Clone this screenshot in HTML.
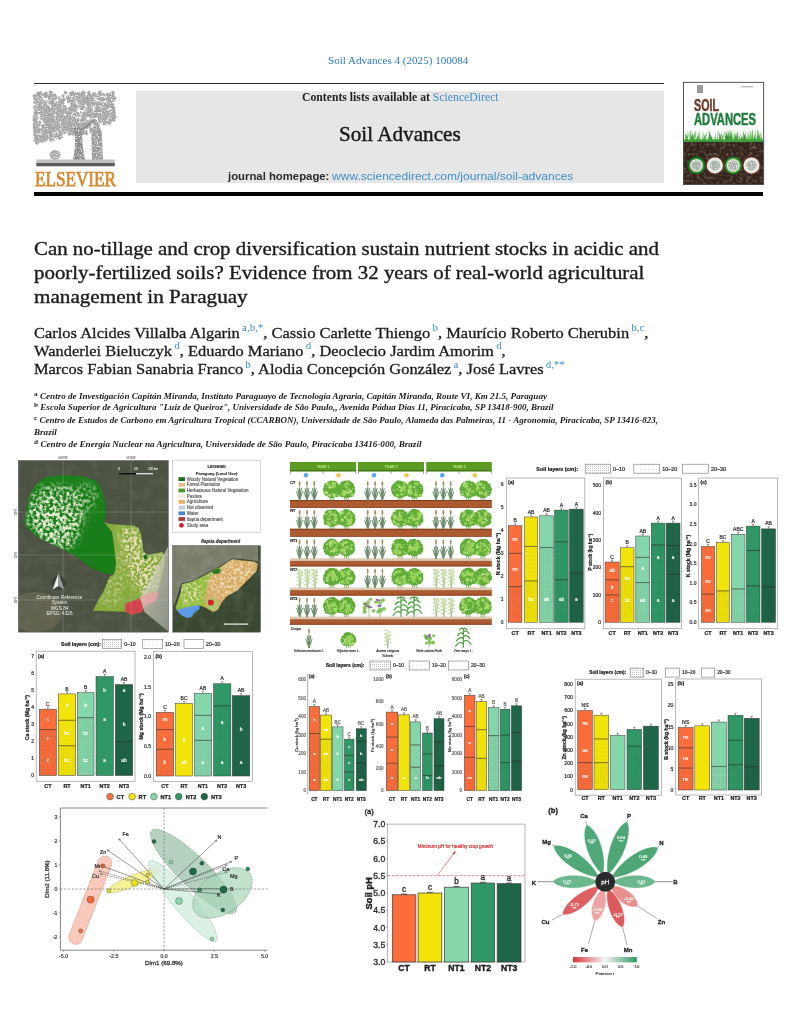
<!DOCTYPE html>
<html><head><meta charset="utf-8"><title>Soil Advances</title><style>
*{margin:0;padding:0;box-sizing:border-box}
html,body{width:791px;height:1024px;background:#fff;overflow:hidden}
body{position:relative;font-family:"Liberation Serif",serif}
.abs{position:absolute;white-space:nowrap;line-height:1}
.sv{font-family:"Liberation Serif",serif}
.ss{font-family:"Liberation Sans",sans-serif}
.ttl{font-size:18.2px;color:#1c1c1c;-webkit-text-stroke:0.35px #1c1c1c}
.au{font-size:14.8px;color:#1c1c1c;-webkit-text-stroke:0.3px #1c1c1c}
.au sup{-webkit-text-stroke:0;font-size:9.8px;color:#3d8fc9;vertical-align:0;position:relative;top:-6.5px;margin-left:2px}
.af{font-size:7.6px;font-style:italic;color:#1a1a1a;font-weight:bold}
.af sup{font-size:6px;font-style:normal;position:relative;top:-3px;vertical-align:0;margin-right:2px}
</style></head>
<body>
<div class="abs sv" id="sa" style="left:327.6px;top:54.5px;font-size:11px;color:#2b7bb5;transform:scaleX(1.0077);transform-origin:0 0;">Soil Advances 4 (2025) 100084</div>
<div class="abs" style="left:34px;top:82.5px;width:630px;height:1.3px;background:#2a2a2a;"></div>
<div class="abs" style="left:136px;top:91px;width:528px;height:92px;background:#e6e6e6;"></div>
<div class="abs sv" id="contents" style="left:301.8px;top:92px;font-size:11.6px;color:#222;transform:scaleX(1.0107);transform-origin:0 0;"><b>Contents lists available at</b> <span style="color:#3d8fc9">ScienceDirect</span></div>
<div class="abs sv" id="jt" style="left:338.7px;top:124px;font-size:21px;color:#1a1a1a;-webkit-text-stroke:0.45px #1a1a1a;transform:scaleX(1.0079);transform-origin:0 0;">Soil Advances</div>
<div class="abs ss" id="jh1" style="left:227.6px;top:171.3px;font-size:11.2px;color:#2a2a2a;font-weight:bold;transform:scaleX(1.0132);transform-origin:0 0;">journal homepage:</div>
<div class="abs ss" id="jh2" style="left:332px;top:171.3px;font-size:11.2px;color:#3d8fc9;transform:scaleX(1.0754);transform-origin:0 0;">www.sciencedirect.com/journal/soil-advances</div>
<div class="abs" style="left:34px;top:192px;width:729px;height:4px;background:#000;"></div>
<div class="abs sv" id="els" style="left:35px;top:168.5px;font-size:20px;color:#d68a30;-webkit-text-stroke:0.75px #d68a30;transform:scaleX(0.8577);transform-origin:0 0;">ELSEVIER</div>
<div class="abs sv ttl" id="t0" style="left:34px;top:239.5px;transform:scaleX(1.1479);transform-origin:0 0;">Can no-tillage and crop diversification sustain nutrient stocks in acidic and</div>
<div class="abs sv ttl" id="t1" style="left:34px;top:263.9px;transform:scaleX(1.1489);transform-origin:0 0;">poorly-fertilized soils? Evidence from 32 years of real-world agricultural</div>
<div class="abs sv ttl" id="t2" style="left:34px;top:288.3px;transform:scaleX(1.1624);transform-origin:0 0;">management in Paraguay</div>
<div class="abs sv au" id="a0" style="left:34px;top:325.5px;transform:scaleX(1.1126);transform-origin:0 0;">Carlos Alcides Villalba Algarin<sup>a,b,*</sup>, Cassio Carlette Thiengo<sup>b</sup>, Maurício Roberto Cherubin<sup>b,c</sup>,</div>
<div class="abs sv au" id="a1" style="left:34px;top:343.8px;transform:scaleX(1.1118);transform-origin:0 0;">Wanderlei Bieluczyk<sup>d</sup>, Eduardo Mariano<sup>d</sup>, Deoclecio Jardim Amorim<sup>d</sup>,</div>
<div class="abs sv au" id="a2" style="left:34px;top:362.1px;transform:scaleX(1.1089);transform-origin:0 0;">Marcos Fabian Sanabria Franco<sup>b</sup>, Alodia Concepción González<sup>a</sup>, José Lavres<sup>d,**</sup></div>
<div class="abs sv af" id="f0" style="left:34px;top:392.7px;transform:scaleX(1.1984);transform-origin:0 0;"><sup>a</sup>Centro de Investigación Capitán Miranda, Instituto Paraguayo de Tecnología Agraria, Capitán Miranda, Route VI, Km 21.5, Paraguay</div>
<div class="abs sv af" id="f1" style="left:34px;top:404.2px;transform:scaleX(1.1882);transform-origin:0 0;"><sup>b</sup>Escola Superior de Agricultura "Luiz de Queiroz", Universidade de São Paulo,, Avenida Pádua Dias 11, Piracicaba, SP 13418-900, Brazil</div>
<div class="abs sv af" id="f2" style="left:34px;top:417.1px;transform:scaleX(1.1859);transform-origin:0 0;"><sup>c</sup>Centro de Estudos de Carbono em Agricultura Tropical (CCARBON), Universidade de São Paulo, Alameda das Palmeiras, 11 - Agronomia, Piracicaba, SP 13416-823,</div>
<div class="abs sv af" id="f3" style="left:34px;top:428.8px;transform:scaleX(1.2000);transform-origin:0 0;">Brazil</div>
<div class="abs sv af" id="f4" style="left:34px;top:440.5px;transform:scaleX(1.2029);transform-origin:0 0;"><sup>d</sup>Centro de Energia Nuclear na Agricultura, Universidade de São Paulo, Piracicaba 13416-000, Brazil</div>
<svg class="abs" style="left:0;top:0" width="791" height="200" viewBox="0 0 791 200"><defs>
<filter id="engr" x="0" y="0" width="1" height="1">
 <feTurbulence type="fractalNoise" baseFrequency="0.9" numOctaves="2" seed="12" result="n"/>
 <feColorMatrix in="n" type="matrix" values="0 0 0 0 0.35  0 0 0 0 0.35  0 0 0 0 0.35  0 0 0 4 -1.7" result="c"/>
 <feComposite in="c" in2="SourceGraphic" operator="in"/>
</filter>
<filter id="engrW" x="0" y="0" width="1" height="1">
 <feTurbulence type="fractalNoise" baseFrequency="0.8" numOctaves="2" seed="21" result="n"/>
 <feColorMatrix in="n" type="matrix" values="0 0 0 0 1  0 0 0 0 1  0 0 0 0 1  0 0 0 4 -2.1" result="c"/>
 <feComposite in="c" in2="SourceGraphic" operator="in"/>
</filter>
<filter id="soiltex" x="0" y="0" width="1" height="1">
 <feTurbulence type="fractalNoise" baseFrequency="0.3" numOctaves="2" seed="3" result="n"/>
 <feColorMatrix in="n" type="matrix" values="0 0 0 0 0.33  0 0 0 0 0.22  0 0 0 0 0.18  0 0 0 1.6 -0.75" result="c"/>
 <feComposite in="c" in2="SourceGraphic" operator="in"/>
</filter>
</defs><g fill="#a9a9a9"><circle cx="46.69" cy="129.63" r="1.76"/><circle cx="72.77" cy="103.1" r="1.95"/><circle cx="100.05" cy="119.7" r="1.61"/><circle cx="63.8" cy="123.78" r="1.08"/><circle cx="98.88" cy="104.01" r="1.28"/><circle cx="84.12" cy="92.91" r="1.39"/><circle cx="74.3" cy="97.49" r="2.14"/><circle cx="63.58" cy="99.67" r="1.98"/><circle cx="70.61" cy="121.91" r="1.41"/><circle cx="73.23" cy="101.47" r="1.04"/><circle cx="104.87" cy="104.15" r="1.94"/><circle cx="96.31" cy="123.52" r="1.88"/><circle cx="43.17" cy="117.67" r="1.99"/><circle cx="106.67" cy="113.94" r="1.44"/><circle cx="70.46" cy="112.6" r="2.19"/><circle cx="65.09" cy="92.5" r="1.11"/><circle cx="74.17" cy="118.53" r="1.66"/><circle cx="95.1" cy="103.43" r="1.73"/><circle cx="79.19" cy="125.87" r="1.22"/><circle cx="47.12" cy="110.5" r="2.11"/><circle cx="61.77" cy="124.45" r="1.37"/><circle cx="41.57" cy="94.68" r="1.98"/><circle cx="97.49" cy="111.99" r="1.82"/><circle cx="112.54" cy="113.79" r="2.19"/><circle cx="106.3" cy="118.49" r="1.45"/><circle cx="53.52" cy="140.06" r="1.19"/><circle cx="38.75" cy="136.1" r="1.93"/><circle cx="37.33" cy="105.45" r="1.35"/><circle cx="67.82" cy="100.56" r="1.08"/><circle cx="72.75" cy="105.12" r="2.15"/><circle cx="76.63" cy="131.8" r="1.03"/><circle cx="50.6" cy="137.94" r="1.95"/><circle cx="68.36" cy="123.54" r="2.02"/><circle cx="58.56" cy="120.92" r="1.33"/><circle cx="34.95" cy="124.25" r="1.77"/><circle cx="103.69" cy="123.72" r="1.31"/><circle cx="108.17" cy="98.48" r="1.11"/><circle cx="40.8" cy="92.42" r="1.54"/><circle cx="44.69" cy="139.57" r="1.79"/><circle cx="43.5" cy="121.16" r="1.39"/><circle cx="73.99" cy="103.3" r="1.2"/><circle cx="48.27" cy="112.16" r="1.85"/><circle cx="78.65" cy="93.59" r="1.85"/><circle cx="71.5" cy="94.56" r="1.92"/><circle cx="47.55" cy="130.84" r="1.3"/><circle cx="90.83" cy="108.56" r="1.05"/><circle cx="65.28" cy="108.33" r="2.08"/><circle cx="57.49" cy="119.17" r="1.66"/><circle cx="111.7" cy="96.52" r="1.72"/><circle cx="75.18" cy="132.14" r="2.16"/><circle cx="58.74" cy="130.17" r="1.63"/><circle cx="79.54" cy="94.57" r="1.98"/><circle cx="114.08" cy="110.89" r="1.38"/><circle cx="39.32" cy="95.11" r="1.98"/><circle cx="96.07" cy="116.09" r="1.75"/><circle cx="34.64" cy="127.1" r="1.53"/><circle cx="75.95" cy="112.81" r="1.48"/><circle cx="51.72" cy="93.73" r="1.52"/><circle cx="53.51" cy="130.43" r="1.98"/><circle cx="93.07" cy="116.54" r="1.28"/><circle cx="64.99" cy="118.26" r="1.76"/><circle cx="112.94" cy="95.78" r="1.58"/><circle cx="73.83" cy="131.16" r="2.07"/><circle cx="97.7" cy="126.1" r="1.91"/><circle cx="91.02" cy="129.25" r="1.29"/><circle cx="109.08" cy="112.61" r="1.74"/><circle cx="58.95" cy="108.46" r="1.47"/><circle cx="45.07" cy="121.98" r="1.1"/><circle cx="94.62" cy="116.89" r="1.13"/><circle cx="50.08" cy="109.78" r="1.77"/><circle cx="89.58" cy="105.61" r="2.14"/><circle cx="59.74" cy="105.24" r="2.01"/><circle cx="45.73" cy="129.15" r="1.24"/><circle cx="82.63" cy="106.54" r="1.45"/><circle cx="111.08" cy="117.15" r="1.52"/><circle cx="84.22" cy="106.72" r="1.21"/><circle cx="64.92" cy="106.25" r="1.23"/><circle cx="112.75" cy="92.93" r="1.97"/><circle cx="34.58" cy="119.07" r="1.05"/><circle cx="83.45" cy="130.22" r="1.29"/><circle cx="40.85" cy="108.3" r="1.54"/><circle cx="107.24" cy="111.72" r="1.16"/><circle cx="76.94" cy="93.75" r="1.23"/><circle cx="66.45" cy="121.91" r="1.27"/><circle cx="34.46" cy="123.6" r="1.1"/><circle cx="96.02" cy="101.54" r="1.07"/><circle cx="84.48" cy="117.38" r="1.96"/><circle cx="61.05" cy="106.1" r="1.42"/><circle cx="57.73" cy="126.12" r="2.07"/><circle cx="38.89" cy="94.79" r="1.61"/><circle cx="89.27" cy="101.63" r="1.32"/><circle cx="37.88" cy="93.08" r="1.59"/><circle cx="89.5" cy="127.58" r="1.19"/><circle cx="77.7" cy="113.87" r="1.83"/><circle cx="93.41" cy="120.38" r="1.09"/><circle cx="101.66" cy="102.97" r="1.05"/><circle cx="62.24" cy="120.82" r="1.75"/><circle cx="47.45" cy="130.74" r="1.59"/><circle cx="46.45" cy="138.65" r="1.97"/><circle cx="51.04" cy="134.55" r="2.08"/><circle cx="113.52" cy="112.85" r="2.13"/><circle cx="83.93" cy="125" r="1.91"/><circle cx="86.69" cy="100.04" r="2.12"/><circle cx="63.08" cy="95.64" r="1.49"/><circle cx="47.8" cy="121.23" r="1.98"/><circle cx="63.06" cy="98.34" r="1.03"/><circle cx="68.1" cy="123.5" r="1.03"/><circle cx="88.23" cy="102.81" r="1.13"/><circle cx="110" cy="120.29" r="2.07"/><circle cx="75.66" cy="97.88" r="1.29"/><circle cx="68.21" cy="126.89" r="1.93"/><circle cx="95.36" cy="127.44" r="1.3"/><circle cx="68.7" cy="112.17" r="1.59"/><circle cx="55.04" cy="121.12" r="1.55"/><circle cx="35.95" cy="137.08" r="1.7"/><circle cx="99.63" cy="132.25" r="1.88"/><circle cx="88.14" cy="123.56" r="1.69"/><circle cx="51.86" cy="132.11" r="1.97"/><circle cx="73.08" cy="94.08" r="1.44"/><circle cx="101.59" cy="118.99" r="1.55"/><circle cx="65.32" cy="126.19" r="1.72"/><circle cx="95.36" cy="112" r="1.3"/><circle cx="110.04" cy="102.13" r="2.02"/><circle cx="106.92" cy="95.32" r="1.37"/><circle cx="85.59" cy="99.18" r="2"/><circle cx="54.98" cy="129.21" r="1.35"/><circle cx="51.11" cy="102.59" r="1.6"/><circle cx="92.18" cy="103.2" r="1.82"/><circle cx="60.81" cy="127.36" r="1.44"/><circle cx="49.04" cy="98.9" r="1.07"/><circle cx="90.8" cy="114.17" r="1.15"/><circle cx="34.76" cy="131.59" r="1.71"/><circle cx="69.83" cy="119.04" r="2.15"/><circle cx="64.03" cy="126.63" r="1.76"/><circle cx="63.36" cy="110.4" r="1.91"/><circle cx="85.77" cy="116.59" r="1.62"/><circle cx="51.55" cy="135.21" r="1.02"/><circle cx="86.38" cy="116.48" r="1.27"/><circle cx="81.7" cy="123.65" r="1.1"/><circle cx="73.68" cy="100.24" r="1.96"/><circle cx="60.14" cy="109.39" r="1.26"/><circle cx="36.99" cy="101.45" r="1.18"/><circle cx="51.34" cy="97.26" r="1.64"/><circle cx="42.6" cy="113.69" r="1.91"/><circle cx="49.86" cy="130.18" r="1.65"/><circle cx="40.05" cy="104.58" r="1.72"/><circle cx="40.99" cy="102.41" r="1.69"/><circle cx="100.9" cy="120.14" r="1.8"/><circle cx="35.85" cy="118.91" r="2.07"/><circle cx="97.02" cy="123.46" r="1.22"/><circle cx="109.88" cy="95.47" r="2.16"/><circle cx="97.43" cy="131.3" r="1.64"/><circle cx="46.61" cy="110.09" r="1.8"/><circle cx="87.45" cy="112.8" r="1.96"/><circle cx="37.43" cy="107.09" r="1.11"/><circle cx="59.96" cy="135.4" r="1.9"/><circle cx="45.4" cy="108.27" r="1.13"/><circle cx="87.94" cy="115.78" r="1.28"/><circle cx="68.29" cy="129.69" r="1.75"/><circle cx="72.31" cy="122.16" r="1.44"/><circle cx="49.46" cy="118.69" r="1.37"/><circle cx="60.4" cy="101.45" r="2.1"/><circle cx="68.32" cy="102.21" r="1.04"/><circle cx="50.78" cy="139.63" r="1.4"/><circle cx="88.37" cy="103.91" r="1.78"/><circle cx="70.37" cy="132.24" r="1.63"/><circle cx="64.16" cy="106.69" r="1.71"/><circle cx="72.85" cy="109.4" r="2.07"/><circle cx="103.24" cy="99.16" r="1.82"/><circle cx="97.08" cy="128.84" r="2.16"/><circle cx="105.96" cy="104.78" r="2.2"/><circle cx="60.19" cy="112.27" r="2.17"/><circle cx="46.88" cy="113.14" r="1.75"/><circle cx="55.65" cy="105.95" r="1.95"/><circle cx="83.84" cy="132.66" r="1.95"/><circle cx="74.44" cy="130.29" r="1.62"/><circle cx="68.74" cy="128.19" r="1.35"/><circle cx="43.75" cy="112.63" r="1.16"/><circle cx="70.71" cy="133.75" r="1.06"/><circle cx="85.85" cy="97.23" r="1.61"/><circle cx="57.55" cy="115.97" r="1.85"/><circle cx="67.31" cy="112.94" r="1.87"/><circle cx="42.62" cy="110.54" r="1.84"/><circle cx="54.34" cy="126.01" r="1.38"/><circle cx="44.21" cy="110.32" r="2.12"/><circle cx="62.25" cy="126.4" r="1.98"/><circle cx="56.13" cy="134.87" r="1"/><circle cx="61.26" cy="100.35" r="1.42"/><circle cx="50.69" cy="92.42" r="1.96"/><circle cx="47.4" cy="123.1" r="1.67"/><circle cx="84.6" cy="100.46" r="1.91"/><circle cx="58.59" cy="105.15" r="1.26"/><circle cx="93.53" cy="104.67" r="1.39"/><circle cx="58.25" cy="115.27" r="2.05"/><circle cx="71.26" cy="129.8" r="1.94"/><circle cx="48.51" cy="125.49" r="2.18"/><circle cx="40.03" cy="131.02" r="1.58"/><circle cx="108.46" cy="100.35" r="1.66"/><circle cx="43.01" cy="136.05" r="1.87"/><circle cx="35.59" cy="108.34" r="1.17"/><circle cx="85.74" cy="126.28" r="1.08"/><circle cx="69.58" cy="123.15" r="1.44"/><circle cx="83.31" cy="113.31" r="1.53"/><circle cx="95.23" cy="101.44" r="1.36"/><circle cx="96.38" cy="103.6" r="1.08"/><circle cx="108.66" cy="99.93" r="1.49"/><circle cx="59.02" cy="105.65" r="1.42"/><circle cx="77.6" cy="97.5" r="1.64"/><circle cx="37.24" cy="95.42" r="1.24"/><circle cx="52.94" cy="110.13" r="1.35"/><circle cx="89.93" cy="108.66" r="1.74"/><circle cx="94.87" cy="120.92" r="1.9"/><circle cx="54.92" cy="128.61" r="2.17"/><circle cx="40.86" cy="131.52" r="1.32"/><circle cx="95.27" cy="114.71" r="1.64"/><circle cx="53.63" cy="105.39" r="2.04"/><circle cx="86.4" cy="126.21" r="1.14"/><circle cx="49.87" cy="121.12" r="1.84"/><circle cx="75.37" cy="122.04" r="2.16"/><circle cx="97.86" cy="104.27" r="1.52"/><circle cx="67.83" cy="129.29" r="1.81"/><circle cx="54.66" cy="129.77" r="1.52"/><circle cx="34.27" cy="107.34" r="1.45"/><circle cx="49.34" cy="128.56" r="2.19"/><circle cx="104.15" cy="118.53" r="1.7"/><circle cx="107.18" cy="94.34" r="1.43"/><circle cx="64.05" cy="110.1" r="1.51"/><circle cx="37.74" cy="129.03" r="2.15"/><circle cx="52.44" cy="101.4" r="1.4"/><circle cx="99.11" cy="103.68" r="1.93"/><circle cx="47.33" cy="124.32" r="1.87"/><circle cx="88.93" cy="95.73" r="2.15"/><circle cx="103.38" cy="117.94" r="2.03"/><circle cx="82.88" cy="100.44" r="1.48"/><circle cx="101.12" cy="116.97" r="1.05"/><circle cx="46.76" cy="101.43" r="1.7"/><circle cx="86.44" cy="116.08" r="1.48"/><circle cx="112.91" cy="110.2" r="1.81"/><circle cx="49.98" cy="119.79" r="1.22"/><circle cx="42.41" cy="109.86" r="1.14"/><circle cx="64.64" cy="127.56" r="1.66"/><circle cx="99.04" cy="117.73" r="1.1"/><circle cx="93.37" cy="113.51" r="1.9"/><circle cx="113.96" cy="120.36" r="1.3"/><circle cx="62.7" cy="118.92" r="1.38"/><circle cx="41.42" cy="113.31" r="1.79"/><circle cx="67.15" cy="127.08" r="1.06"/><circle cx="98.9" cy="130.65" r="1.32"/><circle cx="72.2" cy="106.22" r="1.95"/><circle cx="64.55" cy="110.18" r="2.13"/><circle cx="108.07" cy="101.62" r="1.43"/><circle cx="98.42" cy="133.36" r="1.34"/><circle cx="40.49" cy="106.35" r="1.8"/><circle cx="113.7" cy="109.45" r="1.27"/><circle cx="54.54" cy="134.82" r="1.17"/><circle cx="49.69" cy="126.21" r="1.64"/><circle cx="113.2" cy="119.75" r="1.59"/><circle cx="45.05" cy="136.01" r="1.48"/><circle cx="73.94" cy="114.3" r="1.27"/><circle cx="55.93" cy="102.54" r="1.2"/><circle cx="93.6" cy="93.88" r="1.72"/><circle cx="82.62" cy="132.19" r="1.68"/><circle cx="109.96" cy="106.75" r="1.11"/><circle cx="81.35" cy="106.08" r="2.19"/><circle cx="102.19" cy="104.69" r="1.58"/><circle cx="64.78" cy="110.33" r="1.45"/><circle cx="72.65" cy="127.62" r="1.03"/><circle cx="77.76" cy="98.16" r="2.16"/><circle cx="78.8" cy="123.99" r="1.38"/><circle cx="91.58" cy="130.76" r="2.09"/><circle cx="81.2" cy="106.11" r="1.75"/><circle cx="37.18" cy="132.67" r="1.37"/><circle cx="92.71" cy="98.39" r="1.72"/><circle cx="47.03" cy="93.05" r="1.32"/><circle cx="103.42" cy="112.76" r="1.63"/><circle cx="54.51" cy="129.87" r="1.94"/><circle cx="98.89" cy="110.42" r="1.57"/><circle cx="98.07" cy="105.05" r="1.58"/><circle cx="53.23" cy="128.26" r="1.26"/><circle cx="46.02" cy="117.71" r="1.78"/><circle cx="46.64" cy="120.7" r="1.58"/><circle cx="44.94" cy="105.59" r="1.05"/><circle cx="86.42" cy="127.83" r="1.27"/><circle cx="103.83" cy="108.57" r="2.04"/><circle cx="43.81" cy="110.48" r="1.5"/><circle cx="112.27" cy="107.73" r="1.46"/><circle cx="50.2" cy="136.89" r="1.22"/><circle cx="103.36" cy="110.09" r="1.66"/><circle cx="105.76" cy="105.93" r="1.63"/><circle cx="85.78" cy="123.35" r="1.49"/><circle cx="86.61" cy="108.62" r="1.19"/><circle cx="46.01" cy="128.68" r="1.54"/><circle cx="76.08" cy="115.4" r="1.77"/><circle cx="45.27" cy="139.88" r="1.62"/><circle cx="36.52" cy="117.96" r="2.13"/><circle cx="114.24" cy="114.87" r="1.32"/><circle cx="110.72" cy="106.93" r="1.02"/><circle cx="53.51" cy="117.36" r="1.81"/><circle cx="38.55" cy="109.72" r="1.87"/><circle cx="61.58" cy="100.84" r="1.85"/><circle cx="69.23" cy="129.92" r="1.58"/><circle cx="100.43" cy="119.68" r="2.17"/><circle cx="73.7" cy="125.14" r="1.45"/><circle cx="39.34" cy="140.54" r="1.97"/><circle cx="39.7" cy="112.19" r="1.69"/><circle cx="100.93" cy="120.16" r="1.95"/><circle cx="64.02" cy="128.91" r="1.96"/><circle cx="82.82" cy="92.17" r="1.79"/><circle cx="42.52" cy="133.75" r="1.2"/><circle cx="92.69" cy="95.05" r="1.25"/><circle cx="38.94" cy="125.4" r="1.48"/><circle cx="84.62" cy="95.33" r="1.02"/><circle cx="39.53" cy="140.9" r="1.59"/><circle cx="83.84" cy="98.47" r="1.82"/><circle cx="107.79" cy="102.08" r="1.94"/><circle cx="79.96" cy="127.12" r="1.41"/><circle cx="97.81" cy="108.39" r="1.75"/><circle cx="98.34" cy="96.37" r="1.21"/><circle cx="62.65" cy="113.19" r="1.86"/><circle cx="54.55" cy="122.3" r="1.54"/><circle cx="58.33" cy="126.97" r="1.52"/><circle cx="114.31" cy="98.24" r="2.08"/><circle cx="85.88" cy="116.7" r="1.09"/><circle cx="62.04" cy="130.9" r="1.64"/><circle cx="40.49" cy="139.12" r="1.37"/><circle cx="72.86" cy="133.64" r="2.05"/><circle cx="103.87" cy="111.58" r="2.02"/><circle cx="45.68" cy="121.89" r="1.52"/><circle cx="61.86" cy="115.87" r="1.12"/><circle cx="62.11" cy="102.17" r="1.88"/><circle cx="82.82" cy="115.99" r="1.14"/><circle cx="70.07" cy="122.57" r="1.17"/><circle cx="114.06" cy="111.21" r="1.52"/><circle cx="56.67" cy="111.89" r="1.33"/><circle cx="103.89" cy="95.01" r="1.44"/><circle cx="82.6" cy="117.85" r="1.39"/><circle cx="73.18" cy="94.5" r="1.37"/><circle cx="69.12" cy="133.93" r="1.52"/><circle cx="67.47" cy="127.63" r="1.33"/><circle cx="78.67" cy="101.91" r="1.74"/><circle cx="77.74" cy="127.63" r="2.05"/><circle cx="69.92" cy="111.53" r="1.55"/><circle cx="99.82" cy="107.87" r="1.14"/><circle cx="49.91" cy="128.64" r="1.84"/><circle cx="36.46" cy="117.06" r="1.12"/><circle cx="100.64" cy="120.65" r="1.73"/><circle cx="109.95" cy="97.99" r="1.26"/><circle cx="98.31" cy="125.01" r="1.53"/><circle cx="62.56" cy="125.69" r="2.13"/><circle cx="114.21" cy="98.37" r="1.03"/><circle cx="101.82" cy="104.84" r="1.63"/><circle cx="69.74" cy="98.54" r="1.25"/><circle cx="63.86" cy="131.73" r="1.68"/><circle cx="104.22" cy="118.41" r="1.04"/><circle cx="70.07" cy="111.11" r="1.43"/><circle cx="51.97" cy="119.04" r="2.15"/><circle cx="82.03" cy="133.99" r="1.22"/><circle cx="63.67" cy="123.49" r="1.46"/><circle cx="43.71" cy="127.9" r="2.18"/><circle cx="57.03" cy="106.1" r="1.4"/><circle cx="45.01" cy="104.72" r="2.08"/><circle cx="55.98" cy="128.36" r="1.87"/><circle cx="90.66" cy="117.16" r="1.12"/><circle cx="76.74" cy="97.15" r="1.39"/><circle cx="35.92" cy="119.84" r="1.56"/><circle cx="56.61" cy="103.39" r="1.08"/><circle cx="35.31" cy="98.1" r="2.18"/><circle cx="35.75" cy="131.12" r="1.55"/><circle cx="81.77" cy="108.07" r="2.18"/><circle cx="100.04" cy="113.66" r="1.52"/><circle cx="109.19" cy="99.75" r="2.05"/><circle cx="84.39" cy="122.75" r="1.64"/><circle cx="82.04" cy="96.08" r="1.3"/><circle cx="62.35" cy="103.4" r="1.1"/><circle cx="92.16" cy="114.59" r="1.89"/><circle cx="53.27" cy="119.69" r="1.51"/><circle cx="98.66" cy="98.33" r="1.66"/><circle cx="70.66" cy="125.97" r="1.28"/><circle cx="113.24" cy="116.09" r="1.1"/><circle cx="97.73" cy="97.47" r="1.72"/><circle cx="45.31" cy="96.58" r="1.63"/><circle cx="57.74" cy="127.91" r="1.63"/><circle cx="83.4" cy="116.69" r="1.26"/><circle cx="88.32" cy="109.97" r="1.72"/><circle cx="61.48" cy="136.56" r="1.66"/><circle cx="95.63" cy="102.37" r="1.4"/><circle cx="40.09" cy="109.77" r="1.19"/><circle cx="57.88" cy="135.46" r="1.14"/><circle cx="97.02" cy="104.34" r="1.35"/><circle cx="70.97" cy="125.65" r="2.11"/><circle cx="34.69" cy="95.82" r="1.99"/><circle cx="34.87" cy="141.05" r="1.22"/><circle cx="114.03" cy="117.37" r="1.73"/><circle cx="67.42" cy="116.77" r="1.95"/><circle cx="54.27" cy="108.06" r="2.05"/><circle cx="61.54" cy="110.2" r="1.13"/><circle cx="102.1" cy="93.72" r="1.22"/><circle cx="35" cy="116.61" r="2.19"/><circle cx="38.85" cy="105.12" r="1.32"/><circle cx="91.21" cy="110.96" r="1.21"/><circle cx="46.7" cy="94.54" r="1.49"/><circle cx="110.57" cy="94.33" r="1.17"/><circle cx="86.58" cy="133.64" r="1.54"/><circle cx="36.74" cy="121.85" r="1.12"/><circle cx="39.13" cy="94.18" r="2.12"/><circle cx="41.53" cy="117.61" r="1.99"/><circle cx="49.66" cy="112.84" r="1.95"/><circle cx="79.86" cy="101.88" r="1.64"/><circle cx="112.89" cy="92.32" r="1.07"/><circle cx="112.87" cy="107.36" r="1.66"/><circle cx="105.82" cy="114.82" r="1.92"/><circle cx="45.83" cy="115.92" r="1.87"/><circle cx="71.85" cy="101.38" r="2.03"/><circle cx="59.11" cy="137.34" r="1.15"/><circle cx="85.09" cy="114.19" r="2.18"/><circle cx="51.47" cy="96" r="1.74"/><circle cx="44.12" cy="94.39" r="1.67"/><circle cx="111.38" cy="106.17" r="1.99"/><circle cx="39.75" cy="98.51" r="2.15"/><circle cx="113.11" cy="100.6" r="1.22"/><circle cx="92.12" cy="96.43" r="1.12"/><circle cx="46.28" cy="123.38" r="1.45"/><circle cx="102.93" cy="99.56" r="2.08"/><circle cx="98.35" cy="111.98" r="1.73"/><circle cx="89.17" cy="97.83" r="2.12"/><circle cx="69.55" cy="119.83" r="2.02"/><circle cx="34.74" cy="105.96" r="1.04"/><circle cx="94.13" cy="103.24" r="1.86"/><circle cx="47.96" cy="114.18" r="1.95"/><circle cx="69.88" cy="100.85" r="1.81"/><circle cx="98.94" cy="116.05" r="1.46"/><circle cx="43.97" cy="113.73" r="2.01"/><circle cx="62.69" cy="117.66" r="1.93"/><circle cx="68.04" cy="116.28" r="1.16"/><circle cx="48.82" cy="108.66" r="1.08"/><circle cx="70.67" cy="117.93" r="2.19"/><circle cx="49.63" cy="115.52" r="1.84"/><circle cx="39.15" cy="122.98" r="1.75"/><circle cx="35.24" cy="102.38" r="1.94"/><circle cx="46.43" cy="126.71" r="1.51"/><circle cx="101.12" cy="122.05" r="1.12"/><circle cx="54.91" cy="124.06" r="1.24"/><circle cx="93.78" cy="129.52" r="2.07"/><circle cx="82.27" cy="97.18" r="1.96"/><circle cx="76.12" cy="109.16" r="1.53"/><circle cx="79.6" cy="130.12" r="1.76"/><circle cx="104.53" cy="121.01" r="1.25"/><circle cx="46.12" cy="116.81" r="2.02"/><circle cx="80.89" cy="97.84" r="2.04"/><circle cx="93.68" cy="102.04" r="1.83"/><circle cx="104.68" cy="123.23" r="2.14"/><circle cx="72.32" cy="94.38" r="1.2"/><circle cx="37.09" cy="142.83" r="1.97"/><circle cx="70.64" cy="122.57" r="1.03"/><circle cx="46.3" cy="113.41" r="1.06"/><circle cx="59.48" cy="120.06" r="1.19"/><circle cx="47.75" cy="95.79" r="1.55"/><circle cx="102.48" cy="116.05" r="1.85"/><circle cx="99.06" cy="119.03" r="1.06"/><circle cx="47" cy="106.58" r="1.4"/><circle cx="82.71" cy="118.88" r="1.35"/><circle cx="46.91" cy="132.35" r="2.19"/><circle cx="91.24" cy="98.88" r="1.83"/><circle cx="99.36" cy="121.12" r="1.76"/><circle cx="104.55" cy="117.81" r="1.85"/><circle cx="47.04" cy="137.83" r="1.69"/><circle cx="48.86" cy="125.98" r="1.99"/><circle cx="69.98" cy="108.48" r="1.85"/><circle cx="58.71" cy="118.21" r="1.45"/><circle cx="44.8" cy="121.58" r="1.35"/><circle cx="49.84" cy="101.37" r="1.08"/><circle cx="91.59" cy="107.02" r="1.26"/><circle cx="110.35" cy="120.52" r="1.26"/><circle cx="96.48" cy="103.2" r="1.08"/><circle cx="64.04" cy="132.37" r="1.76"/><circle cx="67.06" cy="98.04" r="1.21"/><circle cx="82.85" cy="118.68" r="1.65"/><circle cx="94.64" cy="123.1" r="2.04"/><circle cx="109.34" cy="120.07" r="1.43"/><circle cx="74.84" cy="104.98" r="1.21"/><circle cx="92.78" cy="115.72" r="1.03"/><circle cx="65.6" cy="109" r="1.07"/><circle cx="34.87" cy="125.37" r="1.97"/><circle cx="51.73" cy="126.73" r="1.32"/><circle cx="52.15" cy="109.41" r="1.16"/><circle cx="90.42" cy="132.56" r="1.13"/><circle cx="89.46" cy="102.21" r="1.61"/><circle cx="81.48" cy="120.41" r="1.78"/><circle cx="40.17" cy="111.76" r="1.86"/><circle cx="82.13" cy="108.71" r="1.01"/><circle cx="36.66" cy="140.96" r="1.33"/><circle cx="38.9" cy="107.33" r="1.25"/><circle cx="78.11" cy="93.75" r="1.65"/><circle cx="86.68" cy="121.02" r="1.72"/><circle cx="53.05" cy="112.91" r="1.9"/><circle cx="56.68" cy="137.26" r="1.23"/><circle cx="88.07" cy="106.45" r="1.44"/><circle cx="56.4" cy="133.08" r="1.44"/><circle cx="101.95" cy="120.7" r="1.34"/><circle cx="90.06" cy="115.4" r="1.06"/><circle cx="70.35" cy="101.44" r="1.09"/><circle cx="88.53" cy="115.29" r="1.7"/><circle cx="65.13" cy="122.55" r="1.31"/><circle cx="69.88" cy="122.14" r="1.45"/><circle cx="109.83" cy="97" r="2.09"/><circle cx="51.13" cy="97.22" r="1.5"/><circle cx="86.69" cy="97.45" r="1.77"/><circle cx="101.69" cy="99.87" r="1.4"/><circle cx="53.5" cy="111.73" r="2.06"/><circle cx="79.63" cy="125.06" r="2.17"/><circle cx="70.32" cy="97.6" r="1.12"/><circle cx="45.07" cy="117.66" r="1.11"/><circle cx="90.48" cy="101.84" r="1.05"/><circle cx="92.77" cy="116.92" r="1.91"/><circle cx="80.91" cy="112.37" r="1.08"/><circle cx="54.7" cy="95.6" r="1.76"/><circle cx="43.49" cy="101.32" r="1.56"/><circle cx="42.25" cy="118.11" r="1.98"/><circle cx="54.64" cy="136.79" r="1.31"/><circle cx="100.74" cy="95.27" r="1.14"/><circle cx="36.83" cy="123.47" r="1.03"/><circle cx="90.61" cy="114.4" r="2.09"/><circle cx="95.43" cy="111.97" r="1.93"/><circle cx="82.78" cy="124.21" r="1.51"/><circle cx="45.78" cy="120.27" r="1.62"/><circle cx="79.35" cy="96.52" r="1.68"/><circle cx="48.59" cy="118.76" r="1.58"/><circle cx="38.95" cy="140.1" r="2.12"/><circle cx="45.56" cy="95.55" r="1.56"/><circle cx="35.64" cy="97.99" r="1.61"/><circle cx="50.36" cy="124.62" r="1.25"/><circle cx="88.29" cy="125.95" r="1.09"/><circle cx="90.12" cy="108.87" r="1.5"/><circle cx="71.16" cy="93.74" r="1.76"/><circle cx="43.8" cy="138.92" r="1.12"/><circle cx="84.68" cy="122" r="1.04"/><circle cx="42.46" cy="118.77" r="1.47"/><circle cx="45.87" cy="96.67" r="1.28"/><circle cx="100.55" cy="98.67" r="1.91"/><circle cx="42.47" cy="136.74" r="1.93"/><circle cx="106.19" cy="112.86" r="2.17"/><circle cx="67.38" cy="126.33" r="1.99"/><circle cx="45.57" cy="93.55" r="1.83"/><circle cx="51.84" cy="103.28" r="1.59"/><circle cx="47.28" cy="106.15" r="1.24"/><circle cx="40.58" cy="136.67" r="2.01"/><circle cx="93.75" cy="115.62" r="2.11"/><circle cx="78.07" cy="122.05" r="1.03"/><circle cx="62.5" cy="103.14" r="1.79"/><circle cx="59.51" cy="137.61" r="1.1"/><circle cx="99.86" cy="93.41" r="2.16"/><circle cx="73.03" cy="127.83" r="1.48"/><circle cx="95.31" cy="121.12" r="1.55"/><circle cx="56.11" cy="105.43" r="2.19"/><circle cx="60.99" cy="111.6" r="1.66"/><circle cx="57.04" cy="116.54" r="1.33"/><circle cx="110.47" cy="105.97" r="1.93"/><circle cx="90.49" cy="126.04" r="1.59"/><circle cx="109.4" cy="122.56" r="2.13"/><circle cx="41.76" cy="111.06" r="1.16"/><circle cx="92.79" cy="116.7" r="1.38"/><circle cx="60.98" cy="118.12" r="1.37"/><circle cx="73.94" cy="125.87" r="1.02"/><circle cx="51.24" cy="120.38" r="1.79"/><circle cx="82.19" cy="132.04" r="1.52"/><circle cx="74.9" cy="122.95" r="1.97"/><circle cx="56.31" cy="106.82" r="1.6"/><circle cx="74.99" cy="93.9" r="1.6"/><circle cx="77.81" cy="130.22" r="1.45"/><circle cx="38.95" cy="137.07" r="1.65"/><circle cx="83.69" cy="125.33" r="2.17"/><circle cx="58.07" cy="122.94" r="1.88"/><circle cx="36.41" cy="135.61" r="1.05"/><circle cx="59.35" cy="110.75" r="1.96"/><circle cx="106.78" cy="122.05" r="1.67"/><circle cx="88.2" cy="92.48" r="1.45"/><circle cx="70.51" cy="93.72" r="1.37"/><circle cx="56.23" cy="98.2" r="1.23"/><circle cx="63.77" cy="128.04" r="2.02"/><circle cx="59.48" cy="135.05" r="1.86"/><circle cx="41.54" cy="102.19" r="2.05"/><circle cx="44.68" cy="126.09" r="1.7"/><circle cx="100.81" cy="98.64" r="1.87"/><circle cx="112.52" cy="95.62" r="1.56"/><circle cx="113.33" cy="107.95" r="1.41"/><circle cx="57.48" cy="111.98" r="1.52"/><circle cx="74.96" cy="105.4" r="1.6"/><circle cx="110.17" cy="110.54" r="1.3"/><circle cx="114.63" cy="108.03" r="1"/><circle cx="94.24" cy="127.99" r="1.47"/><circle cx="80.36" cy="125.32" r="1.5"/><circle cx="48.22" cy="107.47" r="1.87"/><circle cx="74.04" cy="120.21" r="1.79"/><circle cx="110.74" cy="97.65" r="1.11"/><circle cx="96.85" cy="103.15" r="1.68"/><circle cx="75.1" cy="128.52" r="1.77"/><circle cx="66.14" cy="124.86" r="2.12"/><circle cx="102.74" cy="116.56" r="1.88"/><circle cx="77.93" cy="119.68" r="1.73"/><circle cx="95.83" cy="111.86" r="1.76"/><circle cx="54.12" cy="95.42" r="1.09"/><circle cx="47.83" cy="113.73" r="1.16"/><circle cx="97.83" cy="129.42" r="1.46"/><circle cx="47.88" cy="114.27" r="2.05"/><circle cx="75.17" cy="110.06" r="2.08"/><circle cx="88.67" cy="94.16" r="1.08"/><circle cx="69.34" cy="120.71" r="1.16"/><circle cx="83.19" cy="113.9" r="1.43"/><circle cx="50.56" cy="124.12" r="2"/><circle cx="77.22" cy="124.94" r="1.67"/><circle cx="91.9" cy="130.03" r="1.01"/><circle cx="113.17" cy="118.56" r="1.06"/><circle cx="93.05" cy="133.58" r="1.44"/><circle cx="82.8" cy="93.22" r="1.89"/><circle cx="40.39" cy="109.12" r="1.27"/><circle cx="52.14" cy="96.11" r="1.78"/><circle cx="62.35" cy="118.96" r="1.63"/><circle cx="82.91" cy="131.81" r="1.52"/><circle cx="34.62" cy="108.71" r="1.01"/><circle cx="80.52" cy="129.71" r="1.68"/><circle cx="113.71" cy="100.36" r="1.69"/><circle cx="60.62" cy="116.66" r="1.26"/><circle cx="97.88" cy="109.65" r="1.32"/><circle cx="88.32" cy="102.27" r="1.16"/><circle cx="95.37" cy="95.72" r="1.95"/><circle cx="69.31" cy="120.78" r="1.03"/><circle cx="34.13" cy="120" r="1.77"/><circle cx="38.67" cy="139.99" r="2.12"/><circle cx="40.33" cy="137.4" r="1.74"/><circle cx="69.06" cy="115.47" r="1.66"/><circle cx="72.24" cy="116.71" r="1.21"/><circle cx="85.63" cy="124.52" r="1.54"/><circle cx="75.96" cy="128.06" r="1.97"/><circle cx="54.31" cy="126.22" r="1.34"/><circle cx="96.43" cy="108.09" r="2.15"/><circle cx="90.48" cy="120.57" r="1.68"/><circle cx="81.44" cy="105.97" r="1.03"/><circle cx="70.55" cy="107.47" r="1.56"/><circle cx="50.48" cy="102.57" r="2.18"/><circle cx="64.38" cy="132.92" r="1.17"/><circle cx="40.26" cy="129.7" r="1.52"/><circle cx="99.43" cy="92.2" r="1.59"/><circle cx="82.59" cy="103.41" r="1.86"/><circle cx="49.28" cy="97.07" r="1.19"/><circle cx="36.85" cy="113.61" r="1.94"/><circle cx="47.43" cy="106.88" r="1.4"/><circle cx="51.34" cy="139.7" r="2"/><circle cx="42.94" cy="127.93" r="2.09"/><circle cx="34.02" cy="113.51" r="1.03"/><circle cx="59.27" cy="97.89" r="1.55"/><circle cx="49.97" cy="132.12" r="1.46"/><circle cx="39.91" cy="121.98" r="1.55"/><circle cx="94.42" cy="132.69" r="1.3"/><circle cx="64.89" cy="131.35" r="2.16"/><circle cx="78.83" cy="125.18" r="1.4"/><circle cx="69.1" cy="108.75" r="1.6"/><circle cx="56.73" cy="109.03" r="1.03"/><circle cx="40.25" cy="139.53" r="1.42"/><circle cx="112.95" cy="104.75" r="1.44"/><circle cx="107.17" cy="115.91" r="1.81"/><circle cx="97.39" cy="112.69" r="1.24"/><circle cx="82.14" cy="97.22" r="1.69"/><circle cx="73.19" cy="96.66" r="1.02"/><circle cx="61.68" cy="111.85" r="2.05"/><circle cx="59.71" cy="138.77" r="1.46"/><circle cx="63.22" cy="123.36" r="1.05"/><circle cx="88.93" cy="94.45" r="1.71"/><circle cx="94.98" cy="94.39" r="1.78"/><circle cx="75.24" cy="110.53" r="1.94"/><circle cx="59.18" cy="101.76" r="1.5"/><circle cx="50.14" cy="113.25" r="1.94"/><circle cx="71.4" cy="109.95" r="1.18"/><circle cx="62.18" cy="120.71" r="1.94"/><circle cx="74.35" cy="133.49" r="1.56"/><circle cx="54.12" cy="130.07" r="2"/><circle cx="51.38" cy="139.15" r="1.07"/><circle cx="48.78" cy="112.11" r="2.09"/><circle cx="72.95" cy="110.34" r="1.29"/><circle cx="71.8" cy="122.35" r="1.72"/><circle cx="107.12" cy="97.92" r="1.86"/><circle cx="106.56" cy="108.84" r="1.54"/><circle cx="102.83" cy="99.93" r="1.54"/><circle cx="113.17" cy="113.29" r="1.52"/><circle cx="68.23" cy="117.91" r="1.92"/><circle cx="42.06" cy="116.79" r="1.51"/><circle cx="57.41" cy="108.84" r="2.19"/><circle cx="34.03" cy="130.09" r="1.02"/><circle cx="57.23" cy="127.19" r="1.81"/><circle cx="85.81" cy="103.53" r="1.48"/><circle cx="103.91" cy="106.53" r="1.64"/><circle cx="61.01" cy="132.22" r="2.07"/><circle cx="39.24" cy="131.64" r="1.56"/><circle cx="64.98" cy="126.98" r="1.97"/><circle cx="75.37" cy="129.74" r="2.1"/><circle cx="81.92" cy="94.94" r="1.48"/><circle cx="89.63" cy="92.18" r="1.13"/><circle cx="34.5" cy="134.71" r="1.73"/><circle cx="64.62" cy="127.16" r="1.11"/><circle cx="44.61" cy="129.45" r="1.82"/><circle cx="84.26" cy="115.45" r="1.24"/><circle cx="57.08" cy="114.33" r="1.61"/><circle cx="49.44" cy="96.83" r="2.12"/><circle cx="47.51" cy="107.46" r="1.32"/><circle cx="85.87" cy="126.37" r="1.72"/><circle cx="35.47" cy="128.22" r="2.14"/><circle cx="43.56" cy="130.96" r="2.19"/><circle cx="53.26" cy="107.2" r="2.17"/><circle cx="53.09" cy="99.57" r="1.81"/><circle cx="59.83" cy="125.83" r="1.3"/><circle cx="52.03" cy="123.96" r="1.52"/><circle cx="88.44" cy="122.11" r="1.29"/><circle cx="50.05" cy="95.44" r="1.09"/><circle cx="92.04" cy="109.53" r="1"/><circle cx="35.54" cy="138.92" r="1.75"/><circle cx="50.73" cy="135.2" r="2.07"/><circle cx="37.54" cy="101.28" r="1.81"/><circle cx="97.33" cy="105.89" r="1.58"/><circle cx="60.78" cy="112.45" r="2"/><circle cx="80.87" cy="126.44" r="2.09"/><circle cx="35.86" cy="111.7" r="2.16"/><circle cx="72.46" cy="92.74" r="1.8"/><circle cx="79.02" cy="131.7" r="1.67"/><circle cx="56.44" cy="112.02" r="1.16"/><circle cx="67.69" cy="119.47" r="1.16"/><circle cx="37.25" cy="126.42" r="1.77"/><circle cx="97.17" cy="117.1" r="1.1"/><circle cx="76.23" cy="107.57" r="2.09"/><circle cx="51" cy="136.31" r="1.77"/><circle cx="57.55" cy="124.41" r="1.08"/><circle cx="55.56" cy="130.57" r="1.05"/><circle cx="101.61" cy="108.69" r="1.43"/><circle cx="54.66" cy="94.59" r="1.1"/><circle cx="37.63" cy="103.22" r="1.4"/><circle cx="64.34" cy="117.98" r="2"/><circle cx="63.36" cy="117.24" r="1.96"/><circle cx="70.24" cy="131.5" r="2.16"/><circle cx="107.42" cy="106.58" r="2.01"/><circle cx="109.85" cy="104.11" r="1.18"/><circle cx="93.51" cy="128.14" r="1.25"/><circle cx="114.46" cy="117.05" r="2.18"/><circle cx="74.5" cy="131.34" r="1.16"/><circle cx="100.18" cy="115.76" r="1.26"/><circle cx="68.36" cy="127.94" r="2.07"/><circle cx="96.15" cy="111.94" r="1.21"/><circle cx="108.34" cy="115.39" r="2.15"/><circle cx="81.64" cy="102.21" r="1.58"/><circle cx="88.12" cy="97.18" r="1.45"/><circle cx="99.22" cy="103.08" r="1.02"/><circle cx="51.45" cy="115.35" r="1.34"/><circle cx="76.45" cy="106.12" r="1.52"/><circle cx="95.97" cy="115.68" r="1.66"/><circle cx="99.44" cy="102.59" r="1.43"/><circle cx="44.37" cy="116.5" r="1.37"/><circle cx="88.82" cy="111.33" r="1.78"/><circle cx="80.83" cy="124.02" r="1.52"/><circle cx="67.75" cy="98" r="1.78"/><circle cx="59.73" cy="106.91" r="2.08"/><circle cx="67.66" cy="97.04" r="1.75"/><circle cx="66.19" cy="112.57" r="1.73"/><circle cx="57.83" cy="136.54" r="2.01"/><circle cx="45.87" cy="120.75" r="2.04"/><circle cx="71.71" cy="104.38" r="1.71"/><circle cx="79.09" cy="101.76" r="1.67"/><circle cx="74.53" cy="102.79" r="1.12"/><circle cx="105.6" cy="106.81" r="2.05"/><circle cx="48.12" cy="129.81" r="1.05"/><circle cx="107.21" cy="98.88" r="1.74"/><circle cx="95.09" cy="123.96" r="2.06"/><circle cx="87.05" cy="97.23" r="1.05"/><circle cx="50.5" cy="97.64" r="1.46"/><circle cx="43.22" cy="107.49" r="2.02"/><circle cx="91.21" cy="106.83" r="1.14"/><circle cx="40.57" cy="108.44" r="1.08"/><circle cx="60.12" cy="137.52" r="1.07"/><circle cx="45.87" cy="93.86" r="1.64"/><circle cx="65.41" cy="120.24" r="1.34"/><circle cx="60.47" cy="126.89" r="1.46"/><circle cx="49.46" cy="109.86" r="1.05"/><circle cx="79.41" cy="106.04" r="1.57"/><circle cx="77.14" cy="99.11" r="1.65"/><circle cx="55.55" cy="97.11" r="1.27"/><circle cx="61.26" cy="131.19" r="1.06"/><circle cx="73.13" cy="123.42" r="2.02"/><circle cx="44.74" cy="134.7" r="1.41"/><circle cx="43.49" cy="128.65" r="1.86"/><circle cx="77.1" cy="129.8" r="1.15"/><circle cx="57.11" cy="113.16" r="1.22"/><circle cx="42.76" cy="111.59" r="1.77"/><circle cx="74.96" cy="120.07" r="1.62"/><circle cx="95.26" cy="132.28" r="1.4"/><circle cx="41.73" cy="98.69" r="1.43"/><circle cx="67.82" cy="130.13" r="1.12"/><circle cx="50.75" cy="132.59" r="2.02"/><circle cx="54.93" cy="122.08" r="1.66"/><circle cx="54.18" cy="118.79" r="1.07"/><circle cx="110.84" cy="104.68" r="2.09"/><circle cx="107.01" cy="113.97" r="1.2"/><circle cx="37.66" cy="105.79" r="1.32"/><circle cx="62.63" cy="109.68" r="1.23"/><circle cx="52.44" cy="103.27" r="2.06"/><circle cx="79.59" cy="115.96" r="1.35"/><circle cx="85.11" cy="110.56" r="1.03"/><circle cx="46.56" cy="136.26" r="1.83"/><circle cx="90.63" cy="115.2" r="1.74"/><circle cx="34.83" cy="126.44" r="2"/><circle cx="84.29" cy="120.29" r="1.83"/><circle cx="97.96" cy="114.01" r="1.13"/><circle cx="85.78" cy="127.17" r="2.13"/><circle cx="35.16" cy="123.29" r="2.09"/><circle cx="36.68" cy="129.03" r="1.77"/><circle cx="101.53" cy="121.3" r="1.82"/><circle cx="98.42" cy="103.1" r="1.01"/><circle cx="91.97" cy="100.16" r="1.14"/><circle cx="42.09" cy="141.01" r="2.06"/><circle cx="72.43" cy="131.89" r="1.35"/><circle cx="42.69" cy="125.35" r="1.33"/><circle cx="37.28" cy="131.53" r="1"/><circle cx="87.68" cy="101.39" r="1.34"/><circle cx="62.94" cy="132.59" r="1.77"/><circle cx="39.63" cy="108.72" r="1.65"/><circle cx="112.53" cy="115.45" r="1.97"/><circle cx="53.54" cy="99.09" r="1.95"/><circle cx="51.48" cy="118.6" r="1.5"/><circle cx="51.39" cy="95.04" r="1.93"/><circle cx="51.8" cy="122.39" r="1.32"/><circle cx="100.81" cy="110.87" r="1.24"/><circle cx="88.57" cy="101.39" r="1.08"/><circle cx="40.83" cy="114.19" r="1.1"/><circle cx="38.1" cy="124.41" r="1.95"/><circle cx="65.59" cy="92.8" r="1.8"/><circle cx="73.44" cy="97.94" r="1.29"/><circle cx="80.34" cy="131.34" r="1.93"/><circle cx="51.69" cy="138.39" r="2.11"/><circle cx="40.64" cy="108.61" r="1.32"/><circle cx="105.25" cy="117.84" r="2.19"/><circle cx="86.51" cy="131.5" r="1.53"/></g>
<g fill="#000" filter="url(#engrW)"><circle cx="46.69" cy="129.63" r="1.76"/><circle cx="72.77" cy="103.1" r="1.95"/><circle cx="100.05" cy="119.7" r="1.61"/><circle cx="63.8" cy="123.78" r="1.08"/><circle cx="98.88" cy="104.01" r="1.28"/><circle cx="84.12" cy="92.91" r="1.39"/><circle cx="74.3" cy="97.49" r="2.14"/><circle cx="63.58" cy="99.67" r="1.98"/><circle cx="70.61" cy="121.91" r="1.41"/><circle cx="73.23" cy="101.47" r="1.04"/><circle cx="104.87" cy="104.15" r="1.94"/><circle cx="96.31" cy="123.52" r="1.88"/><circle cx="43.17" cy="117.67" r="1.99"/><circle cx="106.67" cy="113.94" r="1.44"/><circle cx="70.46" cy="112.6" r="2.19"/><circle cx="65.09" cy="92.5" r="1.11"/><circle cx="74.17" cy="118.53" r="1.66"/><circle cx="95.1" cy="103.43" r="1.73"/><circle cx="79.19" cy="125.87" r="1.22"/><circle cx="47.12" cy="110.5" r="2.11"/><circle cx="61.77" cy="124.45" r="1.37"/><circle cx="41.57" cy="94.68" r="1.98"/><circle cx="97.49" cy="111.99" r="1.82"/><circle cx="112.54" cy="113.79" r="2.19"/><circle cx="106.3" cy="118.49" r="1.45"/><circle cx="53.52" cy="140.06" r="1.19"/><circle cx="38.75" cy="136.1" r="1.93"/><circle cx="37.33" cy="105.45" r="1.35"/><circle cx="67.82" cy="100.56" r="1.08"/><circle cx="72.75" cy="105.12" r="2.15"/><circle cx="76.63" cy="131.8" r="1.03"/><circle cx="50.6" cy="137.94" r="1.95"/><circle cx="68.36" cy="123.54" r="2.02"/><circle cx="58.56" cy="120.92" r="1.33"/><circle cx="34.95" cy="124.25" r="1.77"/><circle cx="103.69" cy="123.72" r="1.31"/><circle cx="108.17" cy="98.48" r="1.11"/><circle cx="40.8" cy="92.42" r="1.54"/><circle cx="44.69" cy="139.57" r="1.79"/><circle cx="43.5" cy="121.16" r="1.39"/><circle cx="73.99" cy="103.3" r="1.2"/><circle cx="48.27" cy="112.16" r="1.85"/><circle cx="78.65" cy="93.59" r="1.85"/><circle cx="71.5" cy="94.56" r="1.92"/><circle cx="47.55" cy="130.84" r="1.3"/><circle cx="90.83" cy="108.56" r="1.05"/><circle cx="65.28" cy="108.33" r="2.08"/><circle cx="57.49" cy="119.17" r="1.66"/><circle cx="111.7" cy="96.52" r="1.72"/><circle cx="75.18" cy="132.14" r="2.16"/><circle cx="58.74" cy="130.17" r="1.63"/><circle cx="79.54" cy="94.57" r="1.98"/><circle cx="114.08" cy="110.89" r="1.38"/><circle cx="39.32" cy="95.11" r="1.98"/><circle cx="96.07" cy="116.09" r="1.75"/><circle cx="34.64" cy="127.1" r="1.53"/><circle cx="75.95" cy="112.81" r="1.48"/><circle cx="51.72" cy="93.73" r="1.52"/><circle cx="53.51" cy="130.43" r="1.98"/><circle cx="93.07" cy="116.54" r="1.28"/><circle cx="64.99" cy="118.26" r="1.76"/><circle cx="112.94" cy="95.78" r="1.58"/><circle cx="73.83" cy="131.16" r="2.07"/><circle cx="97.7" cy="126.1" r="1.91"/><circle cx="91.02" cy="129.25" r="1.29"/><circle cx="109.08" cy="112.61" r="1.74"/><circle cx="58.95" cy="108.46" r="1.47"/><circle cx="45.07" cy="121.98" r="1.1"/><circle cx="94.62" cy="116.89" r="1.13"/><circle cx="50.08" cy="109.78" r="1.77"/><circle cx="89.58" cy="105.61" r="2.14"/><circle cx="59.74" cy="105.24" r="2.01"/><circle cx="45.73" cy="129.15" r="1.24"/><circle cx="82.63" cy="106.54" r="1.45"/><circle cx="111.08" cy="117.15" r="1.52"/><circle cx="84.22" cy="106.72" r="1.21"/><circle cx="64.92" cy="106.25" r="1.23"/><circle cx="112.75" cy="92.93" r="1.97"/><circle cx="34.58" cy="119.07" r="1.05"/><circle cx="83.45" cy="130.22" r="1.29"/><circle cx="40.85" cy="108.3" r="1.54"/><circle cx="107.24" cy="111.72" r="1.16"/><circle cx="76.94" cy="93.75" r="1.23"/><circle cx="66.45" cy="121.91" r="1.27"/><circle cx="34.46" cy="123.6" r="1.1"/><circle cx="96.02" cy="101.54" r="1.07"/><circle cx="84.48" cy="117.38" r="1.96"/><circle cx="61.05" cy="106.1" r="1.42"/><circle cx="57.73" cy="126.12" r="2.07"/><circle cx="38.89" cy="94.79" r="1.61"/><circle cx="89.27" cy="101.63" r="1.32"/><circle cx="37.88" cy="93.08" r="1.59"/><circle cx="89.5" cy="127.58" r="1.19"/><circle cx="77.7" cy="113.87" r="1.83"/><circle cx="93.41" cy="120.38" r="1.09"/><circle cx="101.66" cy="102.97" r="1.05"/><circle cx="62.24" cy="120.82" r="1.75"/><circle cx="47.45" cy="130.74" r="1.59"/><circle cx="46.45" cy="138.65" r="1.97"/><circle cx="51.04" cy="134.55" r="2.08"/><circle cx="113.52" cy="112.85" r="2.13"/><circle cx="83.93" cy="125" r="1.91"/><circle cx="86.69" cy="100.04" r="2.12"/><circle cx="63.08" cy="95.64" r="1.49"/><circle cx="47.8" cy="121.23" r="1.98"/><circle cx="63.06" cy="98.34" r="1.03"/><circle cx="68.1" cy="123.5" r="1.03"/><circle cx="88.23" cy="102.81" r="1.13"/><circle cx="110" cy="120.29" r="2.07"/><circle cx="75.66" cy="97.88" r="1.29"/><circle cx="68.21" cy="126.89" r="1.93"/><circle cx="95.36" cy="127.44" r="1.3"/><circle cx="68.7" cy="112.17" r="1.59"/><circle cx="55.04" cy="121.12" r="1.55"/><circle cx="35.95" cy="137.08" r="1.7"/><circle cx="99.63" cy="132.25" r="1.88"/><circle cx="88.14" cy="123.56" r="1.69"/><circle cx="51.86" cy="132.11" r="1.97"/><circle cx="73.08" cy="94.08" r="1.44"/><circle cx="101.59" cy="118.99" r="1.55"/><circle cx="65.32" cy="126.19" r="1.72"/><circle cx="95.36" cy="112" r="1.3"/><circle cx="110.04" cy="102.13" r="2.02"/><circle cx="106.92" cy="95.32" r="1.37"/><circle cx="85.59" cy="99.18" r="2"/><circle cx="54.98" cy="129.21" r="1.35"/><circle cx="51.11" cy="102.59" r="1.6"/><circle cx="92.18" cy="103.2" r="1.82"/><circle cx="60.81" cy="127.36" r="1.44"/><circle cx="49.04" cy="98.9" r="1.07"/><circle cx="90.8" cy="114.17" r="1.15"/><circle cx="34.76" cy="131.59" r="1.71"/><circle cx="69.83" cy="119.04" r="2.15"/><circle cx="64.03" cy="126.63" r="1.76"/><circle cx="63.36" cy="110.4" r="1.91"/><circle cx="85.77" cy="116.59" r="1.62"/><circle cx="51.55" cy="135.21" r="1.02"/><circle cx="86.38" cy="116.48" r="1.27"/><circle cx="81.7" cy="123.65" r="1.1"/><circle cx="73.68" cy="100.24" r="1.96"/><circle cx="60.14" cy="109.39" r="1.26"/><circle cx="36.99" cy="101.45" r="1.18"/><circle cx="51.34" cy="97.26" r="1.64"/><circle cx="42.6" cy="113.69" r="1.91"/><circle cx="49.86" cy="130.18" r="1.65"/><circle cx="40.05" cy="104.58" r="1.72"/><circle cx="40.99" cy="102.41" r="1.69"/><circle cx="100.9" cy="120.14" r="1.8"/><circle cx="35.85" cy="118.91" r="2.07"/><circle cx="97.02" cy="123.46" r="1.22"/><circle cx="109.88" cy="95.47" r="2.16"/><circle cx="97.43" cy="131.3" r="1.64"/><circle cx="46.61" cy="110.09" r="1.8"/><circle cx="87.45" cy="112.8" r="1.96"/><circle cx="37.43" cy="107.09" r="1.11"/><circle cx="59.96" cy="135.4" r="1.9"/><circle cx="45.4" cy="108.27" r="1.13"/><circle cx="87.94" cy="115.78" r="1.28"/><circle cx="68.29" cy="129.69" r="1.75"/><circle cx="72.31" cy="122.16" r="1.44"/><circle cx="49.46" cy="118.69" r="1.37"/><circle cx="60.4" cy="101.45" r="2.1"/><circle cx="68.32" cy="102.21" r="1.04"/><circle cx="50.78" cy="139.63" r="1.4"/><circle cx="88.37" cy="103.91" r="1.78"/><circle cx="70.37" cy="132.24" r="1.63"/><circle cx="64.16" cy="106.69" r="1.71"/><circle cx="72.85" cy="109.4" r="2.07"/><circle cx="103.24" cy="99.16" r="1.82"/><circle cx="97.08" cy="128.84" r="2.16"/><circle cx="105.96" cy="104.78" r="2.2"/><circle cx="60.19" cy="112.27" r="2.17"/><circle cx="46.88" cy="113.14" r="1.75"/><circle cx="55.65" cy="105.95" r="1.95"/><circle cx="83.84" cy="132.66" r="1.95"/><circle cx="74.44" cy="130.29" r="1.62"/><circle cx="68.74" cy="128.19" r="1.35"/><circle cx="43.75" cy="112.63" r="1.16"/><circle cx="70.71" cy="133.75" r="1.06"/><circle cx="85.85" cy="97.23" r="1.61"/><circle cx="57.55" cy="115.97" r="1.85"/><circle cx="67.31" cy="112.94" r="1.87"/><circle cx="42.62" cy="110.54" r="1.84"/><circle cx="54.34" cy="126.01" r="1.38"/><circle cx="44.21" cy="110.32" r="2.12"/><circle cx="62.25" cy="126.4" r="1.98"/><circle cx="56.13" cy="134.87" r="1"/><circle cx="61.26" cy="100.35" r="1.42"/><circle cx="50.69" cy="92.42" r="1.96"/><circle cx="47.4" cy="123.1" r="1.67"/><circle cx="84.6" cy="100.46" r="1.91"/><circle cx="58.59" cy="105.15" r="1.26"/><circle cx="93.53" cy="104.67" r="1.39"/><circle cx="58.25" cy="115.27" r="2.05"/><circle cx="71.26" cy="129.8" r="1.94"/><circle cx="48.51" cy="125.49" r="2.18"/><circle cx="40.03" cy="131.02" r="1.58"/><circle cx="108.46" cy="100.35" r="1.66"/><circle cx="43.01" cy="136.05" r="1.87"/><circle cx="35.59" cy="108.34" r="1.17"/><circle cx="85.74" cy="126.28" r="1.08"/><circle cx="69.58" cy="123.15" r="1.44"/><circle cx="83.31" cy="113.31" r="1.53"/><circle cx="95.23" cy="101.44" r="1.36"/><circle cx="96.38" cy="103.6" r="1.08"/><circle cx="108.66" cy="99.93" r="1.49"/><circle cx="59.02" cy="105.65" r="1.42"/><circle cx="77.6" cy="97.5" r="1.64"/><circle cx="37.24" cy="95.42" r="1.24"/><circle cx="52.94" cy="110.13" r="1.35"/><circle cx="89.93" cy="108.66" r="1.74"/><circle cx="94.87" cy="120.92" r="1.9"/><circle cx="54.92" cy="128.61" r="2.17"/><circle cx="40.86" cy="131.52" r="1.32"/><circle cx="95.27" cy="114.71" r="1.64"/><circle cx="53.63" cy="105.39" r="2.04"/><circle cx="86.4" cy="126.21" r="1.14"/><circle cx="49.87" cy="121.12" r="1.84"/><circle cx="75.37" cy="122.04" r="2.16"/><circle cx="97.86" cy="104.27" r="1.52"/><circle cx="67.83" cy="129.29" r="1.81"/><circle cx="54.66" cy="129.77" r="1.52"/><circle cx="34.27" cy="107.34" r="1.45"/><circle cx="49.34" cy="128.56" r="2.19"/><circle cx="104.15" cy="118.53" r="1.7"/><circle cx="107.18" cy="94.34" r="1.43"/><circle cx="64.05" cy="110.1" r="1.51"/><circle cx="37.74" cy="129.03" r="2.15"/><circle cx="52.44" cy="101.4" r="1.4"/><circle cx="99.11" cy="103.68" r="1.93"/><circle cx="47.33" cy="124.32" r="1.87"/><circle cx="88.93" cy="95.73" r="2.15"/><circle cx="103.38" cy="117.94" r="2.03"/><circle cx="82.88" cy="100.44" r="1.48"/><circle cx="101.12" cy="116.97" r="1.05"/><circle cx="46.76" cy="101.43" r="1.7"/><circle cx="86.44" cy="116.08" r="1.48"/><circle cx="112.91" cy="110.2" r="1.81"/><circle cx="49.98" cy="119.79" r="1.22"/><circle cx="42.41" cy="109.86" r="1.14"/><circle cx="64.64" cy="127.56" r="1.66"/><circle cx="99.04" cy="117.73" r="1.1"/><circle cx="93.37" cy="113.51" r="1.9"/><circle cx="113.96" cy="120.36" r="1.3"/><circle cx="62.7" cy="118.92" r="1.38"/><circle cx="41.42" cy="113.31" r="1.79"/><circle cx="67.15" cy="127.08" r="1.06"/><circle cx="98.9" cy="130.65" r="1.32"/><circle cx="72.2" cy="106.22" r="1.95"/><circle cx="64.55" cy="110.18" r="2.13"/><circle cx="108.07" cy="101.62" r="1.43"/><circle cx="98.42" cy="133.36" r="1.34"/><circle cx="40.49" cy="106.35" r="1.8"/><circle cx="113.7" cy="109.45" r="1.27"/><circle cx="54.54" cy="134.82" r="1.17"/><circle cx="49.69" cy="126.21" r="1.64"/><circle cx="113.2" cy="119.75" r="1.59"/><circle cx="45.05" cy="136.01" r="1.48"/><circle cx="73.94" cy="114.3" r="1.27"/><circle cx="55.93" cy="102.54" r="1.2"/><circle cx="93.6" cy="93.88" r="1.72"/><circle cx="82.62" cy="132.19" r="1.68"/><circle cx="109.96" cy="106.75" r="1.11"/><circle cx="81.35" cy="106.08" r="2.19"/><circle cx="102.19" cy="104.69" r="1.58"/><circle cx="64.78" cy="110.33" r="1.45"/><circle cx="72.65" cy="127.62" r="1.03"/><circle cx="77.76" cy="98.16" r="2.16"/><circle cx="78.8" cy="123.99" r="1.38"/><circle cx="91.58" cy="130.76" r="2.09"/><circle cx="81.2" cy="106.11" r="1.75"/><circle cx="37.18" cy="132.67" r="1.37"/><circle cx="92.71" cy="98.39" r="1.72"/><circle cx="47.03" cy="93.05" r="1.32"/><circle cx="103.42" cy="112.76" r="1.63"/><circle cx="54.51" cy="129.87" r="1.94"/><circle cx="98.89" cy="110.42" r="1.57"/><circle cx="98.07" cy="105.05" r="1.58"/><circle cx="53.23" cy="128.26" r="1.26"/><circle cx="46.02" cy="117.71" r="1.78"/><circle cx="46.64" cy="120.7" r="1.58"/><circle cx="44.94" cy="105.59" r="1.05"/><circle cx="86.42" cy="127.83" r="1.27"/><circle cx="103.83" cy="108.57" r="2.04"/><circle cx="43.81" cy="110.48" r="1.5"/><circle cx="112.27" cy="107.73" r="1.46"/><circle cx="50.2" cy="136.89" r="1.22"/><circle cx="103.36" cy="110.09" r="1.66"/><circle cx="105.76" cy="105.93" r="1.63"/><circle cx="85.78" cy="123.35" r="1.49"/><circle cx="86.61" cy="108.62" r="1.19"/><circle cx="46.01" cy="128.68" r="1.54"/><circle cx="76.08" cy="115.4" r="1.77"/><circle cx="45.27" cy="139.88" r="1.62"/><circle cx="36.52" cy="117.96" r="2.13"/><circle cx="114.24" cy="114.87" r="1.32"/><circle cx="110.72" cy="106.93" r="1.02"/><circle cx="53.51" cy="117.36" r="1.81"/><circle cx="38.55" cy="109.72" r="1.87"/><circle cx="61.58" cy="100.84" r="1.85"/><circle cx="69.23" cy="129.92" r="1.58"/><circle cx="100.43" cy="119.68" r="2.17"/><circle cx="73.7" cy="125.14" r="1.45"/><circle cx="39.34" cy="140.54" r="1.97"/><circle cx="39.7" cy="112.19" r="1.69"/><circle cx="100.93" cy="120.16" r="1.95"/><circle cx="64.02" cy="128.91" r="1.96"/><circle cx="82.82" cy="92.17" r="1.79"/><circle cx="42.52" cy="133.75" r="1.2"/><circle cx="92.69" cy="95.05" r="1.25"/><circle cx="38.94" cy="125.4" r="1.48"/><circle cx="84.62" cy="95.33" r="1.02"/><circle cx="39.53" cy="140.9" r="1.59"/><circle cx="83.84" cy="98.47" r="1.82"/><circle cx="107.79" cy="102.08" r="1.94"/><circle cx="79.96" cy="127.12" r="1.41"/><circle cx="97.81" cy="108.39" r="1.75"/><circle cx="98.34" cy="96.37" r="1.21"/><circle cx="62.65" cy="113.19" r="1.86"/><circle cx="54.55" cy="122.3" r="1.54"/><circle cx="58.33" cy="126.97" r="1.52"/><circle cx="114.31" cy="98.24" r="2.08"/><circle cx="85.88" cy="116.7" r="1.09"/><circle cx="62.04" cy="130.9" r="1.64"/><circle cx="40.49" cy="139.12" r="1.37"/><circle cx="72.86" cy="133.64" r="2.05"/><circle cx="103.87" cy="111.58" r="2.02"/><circle cx="45.68" cy="121.89" r="1.52"/><circle cx="61.86" cy="115.87" r="1.12"/><circle cx="62.11" cy="102.17" r="1.88"/><circle cx="82.82" cy="115.99" r="1.14"/><circle cx="70.07" cy="122.57" r="1.17"/><circle cx="114.06" cy="111.21" r="1.52"/><circle cx="56.67" cy="111.89" r="1.33"/><circle cx="103.89" cy="95.01" r="1.44"/><circle cx="82.6" cy="117.85" r="1.39"/><circle cx="73.18" cy="94.5" r="1.37"/><circle cx="69.12" cy="133.93" r="1.52"/><circle cx="67.47" cy="127.63" r="1.33"/><circle cx="78.67" cy="101.91" r="1.74"/><circle cx="77.74" cy="127.63" r="2.05"/><circle cx="69.92" cy="111.53" r="1.55"/><circle cx="99.82" cy="107.87" r="1.14"/><circle cx="49.91" cy="128.64" r="1.84"/><circle cx="36.46" cy="117.06" r="1.12"/><circle cx="100.64" cy="120.65" r="1.73"/><circle cx="109.95" cy="97.99" r="1.26"/><circle cx="98.31" cy="125.01" r="1.53"/><circle cx="62.56" cy="125.69" r="2.13"/><circle cx="114.21" cy="98.37" r="1.03"/><circle cx="101.82" cy="104.84" r="1.63"/><circle cx="69.74" cy="98.54" r="1.25"/><circle cx="63.86" cy="131.73" r="1.68"/><circle cx="104.22" cy="118.41" r="1.04"/><circle cx="70.07" cy="111.11" r="1.43"/><circle cx="51.97" cy="119.04" r="2.15"/><circle cx="82.03" cy="133.99" r="1.22"/><circle cx="63.67" cy="123.49" r="1.46"/><circle cx="43.71" cy="127.9" r="2.18"/><circle cx="57.03" cy="106.1" r="1.4"/><circle cx="45.01" cy="104.72" r="2.08"/><circle cx="55.98" cy="128.36" r="1.87"/><circle cx="90.66" cy="117.16" r="1.12"/><circle cx="76.74" cy="97.15" r="1.39"/><circle cx="35.92" cy="119.84" r="1.56"/><circle cx="56.61" cy="103.39" r="1.08"/><circle cx="35.31" cy="98.1" r="2.18"/><circle cx="35.75" cy="131.12" r="1.55"/><circle cx="81.77" cy="108.07" r="2.18"/><circle cx="100.04" cy="113.66" r="1.52"/><circle cx="109.19" cy="99.75" r="2.05"/><circle cx="84.39" cy="122.75" r="1.64"/><circle cx="82.04" cy="96.08" r="1.3"/><circle cx="62.35" cy="103.4" r="1.1"/><circle cx="92.16" cy="114.59" r="1.89"/><circle cx="53.27" cy="119.69" r="1.51"/><circle cx="98.66" cy="98.33" r="1.66"/><circle cx="70.66" cy="125.97" r="1.28"/><circle cx="113.24" cy="116.09" r="1.1"/><circle cx="97.73" cy="97.47" r="1.72"/><circle cx="45.31" cy="96.58" r="1.63"/><circle cx="57.74" cy="127.91" r="1.63"/><circle cx="83.4" cy="116.69" r="1.26"/><circle cx="88.32" cy="109.97" r="1.72"/><circle cx="61.48" cy="136.56" r="1.66"/><circle cx="95.63" cy="102.37" r="1.4"/><circle cx="40.09" cy="109.77" r="1.19"/><circle cx="57.88" cy="135.46" r="1.14"/><circle cx="97.02" cy="104.34" r="1.35"/><circle cx="70.97" cy="125.65" r="2.11"/><circle cx="34.69" cy="95.82" r="1.99"/><circle cx="34.87" cy="141.05" r="1.22"/><circle cx="114.03" cy="117.37" r="1.73"/><circle cx="67.42" cy="116.77" r="1.95"/><circle cx="54.27" cy="108.06" r="2.05"/><circle cx="61.54" cy="110.2" r="1.13"/><circle cx="102.1" cy="93.72" r="1.22"/><circle cx="35" cy="116.61" r="2.19"/><circle cx="38.85" cy="105.12" r="1.32"/><circle cx="91.21" cy="110.96" r="1.21"/><circle cx="46.7" cy="94.54" r="1.49"/><circle cx="110.57" cy="94.33" r="1.17"/><circle cx="86.58" cy="133.64" r="1.54"/><circle cx="36.74" cy="121.85" r="1.12"/><circle cx="39.13" cy="94.18" r="2.12"/><circle cx="41.53" cy="117.61" r="1.99"/><circle cx="49.66" cy="112.84" r="1.95"/><circle cx="79.86" cy="101.88" r="1.64"/><circle cx="112.89" cy="92.32" r="1.07"/><circle cx="112.87" cy="107.36" r="1.66"/><circle cx="105.82" cy="114.82" r="1.92"/><circle cx="45.83" cy="115.92" r="1.87"/><circle cx="71.85" cy="101.38" r="2.03"/><circle cx="59.11" cy="137.34" r="1.15"/><circle cx="85.09" cy="114.19" r="2.18"/><circle cx="51.47" cy="96" r="1.74"/><circle cx="44.12" cy="94.39" r="1.67"/><circle cx="111.38" cy="106.17" r="1.99"/><circle cx="39.75" cy="98.51" r="2.15"/><circle cx="113.11" cy="100.6" r="1.22"/><circle cx="92.12" cy="96.43" r="1.12"/><circle cx="46.28" cy="123.38" r="1.45"/><circle cx="102.93" cy="99.56" r="2.08"/><circle cx="98.35" cy="111.98" r="1.73"/><circle cx="89.17" cy="97.83" r="2.12"/><circle cx="69.55" cy="119.83" r="2.02"/><circle cx="34.74" cy="105.96" r="1.04"/><circle cx="94.13" cy="103.24" r="1.86"/><circle cx="47.96" cy="114.18" r="1.95"/><circle cx="69.88" cy="100.85" r="1.81"/><circle cx="98.94" cy="116.05" r="1.46"/><circle cx="43.97" cy="113.73" r="2.01"/><circle cx="62.69" cy="117.66" r="1.93"/><circle cx="68.04" cy="116.28" r="1.16"/><circle cx="48.82" cy="108.66" r="1.08"/><circle cx="70.67" cy="117.93" r="2.19"/><circle cx="49.63" cy="115.52" r="1.84"/><circle cx="39.15" cy="122.98" r="1.75"/><circle cx="35.24" cy="102.38" r="1.94"/><circle cx="46.43" cy="126.71" r="1.51"/><circle cx="101.12" cy="122.05" r="1.12"/><circle cx="54.91" cy="124.06" r="1.24"/><circle cx="93.78" cy="129.52" r="2.07"/><circle cx="82.27" cy="97.18" r="1.96"/><circle cx="76.12" cy="109.16" r="1.53"/><circle cx="79.6" cy="130.12" r="1.76"/><circle cx="104.53" cy="121.01" r="1.25"/><circle cx="46.12" cy="116.81" r="2.02"/><circle cx="80.89" cy="97.84" r="2.04"/><circle cx="93.68" cy="102.04" r="1.83"/><circle cx="104.68" cy="123.23" r="2.14"/><circle cx="72.32" cy="94.38" r="1.2"/><circle cx="37.09" cy="142.83" r="1.97"/><circle cx="70.64" cy="122.57" r="1.03"/><circle cx="46.3" cy="113.41" r="1.06"/><circle cx="59.48" cy="120.06" r="1.19"/><circle cx="47.75" cy="95.79" r="1.55"/><circle cx="102.48" cy="116.05" r="1.85"/><circle cx="99.06" cy="119.03" r="1.06"/><circle cx="47" cy="106.58" r="1.4"/><circle cx="82.71" cy="118.88" r="1.35"/><circle cx="46.91" cy="132.35" r="2.19"/><circle cx="91.24" cy="98.88" r="1.83"/><circle cx="99.36" cy="121.12" r="1.76"/><circle cx="104.55" cy="117.81" r="1.85"/><circle cx="47.04" cy="137.83" r="1.69"/><circle cx="48.86" cy="125.98" r="1.99"/><circle cx="69.98" cy="108.48" r="1.85"/><circle cx="58.71" cy="118.21" r="1.45"/><circle cx="44.8" cy="121.58" r="1.35"/><circle cx="49.84" cy="101.37" r="1.08"/><circle cx="91.59" cy="107.02" r="1.26"/><circle cx="110.35" cy="120.52" r="1.26"/><circle cx="96.48" cy="103.2" r="1.08"/><circle cx="64.04" cy="132.37" r="1.76"/><circle cx="67.06" cy="98.04" r="1.21"/><circle cx="82.85" cy="118.68" r="1.65"/><circle cx="94.64" cy="123.1" r="2.04"/><circle cx="109.34" cy="120.07" r="1.43"/><circle cx="74.84" cy="104.98" r="1.21"/><circle cx="92.78" cy="115.72" r="1.03"/><circle cx="65.6" cy="109" r="1.07"/><circle cx="34.87" cy="125.37" r="1.97"/><circle cx="51.73" cy="126.73" r="1.32"/><circle cx="52.15" cy="109.41" r="1.16"/><circle cx="90.42" cy="132.56" r="1.13"/><circle cx="89.46" cy="102.21" r="1.61"/><circle cx="81.48" cy="120.41" r="1.78"/><circle cx="40.17" cy="111.76" r="1.86"/><circle cx="82.13" cy="108.71" r="1.01"/><circle cx="36.66" cy="140.96" r="1.33"/><circle cx="38.9" cy="107.33" r="1.25"/><circle cx="78.11" cy="93.75" r="1.65"/><circle cx="86.68" cy="121.02" r="1.72"/><circle cx="53.05" cy="112.91" r="1.9"/><circle cx="56.68" cy="137.26" r="1.23"/><circle cx="88.07" cy="106.45" r="1.44"/><circle cx="56.4" cy="133.08" r="1.44"/><circle cx="101.95" cy="120.7" r="1.34"/><circle cx="90.06" cy="115.4" r="1.06"/><circle cx="70.35" cy="101.44" r="1.09"/><circle cx="88.53" cy="115.29" r="1.7"/><circle cx="65.13" cy="122.55" r="1.31"/><circle cx="69.88" cy="122.14" r="1.45"/><circle cx="109.83" cy="97" r="2.09"/><circle cx="51.13" cy="97.22" r="1.5"/><circle cx="86.69" cy="97.45" r="1.77"/><circle cx="101.69" cy="99.87" r="1.4"/><circle cx="53.5" cy="111.73" r="2.06"/><circle cx="79.63" cy="125.06" r="2.17"/><circle cx="70.32" cy="97.6" r="1.12"/><circle cx="45.07" cy="117.66" r="1.11"/><circle cx="90.48" cy="101.84" r="1.05"/><circle cx="92.77" cy="116.92" r="1.91"/><circle cx="80.91" cy="112.37" r="1.08"/><circle cx="54.7" cy="95.6" r="1.76"/><circle cx="43.49" cy="101.32" r="1.56"/><circle cx="42.25" cy="118.11" r="1.98"/><circle cx="54.64" cy="136.79" r="1.31"/><circle cx="100.74" cy="95.27" r="1.14"/><circle cx="36.83" cy="123.47" r="1.03"/><circle cx="90.61" cy="114.4" r="2.09"/><circle cx="95.43" cy="111.97" r="1.93"/><circle cx="82.78" cy="124.21" r="1.51"/><circle cx="45.78" cy="120.27" r="1.62"/><circle cx="79.35" cy="96.52" r="1.68"/><circle cx="48.59" cy="118.76" r="1.58"/><circle cx="38.95" cy="140.1" r="2.12"/><circle cx="45.56" cy="95.55" r="1.56"/><circle cx="35.64" cy="97.99" r="1.61"/><circle cx="50.36" cy="124.62" r="1.25"/><circle cx="88.29" cy="125.95" r="1.09"/><circle cx="90.12" cy="108.87" r="1.5"/><circle cx="71.16" cy="93.74" r="1.76"/><circle cx="43.8" cy="138.92" r="1.12"/><circle cx="84.68" cy="122" r="1.04"/><circle cx="42.46" cy="118.77" r="1.47"/><circle cx="45.87" cy="96.67" r="1.28"/><circle cx="100.55" cy="98.67" r="1.91"/><circle cx="42.47" cy="136.74" r="1.93"/><circle cx="106.19" cy="112.86" r="2.17"/><circle cx="67.38" cy="126.33" r="1.99"/><circle cx="45.57" cy="93.55" r="1.83"/><circle cx="51.84" cy="103.28" r="1.59"/><circle cx="47.28" cy="106.15" r="1.24"/><circle cx="40.58" cy="136.67" r="2.01"/><circle cx="93.75" cy="115.62" r="2.11"/><circle cx="78.07" cy="122.05" r="1.03"/><circle cx="62.5" cy="103.14" r="1.79"/><circle cx="59.51" cy="137.61" r="1.1"/><circle cx="99.86" cy="93.41" r="2.16"/><circle cx="73.03" cy="127.83" r="1.48"/><circle cx="95.31" cy="121.12" r="1.55"/><circle cx="56.11" cy="105.43" r="2.19"/><circle cx="60.99" cy="111.6" r="1.66"/><circle cx="57.04" cy="116.54" r="1.33"/><circle cx="110.47" cy="105.97" r="1.93"/><circle cx="90.49" cy="126.04" r="1.59"/><circle cx="109.4" cy="122.56" r="2.13"/><circle cx="41.76" cy="111.06" r="1.16"/><circle cx="92.79" cy="116.7" r="1.38"/><circle cx="60.98" cy="118.12" r="1.37"/><circle cx="73.94" cy="125.87" r="1.02"/><circle cx="51.24" cy="120.38" r="1.79"/><circle cx="82.19" cy="132.04" r="1.52"/><circle cx="74.9" cy="122.95" r="1.97"/><circle cx="56.31" cy="106.82" r="1.6"/><circle cx="74.99" cy="93.9" r="1.6"/><circle cx="77.81" cy="130.22" r="1.45"/><circle cx="38.95" cy="137.07" r="1.65"/><circle cx="83.69" cy="125.33" r="2.17"/><circle cx="58.07" cy="122.94" r="1.88"/><circle cx="36.41" cy="135.61" r="1.05"/><circle cx="59.35" cy="110.75" r="1.96"/><circle cx="106.78" cy="122.05" r="1.67"/><circle cx="88.2" cy="92.48" r="1.45"/><circle cx="70.51" cy="93.72" r="1.37"/><circle cx="56.23" cy="98.2" r="1.23"/><circle cx="63.77" cy="128.04" r="2.02"/><circle cx="59.48" cy="135.05" r="1.86"/><circle cx="41.54" cy="102.19" r="2.05"/><circle cx="44.68" cy="126.09" r="1.7"/><circle cx="100.81" cy="98.64" r="1.87"/><circle cx="112.52" cy="95.62" r="1.56"/><circle cx="113.33" cy="107.95" r="1.41"/><circle cx="57.48" cy="111.98" r="1.52"/><circle cx="74.96" cy="105.4" r="1.6"/><circle cx="110.17" cy="110.54" r="1.3"/><circle cx="114.63" cy="108.03" r="1"/><circle cx="94.24" cy="127.99" r="1.47"/><circle cx="80.36" cy="125.32" r="1.5"/><circle cx="48.22" cy="107.47" r="1.87"/><circle cx="74.04" cy="120.21" r="1.79"/><circle cx="110.74" cy="97.65" r="1.11"/><circle cx="96.85" cy="103.15" r="1.68"/><circle cx="75.1" cy="128.52" r="1.77"/><circle cx="66.14" cy="124.86" r="2.12"/><circle cx="102.74" cy="116.56" r="1.88"/><circle cx="77.93" cy="119.68" r="1.73"/><circle cx="95.83" cy="111.86" r="1.76"/><circle cx="54.12" cy="95.42" r="1.09"/><circle cx="47.83" cy="113.73" r="1.16"/><circle cx="97.83" cy="129.42" r="1.46"/><circle cx="47.88" cy="114.27" r="2.05"/><circle cx="75.17" cy="110.06" r="2.08"/><circle cx="88.67" cy="94.16" r="1.08"/><circle cx="69.34" cy="120.71" r="1.16"/><circle cx="83.19" cy="113.9" r="1.43"/><circle cx="50.56" cy="124.12" r="2"/><circle cx="77.22" cy="124.94" r="1.67"/><circle cx="91.9" cy="130.03" r="1.01"/><circle cx="113.17" cy="118.56" r="1.06"/><circle cx="93.05" cy="133.58" r="1.44"/><circle cx="82.8" cy="93.22" r="1.89"/><circle cx="40.39" cy="109.12" r="1.27"/><circle cx="52.14" cy="96.11" r="1.78"/><circle cx="62.35" cy="118.96" r="1.63"/><circle cx="82.91" cy="131.81" r="1.52"/><circle cx="34.62" cy="108.71" r="1.01"/><circle cx="80.52" cy="129.71" r="1.68"/><circle cx="113.71" cy="100.36" r="1.69"/><circle cx="60.62" cy="116.66" r="1.26"/><circle cx="97.88" cy="109.65" r="1.32"/><circle cx="88.32" cy="102.27" r="1.16"/><circle cx="95.37" cy="95.72" r="1.95"/><circle cx="69.31" cy="120.78" r="1.03"/><circle cx="34.13" cy="120" r="1.77"/><circle cx="38.67" cy="139.99" r="2.12"/><circle cx="40.33" cy="137.4" r="1.74"/><circle cx="69.06" cy="115.47" r="1.66"/><circle cx="72.24" cy="116.71" r="1.21"/><circle cx="85.63" cy="124.52" r="1.54"/><circle cx="75.96" cy="128.06" r="1.97"/><circle cx="54.31" cy="126.22" r="1.34"/><circle cx="96.43" cy="108.09" r="2.15"/><circle cx="90.48" cy="120.57" r="1.68"/><circle cx="81.44" cy="105.97" r="1.03"/><circle cx="70.55" cy="107.47" r="1.56"/><circle cx="50.48" cy="102.57" r="2.18"/><circle cx="64.38" cy="132.92" r="1.17"/><circle cx="40.26" cy="129.7" r="1.52"/><circle cx="99.43" cy="92.2" r="1.59"/><circle cx="82.59" cy="103.41" r="1.86"/><circle cx="49.28" cy="97.07" r="1.19"/><circle cx="36.85" cy="113.61" r="1.94"/><circle cx="47.43" cy="106.88" r="1.4"/><circle cx="51.34" cy="139.7" r="2"/><circle cx="42.94" cy="127.93" r="2.09"/><circle cx="34.02" cy="113.51" r="1.03"/><circle cx="59.27" cy="97.89" r="1.55"/><circle cx="49.97" cy="132.12" r="1.46"/><circle cx="39.91" cy="121.98" r="1.55"/><circle cx="94.42" cy="132.69" r="1.3"/><circle cx="64.89" cy="131.35" r="2.16"/><circle cx="78.83" cy="125.18" r="1.4"/><circle cx="69.1" cy="108.75" r="1.6"/><circle cx="56.73" cy="109.03" r="1.03"/><circle cx="40.25" cy="139.53" r="1.42"/><circle cx="112.95" cy="104.75" r="1.44"/><circle cx="107.17" cy="115.91" r="1.81"/><circle cx="97.39" cy="112.69" r="1.24"/><circle cx="82.14" cy="97.22" r="1.69"/><circle cx="73.19" cy="96.66" r="1.02"/><circle cx="61.68" cy="111.85" r="2.05"/><circle cx="59.71" cy="138.77" r="1.46"/><circle cx="63.22" cy="123.36" r="1.05"/><circle cx="88.93" cy="94.45" r="1.71"/><circle cx="94.98" cy="94.39" r="1.78"/><circle cx="75.24" cy="110.53" r="1.94"/><circle cx="59.18" cy="101.76" r="1.5"/><circle cx="50.14" cy="113.25" r="1.94"/><circle cx="71.4" cy="109.95" r="1.18"/><circle cx="62.18" cy="120.71" r="1.94"/><circle cx="74.35" cy="133.49" r="1.56"/><circle cx="54.12" cy="130.07" r="2"/><circle cx="51.38" cy="139.15" r="1.07"/><circle cx="48.78" cy="112.11" r="2.09"/><circle cx="72.95" cy="110.34" r="1.29"/><circle cx="71.8" cy="122.35" r="1.72"/><circle cx="107.12" cy="97.92" r="1.86"/><circle cx="106.56" cy="108.84" r="1.54"/><circle cx="102.83" cy="99.93" r="1.54"/><circle cx="113.17" cy="113.29" r="1.52"/><circle cx="68.23" cy="117.91" r="1.92"/><circle cx="42.06" cy="116.79" r="1.51"/><circle cx="57.41" cy="108.84" r="2.19"/><circle cx="34.03" cy="130.09" r="1.02"/><circle cx="57.23" cy="127.19" r="1.81"/><circle cx="85.81" cy="103.53" r="1.48"/><circle cx="103.91" cy="106.53" r="1.64"/><circle cx="61.01" cy="132.22" r="2.07"/><circle cx="39.24" cy="131.64" r="1.56"/><circle cx="64.98" cy="126.98" r="1.97"/><circle cx="75.37" cy="129.74" r="2.1"/><circle cx="81.92" cy="94.94" r="1.48"/><circle cx="89.63" cy="92.18" r="1.13"/><circle cx="34.5" cy="134.71" r="1.73"/><circle cx="64.62" cy="127.16" r="1.11"/><circle cx="44.61" cy="129.45" r="1.82"/><circle cx="84.26" cy="115.45" r="1.24"/><circle cx="57.08" cy="114.33" r="1.61"/><circle cx="49.44" cy="96.83" r="2.12"/><circle cx="47.51" cy="107.46" r="1.32"/><circle cx="85.87" cy="126.37" r="1.72"/><circle cx="35.47" cy="128.22" r="2.14"/><circle cx="43.56" cy="130.96" r="2.19"/><circle cx="53.26" cy="107.2" r="2.17"/><circle cx="53.09" cy="99.57" r="1.81"/><circle cx="59.83" cy="125.83" r="1.3"/><circle cx="52.03" cy="123.96" r="1.52"/><circle cx="88.44" cy="122.11" r="1.29"/><circle cx="50.05" cy="95.44" r="1.09"/><circle cx="92.04" cy="109.53" r="1"/><circle cx="35.54" cy="138.92" r="1.75"/><circle cx="50.73" cy="135.2" r="2.07"/><circle cx="37.54" cy="101.28" r="1.81"/><circle cx="97.33" cy="105.89" r="1.58"/><circle cx="60.78" cy="112.45" r="2"/><circle cx="80.87" cy="126.44" r="2.09"/><circle cx="35.86" cy="111.7" r="2.16"/><circle cx="72.46" cy="92.74" r="1.8"/><circle cx="79.02" cy="131.7" r="1.67"/><circle cx="56.44" cy="112.02" r="1.16"/><circle cx="67.69" cy="119.47" r="1.16"/><circle cx="37.25" cy="126.42" r="1.77"/><circle cx="97.17" cy="117.1" r="1.1"/><circle cx="76.23" cy="107.57" r="2.09"/><circle cx="51" cy="136.31" r="1.77"/><circle cx="57.55" cy="124.41" r="1.08"/><circle cx="55.56" cy="130.57" r="1.05"/><circle cx="101.61" cy="108.69" r="1.43"/><circle cx="54.66" cy="94.59" r="1.1"/><circle cx="37.63" cy="103.22" r="1.4"/><circle cx="64.34" cy="117.98" r="2"/><circle cx="63.36" cy="117.24" r="1.96"/><circle cx="70.24" cy="131.5" r="2.16"/><circle cx="107.42" cy="106.58" r="2.01"/><circle cx="109.85" cy="104.11" r="1.18"/><circle cx="93.51" cy="128.14" r="1.25"/><circle cx="114.46" cy="117.05" r="2.18"/><circle cx="74.5" cy="131.34" r="1.16"/><circle cx="100.18" cy="115.76" r="1.26"/><circle cx="68.36" cy="127.94" r="2.07"/><circle cx="96.15" cy="111.94" r="1.21"/><circle cx="108.34" cy="115.39" r="2.15"/><circle cx="81.64" cy="102.21" r="1.58"/><circle cx="88.12" cy="97.18" r="1.45"/><circle cx="99.22" cy="103.08" r="1.02"/><circle cx="51.45" cy="115.35" r="1.34"/><circle cx="76.45" cy="106.12" r="1.52"/><circle cx="95.97" cy="115.68" r="1.66"/><circle cx="99.44" cy="102.59" r="1.43"/><circle cx="44.37" cy="116.5" r="1.37"/><circle cx="88.82" cy="111.33" r="1.78"/><circle cx="80.83" cy="124.02" r="1.52"/><circle cx="67.75" cy="98" r="1.78"/><circle cx="59.73" cy="106.91" r="2.08"/><circle cx="67.66" cy="97.04" r="1.75"/><circle cx="66.19" cy="112.57" r="1.73"/><circle cx="57.83" cy="136.54" r="2.01"/><circle cx="45.87" cy="120.75" r="2.04"/><circle cx="71.71" cy="104.38" r="1.71"/><circle cx="79.09" cy="101.76" r="1.67"/><circle cx="74.53" cy="102.79" r="1.12"/><circle cx="105.6" cy="106.81" r="2.05"/><circle cx="48.12" cy="129.81" r="1.05"/><circle cx="107.21" cy="98.88" r="1.74"/><circle cx="95.09" cy="123.96" r="2.06"/><circle cx="87.05" cy="97.23" r="1.05"/><circle cx="50.5" cy="97.64" r="1.46"/><circle cx="43.22" cy="107.49" r="2.02"/><circle cx="91.21" cy="106.83" r="1.14"/><circle cx="40.57" cy="108.44" r="1.08"/><circle cx="60.12" cy="137.52" r="1.07"/><circle cx="45.87" cy="93.86" r="1.64"/><circle cx="65.41" cy="120.24" r="1.34"/><circle cx="60.47" cy="126.89" r="1.46"/><circle cx="49.46" cy="109.86" r="1.05"/><circle cx="79.41" cy="106.04" r="1.57"/><circle cx="77.14" cy="99.11" r="1.65"/><circle cx="55.55" cy="97.11" r="1.27"/><circle cx="61.26" cy="131.19" r="1.06"/><circle cx="73.13" cy="123.42" r="2.02"/><circle cx="44.74" cy="134.7" r="1.41"/><circle cx="43.49" cy="128.65" r="1.86"/><circle cx="77.1" cy="129.8" r="1.15"/><circle cx="57.11" cy="113.16" r="1.22"/><circle cx="42.76" cy="111.59" r="1.77"/><circle cx="74.96" cy="120.07" r="1.62"/><circle cx="95.26" cy="132.28" r="1.4"/><circle cx="41.73" cy="98.69" r="1.43"/><circle cx="67.82" cy="130.13" r="1.12"/><circle cx="50.75" cy="132.59" r="2.02"/><circle cx="54.93" cy="122.08" r="1.66"/><circle cx="54.18" cy="118.79" r="1.07"/><circle cx="110.84" cy="104.68" r="2.09"/><circle cx="107.01" cy="113.97" r="1.2"/><circle cx="37.66" cy="105.79" r="1.32"/><circle cx="62.63" cy="109.68" r="1.23"/><circle cx="52.44" cy="103.27" r="2.06"/><circle cx="79.59" cy="115.96" r="1.35"/><circle cx="85.11" cy="110.56" r="1.03"/><circle cx="46.56" cy="136.26" r="1.83"/><circle cx="90.63" cy="115.2" r="1.74"/><circle cx="34.83" cy="126.44" r="2"/><circle cx="84.29" cy="120.29" r="1.83"/><circle cx="97.96" cy="114.01" r="1.13"/><circle cx="85.78" cy="127.17" r="2.13"/><circle cx="35.16" cy="123.29" r="2.09"/><circle cx="36.68" cy="129.03" r="1.77"/><circle cx="101.53" cy="121.3" r="1.82"/><circle cx="98.42" cy="103.1" r="1.01"/><circle cx="91.97" cy="100.16" r="1.14"/><circle cx="42.09" cy="141.01" r="2.06"/><circle cx="72.43" cy="131.89" r="1.35"/><circle cx="42.69" cy="125.35" r="1.33"/><circle cx="37.28" cy="131.53" r="1"/><circle cx="87.68" cy="101.39" r="1.34"/><circle cx="62.94" cy="132.59" r="1.77"/><circle cx="39.63" cy="108.72" r="1.65"/><circle cx="112.53" cy="115.45" r="1.97"/><circle cx="53.54" cy="99.09" r="1.95"/><circle cx="51.48" cy="118.6" r="1.5"/><circle cx="51.39" cy="95.04" r="1.93"/><circle cx="51.8" cy="122.39" r="1.32"/><circle cx="100.81" cy="110.87" r="1.24"/><circle cx="88.57" cy="101.39" r="1.08"/><circle cx="40.83" cy="114.19" r="1.1"/><circle cx="38.1" cy="124.41" r="1.95"/><circle cx="65.59" cy="92.8" r="1.8"/><circle cx="73.44" cy="97.94" r="1.29"/><circle cx="80.34" cy="131.34" r="1.93"/><circle cx="51.69" cy="138.39" r="2.11"/><circle cx="40.64" cy="108.61" r="1.32"/><circle cx="105.25" cy="117.84" r="2.19"/><circle cx="86.51" cy="131.5" r="1.53"/></g>
<g fill="#000" filter="url(#engr)" opacity="0.7"><circle cx="46.69" cy="129.63" r="1.76"/><circle cx="72.77" cy="103.1" r="1.95"/><circle cx="100.05" cy="119.7" r="1.61"/><circle cx="63.8" cy="123.78" r="1.08"/><circle cx="98.88" cy="104.01" r="1.28"/><circle cx="84.12" cy="92.91" r="1.39"/><circle cx="74.3" cy="97.49" r="2.14"/><circle cx="63.58" cy="99.67" r="1.98"/><circle cx="70.61" cy="121.91" r="1.41"/><circle cx="73.23" cy="101.47" r="1.04"/><circle cx="104.87" cy="104.15" r="1.94"/><circle cx="96.31" cy="123.52" r="1.88"/><circle cx="43.17" cy="117.67" r="1.99"/><circle cx="106.67" cy="113.94" r="1.44"/><circle cx="70.46" cy="112.6" r="2.19"/><circle cx="65.09" cy="92.5" r="1.11"/><circle cx="74.17" cy="118.53" r="1.66"/><circle cx="95.1" cy="103.43" r="1.73"/><circle cx="79.19" cy="125.87" r="1.22"/><circle cx="47.12" cy="110.5" r="2.11"/><circle cx="61.77" cy="124.45" r="1.37"/><circle cx="41.57" cy="94.68" r="1.98"/><circle cx="97.49" cy="111.99" r="1.82"/><circle cx="112.54" cy="113.79" r="2.19"/><circle cx="106.3" cy="118.49" r="1.45"/><circle cx="53.52" cy="140.06" r="1.19"/><circle cx="38.75" cy="136.1" r="1.93"/><circle cx="37.33" cy="105.45" r="1.35"/><circle cx="67.82" cy="100.56" r="1.08"/><circle cx="72.75" cy="105.12" r="2.15"/><circle cx="76.63" cy="131.8" r="1.03"/><circle cx="50.6" cy="137.94" r="1.95"/><circle cx="68.36" cy="123.54" r="2.02"/><circle cx="58.56" cy="120.92" r="1.33"/><circle cx="34.95" cy="124.25" r="1.77"/><circle cx="103.69" cy="123.72" r="1.31"/><circle cx="108.17" cy="98.48" r="1.11"/><circle cx="40.8" cy="92.42" r="1.54"/><circle cx="44.69" cy="139.57" r="1.79"/><circle cx="43.5" cy="121.16" r="1.39"/><circle cx="73.99" cy="103.3" r="1.2"/><circle cx="48.27" cy="112.16" r="1.85"/><circle cx="78.65" cy="93.59" r="1.85"/><circle cx="71.5" cy="94.56" r="1.92"/><circle cx="47.55" cy="130.84" r="1.3"/><circle cx="90.83" cy="108.56" r="1.05"/><circle cx="65.28" cy="108.33" r="2.08"/><circle cx="57.49" cy="119.17" r="1.66"/><circle cx="111.7" cy="96.52" r="1.72"/><circle cx="75.18" cy="132.14" r="2.16"/><circle cx="58.74" cy="130.17" r="1.63"/><circle cx="79.54" cy="94.57" r="1.98"/><circle cx="114.08" cy="110.89" r="1.38"/><circle cx="39.32" cy="95.11" r="1.98"/><circle cx="96.07" cy="116.09" r="1.75"/><circle cx="34.64" cy="127.1" r="1.53"/><circle cx="75.95" cy="112.81" r="1.48"/><circle cx="51.72" cy="93.73" r="1.52"/><circle cx="53.51" cy="130.43" r="1.98"/><circle cx="93.07" cy="116.54" r="1.28"/><circle cx="64.99" cy="118.26" r="1.76"/><circle cx="112.94" cy="95.78" r="1.58"/><circle cx="73.83" cy="131.16" r="2.07"/><circle cx="97.7" cy="126.1" r="1.91"/><circle cx="91.02" cy="129.25" r="1.29"/><circle cx="109.08" cy="112.61" r="1.74"/><circle cx="58.95" cy="108.46" r="1.47"/><circle cx="45.07" cy="121.98" r="1.1"/><circle cx="94.62" cy="116.89" r="1.13"/><circle cx="50.08" cy="109.78" r="1.77"/><circle cx="89.58" cy="105.61" r="2.14"/><circle cx="59.74" cy="105.24" r="2.01"/><circle cx="45.73" cy="129.15" r="1.24"/><circle cx="82.63" cy="106.54" r="1.45"/><circle cx="111.08" cy="117.15" r="1.52"/><circle cx="84.22" cy="106.72" r="1.21"/><circle cx="64.92" cy="106.25" r="1.23"/><circle cx="112.75" cy="92.93" r="1.97"/><circle cx="34.58" cy="119.07" r="1.05"/><circle cx="83.45" cy="130.22" r="1.29"/><circle cx="40.85" cy="108.3" r="1.54"/><circle cx="107.24" cy="111.72" r="1.16"/><circle cx="76.94" cy="93.75" r="1.23"/><circle cx="66.45" cy="121.91" r="1.27"/><circle cx="34.46" cy="123.6" r="1.1"/><circle cx="96.02" cy="101.54" r="1.07"/><circle cx="84.48" cy="117.38" r="1.96"/><circle cx="61.05" cy="106.1" r="1.42"/><circle cx="57.73" cy="126.12" r="2.07"/><circle cx="38.89" cy="94.79" r="1.61"/><circle cx="89.27" cy="101.63" r="1.32"/><circle cx="37.88" cy="93.08" r="1.59"/><circle cx="89.5" cy="127.58" r="1.19"/><circle cx="77.7" cy="113.87" r="1.83"/><circle cx="93.41" cy="120.38" r="1.09"/><circle cx="101.66" cy="102.97" r="1.05"/><circle cx="62.24" cy="120.82" r="1.75"/><circle cx="47.45" cy="130.74" r="1.59"/><circle cx="46.45" cy="138.65" r="1.97"/><circle cx="51.04" cy="134.55" r="2.08"/><circle cx="113.52" cy="112.85" r="2.13"/><circle cx="83.93" cy="125" r="1.91"/><circle cx="86.69" cy="100.04" r="2.12"/><circle cx="63.08" cy="95.64" r="1.49"/><circle cx="47.8" cy="121.23" r="1.98"/><circle cx="63.06" cy="98.34" r="1.03"/><circle cx="68.1" cy="123.5" r="1.03"/><circle cx="88.23" cy="102.81" r="1.13"/><circle cx="110" cy="120.29" r="2.07"/><circle cx="75.66" cy="97.88" r="1.29"/><circle cx="68.21" cy="126.89" r="1.93"/><circle cx="95.36" cy="127.44" r="1.3"/><circle cx="68.7" cy="112.17" r="1.59"/><circle cx="55.04" cy="121.12" r="1.55"/><circle cx="35.95" cy="137.08" r="1.7"/><circle cx="99.63" cy="132.25" r="1.88"/><circle cx="88.14" cy="123.56" r="1.69"/><circle cx="51.86" cy="132.11" r="1.97"/><circle cx="73.08" cy="94.08" r="1.44"/><circle cx="101.59" cy="118.99" r="1.55"/><circle cx="65.32" cy="126.19" r="1.72"/><circle cx="95.36" cy="112" r="1.3"/><circle cx="110.04" cy="102.13" r="2.02"/><circle cx="106.92" cy="95.32" r="1.37"/><circle cx="85.59" cy="99.18" r="2"/><circle cx="54.98" cy="129.21" r="1.35"/><circle cx="51.11" cy="102.59" r="1.6"/><circle cx="92.18" cy="103.2" r="1.82"/><circle cx="60.81" cy="127.36" r="1.44"/><circle cx="49.04" cy="98.9" r="1.07"/><circle cx="90.8" cy="114.17" r="1.15"/><circle cx="34.76" cy="131.59" r="1.71"/><circle cx="69.83" cy="119.04" r="2.15"/><circle cx="64.03" cy="126.63" r="1.76"/><circle cx="63.36" cy="110.4" r="1.91"/><circle cx="85.77" cy="116.59" r="1.62"/><circle cx="51.55" cy="135.21" r="1.02"/><circle cx="86.38" cy="116.48" r="1.27"/><circle cx="81.7" cy="123.65" r="1.1"/><circle cx="73.68" cy="100.24" r="1.96"/><circle cx="60.14" cy="109.39" r="1.26"/><circle cx="36.99" cy="101.45" r="1.18"/><circle cx="51.34" cy="97.26" r="1.64"/><circle cx="42.6" cy="113.69" r="1.91"/><circle cx="49.86" cy="130.18" r="1.65"/><circle cx="40.05" cy="104.58" r="1.72"/><circle cx="40.99" cy="102.41" r="1.69"/><circle cx="100.9" cy="120.14" r="1.8"/><circle cx="35.85" cy="118.91" r="2.07"/><circle cx="97.02" cy="123.46" r="1.22"/><circle cx="109.88" cy="95.47" r="2.16"/><circle cx="97.43" cy="131.3" r="1.64"/><circle cx="46.61" cy="110.09" r="1.8"/><circle cx="87.45" cy="112.8" r="1.96"/><circle cx="37.43" cy="107.09" r="1.11"/><circle cx="59.96" cy="135.4" r="1.9"/><circle cx="45.4" cy="108.27" r="1.13"/><circle cx="87.94" cy="115.78" r="1.28"/><circle cx="68.29" cy="129.69" r="1.75"/><circle cx="72.31" cy="122.16" r="1.44"/><circle cx="49.46" cy="118.69" r="1.37"/><circle cx="60.4" cy="101.45" r="2.1"/><circle cx="68.32" cy="102.21" r="1.04"/><circle cx="50.78" cy="139.63" r="1.4"/><circle cx="88.37" cy="103.91" r="1.78"/><circle cx="70.37" cy="132.24" r="1.63"/><circle cx="64.16" cy="106.69" r="1.71"/><circle cx="72.85" cy="109.4" r="2.07"/><circle cx="103.24" cy="99.16" r="1.82"/><circle cx="97.08" cy="128.84" r="2.16"/><circle cx="105.96" cy="104.78" r="2.2"/><circle cx="60.19" cy="112.27" r="2.17"/><circle cx="46.88" cy="113.14" r="1.75"/><circle cx="55.65" cy="105.95" r="1.95"/><circle cx="83.84" cy="132.66" r="1.95"/><circle cx="74.44" cy="130.29" r="1.62"/><circle cx="68.74" cy="128.19" r="1.35"/><circle cx="43.75" cy="112.63" r="1.16"/><circle cx="70.71" cy="133.75" r="1.06"/><circle cx="85.85" cy="97.23" r="1.61"/><circle cx="57.55" cy="115.97" r="1.85"/><circle cx="67.31" cy="112.94" r="1.87"/><circle cx="42.62" cy="110.54" r="1.84"/><circle cx="54.34" cy="126.01" r="1.38"/><circle cx="44.21" cy="110.32" r="2.12"/><circle cx="62.25" cy="126.4" r="1.98"/><circle cx="56.13" cy="134.87" r="1"/><circle cx="61.26" cy="100.35" r="1.42"/><circle cx="50.69" cy="92.42" r="1.96"/><circle cx="47.4" cy="123.1" r="1.67"/><circle cx="84.6" cy="100.46" r="1.91"/><circle cx="58.59" cy="105.15" r="1.26"/><circle cx="93.53" cy="104.67" r="1.39"/><circle cx="58.25" cy="115.27" r="2.05"/><circle cx="71.26" cy="129.8" r="1.94"/><circle cx="48.51" cy="125.49" r="2.18"/><circle cx="40.03" cy="131.02" r="1.58"/><circle cx="108.46" cy="100.35" r="1.66"/><circle cx="43.01" cy="136.05" r="1.87"/><circle cx="35.59" cy="108.34" r="1.17"/><circle cx="85.74" cy="126.28" r="1.08"/><circle cx="69.58" cy="123.15" r="1.44"/><circle cx="83.31" cy="113.31" r="1.53"/><circle cx="95.23" cy="101.44" r="1.36"/><circle cx="96.38" cy="103.6" r="1.08"/><circle cx="108.66" cy="99.93" r="1.49"/><circle cx="59.02" cy="105.65" r="1.42"/><circle cx="77.6" cy="97.5" r="1.64"/><circle cx="37.24" cy="95.42" r="1.24"/><circle cx="52.94" cy="110.13" r="1.35"/><circle cx="89.93" cy="108.66" r="1.74"/><circle cx="94.87" cy="120.92" r="1.9"/><circle cx="54.92" cy="128.61" r="2.17"/><circle cx="40.86" cy="131.52" r="1.32"/><circle cx="95.27" cy="114.71" r="1.64"/><circle cx="53.63" cy="105.39" r="2.04"/><circle cx="86.4" cy="126.21" r="1.14"/><circle cx="49.87" cy="121.12" r="1.84"/><circle cx="75.37" cy="122.04" r="2.16"/><circle cx="97.86" cy="104.27" r="1.52"/><circle cx="67.83" cy="129.29" r="1.81"/><circle cx="54.66" cy="129.77" r="1.52"/><circle cx="34.27" cy="107.34" r="1.45"/><circle cx="49.34" cy="128.56" r="2.19"/><circle cx="104.15" cy="118.53" r="1.7"/><circle cx="107.18" cy="94.34" r="1.43"/><circle cx="64.05" cy="110.1" r="1.51"/><circle cx="37.74" cy="129.03" r="2.15"/><circle cx="52.44" cy="101.4" r="1.4"/><circle cx="99.11" cy="103.68" r="1.93"/><circle cx="47.33" cy="124.32" r="1.87"/><circle cx="88.93" cy="95.73" r="2.15"/><circle cx="103.38" cy="117.94" r="2.03"/><circle cx="82.88" cy="100.44" r="1.48"/><circle cx="101.12" cy="116.97" r="1.05"/><circle cx="46.76" cy="101.43" r="1.7"/><circle cx="86.44" cy="116.08" r="1.48"/><circle cx="112.91" cy="110.2" r="1.81"/><circle cx="49.98" cy="119.79" r="1.22"/><circle cx="42.41" cy="109.86" r="1.14"/><circle cx="64.64" cy="127.56" r="1.66"/><circle cx="99.04" cy="117.73" r="1.1"/><circle cx="93.37" cy="113.51" r="1.9"/><circle cx="113.96" cy="120.36" r="1.3"/><circle cx="62.7" cy="118.92" r="1.38"/><circle cx="41.42" cy="113.31" r="1.79"/><circle cx="67.15" cy="127.08" r="1.06"/><circle cx="98.9" cy="130.65" r="1.32"/><circle cx="72.2" cy="106.22" r="1.95"/><circle cx="64.55" cy="110.18" r="2.13"/><circle cx="108.07" cy="101.62" r="1.43"/><circle cx="98.42" cy="133.36" r="1.34"/><circle cx="40.49" cy="106.35" r="1.8"/><circle cx="113.7" cy="109.45" r="1.27"/><circle cx="54.54" cy="134.82" r="1.17"/><circle cx="49.69" cy="126.21" r="1.64"/><circle cx="113.2" cy="119.75" r="1.59"/><circle cx="45.05" cy="136.01" r="1.48"/><circle cx="73.94" cy="114.3" r="1.27"/><circle cx="55.93" cy="102.54" r="1.2"/><circle cx="93.6" cy="93.88" r="1.72"/><circle cx="82.62" cy="132.19" r="1.68"/><circle cx="109.96" cy="106.75" r="1.11"/><circle cx="81.35" cy="106.08" r="2.19"/><circle cx="102.19" cy="104.69" r="1.58"/><circle cx="64.78" cy="110.33" r="1.45"/><circle cx="72.65" cy="127.62" r="1.03"/><circle cx="77.76" cy="98.16" r="2.16"/><circle cx="78.8" cy="123.99" r="1.38"/><circle cx="91.58" cy="130.76" r="2.09"/><circle cx="81.2" cy="106.11" r="1.75"/><circle cx="37.18" cy="132.67" r="1.37"/><circle cx="92.71" cy="98.39" r="1.72"/><circle cx="47.03" cy="93.05" r="1.32"/><circle cx="103.42" cy="112.76" r="1.63"/><circle cx="54.51" cy="129.87" r="1.94"/><circle cx="98.89" cy="110.42" r="1.57"/><circle cx="98.07" cy="105.05" r="1.58"/><circle cx="53.23" cy="128.26" r="1.26"/><circle cx="46.02" cy="117.71" r="1.78"/><circle cx="46.64" cy="120.7" r="1.58"/><circle cx="44.94" cy="105.59" r="1.05"/><circle cx="86.42" cy="127.83" r="1.27"/><circle cx="103.83" cy="108.57" r="2.04"/><circle cx="43.81" cy="110.48" r="1.5"/><circle cx="112.27" cy="107.73" r="1.46"/><circle cx="50.2" cy="136.89" r="1.22"/><circle cx="103.36" cy="110.09" r="1.66"/><circle cx="105.76" cy="105.93" r="1.63"/><circle cx="85.78" cy="123.35" r="1.49"/><circle cx="86.61" cy="108.62" r="1.19"/><circle cx="46.01" cy="128.68" r="1.54"/><circle cx="76.08" cy="115.4" r="1.77"/><circle cx="45.27" cy="139.88" r="1.62"/><circle cx="36.52" cy="117.96" r="2.13"/><circle cx="114.24" cy="114.87" r="1.32"/><circle cx="110.72" cy="106.93" r="1.02"/><circle cx="53.51" cy="117.36" r="1.81"/><circle cx="38.55" cy="109.72" r="1.87"/><circle cx="61.58" cy="100.84" r="1.85"/><circle cx="69.23" cy="129.92" r="1.58"/><circle cx="100.43" cy="119.68" r="2.17"/><circle cx="73.7" cy="125.14" r="1.45"/><circle cx="39.34" cy="140.54" r="1.97"/><circle cx="39.7" cy="112.19" r="1.69"/><circle cx="100.93" cy="120.16" r="1.95"/><circle cx="64.02" cy="128.91" r="1.96"/><circle cx="82.82" cy="92.17" r="1.79"/><circle cx="42.52" cy="133.75" r="1.2"/><circle cx="92.69" cy="95.05" r="1.25"/><circle cx="38.94" cy="125.4" r="1.48"/><circle cx="84.62" cy="95.33" r="1.02"/><circle cx="39.53" cy="140.9" r="1.59"/><circle cx="83.84" cy="98.47" r="1.82"/><circle cx="107.79" cy="102.08" r="1.94"/><circle cx="79.96" cy="127.12" r="1.41"/><circle cx="97.81" cy="108.39" r="1.75"/><circle cx="98.34" cy="96.37" r="1.21"/><circle cx="62.65" cy="113.19" r="1.86"/><circle cx="54.55" cy="122.3" r="1.54"/><circle cx="58.33" cy="126.97" r="1.52"/><circle cx="114.31" cy="98.24" r="2.08"/><circle cx="85.88" cy="116.7" r="1.09"/><circle cx="62.04" cy="130.9" r="1.64"/><circle cx="40.49" cy="139.12" r="1.37"/><circle cx="72.86" cy="133.64" r="2.05"/><circle cx="103.87" cy="111.58" r="2.02"/><circle cx="45.68" cy="121.89" r="1.52"/><circle cx="61.86" cy="115.87" r="1.12"/><circle cx="62.11" cy="102.17" r="1.88"/><circle cx="82.82" cy="115.99" r="1.14"/><circle cx="70.07" cy="122.57" r="1.17"/><circle cx="114.06" cy="111.21" r="1.52"/><circle cx="56.67" cy="111.89" r="1.33"/><circle cx="103.89" cy="95.01" r="1.44"/><circle cx="82.6" cy="117.85" r="1.39"/><circle cx="73.18" cy="94.5" r="1.37"/><circle cx="69.12" cy="133.93" r="1.52"/><circle cx="67.47" cy="127.63" r="1.33"/><circle cx="78.67" cy="101.91" r="1.74"/><circle cx="77.74" cy="127.63" r="2.05"/><circle cx="69.92" cy="111.53" r="1.55"/><circle cx="99.82" cy="107.87" r="1.14"/><circle cx="49.91" cy="128.64" r="1.84"/><circle cx="36.46" cy="117.06" r="1.12"/><circle cx="100.64" cy="120.65" r="1.73"/><circle cx="109.95" cy="97.99" r="1.26"/><circle cx="98.31" cy="125.01" r="1.53"/><circle cx="62.56" cy="125.69" r="2.13"/><circle cx="114.21" cy="98.37" r="1.03"/><circle cx="101.82" cy="104.84" r="1.63"/><circle cx="69.74" cy="98.54" r="1.25"/><circle cx="63.86" cy="131.73" r="1.68"/><circle cx="104.22" cy="118.41" r="1.04"/><circle cx="70.07" cy="111.11" r="1.43"/><circle cx="51.97" cy="119.04" r="2.15"/><circle cx="82.03" cy="133.99" r="1.22"/><circle cx="63.67" cy="123.49" r="1.46"/><circle cx="43.71" cy="127.9" r="2.18"/><circle cx="57.03" cy="106.1" r="1.4"/><circle cx="45.01" cy="104.72" r="2.08"/><circle cx="55.98" cy="128.36" r="1.87"/><circle cx="90.66" cy="117.16" r="1.12"/><circle cx="76.74" cy="97.15" r="1.39"/><circle cx="35.92" cy="119.84" r="1.56"/><circle cx="56.61" cy="103.39" r="1.08"/><circle cx="35.31" cy="98.1" r="2.18"/><circle cx="35.75" cy="131.12" r="1.55"/><circle cx="81.77" cy="108.07" r="2.18"/><circle cx="100.04" cy="113.66" r="1.52"/><circle cx="109.19" cy="99.75" r="2.05"/><circle cx="84.39" cy="122.75" r="1.64"/><circle cx="82.04" cy="96.08" r="1.3"/><circle cx="62.35" cy="103.4" r="1.1"/><circle cx="92.16" cy="114.59" r="1.89"/><circle cx="53.27" cy="119.69" r="1.51"/><circle cx="98.66" cy="98.33" r="1.66"/><circle cx="70.66" cy="125.97" r="1.28"/><circle cx="113.24" cy="116.09" r="1.1"/><circle cx="97.73" cy="97.47" r="1.72"/><circle cx="45.31" cy="96.58" r="1.63"/><circle cx="57.74" cy="127.91" r="1.63"/><circle cx="83.4" cy="116.69" r="1.26"/><circle cx="88.32" cy="109.97" r="1.72"/><circle cx="61.48" cy="136.56" r="1.66"/><circle cx="95.63" cy="102.37" r="1.4"/><circle cx="40.09" cy="109.77" r="1.19"/><circle cx="57.88" cy="135.46" r="1.14"/><circle cx="97.02" cy="104.34" r="1.35"/><circle cx="70.97" cy="125.65" r="2.11"/><circle cx="34.69" cy="95.82" r="1.99"/><circle cx="34.87" cy="141.05" r="1.22"/><circle cx="114.03" cy="117.37" r="1.73"/><circle cx="67.42" cy="116.77" r="1.95"/><circle cx="54.27" cy="108.06" r="2.05"/><circle cx="61.54" cy="110.2" r="1.13"/><circle cx="102.1" cy="93.72" r="1.22"/><circle cx="35" cy="116.61" r="2.19"/><circle cx="38.85" cy="105.12" r="1.32"/><circle cx="91.21" cy="110.96" r="1.21"/><circle cx="46.7" cy="94.54" r="1.49"/><circle cx="110.57" cy="94.33" r="1.17"/><circle cx="86.58" cy="133.64" r="1.54"/><circle cx="36.74" cy="121.85" r="1.12"/><circle cx="39.13" cy="94.18" r="2.12"/><circle cx="41.53" cy="117.61" r="1.99"/><circle cx="49.66" cy="112.84" r="1.95"/><circle cx="79.86" cy="101.88" r="1.64"/><circle cx="112.89" cy="92.32" r="1.07"/><circle cx="112.87" cy="107.36" r="1.66"/><circle cx="105.82" cy="114.82" r="1.92"/><circle cx="45.83" cy="115.92" r="1.87"/><circle cx="71.85" cy="101.38" r="2.03"/><circle cx="59.11" cy="137.34" r="1.15"/><circle cx="85.09" cy="114.19" r="2.18"/><circle cx="51.47" cy="96" r="1.74"/><circle cx="44.12" cy="94.39" r="1.67"/><circle cx="111.38" cy="106.17" r="1.99"/><circle cx="39.75" cy="98.51" r="2.15"/><circle cx="113.11" cy="100.6" r="1.22"/><circle cx="92.12" cy="96.43" r="1.12"/><circle cx="46.28" cy="123.38" r="1.45"/><circle cx="102.93" cy="99.56" r="2.08"/><circle cx="98.35" cy="111.98" r="1.73"/><circle cx="89.17" cy="97.83" r="2.12"/><circle cx="69.55" cy="119.83" r="2.02"/><circle cx="34.74" cy="105.96" r="1.04"/><circle cx="94.13" cy="103.24" r="1.86"/><circle cx="47.96" cy="114.18" r="1.95"/><circle cx="69.88" cy="100.85" r="1.81"/><circle cx="98.94" cy="116.05" r="1.46"/><circle cx="43.97" cy="113.73" r="2.01"/><circle cx="62.69" cy="117.66" r="1.93"/><circle cx="68.04" cy="116.28" r="1.16"/><circle cx="48.82" cy="108.66" r="1.08"/><circle cx="70.67" cy="117.93" r="2.19"/><circle cx="49.63" cy="115.52" r="1.84"/><circle cx="39.15" cy="122.98" r="1.75"/><circle cx="35.24" cy="102.38" r="1.94"/><circle cx="46.43" cy="126.71" r="1.51"/><circle cx="101.12" cy="122.05" r="1.12"/><circle cx="54.91" cy="124.06" r="1.24"/><circle cx="93.78" cy="129.52" r="2.07"/><circle cx="82.27" cy="97.18" r="1.96"/><circle cx="76.12" cy="109.16" r="1.53"/><circle cx="79.6" cy="130.12" r="1.76"/><circle cx="104.53" cy="121.01" r="1.25"/><circle cx="46.12" cy="116.81" r="2.02"/><circle cx="80.89" cy="97.84" r="2.04"/><circle cx="93.68" cy="102.04" r="1.83"/><circle cx="104.68" cy="123.23" r="2.14"/><circle cx="72.32" cy="94.38" r="1.2"/><circle cx="37.09" cy="142.83" r="1.97"/><circle cx="70.64" cy="122.57" r="1.03"/><circle cx="46.3" cy="113.41" r="1.06"/><circle cx="59.48" cy="120.06" r="1.19"/><circle cx="47.75" cy="95.79" r="1.55"/><circle cx="102.48" cy="116.05" r="1.85"/><circle cx="99.06" cy="119.03" r="1.06"/><circle cx="47" cy="106.58" r="1.4"/><circle cx="82.71" cy="118.88" r="1.35"/><circle cx="46.91" cy="132.35" r="2.19"/><circle cx="91.24" cy="98.88" r="1.83"/><circle cx="99.36" cy="121.12" r="1.76"/><circle cx="104.55" cy="117.81" r="1.85"/><circle cx="47.04" cy="137.83" r="1.69"/><circle cx="48.86" cy="125.98" r="1.99"/><circle cx="69.98" cy="108.48" r="1.85"/><circle cx="58.71" cy="118.21" r="1.45"/><circle cx="44.8" cy="121.58" r="1.35"/><circle cx="49.84" cy="101.37" r="1.08"/><circle cx="91.59" cy="107.02" r="1.26"/><circle cx="110.35" cy="120.52" r="1.26"/><circle cx="96.48" cy="103.2" r="1.08"/><circle cx="64.04" cy="132.37" r="1.76"/><circle cx="67.06" cy="98.04" r="1.21"/><circle cx="82.85" cy="118.68" r="1.65"/><circle cx="94.64" cy="123.1" r="2.04"/><circle cx="109.34" cy="120.07" r="1.43"/><circle cx="74.84" cy="104.98" r="1.21"/><circle cx="92.78" cy="115.72" r="1.03"/><circle cx="65.6" cy="109" r="1.07"/><circle cx="34.87" cy="125.37" r="1.97"/><circle cx="51.73" cy="126.73" r="1.32"/><circle cx="52.15" cy="109.41" r="1.16"/><circle cx="90.42" cy="132.56" r="1.13"/><circle cx="89.46" cy="102.21" r="1.61"/><circle cx="81.48" cy="120.41" r="1.78"/><circle cx="40.17" cy="111.76" r="1.86"/><circle cx="82.13" cy="108.71" r="1.01"/><circle cx="36.66" cy="140.96" r="1.33"/><circle cx="38.9" cy="107.33" r="1.25"/><circle cx="78.11" cy="93.75" r="1.65"/><circle cx="86.68" cy="121.02" r="1.72"/><circle cx="53.05" cy="112.91" r="1.9"/><circle cx="56.68" cy="137.26" r="1.23"/><circle cx="88.07" cy="106.45" r="1.44"/><circle cx="56.4" cy="133.08" r="1.44"/><circle cx="101.95" cy="120.7" r="1.34"/><circle cx="90.06" cy="115.4" r="1.06"/><circle cx="70.35" cy="101.44" r="1.09"/><circle cx="88.53" cy="115.29" r="1.7"/><circle cx="65.13" cy="122.55" r="1.31"/><circle cx="69.88" cy="122.14" r="1.45"/><circle cx="109.83" cy="97" r="2.09"/><circle cx="51.13" cy="97.22" r="1.5"/><circle cx="86.69" cy="97.45" r="1.77"/><circle cx="101.69" cy="99.87" r="1.4"/><circle cx="53.5" cy="111.73" r="2.06"/><circle cx="79.63" cy="125.06" r="2.17"/><circle cx="70.32" cy="97.6" r="1.12"/><circle cx="45.07" cy="117.66" r="1.11"/><circle cx="90.48" cy="101.84" r="1.05"/><circle cx="92.77" cy="116.92" r="1.91"/><circle cx="80.91" cy="112.37" r="1.08"/><circle cx="54.7" cy="95.6" r="1.76"/><circle cx="43.49" cy="101.32" r="1.56"/><circle cx="42.25" cy="118.11" r="1.98"/><circle cx="54.64" cy="136.79" r="1.31"/><circle cx="100.74" cy="95.27" r="1.14"/><circle cx="36.83" cy="123.47" r="1.03"/><circle cx="90.61" cy="114.4" r="2.09"/><circle cx="95.43" cy="111.97" r="1.93"/><circle cx="82.78" cy="124.21" r="1.51"/><circle cx="45.78" cy="120.27" r="1.62"/><circle cx="79.35" cy="96.52" r="1.68"/><circle cx="48.59" cy="118.76" r="1.58"/><circle cx="38.95" cy="140.1" r="2.12"/><circle cx="45.56" cy="95.55" r="1.56"/><circle cx="35.64" cy="97.99" r="1.61"/><circle cx="50.36" cy="124.62" r="1.25"/><circle cx="88.29" cy="125.95" r="1.09"/><circle cx="90.12" cy="108.87" r="1.5"/><circle cx="71.16" cy="93.74" r="1.76"/><circle cx="43.8" cy="138.92" r="1.12"/><circle cx="84.68" cy="122" r="1.04"/><circle cx="42.46" cy="118.77" r="1.47"/><circle cx="45.87" cy="96.67" r="1.28"/><circle cx="100.55" cy="98.67" r="1.91"/><circle cx="42.47" cy="136.74" r="1.93"/><circle cx="106.19" cy="112.86" r="2.17"/><circle cx="67.38" cy="126.33" r="1.99"/><circle cx="45.57" cy="93.55" r="1.83"/><circle cx="51.84" cy="103.28" r="1.59"/><circle cx="47.28" cy="106.15" r="1.24"/><circle cx="40.58" cy="136.67" r="2.01"/><circle cx="93.75" cy="115.62" r="2.11"/><circle cx="78.07" cy="122.05" r="1.03"/><circle cx="62.5" cy="103.14" r="1.79"/><circle cx="59.51" cy="137.61" r="1.1"/><circle cx="99.86" cy="93.41" r="2.16"/><circle cx="73.03" cy="127.83" r="1.48"/><circle cx="95.31" cy="121.12" r="1.55"/><circle cx="56.11" cy="105.43" r="2.19"/><circle cx="60.99" cy="111.6" r="1.66"/><circle cx="57.04" cy="116.54" r="1.33"/><circle cx="110.47" cy="105.97" r="1.93"/><circle cx="90.49" cy="126.04" r="1.59"/><circle cx="109.4" cy="122.56" r="2.13"/><circle cx="41.76" cy="111.06" r="1.16"/><circle cx="92.79" cy="116.7" r="1.38"/><circle cx="60.98" cy="118.12" r="1.37"/><circle cx="73.94" cy="125.87" r="1.02"/><circle cx="51.24" cy="120.38" r="1.79"/><circle cx="82.19" cy="132.04" r="1.52"/><circle cx="74.9" cy="122.95" r="1.97"/><circle cx="56.31" cy="106.82" r="1.6"/><circle cx="74.99" cy="93.9" r="1.6"/><circle cx="77.81" cy="130.22" r="1.45"/><circle cx="38.95" cy="137.07" r="1.65"/><circle cx="83.69" cy="125.33" r="2.17"/><circle cx="58.07" cy="122.94" r="1.88"/><circle cx="36.41" cy="135.61" r="1.05"/><circle cx="59.35" cy="110.75" r="1.96"/><circle cx="106.78" cy="122.05" r="1.67"/><circle cx="88.2" cy="92.48" r="1.45"/><circle cx="70.51" cy="93.72" r="1.37"/><circle cx="56.23" cy="98.2" r="1.23"/><circle cx="63.77" cy="128.04" r="2.02"/><circle cx="59.48" cy="135.05" r="1.86"/><circle cx="41.54" cy="102.19" r="2.05"/><circle cx="44.68" cy="126.09" r="1.7"/><circle cx="100.81" cy="98.64" r="1.87"/><circle cx="112.52" cy="95.62" r="1.56"/><circle cx="113.33" cy="107.95" r="1.41"/><circle cx="57.48" cy="111.98" r="1.52"/><circle cx="74.96" cy="105.4" r="1.6"/><circle cx="110.17" cy="110.54" r="1.3"/><circle cx="114.63" cy="108.03" r="1"/><circle cx="94.24" cy="127.99" r="1.47"/><circle cx="80.36" cy="125.32" r="1.5"/><circle cx="48.22" cy="107.47" r="1.87"/><circle cx="74.04" cy="120.21" r="1.79"/><circle cx="110.74" cy="97.65" r="1.11"/><circle cx="96.85" cy="103.15" r="1.68"/><circle cx="75.1" cy="128.52" r="1.77"/><circle cx="66.14" cy="124.86" r="2.12"/><circle cx="102.74" cy="116.56" r="1.88"/><circle cx="77.93" cy="119.68" r="1.73"/><circle cx="95.83" cy="111.86" r="1.76"/><circle cx="54.12" cy="95.42" r="1.09"/><circle cx="47.83" cy="113.73" r="1.16"/><circle cx="97.83" cy="129.42" r="1.46"/><circle cx="47.88" cy="114.27" r="2.05"/><circle cx="75.17" cy="110.06" r="2.08"/><circle cx="88.67" cy="94.16" r="1.08"/><circle cx="69.34" cy="120.71" r="1.16"/><circle cx="83.19" cy="113.9" r="1.43"/><circle cx="50.56" cy="124.12" r="2"/><circle cx="77.22" cy="124.94" r="1.67"/><circle cx="91.9" cy="130.03" r="1.01"/><circle cx="113.17" cy="118.56" r="1.06"/><circle cx="93.05" cy="133.58" r="1.44"/><circle cx="82.8" cy="93.22" r="1.89"/><circle cx="40.39" cy="109.12" r="1.27"/><circle cx="52.14" cy="96.11" r="1.78"/><circle cx="62.35" cy="118.96" r="1.63"/><circle cx="82.91" cy="131.81" r="1.52"/><circle cx="34.62" cy="108.71" r="1.01"/><circle cx="80.52" cy="129.71" r="1.68"/><circle cx="113.71" cy="100.36" r="1.69"/><circle cx="60.62" cy="116.66" r="1.26"/><circle cx="97.88" cy="109.65" r="1.32"/><circle cx="88.32" cy="102.27" r="1.16"/><circle cx="95.37" cy="95.72" r="1.95"/><circle cx="69.31" cy="120.78" r="1.03"/><circle cx="34.13" cy="120" r="1.77"/><circle cx="38.67" cy="139.99" r="2.12"/><circle cx="40.33" cy="137.4" r="1.74"/><circle cx="69.06" cy="115.47" r="1.66"/><circle cx="72.24" cy="116.71" r="1.21"/><circle cx="85.63" cy="124.52" r="1.54"/><circle cx="75.96" cy="128.06" r="1.97"/><circle cx="54.31" cy="126.22" r="1.34"/><circle cx="96.43" cy="108.09" r="2.15"/><circle cx="90.48" cy="120.57" r="1.68"/><circle cx="81.44" cy="105.97" r="1.03"/><circle cx="70.55" cy="107.47" r="1.56"/><circle cx="50.48" cy="102.57" r="2.18"/><circle cx="64.38" cy="132.92" r="1.17"/><circle cx="40.26" cy="129.7" r="1.52"/><circle cx="99.43" cy="92.2" r="1.59"/><circle cx="82.59" cy="103.41" r="1.86"/><circle cx="49.28" cy="97.07" r="1.19"/><circle cx="36.85" cy="113.61" r="1.94"/><circle cx="47.43" cy="106.88" r="1.4"/><circle cx="51.34" cy="139.7" r="2"/><circle cx="42.94" cy="127.93" r="2.09"/><circle cx="34.02" cy="113.51" r="1.03"/><circle cx="59.27" cy="97.89" r="1.55"/><circle cx="49.97" cy="132.12" r="1.46"/><circle cx="39.91" cy="121.98" r="1.55"/><circle cx="94.42" cy="132.69" r="1.3"/><circle cx="64.89" cy="131.35" r="2.16"/><circle cx="78.83" cy="125.18" r="1.4"/><circle cx="69.1" cy="108.75" r="1.6"/><circle cx="56.73" cy="109.03" r="1.03"/><circle cx="40.25" cy="139.53" r="1.42"/><circle cx="112.95" cy="104.75" r="1.44"/><circle cx="107.17" cy="115.91" r="1.81"/><circle cx="97.39" cy="112.69" r="1.24"/><circle cx="82.14" cy="97.22" r="1.69"/><circle cx="73.19" cy="96.66" r="1.02"/><circle cx="61.68" cy="111.85" r="2.05"/><circle cx="59.71" cy="138.77" r="1.46"/><circle cx="63.22" cy="123.36" r="1.05"/><circle cx="88.93" cy="94.45" r="1.71"/><circle cx="94.98" cy="94.39" r="1.78"/><circle cx="75.24" cy="110.53" r="1.94"/><circle cx="59.18" cy="101.76" r="1.5"/><circle cx="50.14" cy="113.25" r="1.94"/><circle cx="71.4" cy="109.95" r="1.18"/><circle cx="62.18" cy="120.71" r="1.94"/><circle cx="74.35" cy="133.49" r="1.56"/><circle cx="54.12" cy="130.07" r="2"/><circle cx="51.38" cy="139.15" r="1.07"/><circle cx="48.78" cy="112.11" r="2.09"/><circle cx="72.95" cy="110.34" r="1.29"/><circle cx="71.8" cy="122.35" r="1.72"/><circle cx="107.12" cy="97.92" r="1.86"/><circle cx="106.56" cy="108.84" r="1.54"/><circle cx="102.83" cy="99.93" r="1.54"/><circle cx="113.17" cy="113.29" r="1.52"/><circle cx="68.23" cy="117.91" r="1.92"/><circle cx="42.06" cy="116.79" r="1.51"/><circle cx="57.41" cy="108.84" r="2.19"/><circle cx="34.03" cy="130.09" r="1.02"/><circle cx="57.23" cy="127.19" r="1.81"/><circle cx="85.81" cy="103.53" r="1.48"/><circle cx="103.91" cy="106.53" r="1.64"/><circle cx="61.01" cy="132.22" r="2.07"/><circle cx="39.24" cy="131.64" r="1.56"/><circle cx="64.98" cy="126.98" r="1.97"/><circle cx="75.37" cy="129.74" r="2.1"/><circle cx="81.92" cy="94.94" r="1.48"/><circle cx="89.63" cy="92.18" r="1.13"/><circle cx="34.5" cy="134.71" r="1.73"/><circle cx="64.62" cy="127.16" r="1.11"/><circle cx="44.61" cy="129.45" r="1.82"/><circle cx="84.26" cy="115.45" r="1.24"/><circle cx="57.08" cy="114.33" r="1.61"/><circle cx="49.44" cy="96.83" r="2.12"/><circle cx="47.51" cy="107.46" r="1.32"/><circle cx="85.87" cy="126.37" r="1.72"/><circle cx="35.47" cy="128.22" r="2.14"/><circle cx="43.56" cy="130.96" r="2.19"/><circle cx="53.26" cy="107.2" r="2.17"/><circle cx="53.09" cy="99.57" r="1.81"/><circle cx="59.83" cy="125.83" r="1.3"/><circle cx="52.03" cy="123.96" r="1.52"/><circle cx="88.44" cy="122.11" r="1.29"/><circle cx="50.05" cy="95.44" r="1.09"/><circle cx="92.04" cy="109.53" r="1"/><circle cx="35.54" cy="138.92" r="1.75"/><circle cx="50.73" cy="135.2" r="2.07"/><circle cx="37.54" cy="101.28" r="1.81"/><circle cx="97.33" cy="105.89" r="1.58"/><circle cx="60.78" cy="112.45" r="2"/><circle cx="80.87" cy="126.44" r="2.09"/><circle cx="35.86" cy="111.7" r="2.16"/><circle cx="72.46" cy="92.74" r="1.8"/><circle cx="79.02" cy="131.7" r="1.67"/><circle cx="56.44" cy="112.02" r="1.16"/><circle cx="67.69" cy="119.47" r="1.16"/><circle cx="37.25" cy="126.42" r="1.77"/><circle cx="97.17" cy="117.1" r="1.1"/><circle cx="76.23" cy="107.57" r="2.09"/><circle cx="51" cy="136.31" r="1.77"/><circle cx="57.55" cy="124.41" r="1.08"/><circle cx="55.56" cy="130.57" r="1.05"/><circle cx="101.61" cy="108.69" r="1.43"/><circle cx="54.66" cy="94.59" r="1.1"/><circle cx="37.63" cy="103.22" r="1.4"/><circle cx="64.34" cy="117.98" r="2"/><circle cx="63.36" cy="117.24" r="1.96"/><circle cx="70.24" cy="131.5" r="2.16"/><circle cx="107.42" cy="106.58" r="2.01"/><circle cx="109.85" cy="104.11" r="1.18"/><circle cx="93.51" cy="128.14" r="1.25"/><circle cx="114.46" cy="117.05" r="2.18"/><circle cx="74.5" cy="131.34" r="1.16"/><circle cx="100.18" cy="115.76" r="1.26"/><circle cx="68.36" cy="127.94" r="2.07"/><circle cx="96.15" cy="111.94" r="1.21"/><circle cx="108.34" cy="115.39" r="2.15"/><circle cx="81.64" cy="102.21" r="1.58"/><circle cx="88.12" cy="97.18" r="1.45"/><circle cx="99.22" cy="103.08" r="1.02"/><circle cx="51.45" cy="115.35" r="1.34"/><circle cx="76.45" cy="106.12" r="1.52"/><circle cx="95.97" cy="115.68" r="1.66"/><circle cx="99.44" cy="102.59" r="1.43"/><circle cx="44.37" cy="116.5" r="1.37"/><circle cx="88.82" cy="111.33" r="1.78"/><circle cx="80.83" cy="124.02" r="1.52"/><circle cx="67.75" cy="98" r="1.78"/><circle cx="59.73" cy="106.91" r="2.08"/><circle cx="67.66" cy="97.04" r="1.75"/><circle cx="66.19" cy="112.57" r="1.73"/><circle cx="57.83" cy="136.54" r="2.01"/><circle cx="45.87" cy="120.75" r="2.04"/><circle cx="71.71" cy="104.38" r="1.71"/><circle cx="79.09" cy="101.76" r="1.67"/><circle cx="74.53" cy="102.79" r="1.12"/><circle cx="105.6" cy="106.81" r="2.05"/><circle cx="48.12" cy="129.81" r="1.05"/><circle cx="107.21" cy="98.88" r="1.74"/><circle cx="95.09" cy="123.96" r="2.06"/><circle cx="87.05" cy="97.23" r="1.05"/><circle cx="50.5" cy="97.64" r="1.46"/><circle cx="43.22" cy="107.49" r="2.02"/><circle cx="91.21" cy="106.83" r="1.14"/><circle cx="40.57" cy="108.44" r="1.08"/><circle cx="60.12" cy="137.52" r="1.07"/><circle cx="45.87" cy="93.86" r="1.64"/><circle cx="65.41" cy="120.24" r="1.34"/><circle cx="60.47" cy="126.89" r="1.46"/><circle cx="49.46" cy="109.86" r="1.05"/><circle cx="79.41" cy="106.04" r="1.57"/><circle cx="77.14" cy="99.11" r="1.65"/><circle cx="55.55" cy="97.11" r="1.27"/><circle cx="61.26" cy="131.19" r="1.06"/><circle cx="73.13" cy="123.42" r="2.02"/><circle cx="44.74" cy="134.7" r="1.41"/><circle cx="43.49" cy="128.65" r="1.86"/><circle cx="77.1" cy="129.8" r="1.15"/><circle cx="57.11" cy="113.16" r="1.22"/><circle cx="42.76" cy="111.59" r="1.77"/><circle cx="74.96" cy="120.07" r="1.62"/><circle cx="95.26" cy="132.28" r="1.4"/><circle cx="41.73" cy="98.69" r="1.43"/><circle cx="67.82" cy="130.13" r="1.12"/><circle cx="50.75" cy="132.59" r="2.02"/><circle cx="54.93" cy="122.08" r="1.66"/><circle cx="54.18" cy="118.79" r="1.07"/><circle cx="110.84" cy="104.68" r="2.09"/><circle cx="107.01" cy="113.97" r="1.2"/><circle cx="37.66" cy="105.79" r="1.32"/><circle cx="62.63" cy="109.68" r="1.23"/><circle cx="52.44" cy="103.27" r="2.06"/><circle cx="79.59" cy="115.96" r="1.35"/><circle cx="85.11" cy="110.56" r="1.03"/><circle cx="46.56" cy="136.26" r="1.83"/><circle cx="90.63" cy="115.2" r="1.74"/><circle cx="34.83" cy="126.44" r="2"/><circle cx="84.29" cy="120.29" r="1.83"/><circle cx="97.96" cy="114.01" r="1.13"/><circle cx="85.78" cy="127.17" r="2.13"/><circle cx="35.16" cy="123.29" r="2.09"/><circle cx="36.68" cy="129.03" r="1.77"/><circle cx="101.53" cy="121.3" r="1.82"/><circle cx="98.42" cy="103.1" r="1.01"/><circle cx="91.97" cy="100.16" r="1.14"/><circle cx="42.09" cy="141.01" r="2.06"/><circle cx="72.43" cy="131.89" r="1.35"/><circle cx="42.69" cy="125.35" r="1.33"/><circle cx="37.28" cy="131.53" r="1"/><circle cx="87.68" cy="101.39" r="1.34"/><circle cx="62.94" cy="132.59" r="1.77"/><circle cx="39.63" cy="108.72" r="1.65"/><circle cx="112.53" cy="115.45" r="1.97"/><circle cx="53.54" cy="99.09" r="1.95"/><circle cx="51.48" cy="118.6" r="1.5"/><circle cx="51.39" cy="95.04" r="1.93"/><circle cx="51.8" cy="122.39" r="1.32"/><circle cx="100.81" cy="110.87" r="1.24"/><circle cx="88.57" cy="101.39" r="1.08"/><circle cx="40.83" cy="114.19" r="1.1"/><circle cx="38.1" cy="124.41" r="1.95"/><circle cx="65.59" cy="92.8" r="1.8"/><circle cx="73.44" cy="97.94" r="1.29"/><circle cx="80.34" cy="131.34" r="1.93"/><circle cx="51.69" cy="138.39" r="2.11"/><circle cx="40.64" cy="108.61" r="1.32"/><circle cx="105.25" cy="117.84" r="2.19"/><circle cx="86.51" cy="131.5" r="1.53"/></g>
<path d="M73,160 C75,150 76,140 74,128 L82,127 C82,140 83,150 85,160Z" fill="#8c8c8c"/>
<path d="M73,160 C75,150 76,140 74,128 L82,127 C82,140 83,150 85,160Z" fill="#000" filter="url(#engrW)"/>
<path d="M80,130 C86,128 90,124 94,120" stroke="#8c8c8c" stroke-width="2" fill="none"/>
<path d="M92,160 L91.5,140 C91,132 94,126 97,126 C100,126 102,131 102,138 L103,160Z" fill="#9a9a9a"/>
<path d="M92,160 L91.5,140 C91,132 94,126 97,126 C100,126 102,131 102,138 L103,160Z" fill="#000" filter="url(#engrW)"/>
<ellipse cx="55" cy="155" rx="5.5" ry="5" fill="#a8a8a8"/>
<ellipse cx="55" cy="155" rx="5.5" ry="5" fill="#000" filter="url(#engrW)"/>
<rect x="36.3" y="159.5" width="78.5" height="3.5" fill="#c2c2c2"/>
<rect x="36.3" y="163" width="78.5" height="3.3" fill="#5c5c5c"/><rect x="683.4" y="82.3" width="80.3" height="102.2" fill="#fff" stroke="#2a2a2a" stroke-width="0.8"/>
<rect x="683.8" y="141.5" width="79.5" height="42.6" fill="#34241d"/>
<rect x="683.8" y="141.5" width="79.5" height="42.6" fill="#000" filter="url(#soiltex)"/>
<path d="M702.23,142 Q702.62,136.33 701.99,132.56 Q703.22,137.28 703.83,142Z" fill="#6cc25a"/>
<path d="M732.59,142 Q731.84,139.21 729.5,137.34 Q732.73,139.67 734.19,142Z" fill="#6cc25a"/>
<path d="M703.91,142 Q706.29,138.19 708.67,135.66 Q706.4,138.83 705.51,142Z" fill="#6cc25a"/>
<path d="M725.96,142 Q726.43,136.3 725.94,132.5 Q727.01,137.25 727.56,142Z" fill="#52b548"/>
<path d="M701.76,142 Q703.92,138.69 705.97,136.48 Q704.08,139.24 703.36,142Z" fill="#6cc25a"/>
<path d="M741.64,142 Q741.04,135.57 738.95,131.29 Q741.89,136.64 743.24,142Z" fill="#3f9f3a"/>
<path d="M707.19,142 Q709.16,139.41 710.91,137.69 Q709.37,139.84 708.79,142Z" fill="#6cc25a"/>
<path d="M730.17,142 Q730.61,134.08 730.07,128.8 Q731.2,135.4 731.77,142Z" fill="#6cc25a"/>
<path d="M714.53,142 Q715.15,134.79 714.88,129.99 Q715.69,136 716.13,142Z" fill="#52b548"/>
<path d="M752.42,142 Q752.05,139.02 750.3,137.03 Q752.84,139.51 754.02,142Z" fill="#52b548"/>
<path d="M703.8,142 Q705.49,135.57 706.83,131.28 Q705.77,136.64 705.4,142Z" fill="#2f8a2e"/>
<path d="M716.58,142 Q717.61,134.6 717.97,129.67 Q718.05,135.83 718.18,142Z" fill="#6cc25a"/>
<path d="M729.35,142 Q730.73,134.17 731.6,128.96 Q731.08,135.48 730.95,142Z" fill="#3f9f3a"/>
<path d="M750.66,142 Q752,133.65 752.83,128.09 Q752.37,135.05 752.26,142Z" fill="#52b548"/>
<path d="M738.3,142 Q739.24,137.64 739.44,134.74 Q739.7,138.37 739.9,142Z" fill="#3f9f3a"/>
<path d="M739.49,142 Q741.35,138.33 742.94,135.89 Q741.59,138.94 741.09,142Z" fill="#2f8a2e"/>
<path d="M705.91,142 Q707.84,139.22 709.54,137.37 Q708.06,139.68 707.51,142Z" fill="#6cc25a"/>
<path d="M690.53,142 Q691.04,134.8 690.61,129.99 Q691.62,136 692.13,142Z" fill="#52b548"/>
<path d="M685.18,142 Q685.7,137.04 685.3,133.73 Q686.27,137.86 686.78,142Z" fill="#3f9f3a"/>
<path d="M687.06,142 Q686.4,135.91 684.22,131.85 Q687.27,136.93 688.66,142Z" fill="#2f8a2e"/>
<path d="M726.73,142 Q726.82,134.07 725.76,128.78 Q727.5,135.39 728.33,142Z" fill="#52b548"/>
<path d="M761.78,142 Q761.23,137.74 759.2,134.9 Q762.07,138.45 763.38,142Z" fill="#3f9f3a"/>
<path d="M757.9,142 Q758.03,133.77 757.03,128.29 Q758.7,135.14 759.5,142Z" fill="#2f8a2e"/>
<path d="M695.83,142 Q697.81,139.35 699.57,137.58 Q698.01,139.79 697.43,142Z" fill="#2f8a2e"/>
<path d="M711.8,142 Q713.76,138.77 715.5,136.62 Q713.97,139.31 713.4,142Z" fill="#6cc25a"/>
<path d="M719.65,142 Q720.91,136.48 721.6,132.8 Q721.3,137.4 721.25,142Z" fill="#3f9f3a"/>
<path d="M732.16,142 Q732.98,133.96 733.01,128.59 Q733.47,135.3 733.76,142Z" fill="#6cc25a"/>
<path d="M733.26,142 Q735.46,135.31 737.56,130.84 Q735.61,136.42 734.86,142Z" fill="#6cc25a"/>
<path d="M760.16,142 Q761.12,136.47 761.35,132.79 Q761.58,137.39 761.76,142Z" fill="#3f9f3a"/>
<path d="M745.33,142 Q745.54,133.68 744.65,128.13 Q746.19,135.06 746.93,142Z" fill="#6cc25a"/>
<path d="M731.82,142 Q731.21,135.81 729.1,131.68 Q732.06,136.84 733.42,142Z" fill="#2f8a2e"/>
<path d="M720.11,142 Q720.44,135.52 719.73,131.21 Q721.05,136.6 721.71,142Z" fill="#2f8a2e"/>
<path d="M741.39,142 Q740.78,139.47 738.67,137.78 Q741.63,139.89 742.99,142Z" fill="#3f9f3a"/>
<path d="M759.03,142 Q759.69,138.09 759.48,135.49 Q760.22,138.74 760.63,142Z" fill="#2f8a2e"/>
<path d="M697.49,142 Q699.12,138.49 700.36,136.15 Q699.41,139.07 699.09,142Z" fill="#2f8a2e"/>
<path d="M707.12,142 Q708.79,137.34 710.1,134.23 Q709.08,138.11 708.72,142Z" fill="#3f9f3a"/>
<path d="M759.66,142 Q759.28,135.5 757.51,131.16 Q760.07,136.58 761.26,142Z" fill="#52b548"/>
<path d="M734.79,142 Q735.04,137.98 734.21,135.31 Q735.67,138.65 736.39,142Z" fill="#6cc25a"/>
<path d="M734.46,142 Q735.58,139.02 736.06,137.03 Q736,139.51 736.06,142Z" fill="#2f8a2e"/>
<path d="M736.45,142 Q738.24,138.25 739.72,135.76 Q738.49,138.88 738.05,142Z" fill="#52b548"/>
<path d="M689.86,142 Q689.76,135.15 688.4,130.58 Q690.48,136.29 691.46,142Z" fill="#6cc25a"/>
<path d="M704.79,142 Q704.1,134.88 701.86,130.13 Q704.97,136.06 706.39,142Z" fill="#52b548"/>
<path d="M708.28,142 Q709.32,134.58 709.67,129.64 Q709.76,135.82 709.88,142Z" fill="#2f8a2e"/>
<path d="M710.23,142 Q709.7,134.63 707.71,129.72 Q710.54,135.86 711.83,142Z" fill="#2f8a2e"/>
<path d="M729.76,142 Q730.62,137.07 730.7,133.79 Q731.1,137.89 731.36,142Z" fill="#2f8a2e"/>
<path d="M719.99,142 Q720.12,135.79 719.11,131.66 Q720.78,136.83 721.59,142Z" fill="#6cc25a"/>
<path d="M686.38,142 Q686.22,137.12 684.78,133.87 Q686.96,137.93 687.98,142Z" fill="#6cc25a"/>
<path d="M757.46,142 Q759.82,134.32 762.15,129.2 Q759.93,135.6 759.06,142Z" fill="#6cc25a"/>
<path d="M727.36,142 Q728.85,133.69 729.9,128.14 Q729.18,135.07 728.96,142Z" fill="#3f9f3a"/>
<path d="M741.97,142 Q743.3,134.58 744.08,129.63 Q743.67,135.82 743.57,142Z" fill="#2f8a2e"/>
<path d="M726.18,142 Q728.14,134.26 729.88,129.1 Q728.35,135.55 727.78,142Z" fill="#2f8a2e"/>
<path d="M693,142 Q692.31,138.13 690.08,135.55 Q693.18,138.78 694.6,142Z" fill="#52b548"/>
<path d="M753.8,142 Q754.85,134.2 755.22,129 Q755.29,135.5 755.4,142Z" fill="#3f9f3a"/>
<path d="M721.27,142 Q722.08,138.88 722.09,136.79 Q722.57,139.4 722.87,142Z" fill="#52b548"/>
<path d="M735.5,142 Q736.03,136.45 735.61,132.75 Q736.6,137.38 737.1,142Z" fill="#3f9f3a"/>
<path d="M710.33,142 Q712.29,138.09 714.02,135.48 Q712.5,138.74 711.93,142Z" fill="#6cc25a"/>
<path d="M747.14,142 Q747.05,139.23 745.71,137.39 Q747.77,139.69 748.74,142Z" fill="#3f9f3a"/>
<path d="M725.46,142 Q725.21,134.7 723.63,129.83 Q725.97,135.92 727.06,142Z" fill="#2f8a2e"/>
<path d="M755.77,142 Q757.61,134.76 759.16,129.94 Q757.85,135.97 757.37,142Z" fill="#3f9f3a"/>
<path d="M721.77,142 Q722.25,136.17 721.77,132.29 Q722.83,137.15 723.37,142Z" fill="#2f8a2e"/>
<path d="M703.04,142 Q703.9,135.89 704,131.82 Q704.39,136.91 704.64,142Z" fill="#3f9f3a"/>
<path d="M720.63,142 Q719.83,134.94 717.44,130.24 Q720.73,136.12 722.23,142Z" fill="#3f9f3a"/>
<path d="M744.3,142 Q743.66,139.32 741.5,137.54 Q744.52,139.77 745.9,142Z" fill="#6cc25a"/>
<path d="M759.92,142 Q759.39,134.47 757.41,129.46 Q760.23,135.73 761.52,142Z" fill="#6cc25a"/>
<path d="M708.33,142 Q708.66,137.71 707.94,134.85 Q709.28,138.43 709.93,142Z" fill="#6cc25a"/>
<path d="M729.53,142 Q729.34,137.43 727.86,134.39 Q730.09,138.2 731.13,142Z" fill="#2f8a2e"/>
<path d="M717.17,142 Q716.38,138.83 714,136.72 Q717.28,139.36 718.77,142Z" fill="#6cc25a"/>
<path d="M745.87,142 Q745.21,136.2 743.02,132.33 Q746.07,137.17 747.47,142Z" fill="#6cc25a"/>
<path d="M730.93,142 Q731.34,134.9 730.77,130.17 Q731.94,136.09 732.53,142Z" fill="#3f9f3a"/>
<path d="M732.38,142 Q732.77,137.01 732.15,133.68 Q733.37,137.84 733.98,142Z" fill="#6cc25a"/>
<path d="M743.11,142 Q745.35,137.71 747.51,134.85 Q745.49,138.43 744.71,142Z" fill="#6cc25a"/>
<path d="M719.68,142 Q720.6,138.13 720.77,135.55 Q721.07,138.77 721.28,142Z" fill="#3f9f3a"/>
<path d="M746.49,142 Q746.1,138.25 744.33,135.76 Q746.9,138.88 748.09,142Z" fill="#3f9f3a"/>
<path d="M756.93,142 Q759,137.35 760.91,134.26 Q759.18,138.13 758.53,142Z" fill="#2f8a2e"/>
<path d="M693.11,142 Q695.31,135.46 697.42,131.09 Q695.46,136.55 694.71,142Z" fill="#6cc25a"/>
<path d="M735.87,142 Q736.87,135.2 737.18,130.66 Q737.32,136.33 737.47,142Z" fill="#3f9f3a"/>
<path d="M747.15,142 Q747.87,135.3 747.74,130.83 Q748.39,136.42 748.75,142Z" fill="#52b548"/>
<path d="M744.23,142 Q743.72,139.33 741.76,137.56 Q744.55,139.78 745.83,142Z" fill="#3f9f3a"/>
<path d="M735.22,142 Q737.04,137.35 738.57,134.24 Q737.28,138.12 736.82,142Z" fill="#2f8a2e"/>
<path d="M749.49,142 Q751.39,138.87 753.04,136.79 Q751.62,139.39 751.09,142Z" fill="#6cc25a"/>
<path d="M749.07,142 Q750.13,133.89 750.51,128.48 Q750.56,135.24 750.67,142Z" fill="#3f9f3a"/>
<path d="M686.44,142 Q687.28,135 687.33,130.33 Q687.77,136.16 688.04,142Z" fill="#52b548"/>
<path d="M691.96,142 Q694.15,135.11 696.23,130.51 Q694.3,136.26 693.56,142Z" fill="#3f9f3a"/>
<path d="M726.67,142 Q726.45,134.38 724.92,129.31 Q727.21,135.65 728.27,142Z" fill="#3f9f3a"/>
<path d="M702.56,142 Q702.56,138.52 701.36,136.2 Q703.26,139.1 704.16,142Z" fill="#6cc25a"/>
<path d="M703.4,142 Q705.61,136 707.71,132.01 Q705.75,137 705,142Z" fill="#6cc25a"/>
<path d="M759.26,142 Q759.22,137.35 757.94,134.25 Q759.93,138.12 760.86,142Z" fill="#6cc25a"/>
<path d="M749.65,142 Q750.18,133.8 749.78,128.33 Q750.75,135.16 751.25,142Z" fill="#6cc25a"/>
<path d="M695.83,142 Q697.87,137.19 699.73,133.99 Q698.06,137.99 697.43,142Z" fill="#52b548"/>
<path d="M691.11,142 Q693.24,135.11 695.24,130.52 Q693.41,136.26 692.71,142Z" fill="#6cc25a"/>
<path d="M729.52,142 Q729.16,134.45 727.41,129.42 Q729.95,135.71 731.12,142Z" fill="#52b548"/>
<path d="M695.08,142 Q697.27,136.51 699.35,132.84 Q697.42,137.42 696.68,142Z" fill="#2f8a2e"/>
<path d="M736.17,142 Q737.27,134.47 737.73,129.45 Q737.7,135.72 737.77,142Z" fill="#2f8a2e"/>
<path d="M753.24,142 Q753.3,137.76 752.19,134.93 Q753.98,138.46 754.84,142Z" fill="#6cc25a"/>
<path d="M699.31,142 Q699.27,136.18 698.02,132.3 Q699.98,137.15 700.91,142Z" fill="#6cc25a"/>
<path d="M744.22,142 Q746.59,138.74 748.95,136.56 Q746.7,139.28 745.82,142Z" fill="#6cc25a"/>
<path d="M738.53,142 Q739.58,138.37 739.97,135.94 Q740.02,138.97 740.13,142Z" fill="#3f9f3a"/>
<path d="M721.29,142 Q723.23,135.28 724.94,130.79 Q723.44,136.4 722.89,142Z" fill="#6cc25a"/>
<path d="M744.92,142 Q744.26,134.31 742.08,129.18 Q745.13,135.59 746.52,142Z" fill="#52b548"/>
<path d="M753.36,142 Q755.05,135.71 756.38,131.52 Q755.33,136.76 754.96,142Z" fill="#3f9f3a"/>
<path d="M758.67,142 Q758.64,134.48 757.4,129.46 Q759.35,135.73 760.27,142Z" fill="#52b548"/>
<path d="M744.35,142 Q745.54,138.78 746.12,136.63 Q745.94,139.31 745.95,142Z" fill="#3f9f3a"/>
<path d="M754.05,142 Q756.02,138.07 757.77,135.45 Q756.23,138.72 755.65,142Z" fill="#2f8a2e"/>
<path d="M697.95,142 Q699.71,139.05 701.14,137.09 Q699.97,139.55 699.55,142Z" fill="#3f9f3a"/>
<path d="M690.85,142 Q690.99,134.6 689.99,129.66 Q691.65,135.83 692.45,142Z" fill="#2f8a2e"/>
<path d="M719.02,142 Q719.3,135.2 718.51,130.66 Q719.93,136.33 720.62,142Z" fill="#3f9f3a"/>
<path d="M709.81,142 Q710.57,136.98 710.5,133.64 Q711.08,137.82 711.41,142Z" fill="#52b548"/>
<path d="M734.05,142 Q734.82,135.15 734.77,130.58 Q735.32,136.29 735.65,142Z" fill="#52b548"/>
<path d="M726.22,142 Q726.3,138.88 725.22,136.81 Q726.98,139.4 727.82,142Z" fill="#6cc25a"/>
<path d="M692.41,142 Q694.52,134.28 696.48,129.13 Q694.69,135.56 694.01,142Z" fill="#3f9f3a"/>
<path d="M724.92,142 Q726.29,135.4 727.15,130.99 Q726.65,136.5 726.52,142Z" fill="#2f8a2e"/>
<path d="M742.9,142 Q744.26,137.83 745.11,135.04 Q744.62,138.52 744.5,142Z" fill="#2f8a2e"/>
<path d="M691.99,142 Q692.27,133.93 691.5,128.56 Q692.9,135.28 693.59,142Z" fill="#3f9f3a"/>
<path d="M735.82,142 Q735.21,136.55 733.09,132.91 Q736.06,137.46 737.42,142Z" fill="#2f8a2e"/>
<path d="M736.73,142 Q736.51,136.2 734.99,132.34 Q737.27,137.17 738.33,142Z" fill="#52b548"/>
<path d="M697.62,142 Q698.92,134.26 699.67,129.1 Q699.3,135.55 699.22,142Z" fill="#3f9f3a"/>
<path d="M692.07,142 Q694.22,136.24 696.24,132.4 Q694.38,137.2 693.67,142Z" fill="#6cc25a"/>
<path d="M727.05,142 Q727.72,135.72 727.51,131.53 Q728.25,136.76 728.65,142Z" fill="#2f8a2e"/>
<path d="M744.85,142 Q744.39,135.37 742.51,130.95 Q745.2,136.47 746.45,142Z" fill="#52b548"/>
<path d="M742.68,142 Q744.24,136.34 745.39,132.57 Q744.55,137.28 744.28,142Z" fill="#2f8a2e"/>
<path d="M691.42,142 Q690.79,137.97 688.65,135.29 Q691.65,138.65 693.02,142Z" fill="#52b548"/>
<path d="M686.9,142 Q686.89,136.57 685.67,132.95 Q687.59,137.48 688.5,142Z" fill="#2f8a2e"/>
<path d="M752.13,142 Q752.77,133.93 752.52,128.55 Q753.31,135.27 753.73,142Z" fill="#3f9f3a"/>
<path d="M711.23,142 Q710.79,134.52 708.93,129.53 Q711.6,135.77 712.83,142Z" fill="#2f8a2e"/>
<path d="M729.81,142 Q730.81,135.51 731.12,131.19 Q731.26,136.59 731.41,142Z" fill="#3f9f3a"/>
<path d="M698.07,142 Q698.61,138.46 698.21,136.11 Q699.17,139.05 699.67,142Z" fill="#6cc25a"/>
<path d="M747.47,142 Q748.57,135.11 749.01,130.51 Q748.99,136.26 749.07,142Z" fill="#52b548"/>
<path d="M750.9,142 Q751.84,134.81 752.06,130.02 Q752.31,136.01 752.5,142Z" fill="#52b548"/>
<path d="M728.1,142 Q728.1,138.39 726.9,135.98 Q728.8,138.99 729.7,142Z" fill="#2f8a2e"/>
<path d="M685.96,142 Q688.01,134.78 689.89,129.97 Q688.19,135.98 687.56,142Z" fill="#6cc25a"/>
<rect x="683.8" y="139.5" width="79.5" height="2.5" fill="#3f9f3a"/>
<text x="694" y="110.6" font-family="Liberation Sans, sans-serif" font-weight="bold" font-size="16.5" fill="#6e3a2c" stroke="#6e3a2c" stroke-width="0.5" textLength="25" lengthAdjust="spacingAndGlyphs">SOIL</text>
<text x="694" y="125.3" font-family="Liberation Sans, sans-serif" font-weight="bold" font-size="16.5" fill="#1f7c3c" stroke="#1f7c3c" stroke-width="0.5" textLength="62" lengthAdjust="spacingAndGlyphs">ADVANCES</text>
<rect x="697" y="85" width="6" height="8" fill="#9a9a9a"/>
<rect x="741" y="86" width="12" height="1.4" fill="#bbb"/>
<circle cx="696.5" cy="165.4" r="9.2" fill="#1e5a1e"/>
<circle cx="696.5" cy="165.4" r="8" fill="#2f8a2e"/>
<circle cx="696.5" cy="165.4" r="6.4" fill="#e4e8e4"/>
<circle cx="696.5" cy="165.4" r="5" fill="#9aa29a" opacity="0.8"/>
<circle cx="696.5" cy="165.4" r="5" fill="#000" filter="url(#engrW)"/>
<circle cx="714.9" cy="165.4" r="9.2" fill="#6b3a2c"/>
<circle cx="714.9" cy="165.4" r="8" fill="#f0ece6"/>
<circle cx="714.9" cy="165.4" r="6.4" fill="#e4e8e4"/>
<circle cx="714.9" cy="165.4" r="5" fill="#9aa29a" opacity="0.8"/>
<circle cx="714.9" cy="165.4" r="5" fill="#000" filter="url(#engrW)"/>
<circle cx="733.2" cy="165.4" r="9.2" fill="#1e5a1e"/>
<circle cx="733.2" cy="165.4" r="8" fill="#4aaa3c"/>
<circle cx="733.2" cy="165.4" r="6.4" fill="#e4e8e4"/>
<circle cx="733.2" cy="165.4" r="5" fill="#9aa29a" opacity="0.8"/>
<circle cx="733.2" cy="165.4" r="5" fill="#000" filter="url(#engrW)"/>
<circle cx="751.5" cy="165.4" r="9.2" fill="#6b3a2c"/>
<circle cx="751.5" cy="165.4" r="8" fill="#f0ece6"/>
<circle cx="751.5" cy="165.4" r="6.4" fill="#e4e8e4"/>
<circle cx="751.5" cy="165.4" r="5" fill="#9aa29a" opacity="0.8"/>
<circle cx="751.5" cy="165.4" r="5" fill="#000" filter="url(#engrW)"/></svg><svg class="abs" style="left:0;top:0" width="791" height="1024" viewBox="0 0 791 1024" font-family="Liberation Sans, sans-serif"><defs>
<pattern id="dots" width="2.2" height="2.2" patternUnits="userSpaceOnUse"><circle cx="0.6" cy="0.6" r="0.3" fill="#000"/><circle cx="1.7" cy="1.7" r="0.25" fill="#000"/></pattern><pattern id="dots2" width="4" height="4" patternUnits="userSpaceOnUse"><circle cx="1" cy="1" r="0.3" fill="#000"/><circle cx="3" cy="3.2" r="0.25" fill="#000"/></pattern>
<pattern id="dl" width="2" height="2" patternUnits="userSpaceOnUse"><circle cx="0.5" cy="0.5" r="0.45" fill="#888"/></pattern>
<pattern id="dl2" width="4" height="4" patternUnits="userSpaceOnUse"><circle cx="1" cy="1" r="0.45" fill="#999"/></pattern>
</defs>
<filter id="sat" x="0" y="0" width="1" height="1">
 <feTurbulence type="fractalNoise" baseFrequency="0.09" numOctaves="3" seed="4" result="n"/>
 <feColorMatrix in="n" type="matrix" values="0 0 0 0 0.55  0 0 0 0 0.58  0 0 0 0 0.48  0 0 0 1.2 -0.5" result="c"/>
 <feComposite in="c" in2="SourceGraphic" operator="in"/>
</filter>
<filter id="speck" x="-0.3" y="-0.3" width="1.6" height="1.6">
 <feGaussianBlur in="SourceAlpha" stdDeviation="3.5" result="m"/>
 <feTurbulence type="fractalNoise" baseFrequency="0.3" numOctaves="2" seed="8" result="n"/>
 <feColorMatrix in="n" type="matrix" values="0 0 0 0 0.80  0 0 0 0 0.85  0 0 0 0 0.66  0 0 0 3.2 -1.25" result="c"/>
 <feComposite in="c" in2="m" operator="in" result="r"/>
 <feGaussianBlur in="r" stdDeviation="0.3"/>
</filter>
<filter id="speckT" x="-0.3" y="-0.3" width="1.6" height="1.6">
 <feGaussianBlur in="SourceAlpha" stdDeviation="3" result="m"/>
 <feTurbulence type="fractalNoise" baseFrequency="0.35" numOctaves="2" seed="2" result="n"/>
 <feColorMatrix in="n" type="matrix" values="0 0 0 0 0.86  0 0 0 0 0.74  0 0 0 0 0.50  0 0 0 3.2 -1.3" result="c"/>
 <feComposite in="c" in2="m" operator="in" result="r"/>
 <feGaussianBlur in="r" stdDeviation="0.3"/>
</filter>
<filter id="speckG" x="-0.3" y="-0.3" width="1.6" height="1.6">
 <feGaussianBlur in="SourceAlpha" stdDeviation="2" result="m"/>
 <feTurbulence type="fractalNoise" baseFrequency="0.45" numOctaves="2" seed="9" result="n"/>
 <feColorMatrix in="n" type="matrix" values="0 0 0 0 0.45  0 0 0 0 0.65  0 0 0 0 0.2  0 0 0 4 -1.8" result="c"/>
 <feComposite in="c" in2="m" operator="in"/>
</filter>
<clipPath id="mapclip"><rect x="18.2" y="460.3" width="150.4" height="171.9"/></clipPath>
<clipPath id="insclip"><rect x="172.5" y="545.5" width="88.2" height="86.8"/></clipPath>
<g clip-path="url(#mapclip)">
<rect x="18.2" y="460.3" width="150.4" height="171.9" fill="#4c5343"/>
<rect x="18.2" y="460.3" width="150.4" height="171.9" fill="#000" filter="url(#sat)" opacity="0.18"/>
<ellipse cx="35" cy="612" rx="28" ry="20" fill="#8c8268" opacity="0.35"/>
<clipPath id="wclip"><polygon points="37.2,483.3 45.3,477.2 61.5,475.2 81.7,476.2 95.9,480.3 102,489.4 105,501.5 106,513.7 104,521.7 112,531.9 114,546 116.1,564.2 114,574.3 112,574.3 104,573.3 91.9,568.3 75.7,556.1 55.5,546 39.3,537.9 27.1,527.8 24.1,521.7 27.1,505.6 31.2,491.4" fill="#000" /></clipPath><clipPath id="eclip"><polygon points="104,521.7 108,523.8 120.2,524.8 134.3,525.8 138.4,527.8 141.4,535.9 143.4,552.1 148.5,555.1 156.6,553.1 162.7,552.1 164.7,556.1 163.7,568.3 160.6,580.4 157.6,592.5 150,600 144.5,605.7 142.4,611.8 132.3,614.8 125.2,611.8 92.9,610.7 98,600.6 104,590.5 108,580.4 110,576.4 114,574.3 116.1,564.2 114,546 112,531.9" fill="#000" /></clipPath>
<polygon points="37.2,483.3 45.3,477.2 61.5,475.2 81.7,476.2 95.9,480.3 102,489.4 105,501.5 106,513.7 104,521.7 112,531.9 114,546 116.1,564.2 114,574.3 112,574.3 104,573.3 91.9,568.3 75.7,556.1 55.5,546 39.3,537.9 27.1,527.8 24.1,521.7 27.1,505.6 31.2,491.4" fill="#197d19" />
<g clip-path="url(#wclip)">
<polygon points="28,500 38,488 58,484 75,488 84,498 86,512 82,528 76,542 66,550 50,546 35,536 26,522" fill="#000" filter="url(#speck)"/>
<polygon points="34,512 48,503 66,505 76,516 74,532 66,545 50,543 38,532" fill="#000" filter="url(#speck)"/>
<polygon points="78,482 92,483 98,492 96,505 88,510 80,500" fill="#000" filter="url(#speck)" opacity="0.6"/>
</g>
<polygon points="104,521.7 108,523.8 120.2,524.8 134.3,525.8 138.4,527.8 141.4,535.9 143.4,552.1 148.5,555.1 156.6,553.1 162.7,552.1 164.7,556.1 163.7,568.3 160.6,580.4 157.6,592.5 150,600 144.5,605.7 142.4,611.8 132.3,614.8 125.2,611.8 92.9,610.7 98,600.6 104,590.5 108,580.4 110,576.4 114,574.3 116.1,564.2 114,546 112,531.9" fill="#86ab3c" />
<g clip-path="url(#eclip)">
<polygon points="120,526 134.3,525.8 138.4,527.8 141.4,535.9 143.4,552.1 148.5,555.1 162.7,552.1 164.7,556.1 163.7,568.3 160.6,580.4 157.6,592.5 146,596 136,592 128,575 124,555 118,535" fill="#000" filter="url(#speckT)"/>
<polygon points="124,535 136,530 140,545 150,560 160,565 156,588 142,590 132,570 126,552" fill="#000" filter="url(#speckT)"/>
<polygon points="104,580 112,560 118,545 124,560 126,585 120,605 100,606" fill="#000" filter="url(#speckT)" opacity="0.5"/>
</g>
<ellipse cx="145.5" cy="557" rx="2" ry="2.4" fill="#1d6b1d"/>
<polygon points="125.2,603.7 136.4,599.6 140,598 144.5,605.7 142.4,611.8 132.3,614.8 125.2,611.8" fill="#d2454d" />
<linearGradient id="wg" x1="0" y1="0" x2="1" y2="1"><stop offset="0" stop-color="#efe6d0"/><stop offset="1" stop-color="#9aa39a"/></linearGradient>
<polygon points="140,598 169,545 169,632 144.5,612" fill="url(#wg)" opacity="0.75"/>
<polygon points="139.8,597 150,593 158.6,592.5 156,601 146,605.7" fill="#eaa2a6" opacity="0.85"/>
<line x1="63" y1="460" x2="63" y2="632" stroke="#d8d8d8" stroke-width="0.3" opacity="0.7"/>
<line x1="131" y1="460" x2="131" y2="632" stroke="#d8d8d8" stroke-width="0.3" opacity="0.7"/>
<line x1="18" y1="512" x2="169" y2="512" stroke="#d8d8d8" stroke-width="0.3" opacity="0.7"/>
<line x1="18" y1="555" x2="169" y2="555" stroke="#d8d8d8" stroke-width="0.3" opacity="0.7"/>
<line x1="18" y1="600" x2="169" y2="600" stroke="#d8d8d8" stroke-width="0.3" opacity="0.7"/>
<circle cx="58.5" cy="583" r="7" fill="#2e342a" opacity="0.6"/>
<polygon points="58.5,573.3 52.6,589.5 58.5,586" fill="#f0f0f0" />
<polygon points="58.5,573.3 64.4,589.5 58.5,586" fill="#9a9a9a" />
<text x="59.5" y="599.2" font-size="4.7" text-anchor="middle" fill="#eee">Coordinate Reference</text>
<text x="59.5" y="604.3" font-size="4.7" text-anchor="middle" fill="#eee">System</text>
<text x="59.5" y="609.9" font-size="4.7" text-anchor="middle" fill="#eee">WGS 84</text>
<text x="59.5" y="615.4" font-size="4.7" text-anchor="middle" fill="#eee">EPSG: 4326</text>
<rect x="119" y="473" width="17" height="1.4" fill="#111"/><rect x="136" y="473" width="17" height="1.4" fill="#ddd"/>
<text x="119" y="470" font-size="3" text-anchor="middle" fill="#ddd" stroke="#ddd" stroke-width="0.14">0</text><text x="136" y="470" font-size="3" text-anchor="middle" fill="#ddd" stroke="#ddd" stroke-width="0.14">50</text><text x="153" y="470" font-size="3" text-anchor="middle" fill="#ddd" stroke="#ddd" stroke-width="0.14">100 km</text>
</g>
<rect x="18.2" y="460.3" width="150.4" height="171.9" fill="none" stroke="#444" stroke-width="0.4"/>
<text x="63" y="458.5" font-size="2.8" text-anchor="middle" fill="#777" stroke="#777" stroke-width="0.13">60°0'W</text><text x="131" y="458.5" font-size="2.8" text-anchor="middle" fill="#777" stroke="#777" stroke-width="0.13">55°0'W</text>
<text x="16.5" y="512" font-size="2.8" text-anchor="middle" fill="#777" transform="rotate(-90 16.5 512)" stroke="#777" stroke-width="0.13">22°S</text>
<text x="16.5" y="555" font-size="2.8" text-anchor="middle" fill="#777" transform="rotate(-90 16.5 555)" stroke="#777" stroke-width="0.13">24°S</text>
<text x="16.5" y="600" font-size="2.8" text-anchor="middle" fill="#777" transform="rotate(-90 16.5 600)" stroke="#777" stroke-width="0.13">26°S</text>
<rect x="172.6" y="460.2" width="88.1" height="72" fill="#fff" stroke="#aaa" stroke-width="0.5"/>
<text x="216.6" y="467.6" font-size="4.4" text-anchor="middle" font-weight="bold" fill="#333" stroke="#333" stroke-width="0.2">LEGEND</text>
<text x="216.6" y="475.3" font-size="4.2" text-anchor="middle" font-weight="bold" fill="#444" stroke="#444" stroke-width="0.19">Paraguay (Land Use)</text>
<rect x="178.5" y="477.2" width="6.5" height="3.8" fill="#1d6b1d"/>
<text x="186.8" y="480.6" font-size="4.45" fill="#666" stroke="#666" stroke-width="0.2">Woody Natural Vegetation</text>
<rect x="178.5" y="482.9" width="6.5" height="3.8" fill="#e2c08c"/>
<text x="186.8" y="486.3" font-size="4.45" fill="#666" stroke="#666" stroke-width="0.2">Forest Plantation</text>
<rect x="178.5" y="488.6" width="6.5" height="3.8" fill="#4f9a2e"/>
<text x="186.8" y="492" font-size="4.45" fill="#666" stroke="#666" stroke-width="0.2">Herbaceous Natural Vegetation</text>
<rect x="178.5" y="494.3" width="6.5" height="3.8" fill="#f6efcf"/>
<text x="186.8" y="497.7" font-size="4.45" fill="#666" stroke="#666" stroke-width="0.2">Pasture</text>
<rect x="178.5" y="500" width="6.5" height="3.8" fill="#e8b46a"/>
<text x="186.8" y="503.4" font-size="4.45" fill="#666" stroke="#666" stroke-width="0.2">Agriculture</text>
<rect x="178.5" y="505.7" width="6.5" height="3.8" fill="#c8cdd6"/>
<text x="186.8" y="509.1" font-size="4.45" fill="#666" stroke="#666" stroke-width="0.2">Not observed</text>
<rect x="178.5" y="511.4" width="6.5" height="3.8" fill="#4a86d0"/>
<text x="186.8" y="514.8" font-size="4.45" fill="#666" stroke="#666" stroke-width="0.2">Water</text>
<rect x="178.5" y="517.1" width="6.5" height="3.8" fill="#b03a3a"/>
<text x="186.8" y="520.5" font-size="4.45" fill="#666" stroke="#666" stroke-width="0.2">Itapúa department</text>
<circle cx="181.5" cy="525.3" r="2.4" fill="#d0202a"/>
<text x="186.8" y="526.8" font-size="4.45" fill="#666" stroke="#666" stroke-width="0.2">Study area</text>
<text x="220.7" y="542.5" font-size="4.5" text-anchor="middle" font-weight="bold" font-style="italic" fill="#333" stroke="#333" stroke-width="0.2">Itapúa department</text>
<g clip-path="url(#insclip)">
<rect x="172.5" y="545.5" width="88.2" height="86.8" fill="#3a4832"/>
<rect x="172.5" y="545.5" width="88.2" height="86.8" fill="#000" filter="url(#sat)" opacity="0.3"/>
<polygon points="172.5,545.5 258,545.5 258,561 242,559 232.5,558 220,566 208,572.6 191.6,581 181,583.5 176,600 172.5,606" fill="#7f8270" opacity="0.9"/>
<polygon points="172.5,545.5 258,545.5 258,561 242,559 232.5,558 220,566 208,572.6 191.6,581 181,583.5 176,600 172.5,606" fill="#000" filter="url(#sat)" opacity="0.35"/>
<clipPath id="depclip"><polygon points="176,607.3 180.8,592.8 182,584.4 191.6,582 201.2,577.2 208.4,573.6 215.6,568.8 220.4,567.6 226.4,562.8 232.5,559.2 242.1,560.4 254.1,561.6 257.7,564 256.5,571.2 251.7,576 244.5,583.2 237.3,590.4 226.4,596.5 221.6,602.5 218,609.7 213.2,612.1 204.8,607.3 200,605.5 194,607.3 188,612.1 182,612.1 177.2,610.9" fill="#000" /></clipPath>
<polygon points="176,607.3 180.8,592.8 182,584.4 191.6,582 201.2,577.2 208.4,573.6 215.6,568.8 220.4,567.6 226.4,562.8 232.5,559.2 242.1,560.4 254.1,561.6 257.7,564 256.5,571.2 251.7,576 244.5,583.2 237.3,590.4 226.4,596.5 221.6,602.5 218,609.7 213.2,612.1 204.8,607.3 200,605.5 194,607.3 188,612.1 182,612.1 177.2,610.9" fill="#d6aa62" />
<g clip-path="url(#depclip)">
<polygon points="172,560 225,560 222,568 210,576 206,590 204,612 172,615" fill="#8fbc3c" />
<polygon points="176,585 200,580 204,600 185,608" fill="#000" filter="url(#speckT)"/>
<polygon points="205,575 230,560 255,560 255,575 238,590 222,600 210,596" fill="#000" filter="url(#speckT)"/>
<ellipse cx="216" cy="571" rx="4.5" ry="3" fill="#2c7a22"/>
<polygon points="206,600 214,598 219,603 216,611 208,609" fill="#a8c870" />
</g>
<polygon points="177.2,609.7 188,607 198.8,604.9 200,608.5 194,613 191.6,616.9 186.8,618 181,615 178.4,612" fill="#5a9ae6" />
<circle cx="210.8" cy="602.5" r="3" fill="#e0202a"/>
<rect x="224" y="623.5" width="12" height="1.2" fill="#eee"/><rect x="236" y="623.5" width="12" height="1.2" fill="#f4f4f4"/>
</g>
<rect x="172.5" y="545.5" width="88.2" height="86.8" fill="none" stroke="#444" stroke-width="0.4"/>
<rect x="289.9" y="462" width="66.3" height="9.3" fill="#5b9d22"/>
<rect x="289.9" y="470.4" width="66.3" height="0.9" fill="#2f5a12"/>
<text x="323.05" y="468.4" font-size="3.6" text-anchor="middle" fill="#b8e27a" stroke="#b8e27a" stroke-width="0.16">YEAR 1</text>
<line x1="290.4" y1="471.3" x2="290.4" y2="474" stroke="#444" stroke-width="0.5"/>
<line x1="323.05" y1="471.3" x2="323.05" y2="474" stroke="#444" stroke-width="0.5"/>
<line x1="355.7" y1="471.3" x2="355.7" y2="474" stroke="#444" stroke-width="0.5"/>
<circle cx="305.9" cy="475.3" r="2.2" fill="#52a8e8"/>
<circle cx="338.4" cy="475.3" r="2.2" fill="#f2c84a"/>
<rect x="358" y="462" width="66" height="9.3" fill="#5b9d22"/>
<rect x="358" y="470.4" width="66" height="0.9" fill="#2f5a12"/>
<text x="391" y="468.4" font-size="3.6" text-anchor="middle" fill="#b8e27a" stroke="#b8e27a" stroke-width="0.16">YEAR 2</text>
<line x1="358.5" y1="471.3" x2="358.5" y2="474" stroke="#444" stroke-width="0.5"/>
<line x1="391" y1="471.3" x2="391" y2="474" stroke="#444" stroke-width="0.5"/>
<line x1="423.5" y1="471.3" x2="423.5" y2="474" stroke="#444" stroke-width="0.5"/>
<circle cx="374" cy="475.3" r="2.2" fill="#52a8e8"/>
<circle cx="406.5" cy="475.3" r="2.2" fill="#f2c84a"/>
<rect x="426.3" y="462" width="65.5" height="9.3" fill="#5b9d22"/>
<rect x="426.3" y="470.4" width="65.5" height="0.9" fill="#2f5a12"/>
<text x="459.05" y="468.4" font-size="3.6" text-anchor="middle" fill="#b8e27a" stroke="#b8e27a" stroke-width="0.16">YEAR 3</text>
<line x1="426.8" y1="471.3" x2="426.8" y2="474" stroke="#444" stroke-width="0.5"/>
<line x1="459.05" y1="471.3" x2="459.05" y2="474" stroke="#444" stroke-width="0.5"/>
<line x1="491.3" y1="471.3" x2="491.3" y2="474" stroke="#444" stroke-width="0.5"/>
<circle cx="442.3" cy="475.3" r="2.2" fill="#52a8e8"/>
<circle cx="474.8" cy="475.3" r="2.2" fill="#f2c84a"/>
<text x="290.3" y="483.5" font-size="3.8" font-weight="bold" fill="#222" stroke="#222" stroke-width="0.17">CT</text>
<rect x="289.9" y="500" width="201.9" height="7.7" fill="#ad5a30"/>
<rect x="289.9" y="500" width="201.9" height="0.8" fill="#6e3416"/>
<rect x="289.9" y="507.2" width="201.9" height="0.7" fill="#7a3a1a"/>
<path d="M299.6,500.3 Q298.64,495.8 296.4,491.3" stroke="#5f8262" stroke-width="0.9" fill="none"/><path d="M299.6,500.3 Q299.06,494.3 297.8,488.3" stroke="#4f7154" stroke-width="0.9" fill="none"/><path d="M299.6,500.3 Q299.6,493.8 299.6,487.3" stroke="#44664a" stroke-width="0.9" fill="none"/><path d="M299.6,500.3 Q300.14,494.3 301.4,488.3" stroke="#4f7154" stroke-width="0.9" fill="none"/><path d="M299.6,500.3 Q300.56,495.8 302.8,491.3" stroke="#5f8262" stroke-width="0.9" fill="none"/><path d="M299.6,500.3 Q298.85,497.3 297.1,494.3" stroke="#7a9a7a" stroke-width="0.9" fill="none"/><path d="M299.6,500.3 Q300.35,497.3 302.1,494.3" stroke="#7a9a7a" stroke-width="0.9" fill="none"/><line x1="299.6" y1="500.3" x2="299.6" y2="485.3" stroke="#8a9a70" stroke-width="0.5"/><ellipse cx="299.6" cy="483.5" rx="0.9" ry="2.6" fill="#a08c5c"/>
<path d="M307,500.3 Q306.04,495.8 303.8,491.3" stroke="#5f8262" stroke-width="0.9" fill="none"/><path d="M307,500.3 Q306.46,494.3 305.2,488.3" stroke="#4f7154" stroke-width="0.9" fill="none"/><path d="M307,500.3 Q307,493.8 307,487.3" stroke="#44664a" stroke-width="0.9" fill="none"/><path d="M307,500.3 Q307.54,494.3 308.8,488.3" stroke="#4f7154" stroke-width="0.9" fill="none"/><path d="M307,500.3 Q307.96,495.8 310.2,491.3" stroke="#5f8262" stroke-width="0.9" fill="none"/><path d="M307,500.3 Q306.25,497.3 304.5,494.3" stroke="#7a9a7a" stroke-width="0.9" fill="none"/><path d="M307,500.3 Q307.75,497.3 309.5,494.3" stroke="#7a9a7a" stroke-width="0.9" fill="none"/><line x1="307" y1="500.3" x2="307" y2="485.3" stroke="#8a9a70" stroke-width="0.5"/><ellipse cx="307" cy="483.5" rx="0.9" ry="2.6" fill="#a08c5c"/>
<path d="M314.3,500.3 Q313.34,495.8 311.1,491.3" stroke="#5f8262" stroke-width="0.9" fill="none"/><path d="M314.3,500.3 Q313.76,494.3 312.5,488.3" stroke="#4f7154" stroke-width="0.9" fill="none"/><path d="M314.3,500.3 Q314.3,493.8 314.3,487.3" stroke="#44664a" stroke-width="0.9" fill="none"/><path d="M314.3,500.3 Q314.84,494.3 316.1,488.3" stroke="#4f7154" stroke-width="0.9" fill="none"/><path d="M314.3,500.3 Q315.26,495.8 317.5,491.3" stroke="#5f8262" stroke-width="0.9" fill="none"/><path d="M314.3,500.3 Q313.55,497.3 311.8,494.3" stroke="#7a9a7a" stroke-width="0.9" fill="none"/><path d="M314.3,500.3 Q315.05,497.3 316.8,494.3" stroke="#7a9a7a" stroke-width="0.9" fill="none"/><line x1="314.3" y1="500.3" x2="314.3" y2="485.3" stroke="#8a9a70" stroke-width="0.5"/><ellipse cx="314.3" cy="483.5" rx="0.9" ry="2.6" fill="#a08c5c"/>
<path d="M331.9,500.3 L331.9,489.8 M329.9,500.3 L330.9,492.8 M333.9,500.3 L332.9,492.8" stroke="#4f8a2a" stroke-width="0.6"/><ellipse cx="331.9" cy="489.8" rx="7.7" ry="8.36" fill="#64ad3a"/><circle cx="338.72" cy="489.98" r="2.32" fill="#62ac38"/><circle cx="338.16" cy="492.74" r="2.46" fill="#62ac38"/><circle cx="336.91" cy="494.83" r="2.45" fill="#62ac38"/><circle cx="326.34" cy="494.09" r="1.88" fill="#62ac38"/><circle cx="325.5" cy="492.38" r="1.97" fill="#62ac38"/><circle cx="325.08" cy="489.74" r="2.2" fill="#62ac38"/><circle cx="325.29" cy="487.95" r="1.95" fill="#62ac38"/><circle cx="326.48" cy="485.29" r="2.44" fill="#62ac38"/><circle cx="328.81" cy="483.2" r="1.91" fill="#62ac38"/><circle cx="331.12" cy="482.44" r="1.9" fill="#62ac38"/><circle cx="333.24" cy="482.53" r="1.89" fill="#62ac38"/><circle cx="334.71" cy="483.05" r="2.41" fill="#62ac38"/><circle cx="336.86" cy="484.72" r="1.95" fill="#62ac38"/><circle cx="338.51" cy="487.95" r="2.41" fill="#62ac38"/><circle cx="329.32" cy="495.02" r="1.63" fill="#98d258"/><circle cx="334.08" cy="485.68" r="1.95" fill="#98d258"/><circle cx="334.24" cy="495.09" r="1.91" fill="#98d258"/><circle cx="329.44" cy="487.61" r="1.33" fill="#98d258"/><circle cx="327.56" cy="483.95" r="1.44" fill="#98d258"/><circle cx="333.16" cy="483.19" r="1.74" fill="#98d258"/><circle cx="329.91" cy="486.98" r="1.85" fill="#98d258"/><circle cx="331.66" cy="487.05" r="1.58" fill="#98d258"/><circle cx="334.41" cy="483.85" r="1.98" fill="#98d258"/><circle cx="326.06" cy="492.41" r="1.88" fill="#98d258"/><circle cx="326" cy="492.88" r="1.49" fill="#98d258"/><circle cx="332.86" cy="483.26" r="1.24" fill="#98d258"/><circle cx="327.43" cy="495.81" r="0.5" fill="#e4f5c8"/><circle cx="327.65" cy="492.97" r="0.5" fill="#e4f5c8"/><circle cx="337.92" cy="495.62" r="0.5" fill="#e4f5c8"/><circle cx="329.72" cy="487.26" r="0.5" fill="#e4f5c8"/><circle cx="332.25" cy="493.25" r="0.5" fill="#e4f5c8"/><circle cx="326.41" cy="492.86" r="0.5" fill="#e4f5c8"/><circle cx="336.06" cy="494.45" r="0.5" fill="#e4f5c8"/><circle cx="325.41" cy="495.68" r="0.5" fill="#e4f5c8"/><circle cx="326.18" cy="487.06" r="0.5" fill="#e4f5c8"/><circle cx="333.45" cy="495.28" r="0.5" fill="#e4f5c8"/><circle cx="329.66" cy="495.37" r="0.5" fill="#e4f5c8"/><circle cx="332.53" cy="486.65" r="0.5" fill="#e4f5c8"/><circle cx="329.34" cy="484.73" r="0.5" fill="#e4f5c8"/><circle cx="325.99" cy="484.32" r="0.5" fill="#e4f5c8"/><circle cx="334.55" cy="496.4" r="0.5" fill="#e4f5c8"/><circle cx="327.16" cy="482.89" r="0.5" fill="#e4f5c8"/>
<path d="M346.4,500.3 L346.4,489.8 M344.4,500.3 L345.4,492.8 M348.4,500.3 L347.4,492.8" stroke="#4f8a2a" stroke-width="0.6"/><ellipse cx="346.4" cy="489.8" rx="7.7" ry="8.36" fill="#64ad3a"/><circle cx="353.19" cy="490.52" r="2.17" fill="#62ac38"/><circle cx="352.86" cy="492.2" r="1.97" fill="#62ac38"/><circle cx="351.54" cy="494.67" r="2.38" fill="#62ac38"/><circle cx="341.6" cy="495.07" r="2.15" fill="#62ac38"/><circle cx="339.84" cy="491.86" r="1.89" fill="#62ac38"/><circle cx="339.58" cy="489.46" r="2.46" fill="#62ac38"/><circle cx="340.05" cy="487.08" r="2.35" fill="#62ac38"/><circle cx="340.84" cy="485.5" r="2.1" fill="#62ac38"/><circle cx="342.58" cy="483.66" r="2.39" fill="#62ac38"/><circle cx="344.94" cy="482.56" r="2.12" fill="#62ac38"/><circle cx="348.25" cy="482.67" r="2.4" fill="#62ac38"/><circle cx="350.36" cy="483.76" r="2.12" fill="#62ac38"/><circle cx="351.62" cy="485.02" r="2.31" fill="#62ac38"/><circle cx="352.8" cy="487.24" r="2" fill="#62ac38"/><circle cx="345.22" cy="484.96" r="1.5" fill="#98d258"/><circle cx="352.38" cy="495" r="1.7" fill="#98d258"/><circle cx="346.39" cy="487.33" r="1.27" fill="#98d258"/><circle cx="343.61" cy="492.81" r="1.89" fill="#98d258"/><circle cx="344.7" cy="492.86" r="1.82" fill="#98d258"/><circle cx="348.78" cy="491.35" r="1.81" fill="#98d258"/><circle cx="344.73" cy="491.85" r="1.42" fill="#98d258"/><circle cx="346.22" cy="492.66" r="1.75" fill="#98d258"/><circle cx="343.87" cy="494.83" r="1.72" fill="#98d258"/><circle cx="347.39" cy="483.29" r="1.64" fill="#98d258"/><circle cx="343.35" cy="491.44" r="1.57" fill="#98d258"/><circle cx="350.28" cy="491.15" r="1.84" fill="#98d258"/><circle cx="344.27" cy="491.38" r="0.5" fill="#e4f5c8"/><circle cx="349.73" cy="494" r="0.5" fill="#e4f5c8"/><circle cx="344.3" cy="494.21" r="0.5" fill="#e4f5c8"/><circle cx="351.58" cy="492.01" r="0.5" fill="#e4f5c8"/><circle cx="353.07" cy="495.83" r="0.5" fill="#e4f5c8"/><circle cx="346.65" cy="489.74" r="0.5" fill="#e4f5c8"/><circle cx="341.73" cy="494.12" r="0.5" fill="#e4f5c8"/><circle cx="352.52" cy="489" r="0.5" fill="#e4f5c8"/><circle cx="349.08" cy="492.46" r="0.5" fill="#e4f5c8"/><circle cx="349.62" cy="484.65" r="0.5" fill="#e4f5c8"/><circle cx="350.33" cy="490.48" r="0.5" fill="#e4f5c8"/><circle cx="348.72" cy="488.2" r="0.5" fill="#e4f5c8"/><circle cx="348.13" cy="493.24" r="0.5" fill="#e4f5c8"/><circle cx="348.32" cy="492.47" r="0.5" fill="#e4f5c8"/><circle cx="339.79" cy="484.48" r="0.5" fill="#e4f5c8"/><circle cx="345.57" cy="491.46" r="0.5" fill="#e4f5c8"/>
<path d="M367.7,500.3 Q366.74,495.8 364.5,491.3" stroke="#5f8262" stroke-width="0.9" fill="none"/><path d="M367.7,500.3 Q367.16,494.3 365.9,488.3" stroke="#4f7154" stroke-width="0.9" fill="none"/><path d="M367.7,500.3 Q367.7,493.8 367.7,487.3" stroke="#44664a" stroke-width="0.9" fill="none"/><path d="M367.7,500.3 Q368.24,494.3 369.5,488.3" stroke="#4f7154" stroke-width="0.9" fill="none"/><path d="M367.7,500.3 Q368.66,495.8 370.9,491.3" stroke="#5f8262" stroke-width="0.9" fill="none"/><path d="M367.7,500.3 Q366.95,497.3 365.2,494.3" stroke="#7a9a7a" stroke-width="0.9" fill="none"/><path d="M367.7,500.3 Q368.45,497.3 370.2,494.3" stroke="#7a9a7a" stroke-width="0.9" fill="none"/><line x1="367.7" y1="500.3" x2="367.7" y2="485.3" stroke="#8a9a70" stroke-width="0.5"/><ellipse cx="367.7" cy="483.5" rx="0.9" ry="2.6" fill="#a08c5c"/>
<path d="M375.1,500.3 Q374.14,495.8 371.9,491.3" stroke="#5f8262" stroke-width="0.9" fill="none"/><path d="M375.1,500.3 Q374.56,494.3 373.3,488.3" stroke="#4f7154" stroke-width="0.9" fill="none"/><path d="M375.1,500.3 Q375.1,493.8 375.1,487.3" stroke="#44664a" stroke-width="0.9" fill="none"/><path d="M375.1,500.3 Q375.64,494.3 376.9,488.3" stroke="#4f7154" stroke-width="0.9" fill="none"/><path d="M375.1,500.3 Q376.06,495.8 378.3,491.3" stroke="#5f8262" stroke-width="0.9" fill="none"/><path d="M375.1,500.3 Q374.35,497.3 372.6,494.3" stroke="#7a9a7a" stroke-width="0.9" fill="none"/><path d="M375.1,500.3 Q375.85,497.3 377.6,494.3" stroke="#7a9a7a" stroke-width="0.9" fill="none"/><line x1="375.1" y1="500.3" x2="375.1" y2="485.3" stroke="#8a9a70" stroke-width="0.5"/><ellipse cx="375.1" cy="483.5" rx="0.9" ry="2.6" fill="#a08c5c"/>
<path d="M382.4,500.3 Q381.44,495.8 379.2,491.3" stroke="#5f8262" stroke-width="0.9" fill="none"/><path d="M382.4,500.3 Q381.86,494.3 380.6,488.3" stroke="#4f7154" stroke-width="0.9" fill="none"/><path d="M382.4,500.3 Q382.4,493.8 382.4,487.3" stroke="#44664a" stroke-width="0.9" fill="none"/><path d="M382.4,500.3 Q382.94,494.3 384.2,488.3" stroke="#4f7154" stroke-width="0.9" fill="none"/><path d="M382.4,500.3 Q383.36,495.8 385.6,491.3" stroke="#5f8262" stroke-width="0.9" fill="none"/><path d="M382.4,500.3 Q381.65,497.3 379.9,494.3" stroke="#7a9a7a" stroke-width="0.9" fill="none"/><path d="M382.4,500.3 Q383.15,497.3 384.9,494.3" stroke="#7a9a7a" stroke-width="0.9" fill="none"/><line x1="382.4" y1="500.3" x2="382.4" y2="485.3" stroke="#8a9a70" stroke-width="0.5"/><ellipse cx="382.4" cy="483.5" rx="0.9" ry="2.6" fill="#a08c5c"/>
<path d="M400,500.3 L400,489.8 M398,500.3 L399,492.8 M402,500.3 L401,492.8" stroke="#4f8a2a" stroke-width="0.6"/><ellipse cx="400" cy="489.8" rx="7.7" ry="8.36" fill="#64ad3a"/><circle cx="406.81" cy="489.38" r="2.28" fill="#62ac38"/><circle cx="406.35" cy="492.52" r="1.83" fill="#62ac38"/><circle cx="405.25" cy="494.53" r="1.96" fill="#62ac38"/><circle cx="395.05" cy="494.9" r="1.82" fill="#62ac38"/><circle cx="393.6" cy="492.38" r="2.07" fill="#62ac38"/><circle cx="393.18" cy="489.63" r="2.21" fill="#62ac38"/><circle cx="393.47" cy="487.63" r="2.43" fill="#62ac38"/><circle cx="394.36" cy="485.63" r="2.08" fill="#62ac38"/><circle cx="396.33" cy="483.55" r="2.09" fill="#62ac38"/><circle cx="398.3" cy="482.62" r="2.38" fill="#62ac38"/><circle cx="401.02" cy="482.47" r="1.83" fill="#62ac38"/><circle cx="403.55" cy="483.47" r="1.87" fill="#62ac38"/><circle cx="405.27" cy="485.09" r="2.04" fill="#62ac38"/><circle cx="406.45" cy="487.38" r="2.47" fill="#62ac38"/><circle cx="403.9" cy="488.33" r="1.85" fill="#98d258"/><circle cx="401.74" cy="487.71" r="1.31" fill="#98d258"/><circle cx="401.18" cy="490.11" r="1.97" fill="#98d258"/><circle cx="405.73" cy="490.67" r="1.48" fill="#98d258"/><circle cx="404.82" cy="483.16" r="1.29" fill="#98d258"/><circle cx="400.81" cy="490.75" r="1.31" fill="#98d258"/><circle cx="401.59" cy="494.16" r="1.5" fill="#98d258"/><circle cx="399.16" cy="485.95" r="1.43" fill="#98d258"/><circle cx="405.79" cy="487.84" r="1.97" fill="#98d258"/><circle cx="405.07" cy="490.51" r="1.41" fill="#98d258"/><circle cx="405.89" cy="489.28" r="1.53" fill="#98d258"/><circle cx="397.78" cy="495.31" r="1.59" fill="#98d258"/><circle cx="397.01" cy="489" r="0.5" fill="#e4f5c8"/><circle cx="394.71" cy="491.06" r="0.5" fill="#e4f5c8"/><circle cx="399.21" cy="486.38" r="0.5" fill="#e4f5c8"/><circle cx="403.94" cy="493.98" r="0.5" fill="#e4f5c8"/><circle cx="393.18" cy="489.79" r="0.5" fill="#e4f5c8"/><circle cx="396.83" cy="495.53" r="0.5" fill="#e4f5c8"/><circle cx="403.95" cy="485.7" r="0.5" fill="#e4f5c8"/><circle cx="396.75" cy="484.41" r="0.5" fill="#e4f5c8"/><circle cx="406.84" cy="486.38" r="0.5" fill="#e4f5c8"/><circle cx="401.51" cy="488.96" r="0.5" fill="#e4f5c8"/><circle cx="402.03" cy="490.8" r="0.5" fill="#e4f5c8"/><circle cx="403.41" cy="483.88" r="0.5" fill="#e4f5c8"/><circle cx="403.65" cy="486.48" r="0.5" fill="#e4f5c8"/><circle cx="400.47" cy="486.99" r="0.5" fill="#e4f5c8"/><circle cx="397.16" cy="489.75" r="0.5" fill="#e4f5c8"/><circle cx="399.5" cy="487.34" r="0.5" fill="#e4f5c8"/>
<path d="M414.5,500.3 L414.5,489.8 M412.5,500.3 L413.5,492.8 M416.5,500.3 L415.5,492.8" stroke="#4f8a2a" stroke-width="0.6"/><ellipse cx="414.5" cy="489.8" rx="7.7" ry="8.36" fill="#64ad3a"/><circle cx="421.32" cy="490.16" r="2.21" fill="#62ac38"/><circle cx="421.1" cy="491.68" r="1.98" fill="#62ac38"/><circle cx="419.77" cy="494.51" r="2.44" fill="#62ac38"/><circle cx="409.34" cy="494.64" r="2.2" fill="#62ac38"/><circle cx="407.99" cy="492.04" r="2.24" fill="#62ac38"/><circle cx="407.68" cy="489.83" r="2.44" fill="#62ac38"/><circle cx="408.03" cy="487.43" r="2.07" fill="#62ac38"/><circle cx="409.59" cy="484.65" r="1.94" fill="#62ac38"/><circle cx="410.85" cy="483.54" r="2.38" fill="#62ac38"/><circle cx="412.74" cy="482.64" r="2.39" fill="#62ac38"/><circle cx="415.95" cy="482.56" r="2.1" fill="#62ac38"/><circle cx="417.66" cy="483.23" r="2.35" fill="#62ac38"/><circle cx="420.07" cy="485.52" r="1.9" fill="#62ac38"/><circle cx="420.9" cy="487.24" r="2.18" fill="#62ac38"/><circle cx="414.47" cy="487.23" r="1.32" fill="#98d258"/><circle cx="415.55" cy="493.18" r="1.25" fill="#98d258"/><circle cx="411.19" cy="493.27" r="1.83" fill="#98d258"/><circle cx="416.5" cy="483.47" r="1.78" fill="#98d258"/><circle cx="420.36" cy="495.48" r="1.76" fill="#98d258"/><circle cx="408.97" cy="493.55" r="1.38" fill="#98d258"/><circle cx="416.29" cy="494.91" r="1.77" fill="#98d258"/><circle cx="410.02" cy="486.76" r="1.93" fill="#98d258"/><circle cx="410.21" cy="490.69" r="1.53" fill="#98d258"/><circle cx="410.35" cy="490.84" r="1.23" fill="#98d258"/><circle cx="409.7" cy="487.83" r="1.26" fill="#98d258"/><circle cx="409.08" cy="490.25" r="1.79" fill="#98d258"/><circle cx="419.8" cy="484.11" r="0.5" fill="#e4f5c8"/><circle cx="413.54" cy="486.68" r="0.5" fill="#e4f5c8"/><circle cx="415.9" cy="489.18" r="0.5" fill="#e4f5c8"/><circle cx="420.64" cy="487.53" r="0.5" fill="#e4f5c8"/><circle cx="408.28" cy="492.14" r="0.5" fill="#e4f5c8"/><circle cx="409.62" cy="491.2" r="0.5" fill="#e4f5c8"/><circle cx="414.58" cy="495.17" r="0.5" fill="#e4f5c8"/><circle cx="415.27" cy="491.05" r="0.5" fill="#e4f5c8"/><circle cx="411.19" cy="490.06" r="0.5" fill="#e4f5c8"/><circle cx="411.06" cy="492.9" r="0.5" fill="#e4f5c8"/><circle cx="414.74" cy="484.11" r="0.5" fill="#e4f5c8"/><circle cx="410.78" cy="487.49" r="0.5" fill="#e4f5c8"/><circle cx="417.81" cy="484.76" r="0.5" fill="#e4f5c8"/><circle cx="417.49" cy="491.53" r="0.5" fill="#e4f5c8"/><circle cx="408.69" cy="491.72" r="0.5" fill="#e4f5c8"/><circle cx="408.78" cy="483.98" r="0.5" fill="#e4f5c8"/>
<path d="M436,500.3 Q435.04,495.8 432.8,491.3" stroke="#5f8262" stroke-width="0.9" fill="none"/><path d="M436,500.3 Q435.46,494.3 434.2,488.3" stroke="#4f7154" stroke-width="0.9" fill="none"/><path d="M436,500.3 Q436,493.8 436,487.3" stroke="#44664a" stroke-width="0.9" fill="none"/><path d="M436,500.3 Q436.54,494.3 437.8,488.3" stroke="#4f7154" stroke-width="0.9" fill="none"/><path d="M436,500.3 Q436.96,495.8 439.2,491.3" stroke="#5f8262" stroke-width="0.9" fill="none"/><path d="M436,500.3 Q435.25,497.3 433.5,494.3" stroke="#7a9a7a" stroke-width="0.9" fill="none"/><path d="M436,500.3 Q436.75,497.3 438.5,494.3" stroke="#7a9a7a" stroke-width="0.9" fill="none"/><line x1="436" y1="500.3" x2="436" y2="485.3" stroke="#8a9a70" stroke-width="0.5"/><ellipse cx="436" cy="483.5" rx="0.9" ry="2.6" fill="#a08c5c"/>
<path d="M443.4,500.3 Q442.44,495.8 440.2,491.3" stroke="#5f8262" stroke-width="0.9" fill="none"/><path d="M443.4,500.3 Q442.86,494.3 441.6,488.3" stroke="#4f7154" stroke-width="0.9" fill="none"/><path d="M443.4,500.3 Q443.4,493.8 443.4,487.3" stroke="#44664a" stroke-width="0.9" fill="none"/><path d="M443.4,500.3 Q443.94,494.3 445.2,488.3" stroke="#4f7154" stroke-width="0.9" fill="none"/><path d="M443.4,500.3 Q444.36,495.8 446.6,491.3" stroke="#5f8262" stroke-width="0.9" fill="none"/><path d="M443.4,500.3 Q442.65,497.3 440.9,494.3" stroke="#7a9a7a" stroke-width="0.9" fill="none"/><path d="M443.4,500.3 Q444.15,497.3 445.9,494.3" stroke="#7a9a7a" stroke-width="0.9" fill="none"/><line x1="443.4" y1="500.3" x2="443.4" y2="485.3" stroke="#8a9a70" stroke-width="0.5"/><ellipse cx="443.4" cy="483.5" rx="0.9" ry="2.6" fill="#a08c5c"/>
<path d="M450.7,500.3 Q449.74,495.8 447.5,491.3" stroke="#5f8262" stroke-width="0.9" fill="none"/><path d="M450.7,500.3 Q450.16,494.3 448.9,488.3" stroke="#4f7154" stroke-width="0.9" fill="none"/><path d="M450.7,500.3 Q450.7,493.8 450.7,487.3" stroke="#44664a" stroke-width="0.9" fill="none"/><path d="M450.7,500.3 Q451.24,494.3 452.5,488.3" stroke="#4f7154" stroke-width="0.9" fill="none"/><path d="M450.7,500.3 Q451.66,495.8 453.9,491.3" stroke="#5f8262" stroke-width="0.9" fill="none"/><path d="M450.7,500.3 Q449.95,497.3 448.2,494.3" stroke="#7a9a7a" stroke-width="0.9" fill="none"/><path d="M450.7,500.3 Q451.45,497.3 453.2,494.3" stroke="#7a9a7a" stroke-width="0.9" fill="none"/><line x1="450.7" y1="500.3" x2="450.7" y2="485.3" stroke="#8a9a70" stroke-width="0.5"/><ellipse cx="450.7" cy="483.5" rx="0.9" ry="2.6" fill="#a08c5c"/>
<path d="M468.3,500.3 L468.3,489.8 M466.3,500.3 L467.3,492.8 M470.3,500.3 L469.3,492.8" stroke="#4f8a2a" stroke-width="0.6"/><ellipse cx="468.3" cy="489.8" rx="7.7" ry="8.36" fill="#64ad3a"/><circle cx="475.12" cy="489.94" r="1.97" fill="#62ac38"/><circle cx="474.52" cy="492.85" r="2.14" fill="#62ac38"/><circle cx="473.68" cy="494.36" r="2.36" fill="#62ac38"/><circle cx="462.7" cy="494.03" r="2.28" fill="#62ac38"/><circle cx="462.03" cy="492.72" r="1.88" fill="#62ac38"/><circle cx="461.51" cy="489.1" r="2.27" fill="#62ac38"/><circle cx="462.05" cy="486.82" r="1.9" fill="#62ac38"/><circle cx="463.18" cy="484.9" r="2.05" fill="#62ac38"/><circle cx="464.58" cy="483.59" r="2.03" fill="#62ac38"/><circle cx="467.27" cy="482.48" r="2.04" fill="#62ac38"/><circle cx="469.33" cy="482.48" r="1.9" fill="#62ac38"/><circle cx="472.1" cy="483.64" r="2.25" fill="#62ac38"/><circle cx="473.79" cy="485.39" r="2.1" fill="#62ac38"/><circle cx="474.86" cy="487.76" r="2.16" fill="#62ac38"/><circle cx="469.43" cy="490.23" r="1.79" fill="#98d258"/><circle cx="467.02" cy="484.35" r="1.23" fill="#98d258"/><circle cx="464.65" cy="483.64" r="1.91" fill="#98d258"/><circle cx="468.07" cy="492.54" r="1.2" fill="#98d258"/><circle cx="467.93" cy="494.14" r="1.7" fill="#98d258"/><circle cx="467.43" cy="488.9" r="1.28" fill="#98d258"/><circle cx="464.07" cy="485.11" r="1.5" fill="#98d258"/><circle cx="466.9" cy="494.02" r="1.32" fill="#98d258"/><circle cx="465.29" cy="486.58" r="1.33" fill="#98d258"/><circle cx="465.69" cy="486.05" r="1.59" fill="#98d258"/><circle cx="462.57" cy="494.57" r="1.5" fill="#98d258"/><circle cx="473.66" cy="491.64" r="1.74" fill="#98d258"/><circle cx="467.9" cy="495.67" r="0.5" fill="#e4f5c8"/><circle cx="462.95" cy="491.73" r="0.5" fill="#e4f5c8"/><circle cx="465.38" cy="491.81" r="0.5" fill="#e4f5c8"/><circle cx="471.51" cy="484.53" r="0.5" fill="#e4f5c8"/><circle cx="464.11" cy="482.56" r="0.5" fill="#e4f5c8"/><circle cx="464.53" cy="483.31" r="0.5" fill="#e4f5c8"/><circle cx="466.91" cy="496.07" r="0.5" fill="#e4f5c8"/><circle cx="466.4" cy="486.64" r="0.5" fill="#e4f5c8"/><circle cx="467.85" cy="486.23" r="0.5" fill="#e4f5c8"/><circle cx="471.55" cy="492.43" r="0.5" fill="#e4f5c8"/><circle cx="463.59" cy="485.63" r="0.5" fill="#e4f5c8"/><circle cx="470.71" cy="495.6" r="0.5" fill="#e4f5c8"/><circle cx="470.34" cy="488.34" r="0.5" fill="#e4f5c8"/><circle cx="474.96" cy="482.29" r="0.5" fill="#e4f5c8"/><circle cx="462.15" cy="493.3" r="0.5" fill="#e4f5c8"/><circle cx="467.04" cy="482.84" r="0.5" fill="#e4f5c8"/>
<path d="M482.8,500.3 L482.8,489.8 M480.8,500.3 L481.8,492.8 M484.8,500.3 L483.8,492.8" stroke="#4f8a2a" stroke-width="0.6"/><ellipse cx="482.8" cy="489.8" rx="7.7" ry="8.36" fill="#64ad3a"/><circle cx="489.62" cy="489.87" r="2.49" fill="#62ac38"/><circle cx="489.2" cy="492.36" r="2.05" fill="#62ac38"/><circle cx="488.37" cy="494.09" r="1.85" fill="#62ac38"/><circle cx="477.8" cy="494.85" r="1.84" fill="#62ac38"/><circle cx="476.44" cy="492.48" r="1.84" fill="#62ac38"/><circle cx="475.98" cy="490.16" r="2.09" fill="#62ac38"/><circle cx="476.3" cy="487.54" r="1.84" fill="#62ac38"/><circle cx="477.19" cy="485.58" r="2.48" fill="#62ac38"/><circle cx="479.02" cy="483.63" r="2.16" fill="#62ac38"/><circle cx="481.48" cy="482.53" r="2.17" fill="#62ac38"/><circle cx="483.42" cy="482.42" r="2.02" fill="#62ac38"/><circle cx="485.74" cy="483.11" r="2.18" fill="#62ac38"/><circle cx="488.38" cy="485.53" r="2.22" fill="#62ac38"/><circle cx="489.36" cy="487.77" r="1.95" fill="#62ac38"/><circle cx="476.89" cy="489.81" r="1.59" fill="#98d258"/><circle cx="483.67" cy="487.8" r="1.7" fill="#98d258"/><circle cx="485.56" cy="494.43" r="1.45" fill="#98d258"/><circle cx="482.18" cy="493.36" r="1.38" fill="#98d258"/><circle cx="478.09" cy="487" r="1.27" fill="#98d258"/><circle cx="486.14" cy="493.27" r="1.45" fill="#98d258"/><circle cx="478.27" cy="484.16" r="1.4" fill="#98d258"/><circle cx="477.71" cy="488.44" r="1.66" fill="#98d258"/><circle cx="479.68" cy="483.91" r="1.76" fill="#98d258"/><circle cx="477.26" cy="485.62" r="1.43" fill="#98d258"/><circle cx="481.25" cy="484.37" r="1.54" fill="#98d258"/><circle cx="480.52" cy="492.44" r="1.64" fill="#98d258"/><circle cx="488.35" cy="491.52" r="0.5" fill="#e4f5c8"/><circle cx="486.44" cy="490.39" r="0.5" fill="#e4f5c8"/><circle cx="481.99" cy="493.84" r="0.5" fill="#e4f5c8"/><circle cx="484.98" cy="495.81" r="0.5" fill="#e4f5c8"/><circle cx="485.99" cy="492.19" r="0.5" fill="#e4f5c8"/><circle cx="479.55" cy="493.77" r="0.5" fill="#e4f5c8"/><circle cx="481.15" cy="484.06" r="0.5" fill="#e4f5c8"/><circle cx="476.72" cy="484.61" r="0.5" fill="#e4f5c8"/><circle cx="479.48" cy="491.83" r="0.5" fill="#e4f5c8"/><circle cx="479.8" cy="483.11" r="0.5" fill="#e4f5c8"/><circle cx="486.49" cy="490.14" r="0.5" fill="#e4f5c8"/><circle cx="476.18" cy="482.92" r="0.5" fill="#e4f5c8"/><circle cx="477.62" cy="487.29" r="0.5" fill="#e4f5c8"/><circle cx="487.84" cy="495.73" r="0.5" fill="#e4f5c8"/><circle cx="484.37" cy="485.49" r="0.5" fill="#e4f5c8"/><circle cx="481.8" cy="487.36" r="0.5" fill="#e4f5c8"/>
<text x="290.3" y="512.3" font-size="3.8" font-weight="bold" fill="#222" stroke="#222" stroke-width="0.17">RT</text>
<rect x="289.9" y="528.8" width="201.9" height="7.7" fill="#ad5a30"/>
<rect x="289.9" y="528.8" width="201.9" height="0.8" fill="#6e3416"/>
<rect x="289.9" y="536" width="201.9" height="0.7" fill="#7a3a1a"/>
<path d="M299.6,529.1 Q298.64,524.6 296.4,520.1" stroke="#5f8262" stroke-width="0.9" fill="none"/><path d="M299.6,529.1 Q299.06,523.1 297.8,517.1" stroke="#4f7154" stroke-width="0.9" fill="none"/><path d="M299.6,529.1 Q299.6,522.6 299.6,516.1" stroke="#44664a" stroke-width="0.9" fill="none"/><path d="M299.6,529.1 Q300.14,523.1 301.4,517.1" stroke="#4f7154" stroke-width="0.9" fill="none"/><path d="M299.6,529.1 Q300.56,524.6 302.8,520.1" stroke="#5f8262" stroke-width="0.9" fill="none"/><path d="M299.6,529.1 Q298.85,526.1 297.1,523.1" stroke="#7a9a7a" stroke-width="0.9" fill="none"/><path d="M299.6,529.1 Q300.35,526.1 302.1,523.1" stroke="#7a9a7a" stroke-width="0.9" fill="none"/><line x1="299.6" y1="529.1" x2="299.6" y2="514.1" stroke="#8a9a70" stroke-width="0.5"/><ellipse cx="299.6" cy="512.3" rx="0.9" ry="2.6" fill="#a08c5c"/>
<path d="M307,529.1 Q306.04,524.6 303.8,520.1" stroke="#5f8262" stroke-width="0.9" fill="none"/><path d="M307,529.1 Q306.46,523.1 305.2,517.1" stroke="#4f7154" stroke-width="0.9" fill="none"/><path d="M307,529.1 Q307,522.6 307,516.1" stroke="#44664a" stroke-width="0.9" fill="none"/><path d="M307,529.1 Q307.54,523.1 308.8,517.1" stroke="#4f7154" stroke-width="0.9" fill="none"/><path d="M307,529.1 Q307.96,524.6 310.2,520.1" stroke="#5f8262" stroke-width="0.9" fill="none"/><path d="M307,529.1 Q306.25,526.1 304.5,523.1" stroke="#7a9a7a" stroke-width="0.9" fill="none"/><path d="M307,529.1 Q307.75,526.1 309.5,523.1" stroke="#7a9a7a" stroke-width="0.9" fill="none"/><line x1="307" y1="529.1" x2="307" y2="514.1" stroke="#8a9a70" stroke-width="0.5"/><ellipse cx="307" cy="512.3" rx="0.9" ry="2.6" fill="#a08c5c"/>
<path d="M314.3,529.1 Q313.34,524.6 311.1,520.1" stroke="#5f8262" stroke-width="0.9" fill="none"/><path d="M314.3,529.1 Q313.76,523.1 312.5,517.1" stroke="#4f7154" stroke-width="0.9" fill="none"/><path d="M314.3,529.1 Q314.3,522.6 314.3,516.1" stroke="#44664a" stroke-width="0.9" fill="none"/><path d="M314.3,529.1 Q314.84,523.1 316.1,517.1" stroke="#4f7154" stroke-width="0.9" fill="none"/><path d="M314.3,529.1 Q315.26,524.6 317.5,520.1" stroke="#5f8262" stroke-width="0.9" fill="none"/><path d="M314.3,529.1 Q313.55,526.1 311.8,523.1" stroke="#7a9a7a" stroke-width="0.9" fill="none"/><path d="M314.3,529.1 Q315.05,526.1 316.8,523.1" stroke="#7a9a7a" stroke-width="0.9" fill="none"/><line x1="314.3" y1="529.1" x2="314.3" y2="514.1" stroke="#8a9a70" stroke-width="0.5"/><ellipse cx="314.3" cy="512.3" rx="0.9" ry="2.6" fill="#a08c5c"/>
<path d="M331.9,529.1 L331.9,518.6 M329.9,529.1 L330.9,521.6 M333.9,529.1 L332.9,521.6" stroke="#4f8a2a" stroke-width="0.6"/><ellipse cx="331.9" cy="518.6" rx="7.7" ry="8.36" fill="#64ad3a"/><circle cx="338.72" cy="518.35" r="1.81" fill="#62ac38"/><circle cx="338.27" cy="521.25" r="2.38" fill="#62ac38"/><circle cx="336.92" cy="523.62" r="1.87" fill="#62ac38"/><circle cx="326.31" cy="522.85" r="2.36" fill="#62ac38"/><circle cx="325.68" cy="521.66" r="2.02" fill="#62ac38"/><circle cx="325.1" cy="517.99" r="2.12" fill="#62ac38"/><circle cx="325.46" cy="516.16" r="2.11" fill="#62ac38"/><circle cx="326.91" cy="513.54" r="2.46" fill="#62ac38"/><circle cx="328.53" cy="512.16" r="2.48" fill="#62ac38"/><circle cx="330.84" cy="511.28" r="1.87" fill="#62ac38"/><circle cx="333.5" cy="511.4" r="2.09" fill="#62ac38"/><circle cx="334.77" cy="511.88" r="2.48" fill="#62ac38"/><circle cx="336.7" cy="513.33" r="2.2" fill="#62ac38"/><circle cx="338.3" cy="516.04" r="2.42" fill="#62ac38"/><circle cx="330.59" cy="514.61" r="1.42" fill="#98d258"/><circle cx="328.24" cy="518.9" r="1.49" fill="#98d258"/><circle cx="334.98" cy="514.93" r="1.48" fill="#98d258"/><circle cx="328.82" cy="524.08" r="1.87" fill="#98d258"/><circle cx="336.19" cy="519.58" r="1.52" fill="#98d258"/><circle cx="327.53" cy="522.22" r="1.59" fill="#98d258"/><circle cx="326.24" cy="514.04" r="1.28" fill="#98d258"/><circle cx="334.57" cy="523.07" r="1.36" fill="#98d258"/><circle cx="335.54" cy="515.95" r="1.75" fill="#98d258"/><circle cx="336.35" cy="519.65" r="1.84" fill="#98d258"/><circle cx="330.39" cy="512.07" r="1.61" fill="#98d258"/><circle cx="332.96" cy="514.23" r="1.51" fill="#98d258"/><circle cx="329.34" cy="511.39" r="0.5" fill="#e4f5c8"/><circle cx="329.27" cy="516.46" r="0.5" fill="#e4f5c8"/><circle cx="331.57" cy="521.02" r="0.5" fill="#e4f5c8"/><circle cx="330.49" cy="525" r="0.5" fill="#e4f5c8"/><circle cx="336.32" cy="524.17" r="0.5" fill="#e4f5c8"/><circle cx="334.6" cy="520.55" r="0.5" fill="#e4f5c8"/><circle cx="332.41" cy="522.38" r="0.5" fill="#e4f5c8"/><circle cx="329.98" cy="519.46" r="0.5" fill="#e4f5c8"/><circle cx="334.41" cy="518.44" r="0.5" fill="#e4f5c8"/><circle cx="328.88" cy="512.11" r="0.5" fill="#e4f5c8"/><circle cx="326.12" cy="516.07" r="0.5" fill="#e4f5c8"/><circle cx="333.03" cy="521.82" r="0.5" fill="#e4f5c8"/><circle cx="334.9" cy="515.37" r="0.5" fill="#e4f5c8"/><circle cx="337.91" cy="514.91" r="0.5" fill="#e4f5c8"/><circle cx="334.92" cy="512.03" r="0.5" fill="#e4f5c8"/><circle cx="335.45" cy="520.55" r="0.5" fill="#e4f5c8"/>
<path d="M346.4,529.1 L346.4,518.6 M344.4,529.1 L345.4,521.6 M348.4,529.1 L347.4,521.6" stroke="#4f8a2a" stroke-width="0.6"/><ellipse cx="346.4" cy="518.6" rx="7.7" ry="8.36" fill="#64ad3a"/><circle cx="353.2" cy="519.28" r="2.43" fill="#62ac38"/><circle cx="352.72" cy="521.39" r="2.39" fill="#62ac38"/><circle cx="351.41" cy="523.63" r="2.23" fill="#62ac38"/><circle cx="340.78" cy="522.8" r="2.18" fill="#62ac38"/><circle cx="340.04" cy="521.28" r="1.8" fill="#62ac38"/><circle cx="339.58" cy="518.76" r="1.92" fill="#62ac38"/><circle cx="340.06" cy="515.85" r="2.43" fill="#62ac38"/><circle cx="341.55" cy="513.39" r="2.23" fill="#62ac38"/><circle cx="342.85" cy="512.27" r="1.88" fill="#62ac38"/><circle cx="345.47" cy="511.26" r="2.19" fill="#62ac38"/><circle cx="347.87" cy="511.36" r="2.06" fill="#62ac38"/><circle cx="350.26" cy="512.49" r="1.95" fill="#62ac38"/><circle cx="351.45" cy="513.62" r="1.99" fill="#62ac38"/><circle cx="352.87" cy="516.24" r="2.43" fill="#62ac38"/><circle cx="342.33" cy="519.77" r="1.81" fill="#98d258"/><circle cx="343.03" cy="512.72" r="1.65" fill="#98d258"/><circle cx="350.45" cy="522.8" r="1.78" fill="#98d258"/><circle cx="345.38" cy="517.2" r="1.62" fill="#98d258"/><circle cx="351.36" cy="515.68" r="1.42" fill="#98d258"/><circle cx="347.69" cy="523.89" r="1.35" fill="#98d258"/><circle cx="340.65" cy="513.38" r="1.65" fill="#98d258"/><circle cx="347.67" cy="514.22" r="1.35" fill="#98d258"/><circle cx="347.56" cy="519.93" r="1.75" fill="#98d258"/><circle cx="349.2" cy="512.71" r="1.59" fill="#98d258"/><circle cx="350.5" cy="523.77" r="1.45" fill="#98d258"/><circle cx="350.69" cy="519.92" r="1.94" fill="#98d258"/><circle cx="342.61" cy="520.93" r="0.5" fill="#e4f5c8"/><circle cx="351.17" cy="517.79" r="0.5" fill="#e4f5c8"/><circle cx="340.81" cy="513.76" r="0.5" fill="#e4f5c8"/><circle cx="341.59" cy="512.32" r="0.5" fill="#e4f5c8"/><circle cx="341.53" cy="519.77" r="0.5" fill="#e4f5c8"/><circle cx="340.87" cy="521.8" r="0.5" fill="#e4f5c8"/><circle cx="349.71" cy="522.63" r="0.5" fill="#e4f5c8"/><circle cx="350.65" cy="521.16" r="0.5" fill="#e4f5c8"/><circle cx="352.34" cy="524.64" r="0.5" fill="#e4f5c8"/><circle cx="348.15" cy="524.75" r="0.5" fill="#e4f5c8"/><circle cx="340.85" cy="512.47" r="0.5" fill="#e4f5c8"/><circle cx="340.3" cy="513.94" r="0.5" fill="#e4f5c8"/><circle cx="344.64" cy="517.54" r="0.5" fill="#e4f5c8"/><circle cx="348.93" cy="521.59" r="0.5" fill="#e4f5c8"/><circle cx="340.57" cy="516.75" r="0.5" fill="#e4f5c8"/><circle cx="347.01" cy="516.35" r="0.5" fill="#e4f5c8"/>
<path d="M367.7,529.1 Q366.74,524.6 364.5,520.1" stroke="#5f8262" stroke-width="0.9" fill="none"/><path d="M367.7,529.1 Q367.16,523.1 365.9,517.1" stroke="#4f7154" stroke-width="0.9" fill="none"/><path d="M367.7,529.1 Q367.7,522.6 367.7,516.1" stroke="#44664a" stroke-width="0.9" fill="none"/><path d="M367.7,529.1 Q368.24,523.1 369.5,517.1" stroke="#4f7154" stroke-width="0.9" fill="none"/><path d="M367.7,529.1 Q368.66,524.6 370.9,520.1" stroke="#5f8262" stroke-width="0.9" fill="none"/><path d="M367.7,529.1 Q366.95,526.1 365.2,523.1" stroke="#7a9a7a" stroke-width="0.9" fill="none"/><path d="M367.7,529.1 Q368.45,526.1 370.2,523.1" stroke="#7a9a7a" stroke-width="0.9" fill="none"/><line x1="367.7" y1="529.1" x2="367.7" y2="514.1" stroke="#8a9a70" stroke-width="0.5"/><ellipse cx="367.7" cy="512.3" rx="0.9" ry="2.6" fill="#a08c5c"/>
<path d="M375.1,529.1 Q374.14,524.6 371.9,520.1" stroke="#5f8262" stroke-width="0.9" fill="none"/><path d="M375.1,529.1 Q374.56,523.1 373.3,517.1" stroke="#4f7154" stroke-width="0.9" fill="none"/><path d="M375.1,529.1 Q375.1,522.6 375.1,516.1" stroke="#44664a" stroke-width="0.9" fill="none"/><path d="M375.1,529.1 Q375.64,523.1 376.9,517.1" stroke="#4f7154" stroke-width="0.9" fill="none"/><path d="M375.1,529.1 Q376.06,524.6 378.3,520.1" stroke="#5f8262" stroke-width="0.9" fill="none"/><path d="M375.1,529.1 Q374.35,526.1 372.6,523.1" stroke="#7a9a7a" stroke-width="0.9" fill="none"/><path d="M375.1,529.1 Q375.85,526.1 377.6,523.1" stroke="#7a9a7a" stroke-width="0.9" fill="none"/><line x1="375.1" y1="529.1" x2="375.1" y2="514.1" stroke="#8a9a70" stroke-width="0.5"/><ellipse cx="375.1" cy="512.3" rx="0.9" ry="2.6" fill="#a08c5c"/>
<path d="M382.4,529.1 Q381.44,524.6 379.2,520.1" stroke="#5f8262" stroke-width="0.9" fill="none"/><path d="M382.4,529.1 Q381.86,523.1 380.6,517.1" stroke="#4f7154" stroke-width="0.9" fill="none"/><path d="M382.4,529.1 Q382.4,522.6 382.4,516.1" stroke="#44664a" stroke-width="0.9" fill="none"/><path d="M382.4,529.1 Q382.94,523.1 384.2,517.1" stroke="#4f7154" stroke-width="0.9" fill="none"/><path d="M382.4,529.1 Q383.36,524.6 385.6,520.1" stroke="#5f8262" stroke-width="0.9" fill="none"/><path d="M382.4,529.1 Q381.65,526.1 379.9,523.1" stroke="#7a9a7a" stroke-width="0.9" fill="none"/><path d="M382.4,529.1 Q383.15,526.1 384.9,523.1" stroke="#7a9a7a" stroke-width="0.9" fill="none"/><line x1="382.4" y1="529.1" x2="382.4" y2="514.1" stroke="#8a9a70" stroke-width="0.5"/><ellipse cx="382.4" cy="512.3" rx="0.9" ry="2.6" fill="#a08c5c"/>
<path d="M400,529.1 L400,518.6 M398,529.1 L399,521.6 M402,529.1 L401,521.6" stroke="#4f8a2a" stroke-width="0.6"/><ellipse cx="400" cy="518.6" rx="7.7" ry="8.36" fill="#64ad3a"/><circle cx="406.81" cy="518.03" r="2.22" fill="#62ac38"/><circle cx="406.47" cy="520.96" r="2.28" fill="#62ac38"/><circle cx="405.23" cy="523.36" r="2.47" fill="#62ac38"/><circle cx="394.96" cy="523.59" r="1.88" fill="#62ac38"/><circle cx="393.6" cy="521.16" r="2.05" fill="#62ac38"/><circle cx="393.18" cy="518.25" r="2.44" fill="#62ac38"/><circle cx="393.53" cy="516.23" r="2" fill="#62ac38"/><circle cx="394.77" cy="513.84" r="2.29" fill="#62ac38"/><circle cx="396.93" cy="511.98" r="2.2" fill="#62ac38"/><circle cx="398.54" cy="511.36" r="2.04" fill="#62ac38"/><circle cx="401.65" cy="511.41" r="2.16" fill="#62ac38"/><circle cx="402.87" cy="511.88" r="2.09" fill="#62ac38"/><circle cx="404.99" cy="513.55" r="2.27" fill="#62ac38"/><circle cx="406.19" cy="515.48" r="1.99" fill="#62ac38"/><circle cx="395.05" cy="517.85" r="1.99" fill="#98d258"/><circle cx="400.51" cy="516.72" r="1.95" fill="#98d258"/><circle cx="395" cy="516.34" r="1.85" fill="#98d258"/><circle cx="393.94" cy="521.41" r="1.49" fill="#98d258"/><circle cx="394.08" cy="515.05" r="1.57" fill="#98d258"/><circle cx="398.56" cy="518.33" r="1.24" fill="#98d258"/><circle cx="396.55" cy="523.98" r="1.55" fill="#98d258"/><circle cx="399.66" cy="513" r="1.42" fill="#98d258"/><circle cx="405.57" cy="520.44" r="1.61" fill="#98d258"/><circle cx="394.52" cy="516.8" r="1.82" fill="#98d258"/><circle cx="399.2" cy="519.28" r="1.92" fill="#98d258"/><circle cx="401.78" cy="519.8" r="1.23" fill="#98d258"/><circle cx="393.33" cy="521.97" r="0.5" fill="#e4f5c8"/><circle cx="398.79" cy="523.46" r="0.5" fill="#e4f5c8"/><circle cx="404.56" cy="524.04" r="0.5" fill="#e4f5c8"/><circle cx="398.3" cy="525.24" r="0.5" fill="#e4f5c8"/><circle cx="403.59" cy="523.71" r="0.5" fill="#e4f5c8"/><circle cx="395.08" cy="522.13" r="0.5" fill="#e4f5c8"/><circle cx="398.91" cy="524.85" r="0.5" fill="#e4f5c8"/><circle cx="406.92" cy="514.09" r="0.5" fill="#e4f5c8"/><circle cx="398.9" cy="514.86" r="0.5" fill="#e4f5c8"/><circle cx="399.58" cy="515.08" r="0.5" fill="#e4f5c8"/><circle cx="402.33" cy="512.76" r="0.5" fill="#e4f5c8"/><circle cx="395.37" cy="517.52" r="0.5" fill="#e4f5c8"/><circle cx="394.03" cy="516.43" r="0.5" fill="#e4f5c8"/><circle cx="405.56" cy="523.62" r="0.5" fill="#e4f5c8"/><circle cx="395.75" cy="511.26" r="0.5" fill="#e4f5c8"/><circle cx="404.6" cy="524.69" r="0.5" fill="#e4f5c8"/>
<path d="M414.5,529.1 L414.5,518.6 M412.5,529.1 L413.5,521.6 M416.5,529.1 L415.5,521.6" stroke="#4f8a2a" stroke-width="0.6"/><ellipse cx="414.5" cy="518.6" rx="7.7" ry="8.36" fill="#64ad3a"/><circle cx="421.32" cy="518.75" r="1.9" fill="#62ac38"/><circle cx="421.03" cy="520.76" r="2.44" fill="#62ac38"/><circle cx="419.32" cy="523.84" r="1.82" fill="#62ac38"/><circle cx="409.38" cy="523.51" r="2.34" fill="#62ac38"/><circle cx="408.26" cy="521.61" r="2.16" fill="#62ac38"/><circle cx="407.71" cy="517.9" r="2.29" fill="#62ac38"/><circle cx="407.92" cy="516.64" r="1.88" fill="#62ac38"/><circle cx="409.4" cy="513.68" r="2.06" fill="#62ac38"/><circle cx="410.93" cy="512.28" r="2.13" fill="#62ac38"/><circle cx="413.42" cy="511.28" r="2.48" fill="#62ac38"/><circle cx="415.34" cy="511.25" r="2.2" fill="#62ac38"/><circle cx="417.63" cy="512.01" r="2.18" fill="#62ac38"/><circle cx="419.93" cy="514.1" r="1.89" fill="#62ac38"/><circle cx="420.9" cy="516.04" r="2.29" fill="#62ac38"/><circle cx="408.47" cy="521.47" r="1.54" fill="#98d258"/><circle cx="414.55" cy="519.49" r="1.83" fill="#98d258"/><circle cx="409.06" cy="518.13" r="1.23" fill="#98d258"/><circle cx="413.1" cy="516.22" r="1.22" fill="#98d258"/><circle cx="412.02" cy="517.51" r="1.72" fill="#98d258"/><circle cx="419.7" cy="516.53" r="1.62" fill="#98d258"/><circle cx="417.11" cy="523.53" r="1.96" fill="#98d258"/><circle cx="420.48" cy="515.68" r="1.33" fill="#98d258"/><circle cx="419.79" cy="512.91" r="1.56" fill="#98d258"/><circle cx="417.39" cy="518.48" r="1.51" fill="#98d258"/><circle cx="419.7" cy="515.65" r="1.64" fill="#98d258"/><circle cx="418.54" cy="513.65" r="1.48" fill="#98d258"/><circle cx="414.42" cy="519.06" r="0.5" fill="#e4f5c8"/><circle cx="410.4" cy="517.47" r="0.5" fill="#e4f5c8"/><circle cx="408.34" cy="512.25" r="0.5" fill="#e4f5c8"/><circle cx="412.29" cy="513.05" r="0.5" fill="#e4f5c8"/><circle cx="421.05" cy="514.75" r="0.5" fill="#e4f5c8"/><circle cx="411.36" cy="522.17" r="0.5" fill="#e4f5c8"/><circle cx="417.88" cy="514.74" r="0.5" fill="#e4f5c8"/><circle cx="419.11" cy="519.92" r="0.5" fill="#e4f5c8"/><circle cx="412.94" cy="519.96" r="0.5" fill="#e4f5c8"/><circle cx="410.94" cy="514.75" r="0.5" fill="#e4f5c8"/><circle cx="419.77" cy="517.25" r="0.5" fill="#e4f5c8"/><circle cx="420.06" cy="513.52" r="0.5" fill="#e4f5c8"/><circle cx="409.42" cy="511.74" r="0.5" fill="#e4f5c8"/><circle cx="417.86" cy="519" r="0.5" fill="#e4f5c8"/><circle cx="407.64" cy="511.62" r="0.5" fill="#e4f5c8"/><circle cx="419.04" cy="518.04" r="0.5" fill="#e4f5c8"/>
<path d="M436,529.1 Q435.04,524.6 432.8,520.1" stroke="#5f8262" stroke-width="0.9" fill="none"/><path d="M436,529.1 Q435.46,523.1 434.2,517.1" stroke="#4f7154" stroke-width="0.9" fill="none"/><path d="M436,529.1 Q436,522.6 436,516.1" stroke="#44664a" stroke-width="0.9" fill="none"/><path d="M436,529.1 Q436.54,523.1 437.8,517.1" stroke="#4f7154" stroke-width="0.9" fill="none"/><path d="M436,529.1 Q436.96,524.6 439.2,520.1" stroke="#5f8262" stroke-width="0.9" fill="none"/><path d="M436,529.1 Q435.25,526.1 433.5,523.1" stroke="#7a9a7a" stroke-width="0.9" fill="none"/><path d="M436,529.1 Q436.75,526.1 438.5,523.1" stroke="#7a9a7a" stroke-width="0.9" fill="none"/><line x1="436" y1="529.1" x2="436" y2="514.1" stroke="#8a9a70" stroke-width="0.5"/><ellipse cx="436" cy="512.3" rx="0.9" ry="2.6" fill="#a08c5c"/>
<path d="M443.4,529.1 Q442.44,524.6 440.2,520.1" stroke="#5f8262" stroke-width="0.9" fill="none"/><path d="M443.4,529.1 Q442.86,523.1 441.6,517.1" stroke="#4f7154" stroke-width="0.9" fill="none"/><path d="M443.4,529.1 Q443.4,522.6 443.4,516.1" stroke="#44664a" stroke-width="0.9" fill="none"/><path d="M443.4,529.1 Q443.94,523.1 445.2,517.1" stroke="#4f7154" stroke-width="0.9" fill="none"/><path d="M443.4,529.1 Q444.36,524.6 446.6,520.1" stroke="#5f8262" stroke-width="0.9" fill="none"/><path d="M443.4,529.1 Q442.65,526.1 440.9,523.1" stroke="#7a9a7a" stroke-width="0.9" fill="none"/><path d="M443.4,529.1 Q444.15,526.1 445.9,523.1" stroke="#7a9a7a" stroke-width="0.9" fill="none"/><line x1="443.4" y1="529.1" x2="443.4" y2="514.1" stroke="#8a9a70" stroke-width="0.5"/><ellipse cx="443.4" cy="512.3" rx="0.9" ry="2.6" fill="#a08c5c"/>
<path d="M450.7,529.1 Q449.74,524.6 447.5,520.1" stroke="#5f8262" stroke-width="0.9" fill="none"/><path d="M450.7,529.1 Q450.16,523.1 448.9,517.1" stroke="#4f7154" stroke-width="0.9" fill="none"/><path d="M450.7,529.1 Q450.7,522.6 450.7,516.1" stroke="#44664a" stroke-width="0.9" fill="none"/><path d="M450.7,529.1 Q451.24,523.1 452.5,517.1" stroke="#4f7154" stroke-width="0.9" fill="none"/><path d="M450.7,529.1 Q451.66,524.6 453.9,520.1" stroke="#5f8262" stroke-width="0.9" fill="none"/><path d="M450.7,529.1 Q449.95,526.1 448.2,523.1" stroke="#7a9a7a" stroke-width="0.9" fill="none"/><path d="M450.7,529.1 Q451.45,526.1 453.2,523.1" stroke="#7a9a7a" stroke-width="0.9" fill="none"/><line x1="450.7" y1="529.1" x2="450.7" y2="514.1" stroke="#8a9a70" stroke-width="0.5"/><ellipse cx="450.7" cy="512.3" rx="0.9" ry="2.6" fill="#a08c5c"/>
<path d="M468.3,529.1 L468.3,518.6 M466.3,529.1 L467.3,521.6 M470.3,529.1 L469.3,521.6" stroke="#4f8a2a" stroke-width="0.6"/><ellipse cx="468.3" cy="518.6" rx="7.7" ry="8.36" fill="#64ad3a"/><circle cx="475.11" cy="519.15" r="1.83" fill="#62ac38"/><circle cx="474.67" cy="521.26" r="1.88" fill="#62ac38"/><circle cx="473.33" cy="523.61" r="2.23" fill="#62ac38"/><circle cx="463.47" cy="523.84" r="2.28" fill="#62ac38"/><circle cx="462.1" cy="521.69" r="1.85" fill="#62ac38"/><circle cx="461.48" cy="518.66" r="2.25" fill="#62ac38"/><circle cx="462.09" cy="515.53" r="2.3" fill="#62ac38"/><circle cx="462.71" cy="514.34" r="2.25" fill="#62ac38"/><circle cx="465.3" cy="511.94" r="1.88" fill="#62ac38"/><circle cx="467.46" cy="511.25" r="1.98" fill="#62ac38"/><circle cx="469.21" cy="511.26" r="1.8" fill="#62ac38"/><circle cx="472.01" cy="512.38" r="2.16" fill="#62ac38"/><circle cx="473.86" cy="514.31" r="2.13" fill="#62ac38"/><circle cx="474.54" cy="515.59" r="1.95" fill="#62ac38"/><circle cx="465.4" cy="523.64" r="1.36" fill="#98d258"/><circle cx="463.26" cy="516.31" r="1.26" fill="#98d258"/><circle cx="467.38" cy="519.63" r="1.72" fill="#98d258"/><circle cx="464.32" cy="513.66" r="1.59" fill="#98d258"/><circle cx="470.59" cy="517.47" r="1.66" fill="#98d258"/><circle cx="473.35" cy="513.74" r="1.41" fill="#98d258"/><circle cx="468.22" cy="518.57" r="1.92" fill="#98d258"/><circle cx="468.98" cy="520.13" r="1.54" fill="#98d258"/><circle cx="471.78" cy="522.27" r="1.43" fill="#98d258"/><circle cx="463.5" cy="515.15" r="1.49" fill="#98d258"/><circle cx="473.07" cy="515.22" r="1.7" fill="#98d258"/><circle cx="470.02" cy="523.76" r="1.29" fill="#98d258"/><circle cx="472.08" cy="515.79" r="0.5" fill="#e4f5c8"/><circle cx="462.74" cy="520.01" r="0.5" fill="#e4f5c8"/><circle cx="473.12" cy="519.3" r="0.5" fill="#e4f5c8"/><circle cx="462" cy="524.85" r="0.5" fill="#e4f5c8"/><circle cx="466.68" cy="520.07" r="0.5" fill="#e4f5c8"/><circle cx="471.44" cy="514.71" r="0.5" fill="#e4f5c8"/><circle cx="467.02" cy="515.69" r="0.5" fill="#e4f5c8"/><circle cx="462.64" cy="511.92" r="0.5" fill="#e4f5c8"/><circle cx="471.34" cy="516.85" r="0.5" fill="#e4f5c8"/><circle cx="473.48" cy="511.89" r="0.5" fill="#e4f5c8"/><circle cx="465.52" cy="513.57" r="0.5" fill="#e4f5c8"/><circle cx="474.51" cy="522.27" r="0.5" fill="#e4f5c8"/><circle cx="473.85" cy="518.22" r="0.5" fill="#e4f5c8"/><circle cx="462.76" cy="516.93" r="0.5" fill="#e4f5c8"/><circle cx="464.47" cy="511.38" r="0.5" fill="#e4f5c8"/><circle cx="469.21" cy="515.13" r="0.5" fill="#e4f5c8"/>
<path d="M482.8,529.1 L482.8,518.6 M480.8,529.1 L481.8,521.6 M484.8,529.1 L483.8,521.6" stroke="#4f8a2a" stroke-width="0.6"/><ellipse cx="482.8" cy="518.6" rx="7.7" ry="8.36" fill="#64ad3a"/><circle cx="489.6" cy="518.02" r="2.16" fill="#62ac38"/><circle cx="488.99" cy="521.73" r="2.46" fill="#62ac38"/><circle cx="488.06" cy="523.32" r="1.87" fill="#62ac38"/><circle cx="477.17" cy="522.79" r="2.18" fill="#62ac38"/><circle cx="476.42" cy="521.22" r="1.99" fill="#62ac38"/><circle cx="475.98" cy="518.52" r="2.48" fill="#62ac38"/><circle cx="476.35" cy="516.17" r="1.95" fill="#62ac38"/><circle cx="477.58" cy="513.82" r="2.44" fill="#62ac38"/><circle cx="479.25" cy="512.27" r="2.24" fill="#62ac38"/><circle cx="482.18" cy="511.22" r="2.03" fill="#62ac38"/><circle cx="484.4" cy="511.4" r="2.17" fill="#62ac38"/><circle cx="485.78" cy="511.93" r="1.84" fill="#62ac38"/><circle cx="488.39" cy="514.35" r="2.13" fill="#62ac38"/><circle cx="489.19" cy="515.99" r="2.44" fill="#62ac38"/><circle cx="483.71" cy="518.13" r="1.43" fill="#98d258"/><circle cx="485.79" cy="515.11" r="1.58" fill="#98d258"/><circle cx="485.97" cy="519.42" r="1.31" fill="#98d258"/><circle cx="479.16" cy="520.53" r="1.78" fill="#98d258"/><circle cx="477.93" cy="524.27" r="1.31" fill="#98d258"/><circle cx="478.73" cy="513.06" r="1.56" fill="#98d258"/><circle cx="484.27" cy="522.54" r="1.33" fill="#98d258"/><circle cx="485.23" cy="513.25" r="1.66" fill="#98d258"/><circle cx="479.76" cy="516.35" r="1.24" fill="#98d258"/><circle cx="485.5" cy="513.46" r="1.81" fill="#98d258"/><circle cx="480.8" cy="519.26" r="1.71" fill="#98d258"/><circle cx="482.66" cy="522.74" r="1.94" fill="#98d258"/><circle cx="479.75" cy="515.76" r="0.5" fill="#e4f5c8"/><circle cx="488.08" cy="512.89" r="0.5" fill="#e4f5c8"/><circle cx="481.68" cy="516.91" r="0.5" fill="#e4f5c8"/><circle cx="489.47" cy="512.83" r="0.5" fill="#e4f5c8"/><circle cx="484.97" cy="521.79" r="0.5" fill="#e4f5c8"/><circle cx="486" cy="511.01" r="0.5" fill="#e4f5c8"/><circle cx="489.01" cy="515.45" r="0.5" fill="#e4f5c8"/><circle cx="487.74" cy="520.42" r="0.5" fill="#e4f5c8"/><circle cx="481.69" cy="522.94" r="0.5" fill="#e4f5c8"/><circle cx="485.26" cy="515.84" r="0.5" fill="#e4f5c8"/><circle cx="486.05" cy="518.2" r="0.5" fill="#e4f5c8"/><circle cx="485.76" cy="519.75" r="0.5" fill="#e4f5c8"/><circle cx="486.94" cy="513.27" r="0.5" fill="#e4f5c8"/><circle cx="482.72" cy="511.02" r="0.5" fill="#e4f5c8"/><circle cx="486.87" cy="521.99" r="0.5" fill="#e4f5c8"/><circle cx="487.52" cy="511.62" r="0.5" fill="#e4f5c8"/>
<text x="290.3" y="541.8" font-size="3.8" font-weight="bold" fill="#222" stroke="#222" stroke-width="0.17">NT1</text>
<rect x="289.9" y="558.3" width="201.9" height="3" fill="#dcc9b2"/>
<rect x="289.9" y="560.9" width="201.9" height="5.6" fill="#ab5a32"/>
<rect x="289.9" y="565.5" width="201.9" height="0.7" fill="#7a3a1a"/>
<path d="M299.6,558.6 Q298.64,554.1 296.4,549.6" stroke="#5f8262" stroke-width="0.9" fill="none"/><path d="M299.6,558.6 Q299.06,552.6 297.8,546.6" stroke="#4f7154" stroke-width="0.9" fill="none"/><path d="M299.6,558.6 Q299.6,552.1 299.6,545.6" stroke="#44664a" stroke-width="0.9" fill="none"/><path d="M299.6,558.6 Q300.14,552.6 301.4,546.6" stroke="#4f7154" stroke-width="0.9" fill="none"/><path d="M299.6,558.6 Q300.56,554.1 302.8,549.6" stroke="#5f8262" stroke-width="0.9" fill="none"/><path d="M299.6,558.6 Q298.85,555.6 297.1,552.6" stroke="#7a9a7a" stroke-width="0.9" fill="none"/><path d="M299.6,558.6 Q300.35,555.6 302.1,552.6" stroke="#7a9a7a" stroke-width="0.9" fill="none"/><line x1="299.6" y1="558.6" x2="299.6" y2="543.6" stroke="#8a9a70" stroke-width="0.5"/><ellipse cx="299.6" cy="541.8" rx="0.9" ry="2.6" fill="#a08c5c"/>
<path d="M307,558.6 Q306.04,554.1 303.8,549.6" stroke="#5f8262" stroke-width="0.9" fill="none"/><path d="M307,558.6 Q306.46,552.6 305.2,546.6" stroke="#4f7154" stroke-width="0.9" fill="none"/><path d="M307,558.6 Q307,552.1 307,545.6" stroke="#44664a" stroke-width="0.9" fill="none"/><path d="M307,558.6 Q307.54,552.6 308.8,546.6" stroke="#4f7154" stroke-width="0.9" fill="none"/><path d="M307,558.6 Q307.96,554.1 310.2,549.6" stroke="#5f8262" stroke-width="0.9" fill="none"/><path d="M307,558.6 Q306.25,555.6 304.5,552.6" stroke="#7a9a7a" stroke-width="0.9" fill="none"/><path d="M307,558.6 Q307.75,555.6 309.5,552.6" stroke="#7a9a7a" stroke-width="0.9" fill="none"/><line x1="307" y1="558.6" x2="307" y2="543.6" stroke="#8a9a70" stroke-width="0.5"/><ellipse cx="307" cy="541.8" rx="0.9" ry="2.6" fill="#a08c5c"/>
<path d="M314.3,558.6 Q313.34,554.1 311.1,549.6" stroke="#5f8262" stroke-width="0.9" fill="none"/><path d="M314.3,558.6 Q313.76,552.6 312.5,546.6" stroke="#4f7154" stroke-width="0.9" fill="none"/><path d="M314.3,558.6 Q314.3,552.1 314.3,545.6" stroke="#44664a" stroke-width="0.9" fill="none"/><path d="M314.3,558.6 Q314.84,552.6 316.1,546.6" stroke="#4f7154" stroke-width="0.9" fill="none"/><path d="M314.3,558.6 Q315.26,554.1 317.5,549.6" stroke="#5f8262" stroke-width="0.9" fill="none"/><path d="M314.3,558.6 Q313.55,555.6 311.8,552.6" stroke="#7a9a7a" stroke-width="0.9" fill="none"/><path d="M314.3,558.6 Q315.05,555.6 316.8,552.6" stroke="#7a9a7a" stroke-width="0.9" fill="none"/><line x1="314.3" y1="558.6" x2="314.3" y2="543.6" stroke="#8a9a70" stroke-width="0.5"/><ellipse cx="314.3" cy="541.8" rx="0.9" ry="2.6" fill="#a08c5c"/>
<path d="M331.9,558.6 L331.9,548.1 M329.9,558.6 L330.9,551.1 M333.9,558.6 L332.9,551.1" stroke="#4f8a2a" stroke-width="0.6"/><ellipse cx="331.9" cy="548.1" rx="7.7" ry="8.36" fill="#64ad3a"/><circle cx="338.72" cy="548.15" r="2.14" fill="#62ac38"/><circle cx="338.47" cy="550.1" r="1.94" fill="#62ac38"/><circle cx="336.69" cy="553.38" r="2.4" fill="#62ac38"/><circle cx="326.55" cy="552.7" r="1.96" fill="#62ac38"/><circle cx="325.6" cy="550.95" r="1.81" fill="#62ac38"/><circle cx="325.08" cy="547.87" r="2.21" fill="#62ac38"/><circle cx="325.61" cy="545.23" r="2.15" fill="#62ac38"/><circle cx="326.62" cy="543.41" r="2.01" fill="#62ac38"/><circle cx="328.77" cy="541.52" r="2.06" fill="#62ac38"/><circle cx="330.85" cy="540.78" r="2.33" fill="#62ac38"/><circle cx="333.01" cy="540.79" r="2.28" fill="#62ac38"/><circle cx="334.78" cy="541.38" r="1.98" fill="#62ac38"/><circle cx="337.41" cy="543.73" r="1.9" fill="#62ac38"/><circle cx="338.08" cy="544.96" r="1.81" fill="#62ac38"/><circle cx="335.16" cy="542.76" r="1.57" fill="#98d258"/><circle cx="331.15" cy="551.37" r="1.58" fill="#98d258"/><circle cx="332.17" cy="541.76" r="1.84" fill="#98d258"/><circle cx="335.18" cy="549.15" r="1.87" fill="#98d258"/><circle cx="333.3" cy="550.29" r="1.88" fill="#98d258"/><circle cx="333.34" cy="541.7" r="1.91" fill="#98d258"/><circle cx="337.9" cy="543.94" r="1.25" fill="#98d258"/><circle cx="329.94" cy="542.69" r="1.5" fill="#98d258"/><circle cx="326.87" cy="544.17" r="1.2" fill="#98d258"/><circle cx="331.03" cy="545.16" r="1.78" fill="#98d258"/><circle cx="330.54" cy="543.5" r="1.96" fill="#98d258"/><circle cx="336.73" cy="549.96" r="1.37" fill="#98d258"/><circle cx="330.54" cy="546.93" r="0.5" fill="#e4f5c8"/><circle cx="330.62" cy="540.88" r="0.5" fill="#e4f5c8"/><circle cx="331.28" cy="551.44" r="0.5" fill="#e4f5c8"/><circle cx="334.61" cy="552.76" r="0.5" fill="#e4f5c8"/><circle cx="334.46" cy="551.37" r="0.5" fill="#e4f5c8"/><circle cx="337.09" cy="553.57" r="0.5" fill="#e4f5c8"/><circle cx="336" cy="546.43" r="0.5" fill="#e4f5c8"/><circle cx="334.14" cy="549.88" r="0.5" fill="#e4f5c8"/><circle cx="337.26" cy="550.67" r="0.5" fill="#e4f5c8"/><circle cx="331.11" cy="543.22" r="0.5" fill="#e4f5c8"/><circle cx="329.48" cy="544.07" r="0.5" fill="#e4f5c8"/><circle cx="334.45" cy="551.46" r="0.5" fill="#e4f5c8"/><circle cx="327.59" cy="548.1" r="0.5" fill="#e4f5c8"/><circle cx="336.66" cy="545.71" r="0.5" fill="#e4f5c8"/><circle cx="326.23" cy="549.13" r="0.5" fill="#e4f5c8"/><circle cx="329.97" cy="542.55" r="0.5" fill="#e4f5c8"/>
<path d="M346.4,558.6 L346.4,548.1 M344.4,558.6 L345.4,551.1 M348.4,558.6 L347.4,551.1" stroke="#4f8a2a" stroke-width="0.6"/><ellipse cx="346.4" cy="548.1" rx="7.7" ry="8.36" fill="#64ad3a"/><circle cx="353.22" cy="547.79" r="1.8" fill="#62ac38"/><circle cx="352.96" cy="550.14" r="2.1" fill="#62ac38"/><circle cx="351.96" cy="552.4" r="1.8" fill="#62ac38"/><circle cx="340.82" cy="552.36" r="1.86" fill="#62ac38"/><circle cx="340.17" cy="551.11" r="1.8" fill="#62ac38"/><circle cx="339.6" cy="548.75" r="2.22" fill="#62ac38"/><circle cx="340.11" cy="545.21" r="2.13" fill="#62ac38"/><circle cx="341.45" cy="543" r="2.12" fill="#62ac38"/><circle cx="343.49" cy="541.4" r="2.23" fill="#62ac38"/><circle cx="345.26" cy="540.79" r="1.92" fill="#62ac38"/><circle cx="347.49" cy="540.78" r="2.11" fill="#62ac38"/><circle cx="350.19" cy="541.94" r="1.96" fill="#62ac38"/><circle cx="351.44" cy="543.11" r="2.37" fill="#62ac38"/><circle cx="352.59" cy="544.98" r="2.18" fill="#62ac38"/><circle cx="342.97" cy="549.66" r="1.68" fill="#98d258"/><circle cx="341.43" cy="550.47" r="1.53" fill="#98d258"/><circle cx="344.2" cy="552.03" r="1.82" fill="#98d258"/><circle cx="344.07" cy="549.82" r="1.3" fill="#98d258"/><circle cx="346.63" cy="542.47" r="1.71" fill="#98d258"/><circle cx="351.5" cy="549.31" r="1.23" fill="#98d258"/><circle cx="346.56" cy="547.25" r="1.55" fill="#98d258"/><circle cx="342.13" cy="544.89" r="1.56" fill="#98d258"/><circle cx="341.15" cy="549.78" r="1.39" fill="#98d258"/><circle cx="343.83" cy="542.57" r="1.44" fill="#98d258"/><circle cx="351.68" cy="545.05" r="1.28" fill="#98d258"/><circle cx="344.51" cy="553.12" r="1.27" fill="#98d258"/><circle cx="344.19" cy="543.48" r="0.5" fill="#e4f5c8"/><circle cx="348.95" cy="547.08" r="0.5" fill="#e4f5c8"/><circle cx="340.78" cy="552.79" r="0.5" fill="#e4f5c8"/><circle cx="343.99" cy="550.28" r="0.5" fill="#e4f5c8"/><circle cx="345.74" cy="552.92" r="0.5" fill="#e4f5c8"/><circle cx="340.21" cy="543.75" r="0.5" fill="#e4f5c8"/><circle cx="343.4" cy="544.27" r="0.5" fill="#e4f5c8"/><circle cx="350.91" cy="547.66" r="0.5" fill="#e4f5c8"/><circle cx="344.25" cy="547.72" r="0.5" fill="#e4f5c8"/><circle cx="351.24" cy="548.62" r="0.5" fill="#e4f5c8"/><circle cx="345.72" cy="549.86" r="0.5" fill="#e4f5c8"/><circle cx="348.01" cy="546.28" r="0.5" fill="#e4f5c8"/><circle cx="345.37" cy="542.38" r="0.5" fill="#e4f5c8"/><circle cx="345.55" cy="553.02" r="0.5" fill="#e4f5c8"/><circle cx="343.68" cy="545.7" r="0.5" fill="#e4f5c8"/><circle cx="347.85" cy="548.91" r="0.5" fill="#e4f5c8"/>
<path d="M367.7,558.6 Q366.74,554.1 364.5,549.6" stroke="#5f8262" stroke-width="0.9" fill="none"/><path d="M367.7,558.6 Q367.16,552.6 365.9,546.6" stroke="#4f7154" stroke-width="0.9" fill="none"/><path d="M367.7,558.6 Q367.7,552.1 367.7,545.6" stroke="#44664a" stroke-width="0.9" fill="none"/><path d="M367.7,558.6 Q368.24,552.6 369.5,546.6" stroke="#4f7154" stroke-width="0.9" fill="none"/><path d="M367.7,558.6 Q368.66,554.1 370.9,549.6" stroke="#5f8262" stroke-width="0.9" fill="none"/><path d="M367.7,558.6 Q366.95,555.6 365.2,552.6" stroke="#7a9a7a" stroke-width="0.9" fill="none"/><path d="M367.7,558.6 Q368.45,555.6 370.2,552.6" stroke="#7a9a7a" stroke-width="0.9" fill="none"/><line x1="367.7" y1="558.6" x2="367.7" y2="543.6" stroke="#8a9a70" stroke-width="0.5"/><ellipse cx="367.7" cy="541.8" rx="0.9" ry="2.6" fill="#a08c5c"/>
<path d="M375.1,558.6 Q374.14,554.1 371.9,549.6" stroke="#5f8262" stroke-width="0.9" fill="none"/><path d="M375.1,558.6 Q374.56,552.6 373.3,546.6" stroke="#4f7154" stroke-width="0.9" fill="none"/><path d="M375.1,558.6 Q375.1,552.1 375.1,545.6" stroke="#44664a" stroke-width="0.9" fill="none"/><path d="M375.1,558.6 Q375.64,552.6 376.9,546.6" stroke="#4f7154" stroke-width="0.9" fill="none"/><path d="M375.1,558.6 Q376.06,554.1 378.3,549.6" stroke="#5f8262" stroke-width="0.9" fill="none"/><path d="M375.1,558.6 Q374.35,555.6 372.6,552.6" stroke="#7a9a7a" stroke-width="0.9" fill="none"/><path d="M375.1,558.6 Q375.85,555.6 377.6,552.6" stroke="#7a9a7a" stroke-width="0.9" fill="none"/><line x1="375.1" y1="558.6" x2="375.1" y2="543.6" stroke="#8a9a70" stroke-width="0.5"/><ellipse cx="375.1" cy="541.8" rx="0.9" ry="2.6" fill="#a08c5c"/>
<path d="M382.4,558.6 Q381.44,554.1 379.2,549.6" stroke="#5f8262" stroke-width="0.9" fill="none"/><path d="M382.4,558.6 Q381.86,552.6 380.6,546.6" stroke="#4f7154" stroke-width="0.9" fill="none"/><path d="M382.4,558.6 Q382.4,552.1 382.4,545.6" stroke="#44664a" stroke-width="0.9" fill="none"/><path d="M382.4,558.6 Q382.94,552.6 384.2,546.6" stroke="#4f7154" stroke-width="0.9" fill="none"/><path d="M382.4,558.6 Q383.36,554.1 385.6,549.6" stroke="#5f8262" stroke-width="0.9" fill="none"/><path d="M382.4,558.6 Q381.65,555.6 379.9,552.6" stroke="#7a9a7a" stroke-width="0.9" fill="none"/><path d="M382.4,558.6 Q383.15,555.6 384.9,552.6" stroke="#7a9a7a" stroke-width="0.9" fill="none"/><line x1="382.4" y1="558.6" x2="382.4" y2="543.6" stroke="#8a9a70" stroke-width="0.5"/><ellipse cx="382.4" cy="541.8" rx="0.9" ry="2.6" fill="#a08c5c"/>
<path d="M400,558.6 L400,548.1 M398,558.6 L399,551.1 M402,558.6 L401,551.1" stroke="#4f8a2a" stroke-width="0.6"/><ellipse cx="400" cy="548.1" rx="7.7" ry="8.36" fill="#64ad3a"/><circle cx="406.81" cy="547.62" r="2.11" fill="#62ac38"/><circle cx="406.3" cy="550.96" r="1.83" fill="#62ac38"/><circle cx="405.56" cy="552.4" r="2.33" fill="#62ac38"/><circle cx="394.97" cy="553.1" r="2.26" fill="#62ac38"/><circle cx="393.83" cy="551.27" r="2.12" fill="#62ac38"/><circle cx="393.19" cy="548.6" r="2.03" fill="#62ac38"/><circle cx="393.68" cy="545.3" r="2.16" fill="#62ac38"/><circle cx="395.09" cy="542.95" r="2.39" fill="#62ac38"/><circle cx="396.73" cy="541.6" r="2.39" fill="#62ac38"/><circle cx="398.38" cy="540.9" r="2.13" fill="#62ac38"/><circle cx="400.94" cy="540.76" r="2.24" fill="#62ac38"/><circle cx="402.94" cy="541.41" r="2.42" fill="#62ac38"/><circle cx="405.11" cy="543.19" r="2.35" fill="#62ac38"/><circle cx="406.59" cy="546.19" r="2.46" fill="#62ac38"/><circle cx="398.65" cy="552.03" r="2" fill="#98d258"/><circle cx="395.47" cy="550.68" r="1.78" fill="#98d258"/><circle cx="399.48" cy="544.88" r="1.34" fill="#98d258"/><circle cx="398.92" cy="552.96" r="1.52" fill="#98d258"/><circle cx="397" cy="549.1" r="1.55" fill="#98d258"/><circle cx="401.39" cy="547.06" r="1.43" fill="#98d258"/><circle cx="394.31" cy="551.56" r="1.73" fill="#98d258"/><circle cx="396.86" cy="547.62" r="1.66" fill="#98d258"/><circle cx="400.04" cy="552.58" r="1.82" fill="#98d258"/><circle cx="397.63" cy="545.63" r="1.69" fill="#98d258"/><circle cx="395.86" cy="552.99" r="1.24" fill="#98d258"/><circle cx="399.99" cy="544.83" r="1.62" fill="#98d258"/><circle cx="393.64" cy="543.7" r="0.5" fill="#e4f5c8"/><circle cx="406.85" cy="551.73" r="0.5" fill="#e4f5c8"/><circle cx="396.09" cy="547" r="0.5" fill="#e4f5c8"/><circle cx="393.45" cy="542.24" r="0.5" fill="#e4f5c8"/><circle cx="395.69" cy="554.53" r="0.5" fill="#e4f5c8"/><circle cx="397.37" cy="544.03" r="0.5" fill="#e4f5c8"/><circle cx="393.91" cy="542.07" r="0.5" fill="#e4f5c8"/><circle cx="406.93" cy="551.05" r="0.5" fill="#e4f5c8"/><circle cx="405.88" cy="552.41" r="0.5" fill="#e4f5c8"/><circle cx="403.96" cy="544.13" r="0.5" fill="#e4f5c8"/><circle cx="395.37" cy="544.35" r="0.5" fill="#e4f5c8"/><circle cx="393.92" cy="543" r="0.5" fill="#e4f5c8"/><circle cx="403.08" cy="547.5" r="0.5" fill="#e4f5c8"/><circle cx="393.15" cy="544.84" r="0.5" fill="#e4f5c8"/><circle cx="404.89" cy="552.63" r="0.5" fill="#e4f5c8"/><circle cx="403.21" cy="550.92" r="0.5" fill="#e4f5c8"/>
<path d="M414.5,558.6 L414.5,548.1 M412.5,558.6 L413.5,551.1 M416.5,558.6 L415.5,551.1" stroke="#4f8a2a" stroke-width="0.6"/><ellipse cx="414.5" cy="548.1" rx="7.7" ry="8.36" fill="#64ad3a"/><circle cx="421.3" cy="548.71" r="2.19" fill="#62ac38"/><circle cx="420.97" cy="550.47" r="2.2" fill="#62ac38"/><circle cx="419.91" cy="552.61" r="1.83" fill="#62ac38"/><circle cx="409.5" cy="553.14" r="2.06" fill="#62ac38"/><circle cx="407.9" cy="549.99" r="2.14" fill="#62ac38"/><circle cx="407.69" cy="547.6" r="2.32" fill="#62ac38"/><circle cx="408.13" cy="545.44" r="2.03" fill="#62ac38"/><circle cx="409.18" cy="543.46" r="2.02" fill="#62ac38"/><circle cx="411.25" cy="541.59" r="2.4" fill="#62ac38"/><circle cx="413.71" cy="540.74" r="2.01" fill="#62ac38"/><circle cx="415.21" cy="540.73" r="1.81" fill="#62ac38"/><circle cx="418.01" cy="541.75" r="1.96" fill="#62ac38"/><circle cx="419.27" cy="542.8" r="2.01" fill="#62ac38"/><circle cx="420.78" cy="545.19" r="1.94" fill="#62ac38"/><circle cx="416.51" cy="548.67" r="1.43" fill="#98d258"/><circle cx="417.33" cy="544" r="1.94" fill="#98d258"/><circle cx="409.83" cy="548.76" r="1.76" fill="#98d258"/><circle cx="417.35" cy="547.47" r="1.9" fill="#98d258"/><circle cx="416.08" cy="549.98" r="1.26" fill="#98d258"/><circle cx="410.66" cy="547.2" r="1.64" fill="#98d258"/><circle cx="409.54" cy="550.61" r="1.48" fill="#98d258"/><circle cx="414.2" cy="547.9" r="1.87" fill="#98d258"/><circle cx="412.08" cy="548.36" r="1.68" fill="#98d258"/><circle cx="416.4" cy="545.31" r="1.42" fill="#98d258"/><circle cx="414.14" cy="548.87" r="1.72" fill="#98d258"/><circle cx="410.01" cy="546.96" r="1.65" fill="#98d258"/><circle cx="410.23" cy="541.96" r="0.5" fill="#e4f5c8"/><circle cx="420.51" cy="540.8" r="0.5" fill="#e4f5c8"/><circle cx="414.48" cy="544.7" r="0.5" fill="#e4f5c8"/><circle cx="407.94" cy="544.35" r="0.5" fill="#e4f5c8"/><circle cx="409.76" cy="546.2" r="0.5" fill="#e4f5c8"/><circle cx="420.24" cy="541.63" r="0.5" fill="#e4f5c8"/><circle cx="412.42" cy="550.4" r="0.5" fill="#e4f5c8"/><circle cx="416.25" cy="540.8" r="0.5" fill="#e4f5c8"/><circle cx="410.7" cy="544.51" r="0.5" fill="#e4f5c8"/><circle cx="420.03" cy="546.8" r="0.5" fill="#e4f5c8"/><circle cx="411.11" cy="547.34" r="0.5" fill="#e4f5c8"/><circle cx="414.29" cy="542.63" r="0.5" fill="#e4f5c8"/><circle cx="416.84" cy="550.77" r="0.5" fill="#e4f5c8"/><circle cx="414.18" cy="548.16" r="0.5" fill="#e4f5c8"/><circle cx="418.29" cy="554.13" r="0.5" fill="#e4f5c8"/><circle cx="416.08" cy="541.13" r="0.5" fill="#e4f5c8"/>
<path d="M436,558.6 Q435.04,554.1 432.8,549.6" stroke="#5f8262" stroke-width="0.9" fill="none"/><path d="M436,558.6 Q435.46,552.6 434.2,546.6" stroke="#4f7154" stroke-width="0.9" fill="none"/><path d="M436,558.6 Q436,552.1 436,545.6" stroke="#44664a" stroke-width="0.9" fill="none"/><path d="M436,558.6 Q436.54,552.6 437.8,546.6" stroke="#4f7154" stroke-width="0.9" fill="none"/><path d="M436,558.6 Q436.96,554.1 439.2,549.6" stroke="#5f8262" stroke-width="0.9" fill="none"/><path d="M436,558.6 Q435.25,555.6 433.5,552.6" stroke="#7a9a7a" stroke-width="0.9" fill="none"/><path d="M436,558.6 Q436.75,555.6 438.5,552.6" stroke="#7a9a7a" stroke-width="0.9" fill="none"/><line x1="436" y1="558.6" x2="436" y2="543.6" stroke="#8a9a70" stroke-width="0.5"/><ellipse cx="436" cy="541.8" rx="0.9" ry="2.6" fill="#a08c5c"/>
<path d="M443.4,558.6 Q442.44,554.1 440.2,549.6" stroke="#5f8262" stroke-width="0.9" fill="none"/><path d="M443.4,558.6 Q442.86,552.6 441.6,546.6" stroke="#4f7154" stroke-width="0.9" fill="none"/><path d="M443.4,558.6 Q443.4,552.1 443.4,545.6" stroke="#44664a" stroke-width="0.9" fill="none"/><path d="M443.4,558.6 Q443.94,552.6 445.2,546.6" stroke="#4f7154" stroke-width="0.9" fill="none"/><path d="M443.4,558.6 Q444.36,554.1 446.6,549.6" stroke="#5f8262" stroke-width="0.9" fill="none"/><path d="M443.4,558.6 Q442.65,555.6 440.9,552.6" stroke="#7a9a7a" stroke-width="0.9" fill="none"/><path d="M443.4,558.6 Q444.15,555.6 445.9,552.6" stroke="#7a9a7a" stroke-width="0.9" fill="none"/><line x1="443.4" y1="558.6" x2="443.4" y2="543.6" stroke="#8a9a70" stroke-width="0.5"/><ellipse cx="443.4" cy="541.8" rx="0.9" ry="2.6" fill="#a08c5c"/>
<path d="M450.7,558.6 Q449.74,554.1 447.5,549.6" stroke="#5f8262" stroke-width="0.9" fill="none"/><path d="M450.7,558.6 Q450.16,552.6 448.9,546.6" stroke="#4f7154" stroke-width="0.9" fill="none"/><path d="M450.7,558.6 Q450.7,552.1 450.7,545.6" stroke="#44664a" stroke-width="0.9" fill="none"/><path d="M450.7,558.6 Q451.24,552.6 452.5,546.6" stroke="#4f7154" stroke-width="0.9" fill="none"/><path d="M450.7,558.6 Q451.66,554.1 453.9,549.6" stroke="#5f8262" stroke-width="0.9" fill="none"/><path d="M450.7,558.6 Q449.95,555.6 448.2,552.6" stroke="#7a9a7a" stroke-width="0.9" fill="none"/><path d="M450.7,558.6 Q451.45,555.6 453.2,552.6" stroke="#7a9a7a" stroke-width="0.9" fill="none"/><line x1="450.7" y1="558.6" x2="450.7" y2="543.6" stroke="#8a9a70" stroke-width="0.5"/><ellipse cx="450.7" cy="541.8" rx="0.9" ry="2.6" fill="#a08c5c"/>
<path d="M468.3,558.6 L468.3,548.1 M466.3,558.6 L467.3,551.1 M470.3,558.6 L469.3,551.1" stroke="#4f8a2a" stroke-width="0.6"/><ellipse cx="468.3" cy="548.1" rx="7.7" ry="8.36" fill="#64ad3a"/><circle cx="475.12" cy="548.11" r="2.26" fill="#62ac38"/><circle cx="474.79" cy="550.4" r="2.28" fill="#62ac38"/><circle cx="473.64" cy="552.71" r="2.23" fill="#62ac38"/><circle cx="462.89" cy="552.62" r="2.29" fill="#62ac38"/><circle cx="462.02" cy="551.01" r="2.23" fill="#62ac38"/><circle cx="461.48" cy="547.92" r="1.84" fill="#62ac38"/><circle cx="462.01" cy="545.21" r="1.96" fill="#62ac38"/><circle cx="463.06" cy="543.35" r="2.17" fill="#62ac38"/><circle cx="465.15" cy="541.52" r="2.34" fill="#62ac38"/><circle cx="467.07" cy="540.81" r="2.46" fill="#62ac38"/><circle cx="469.41" cy="540.79" r="2.2" fill="#62ac38"/><circle cx="472.28" cy="542.08" r="2.03" fill="#62ac38"/><circle cx="473.71" cy="543.58" r="2.47" fill="#62ac38"/><circle cx="474.5" cy="545" r="2.34" fill="#62ac38"/><circle cx="470.16" cy="548.12" r="1.83" fill="#98d258"/><circle cx="472.71" cy="543.26" r="1.59" fill="#98d258"/><circle cx="469.71" cy="550.08" r="1.97" fill="#98d258"/><circle cx="472.01" cy="551.68" r="1.25" fill="#98d258"/><circle cx="467.4" cy="552.73" r="1.96" fill="#98d258"/><circle cx="471.44" cy="545.57" r="1.82" fill="#98d258"/><circle cx="468.69" cy="549.69" r="1.71" fill="#98d258"/><circle cx="472.77" cy="550.27" r="1.98" fill="#98d258"/><circle cx="468.22" cy="547.54" r="1.73" fill="#98d258"/><circle cx="469.06" cy="542.06" r="1.97" fill="#98d258"/><circle cx="466.08" cy="547.62" r="1.23" fill="#98d258"/><circle cx="464.51" cy="552.92" r="1.42" fill="#98d258"/><circle cx="465.48" cy="552.07" r="0.5" fill="#e4f5c8"/><circle cx="464.68" cy="550.01" r="0.5" fill="#e4f5c8"/><circle cx="469.26" cy="553.27" r="0.5" fill="#e4f5c8"/><circle cx="467.98" cy="545.18" r="0.5" fill="#e4f5c8"/><circle cx="464.93" cy="545.68" r="0.5" fill="#e4f5c8"/><circle cx="461.3" cy="542.2" r="0.5" fill="#e4f5c8"/><circle cx="463.38" cy="544.98" r="0.5" fill="#e4f5c8"/><circle cx="472.06" cy="553.92" r="0.5" fill="#e4f5c8"/><circle cx="466.26" cy="544.06" r="0.5" fill="#e4f5c8"/><circle cx="465.41" cy="549.46" r="0.5" fill="#e4f5c8"/><circle cx="468" cy="542.17" r="0.5" fill="#e4f5c8"/><circle cx="468.63" cy="544.33" r="0.5" fill="#e4f5c8"/><circle cx="463.32" cy="551.69" r="0.5" fill="#e4f5c8"/><circle cx="462.77" cy="546.76" r="0.5" fill="#e4f5c8"/><circle cx="472.02" cy="548.24" r="0.5" fill="#e4f5c8"/><circle cx="473.53" cy="545.02" r="0.5" fill="#e4f5c8"/>
<path d="M482.8,558.6 L482.8,548.1 M480.8,558.6 L481.8,551.1 M484.8,558.6 L483.8,551.1" stroke="#4f8a2a" stroke-width="0.6"/><ellipse cx="482.8" cy="548.1" rx="7.7" ry="8.36" fill="#64ad3a"/><circle cx="489.6" cy="548.76" r="1.83" fill="#62ac38"/><circle cx="489.01" cy="551.18" r="2.1" fill="#62ac38"/><circle cx="488.44" cy="552.28" r="1.98" fill="#62ac38"/><circle cx="478.03" cy="553.4" r="2.01" fill="#62ac38"/><circle cx="476.4" cy="550.68" r="2.44" fill="#62ac38"/><circle cx="476" cy="547.5" r="1.9" fill="#62ac38"/><circle cx="476.64" cy="544.9" r="2.19" fill="#62ac38"/><circle cx="477.4" cy="543.56" r="1.86" fill="#62ac38"/><circle cx="479.3" cy="541.74" r="2.16" fill="#62ac38"/><circle cx="481.55" cy="540.81" r="2.02" fill="#62ac38"/><circle cx="484.58" cy="540.95" r="2.13" fill="#62ac38"/><circle cx="485.98" cy="541.55" r="2.34" fill="#62ac38"/><circle cx="487.8" cy="543.05" r="2.1" fill="#62ac38"/><circle cx="489.01" cy="545.02" r="1.97" fill="#62ac38"/><circle cx="488.89" cy="549.12" r="1.62" fill="#98d258"/><circle cx="484.92" cy="549.75" r="1.62" fill="#98d258"/><circle cx="481.17" cy="543.27" r="1.22" fill="#98d258"/><circle cx="478.16" cy="546.46" r="1.21" fill="#98d258"/><circle cx="484.94" cy="545.62" r="1.39" fill="#98d258"/><circle cx="480.52" cy="547.54" r="1.37" fill="#98d258"/><circle cx="487.12" cy="547.41" r="1.25" fill="#98d258"/><circle cx="477.72" cy="552.45" r="1.66" fill="#98d258"/><circle cx="480.24" cy="550.26" r="1.24" fill="#98d258"/><circle cx="487.56" cy="553.02" r="1.73" fill="#98d258"/><circle cx="477.29" cy="546.71" r="1.87" fill="#98d258"/><circle cx="483.94" cy="544.03" r="1.39" fill="#98d258"/><circle cx="476.69" cy="547.94" r="0.5" fill="#e4f5c8"/><circle cx="478.34" cy="546.85" r="0.5" fill="#e4f5c8"/><circle cx="488.34" cy="553.34" r="0.5" fill="#e4f5c8"/><circle cx="482.69" cy="551.67" r="0.5" fill="#e4f5c8"/><circle cx="477.68" cy="554.01" r="0.5" fill="#e4f5c8"/><circle cx="487.92" cy="547.38" r="0.5" fill="#e4f5c8"/><circle cx="488.2" cy="544.74" r="0.5" fill="#e4f5c8"/><circle cx="489.53" cy="545.1" r="0.5" fill="#e4f5c8"/><circle cx="488.74" cy="552.43" r="0.5" fill="#e4f5c8"/><circle cx="488.88" cy="550.86" r="0.5" fill="#e4f5c8"/><circle cx="476.83" cy="544.48" r="0.5" fill="#e4f5c8"/><circle cx="484.98" cy="553.45" r="0.5" fill="#e4f5c8"/><circle cx="485.33" cy="541.06" r="0.5" fill="#e4f5c8"/><circle cx="480.67" cy="545.42" r="0.5" fill="#e4f5c8"/><circle cx="478.2" cy="543.71" r="0.5" fill="#e4f5c8"/><circle cx="483.03" cy="545.81" r="0.5" fill="#e4f5c8"/>
<text x="290.3" y="571" font-size="3.8" font-weight="bold" fill="#222" stroke="#222" stroke-width="0.17">NT2</text>
<rect x="289.9" y="587.5" width="201.9" height="3" fill="#dcc9b2"/>
<rect x="289.9" y="590.1" width="201.9" height="5.6" fill="#ab5a32"/>
<rect x="289.9" y="594.7" width="201.9" height="0.7" fill="#7a3a1a"/>
<path d="M299.9,587.8 Q298.9,578.3 297.9,568.8" stroke="#8aa86a" stroke-width="0.5" fill="none"/><path d="M299.9,587.8 Q299.9,578.3 299.9,568.8" stroke="#8aa86a" stroke-width="0.5" fill="none"/><path d="M299.9,587.8 Q300.9,578.3 301.9,568.8" stroke="#8aa86a" stroke-width="0.5" fill="none"/><path d="M299.9,584.8 q-2.2,-1.2 -3.5,0.2" stroke="#b5d58a" stroke-width="1" fill="none"/><path d="M299.9,583 q2.2,-1.2 3.5,0.2" stroke="#b5d58a" stroke-width="1" fill="none"/><path d="M299.9,581.2 q-2.2,-1.2 -3.5,0.2" stroke="#b5d58a" stroke-width="1" fill="none"/><path d="M299.9,579.4 q2.2,-1.2 3.5,0.2" stroke="#b5d58a" stroke-width="1" fill="none"/><path d="M299.9,577.6 q-2.2,-1.2 -3.5,0.2" stroke="#b5d58a" stroke-width="1" fill="none"/><path d="M299.9,575.8 q2.2,-1.2 3.5,0.2" stroke="#b5d58a" stroke-width="1" fill="none"/><path d="M299.9,574 q-2.2,-1.2 -3.5,0.2" stroke="#b5d58a" stroke-width="1" fill="none"/><path d="M299.9,572.2 q2.2,-1.2 3.5,0.2" stroke="#b5d58a" stroke-width="1" fill="none"/><path d="M299.9,570.4 q-2.2,-1.2 -3.5,0.2" stroke="#b5d58a" stroke-width="1" fill="none"/><circle cx="298.5" cy="575.27" r="0.8" fill="#d8ecb0"/><circle cx="302.58" cy="573.24" r="0.8" fill="#d8ecb0"/><circle cx="301.41" cy="569.54" r="0.8" fill="#d8ecb0"/><circle cx="297.09" cy="570.12" r="0.8" fill="#d8ecb0"/><circle cx="297.47" cy="577.64" r="0.8" fill="#d8ecb0"/><circle cx="301.34" cy="571.52" r="0.8" fill="#d8ecb0"/>
<path d="M307.4,587.8 Q306.4,578.3 305.4,568.8" stroke="#8aa86a" stroke-width="0.5" fill="none"/><path d="M307.4,587.8 Q307.4,578.3 307.4,568.8" stroke="#8aa86a" stroke-width="0.5" fill="none"/><path d="M307.4,587.8 Q308.4,578.3 309.4,568.8" stroke="#8aa86a" stroke-width="0.5" fill="none"/><path d="M307.4,584.8 q-2.2,-1.2 -3.5,0.2" stroke="#b5d58a" stroke-width="1" fill="none"/><path d="M307.4,583 q2.2,-1.2 3.5,0.2" stroke="#b5d58a" stroke-width="1" fill="none"/><path d="M307.4,581.2 q-2.2,-1.2 -3.5,0.2" stroke="#b5d58a" stroke-width="1" fill="none"/><path d="M307.4,579.4 q2.2,-1.2 3.5,0.2" stroke="#b5d58a" stroke-width="1" fill="none"/><path d="M307.4,577.6 q-2.2,-1.2 -3.5,0.2" stroke="#b5d58a" stroke-width="1" fill="none"/><path d="M307.4,575.8 q2.2,-1.2 3.5,0.2" stroke="#b5d58a" stroke-width="1" fill="none"/><path d="M307.4,574 q-2.2,-1.2 -3.5,0.2" stroke="#b5d58a" stroke-width="1" fill="none"/><path d="M307.4,572.2 q2.2,-1.2 3.5,0.2" stroke="#b5d58a" stroke-width="1" fill="none"/><path d="M307.4,570.4 q-2.2,-1.2 -3.5,0.2" stroke="#b5d58a" stroke-width="1" fill="none"/><circle cx="308.09" cy="574.56" r="0.8" fill="#d8ecb0"/><circle cx="308.73" cy="575.09" r="0.8" fill="#d8ecb0"/><circle cx="305.57" cy="577.39" r="0.8" fill="#d8ecb0"/><circle cx="305.08" cy="579.4" r="0.8" fill="#d8ecb0"/><circle cx="310.11" cy="569.35" r="0.8" fill="#d8ecb0"/><circle cx="306.49" cy="575.26" r="0.8" fill="#d8ecb0"/>
<path d="M314.9,587.8 Q313.9,578.3 312.9,568.8" stroke="#8aa86a" stroke-width="0.5" fill="none"/><path d="M314.9,587.8 Q314.9,578.3 314.9,568.8" stroke="#8aa86a" stroke-width="0.5" fill="none"/><path d="M314.9,587.8 Q315.9,578.3 316.9,568.8" stroke="#8aa86a" stroke-width="0.5" fill="none"/><path d="M314.9,584.8 q-2.2,-1.2 -3.5,0.2" stroke="#b5d58a" stroke-width="1" fill="none"/><path d="M314.9,583 q2.2,-1.2 3.5,0.2" stroke="#b5d58a" stroke-width="1" fill="none"/><path d="M314.9,581.2 q-2.2,-1.2 -3.5,0.2" stroke="#b5d58a" stroke-width="1" fill="none"/><path d="M314.9,579.4 q2.2,-1.2 3.5,0.2" stroke="#b5d58a" stroke-width="1" fill="none"/><path d="M314.9,577.6 q-2.2,-1.2 -3.5,0.2" stroke="#b5d58a" stroke-width="1" fill="none"/><path d="M314.9,575.8 q2.2,-1.2 3.5,0.2" stroke="#b5d58a" stroke-width="1" fill="none"/><path d="M314.9,574 q-2.2,-1.2 -3.5,0.2" stroke="#b5d58a" stroke-width="1" fill="none"/><path d="M314.9,572.2 q2.2,-1.2 3.5,0.2" stroke="#b5d58a" stroke-width="1" fill="none"/><path d="M314.9,570.4 q-2.2,-1.2 -3.5,0.2" stroke="#b5d58a" stroke-width="1" fill="none"/><circle cx="313.57" cy="571.21" r="0.8" fill="#d8ecb0"/><circle cx="314.85" cy="577.93" r="0.8" fill="#d8ecb0"/><circle cx="317.2" cy="569.58" r="0.8" fill="#d8ecb0"/><circle cx="312.18" cy="574.75" r="0.8" fill="#d8ecb0"/><circle cx="313.23" cy="572.77" r="0.8" fill="#d8ecb0"/><circle cx="314.05" cy="576.52" r="0.8" fill="#d8ecb0"/>
<path d="M331.9,587.8 L331.9,577.3 M329.9,587.8 L330.9,580.3 M333.9,587.8 L332.9,580.3" stroke="#4f8a2a" stroke-width="0.6"/><ellipse cx="331.9" cy="577.3" rx="7.7" ry="8.36" fill="#64ad3a"/><circle cx="338.72" cy="577.01" r="2.23" fill="#62ac38"/><circle cx="338.31" cy="579.84" r="2.14" fill="#62ac38"/><circle cx="336.97" cy="582.26" r="2.13" fill="#62ac38"/><circle cx="326.57" cy="581.92" r="2.21" fill="#62ac38"/><circle cx="325.36" cy="579.43" r="2.3" fill="#62ac38"/><circle cx="325.09" cy="577.75" r="2.09" fill="#62ac38"/><circle cx="325.34" cy="575.25" r="1.81" fill="#62ac38"/><circle cx="326.84" cy="572.33" r="2.03" fill="#62ac38"/><circle cx="328.2" cy="571.07" r="1.82" fill="#62ac38"/><circle cx="330.08" cy="570.16" r="2.27" fill="#62ac38"/><circle cx="332.89" cy="569.97" r="2.11" fill="#62ac38"/><circle cx="335.52" cy="571.02" r="2.44" fill="#62ac38"/><circle cx="337.3" cy="572.77" r="1.95" fill="#62ac38"/><circle cx="338.51" cy="575.46" r="1.93" fill="#62ac38"/><circle cx="332.89" cy="578.6" r="1.43" fill="#98d258"/><circle cx="336.67" cy="578.18" r="1.77" fill="#98d258"/><circle cx="327.47" cy="580.93" r="1.43" fill="#98d258"/><circle cx="333.35" cy="579.75" r="1.46" fill="#98d258"/><circle cx="329.02" cy="574.73" r="1.98" fill="#98d258"/><circle cx="333.83" cy="576.47" r="1.65" fill="#98d258"/><circle cx="333.81" cy="573.89" r="1.26" fill="#98d258"/><circle cx="327.11" cy="577.84" r="1.68" fill="#98d258"/><circle cx="337.76" cy="578.32" r="1.88" fill="#98d258"/><circle cx="337.86" cy="576.78" r="1.54" fill="#98d258"/><circle cx="331.55" cy="575.24" r="1.81" fill="#98d258"/><circle cx="332.82" cy="572.16" r="1.96" fill="#98d258"/><circle cx="332.27" cy="580.37" r="0.5" fill="#e4f5c8"/><circle cx="332.56" cy="578.09" r="0.5" fill="#e4f5c8"/><circle cx="332.97" cy="571.33" r="0.5" fill="#e4f5c8"/><circle cx="326.73" cy="580.12" r="0.5" fill="#e4f5c8"/><circle cx="329.79" cy="571.54" r="0.5" fill="#e4f5c8"/><circle cx="336.32" cy="580.36" r="0.5" fill="#e4f5c8"/><circle cx="335.59" cy="575.22" r="0.5" fill="#e4f5c8"/><circle cx="326.74" cy="580.52" r="0.5" fill="#e4f5c8"/><circle cx="327.92" cy="579.22" r="0.5" fill="#e4f5c8"/><circle cx="334.65" cy="573.59" r="0.5" fill="#e4f5c8"/><circle cx="324.93" cy="578.11" r="0.5" fill="#e4f5c8"/><circle cx="335.96" cy="578.08" r="0.5" fill="#e4f5c8"/><circle cx="338.68" cy="572.96" r="0.5" fill="#e4f5c8"/><circle cx="335.14" cy="575.9" r="0.5" fill="#e4f5c8"/><circle cx="333.02" cy="574.01" r="0.5" fill="#e4f5c8"/><circle cx="328.13" cy="577.51" r="0.5" fill="#e4f5c8"/>
<path d="M346.4,587.8 L346.4,577.3 M344.4,587.8 L345.4,580.3 M348.4,587.8 L347.4,580.3" stroke="#4f8a2a" stroke-width="0.6"/><ellipse cx="346.4" cy="577.3" rx="7.7" ry="8.36" fill="#64ad3a"/><circle cx="353.22" cy="577.46" r="2.44" fill="#62ac38"/><circle cx="352.76" cy="579.98" r="2.15" fill="#62ac38"/><circle cx="351.49" cy="582.23" r="2.24" fill="#62ac38"/><circle cx="341.6" cy="582.57" r="1.92" fill="#62ac38"/><circle cx="340.05" cy="580.03" r="2.28" fill="#62ac38"/><circle cx="339.58" cy="577.07" r="2.14" fill="#62ac38"/><circle cx="340.15" cy="574.33" r="2.03" fill="#62ac38"/><circle cx="341.04" cy="572.71" r="2.33" fill="#62ac38"/><circle cx="343.2" cy="570.75" r="2.1" fill="#62ac38"/><circle cx="345.74" cy="569.92" r="1.82" fill="#62ac38"/><circle cx="347.63" cy="570.01" r="2.4" fill="#62ac38"/><circle cx="350.25" cy="571.18" r="1.94" fill="#62ac38"/><circle cx="351.89" cy="572.89" r="2.17" fill="#62ac38"/><circle cx="352.99" cy="575.38" r="2.03" fill="#62ac38"/><circle cx="348.41" cy="578.58" r="1.99" fill="#98d258"/><circle cx="344.43" cy="575.46" r="1.3" fill="#98d258"/><circle cx="348.65" cy="571.52" r="1.88" fill="#98d258"/><circle cx="342.06" cy="573" r="1.96" fill="#98d258"/><circle cx="346.38" cy="579.97" r="1.48" fill="#98d258"/><circle cx="343.25" cy="575.2" r="1.99" fill="#98d258"/><circle cx="342.63" cy="581.83" r="1.91" fill="#98d258"/><circle cx="348.61" cy="573.93" r="1.78" fill="#98d258"/><circle cx="351.36" cy="577.97" r="1.38" fill="#98d258"/><circle cx="347.75" cy="582.46" r="1.67" fill="#98d258"/><circle cx="342.1" cy="573.15" r="1.7" fill="#98d258"/><circle cx="340.86" cy="570.67" r="1.5" fill="#98d258"/><circle cx="343" cy="576.73" r="0.5" fill="#e4f5c8"/><circle cx="340.43" cy="577.68" r="0.5" fill="#e4f5c8"/><circle cx="348.86" cy="574.22" r="0.5" fill="#e4f5c8"/><circle cx="347.54" cy="577.21" r="0.5" fill="#e4f5c8"/><circle cx="350.45" cy="577.91" r="0.5" fill="#e4f5c8"/><circle cx="348.33" cy="577.73" r="0.5" fill="#e4f5c8"/><circle cx="350.92" cy="571.07" r="0.5" fill="#e4f5c8"/><circle cx="341" cy="582.04" r="0.5" fill="#e4f5c8"/><circle cx="351.08" cy="569.81" r="0.5" fill="#e4f5c8"/><circle cx="351.92" cy="578.38" r="0.5" fill="#e4f5c8"/><circle cx="351.38" cy="579.69" r="0.5" fill="#e4f5c8"/><circle cx="344.67" cy="571.32" r="0.5" fill="#e4f5c8"/><circle cx="350.11" cy="579.82" r="0.5" fill="#e4f5c8"/><circle cx="345.98" cy="573.56" r="0.5" fill="#e4f5c8"/><circle cx="344.5" cy="583.04" r="0.5" fill="#e4f5c8"/><circle cx="345.89" cy="572.69" r="0.5" fill="#e4f5c8"/>
<path d="M367.7,587.8 Q366.74,583.3 364.5,578.8" stroke="#5f8262" stroke-width="0.9" fill="none"/><path d="M367.7,587.8 Q367.16,581.8 365.9,575.8" stroke="#4f7154" stroke-width="0.9" fill="none"/><path d="M367.7,587.8 Q367.7,581.3 367.7,574.8" stroke="#44664a" stroke-width="0.9" fill="none"/><path d="M367.7,587.8 Q368.24,581.8 369.5,575.8" stroke="#4f7154" stroke-width="0.9" fill="none"/><path d="M367.7,587.8 Q368.66,583.3 370.9,578.8" stroke="#5f8262" stroke-width="0.9" fill="none"/><path d="M367.7,587.8 Q366.95,584.8 365.2,581.8" stroke="#7a9a7a" stroke-width="0.9" fill="none"/><path d="M367.7,587.8 Q368.45,584.8 370.2,581.8" stroke="#7a9a7a" stroke-width="0.9" fill="none"/><line x1="367.7" y1="587.8" x2="367.7" y2="572.8" stroke="#8a9a70" stroke-width="0.5"/><ellipse cx="367.7" cy="571" rx="0.9" ry="2.6" fill="#a08c5c"/>
<path d="M375.1,587.8 Q374.14,583.3 371.9,578.8" stroke="#5f8262" stroke-width="0.9" fill="none"/><path d="M375.1,587.8 Q374.56,581.8 373.3,575.8" stroke="#4f7154" stroke-width="0.9" fill="none"/><path d="M375.1,587.8 Q375.1,581.3 375.1,574.8" stroke="#44664a" stroke-width="0.9" fill="none"/><path d="M375.1,587.8 Q375.64,581.8 376.9,575.8" stroke="#4f7154" stroke-width="0.9" fill="none"/><path d="M375.1,587.8 Q376.06,583.3 378.3,578.8" stroke="#5f8262" stroke-width="0.9" fill="none"/><path d="M375.1,587.8 Q374.35,584.8 372.6,581.8" stroke="#7a9a7a" stroke-width="0.9" fill="none"/><path d="M375.1,587.8 Q375.85,584.8 377.6,581.8" stroke="#7a9a7a" stroke-width="0.9" fill="none"/><line x1="375.1" y1="587.8" x2="375.1" y2="572.8" stroke="#8a9a70" stroke-width="0.5"/><ellipse cx="375.1" cy="571" rx="0.9" ry="2.6" fill="#a08c5c"/>
<path d="M382.4,587.8 Q381.44,583.3 379.2,578.8" stroke="#5f8262" stroke-width="0.9" fill="none"/><path d="M382.4,587.8 Q381.86,581.8 380.6,575.8" stroke="#4f7154" stroke-width="0.9" fill="none"/><path d="M382.4,587.8 Q382.4,581.3 382.4,574.8" stroke="#44664a" stroke-width="0.9" fill="none"/><path d="M382.4,587.8 Q382.94,581.8 384.2,575.8" stroke="#4f7154" stroke-width="0.9" fill="none"/><path d="M382.4,587.8 Q383.36,583.3 385.6,578.8" stroke="#5f8262" stroke-width="0.9" fill="none"/><path d="M382.4,587.8 Q381.65,584.8 379.9,581.8" stroke="#7a9a7a" stroke-width="0.9" fill="none"/><path d="M382.4,587.8 Q383.15,584.8 384.9,581.8" stroke="#7a9a7a" stroke-width="0.9" fill="none"/><line x1="382.4" y1="587.8" x2="382.4" y2="572.8" stroke="#8a9a70" stroke-width="0.5"/><ellipse cx="382.4" cy="571" rx="0.9" ry="2.6" fill="#a08c5c"/>
<path d="M400,587.8 L400,577.3 M398,587.8 L399,580.3 M402,587.8 L401,580.3" stroke="#4f8a2a" stroke-width="0.6"/><ellipse cx="400" cy="577.3" rx="7.7" ry="8.36" fill="#64ad3a"/><circle cx="406.79" cy="578.02" r="2.48" fill="#62ac38"/><circle cx="406.55" cy="579.38" r="1.94" fill="#62ac38"/><circle cx="405.02" cy="582.32" r="2.07" fill="#62ac38"/><circle cx="395.04" cy="582.39" r="1.95" fill="#62ac38"/><circle cx="393.57" cy="579.77" r="2.1" fill="#62ac38"/><circle cx="393.2" cy="576.72" r="1.9" fill="#62ac38"/><circle cx="393.8" cy="574.2" r="1.98" fill="#62ac38"/><circle cx="394.64" cy="572.72" r="1.87" fill="#62ac38"/><circle cx="396.37" cy="571.02" r="2.49" fill="#62ac38"/><circle cx="398.63" cy="570.04" r="2.39" fill="#62ac38"/><circle cx="401.82" cy="570.16" r="2.29" fill="#62ac38"/><circle cx="403.03" cy="570.66" r="2.1" fill="#62ac38"/><circle cx="404.92" cy="572.17" r="1.97" fill="#62ac38"/><circle cx="406.33" cy="574.54" r="1.92" fill="#62ac38"/><circle cx="402.2" cy="577.11" r="1.43" fill="#98d258"/><circle cx="396.99" cy="572.41" r="1.29" fill="#98d258"/><circle cx="399.25" cy="571.58" r="1.62" fill="#98d258"/><circle cx="397" cy="580.19" r="1.41" fill="#98d258"/><circle cx="404.36" cy="582.33" r="1.94" fill="#98d258"/><circle cx="396.66" cy="582.12" r="1.58" fill="#98d258"/><circle cx="404.71" cy="576.38" r="1.63" fill="#98d258"/><circle cx="397.04" cy="580" r="1.49" fill="#98d258"/><circle cx="404.7" cy="579.39" r="1.54" fill="#98d258"/><circle cx="394.26" cy="573.97" r="1.53" fill="#98d258"/><circle cx="398.41" cy="577.85" r="1.2" fill="#98d258"/><circle cx="399.6" cy="581.67" r="1.96" fill="#98d258"/><circle cx="402.64" cy="579.48" r="0.5" fill="#e4f5c8"/><circle cx="401.44" cy="583.94" r="0.5" fill="#e4f5c8"/><circle cx="404.06" cy="576.26" r="0.5" fill="#e4f5c8"/><circle cx="399.94" cy="583.09" r="0.5" fill="#e4f5c8"/><circle cx="400.72" cy="578.23" r="0.5" fill="#e4f5c8"/><circle cx="397.31" cy="579.17" r="0.5" fill="#e4f5c8"/><circle cx="399.84" cy="583.14" r="0.5" fill="#e4f5c8"/><circle cx="407" cy="583.89" r="0.5" fill="#e4f5c8"/><circle cx="406.31" cy="570.32" r="0.5" fill="#e4f5c8"/><circle cx="394.02" cy="574.53" r="0.5" fill="#e4f5c8"/><circle cx="404.58" cy="577.66" r="0.5" fill="#e4f5c8"/><circle cx="396.59" cy="571.13" r="0.5" fill="#e4f5c8"/><circle cx="396.5" cy="571.51" r="0.5" fill="#e4f5c8"/><circle cx="395.01" cy="580.31" r="0.5" fill="#e4f5c8"/><circle cx="395.7" cy="572.08" r="0.5" fill="#e4f5c8"/><circle cx="401.68" cy="571.56" r="0.5" fill="#e4f5c8"/>
<path d="M414.5,587.8 L414.5,577.3 M412.5,587.8 L413.5,580.3 M416.5,587.8 L415.5,580.3" stroke="#4f8a2a" stroke-width="0.6"/><ellipse cx="414.5" cy="577.3" rx="7.7" ry="8.36" fill="#64ad3a"/><circle cx="421.31" cy="577.79" r="2.26" fill="#62ac38"/><circle cx="420.72" cy="580.35" r="2.31" fill="#62ac38"/><circle cx="419.52" cy="582.32" r="1.99" fill="#62ac38"/><circle cx="409.33" cy="582.14" r="2.36" fill="#62ac38"/><circle cx="408.03" cy="579.65" r="1.86" fill="#62ac38"/><circle cx="407.69" cy="577.73" r="2.2" fill="#62ac38"/><circle cx="408.23" cy="574.37" r="1.96" fill="#62ac38"/><circle cx="409.06" cy="572.83" r="2.06" fill="#62ac38"/><circle cx="411.04" cy="570.91" r="2.09" fill="#62ac38"/><circle cx="413.89" cy="569.92" r="2.23" fill="#62ac38"/><circle cx="415.39" cy="569.95" r="2.04" fill="#62ac38"/><circle cx="417.92" cy="570.89" r="1.91" fill="#62ac38"/><circle cx="419.63" cy="572.42" r="1.85" fill="#62ac38"/><circle cx="420.98" cy="574.98" r="2.41" fill="#62ac38"/><circle cx="419.39" cy="578.03" r="1.51" fill="#98d258"/><circle cx="415.23" cy="577.51" r="1.34" fill="#98d258"/><circle cx="414.99" cy="576.79" r="1.36" fill="#98d258"/><circle cx="413.8" cy="580.98" r="1.71" fill="#98d258"/><circle cx="412.41" cy="573.6" r="1.7" fill="#98d258"/><circle cx="415.15" cy="574.33" r="1.58" fill="#98d258"/><circle cx="413.36" cy="578.4" r="1.9" fill="#98d258"/><circle cx="412.94" cy="577.29" r="1.65" fill="#98d258"/><circle cx="416.55" cy="573.66" r="1.4" fill="#98d258"/><circle cx="419.67" cy="572.45" r="1.74" fill="#98d258"/><circle cx="411.56" cy="576.72" r="1.56" fill="#98d258"/><circle cx="411.3" cy="572.83" r="1.97" fill="#98d258"/><circle cx="408.04" cy="571.73" r="0.5" fill="#e4f5c8"/><circle cx="417.84" cy="574.99" r="0.5" fill="#e4f5c8"/><circle cx="410.23" cy="580.76" r="0.5" fill="#e4f5c8"/><circle cx="421.24" cy="572.66" r="0.5" fill="#e4f5c8"/><circle cx="417.4" cy="575.35" r="0.5" fill="#e4f5c8"/><circle cx="421.47" cy="578.2" r="0.5" fill="#e4f5c8"/><circle cx="420.03" cy="579.15" r="0.5" fill="#e4f5c8"/><circle cx="409.34" cy="576" r="0.5" fill="#e4f5c8"/><circle cx="417.38" cy="571.88" r="0.5" fill="#e4f5c8"/><circle cx="408.73" cy="583.82" r="0.5" fill="#e4f5c8"/><circle cx="420.43" cy="578.97" r="0.5" fill="#e4f5c8"/><circle cx="408.39" cy="579.69" r="0.5" fill="#e4f5c8"/><circle cx="421.34" cy="580.85" r="0.5" fill="#e4f5c8"/><circle cx="417.51" cy="575.97" r="0.5" fill="#e4f5c8"/><circle cx="416.35" cy="582.9" r="0.5" fill="#e4f5c8"/><circle cx="414.49" cy="570.76" r="0.5" fill="#e4f5c8"/>
<path d="M436.3,587.8 Q435.3,578.3 434.3,568.8" stroke="#8aa86a" stroke-width="0.5" fill="none"/><path d="M436.3,587.8 Q436.3,578.3 436.3,568.8" stroke="#8aa86a" stroke-width="0.5" fill="none"/><path d="M436.3,587.8 Q437.3,578.3 438.3,568.8" stroke="#8aa86a" stroke-width="0.5" fill="none"/><path d="M436.3,584.8 q-2.2,-1.2 -3.5,0.2" stroke="#b5d58a" stroke-width="1" fill="none"/><path d="M436.3,583 q2.2,-1.2 3.5,0.2" stroke="#b5d58a" stroke-width="1" fill="none"/><path d="M436.3,581.2 q-2.2,-1.2 -3.5,0.2" stroke="#b5d58a" stroke-width="1" fill="none"/><path d="M436.3,579.4 q2.2,-1.2 3.5,0.2" stroke="#b5d58a" stroke-width="1" fill="none"/><path d="M436.3,577.6 q-2.2,-1.2 -3.5,0.2" stroke="#b5d58a" stroke-width="1" fill="none"/><path d="M436.3,575.8 q2.2,-1.2 3.5,0.2" stroke="#b5d58a" stroke-width="1" fill="none"/><path d="M436.3,574 q-2.2,-1.2 -3.5,0.2" stroke="#b5d58a" stroke-width="1" fill="none"/><path d="M436.3,572.2 q2.2,-1.2 3.5,0.2" stroke="#b5d58a" stroke-width="1" fill="none"/><path d="M436.3,570.4 q-2.2,-1.2 -3.5,0.2" stroke="#b5d58a" stroke-width="1" fill="none"/><circle cx="434.17" cy="569.32" r="0.8" fill="#d8ecb0"/><circle cx="437.56" cy="569.51" r="0.8" fill="#d8ecb0"/><circle cx="434.19" cy="578.64" r="0.8" fill="#d8ecb0"/><circle cx="437.4" cy="575.09" r="0.8" fill="#d8ecb0"/><circle cx="436.08" cy="577.24" r="0.8" fill="#d8ecb0"/><circle cx="437.88" cy="571.2" r="0.8" fill="#d8ecb0"/>
<path d="M443.8,587.8 Q442.8,578.3 441.8,568.8" stroke="#8aa86a" stroke-width="0.5" fill="none"/><path d="M443.8,587.8 Q443.8,578.3 443.8,568.8" stroke="#8aa86a" stroke-width="0.5" fill="none"/><path d="M443.8,587.8 Q444.8,578.3 445.8,568.8" stroke="#8aa86a" stroke-width="0.5" fill="none"/><path d="M443.8,584.8 q-2.2,-1.2 -3.5,0.2" stroke="#b5d58a" stroke-width="1" fill="none"/><path d="M443.8,583 q2.2,-1.2 3.5,0.2" stroke="#b5d58a" stroke-width="1" fill="none"/><path d="M443.8,581.2 q-2.2,-1.2 -3.5,0.2" stroke="#b5d58a" stroke-width="1" fill="none"/><path d="M443.8,579.4 q2.2,-1.2 3.5,0.2" stroke="#b5d58a" stroke-width="1" fill="none"/><path d="M443.8,577.6 q-2.2,-1.2 -3.5,0.2" stroke="#b5d58a" stroke-width="1" fill="none"/><path d="M443.8,575.8 q2.2,-1.2 3.5,0.2" stroke="#b5d58a" stroke-width="1" fill="none"/><path d="M443.8,574 q-2.2,-1.2 -3.5,0.2" stroke="#b5d58a" stroke-width="1" fill="none"/><path d="M443.8,572.2 q2.2,-1.2 3.5,0.2" stroke="#b5d58a" stroke-width="1" fill="none"/><path d="M443.8,570.4 q-2.2,-1.2 -3.5,0.2" stroke="#b5d58a" stroke-width="1" fill="none"/><circle cx="445.16" cy="575.07" r="0.8" fill="#d8ecb0"/><circle cx="443.75" cy="575.45" r="0.8" fill="#d8ecb0"/><circle cx="443.59" cy="576.22" r="0.8" fill="#d8ecb0"/><circle cx="443.61" cy="569.21" r="0.8" fill="#d8ecb0"/><circle cx="445.61" cy="578.31" r="0.8" fill="#d8ecb0"/><circle cx="444.82" cy="570.78" r="0.8" fill="#d8ecb0"/>
<path d="M451.3,587.8 Q450.3,578.3 449.3,568.8" stroke="#8aa86a" stroke-width="0.5" fill="none"/><path d="M451.3,587.8 Q451.3,578.3 451.3,568.8" stroke="#8aa86a" stroke-width="0.5" fill="none"/><path d="M451.3,587.8 Q452.3,578.3 453.3,568.8" stroke="#8aa86a" stroke-width="0.5" fill="none"/><path d="M451.3,584.8 q-2.2,-1.2 -3.5,0.2" stroke="#b5d58a" stroke-width="1" fill="none"/><path d="M451.3,583 q2.2,-1.2 3.5,0.2" stroke="#b5d58a" stroke-width="1" fill="none"/><path d="M451.3,581.2 q-2.2,-1.2 -3.5,0.2" stroke="#b5d58a" stroke-width="1" fill="none"/><path d="M451.3,579.4 q2.2,-1.2 3.5,0.2" stroke="#b5d58a" stroke-width="1" fill="none"/><path d="M451.3,577.6 q-2.2,-1.2 -3.5,0.2" stroke="#b5d58a" stroke-width="1" fill="none"/><path d="M451.3,575.8 q2.2,-1.2 3.5,0.2" stroke="#b5d58a" stroke-width="1" fill="none"/><path d="M451.3,574 q-2.2,-1.2 -3.5,0.2" stroke="#b5d58a" stroke-width="1" fill="none"/><path d="M451.3,572.2 q2.2,-1.2 3.5,0.2" stroke="#b5d58a" stroke-width="1" fill="none"/><path d="M451.3,570.4 q-2.2,-1.2 -3.5,0.2" stroke="#b5d58a" stroke-width="1" fill="none"/><circle cx="450.37" cy="570.02" r="0.8" fill="#d8ecb0"/><circle cx="453.94" cy="579.02" r="0.8" fill="#d8ecb0"/><circle cx="452.05" cy="575.61" r="0.8" fill="#d8ecb0"/><circle cx="451.1" cy="573.77" r="0.8" fill="#d8ecb0"/><circle cx="453.46" cy="572.86" r="0.8" fill="#d8ecb0"/><circle cx="453.63" cy="577.06" r="0.8" fill="#d8ecb0"/>
<path d="M468.3,587.8 L468.3,577.3 M466.3,587.8 L467.3,580.3 M470.3,587.8 L469.3,580.3" stroke="#4f8a2a" stroke-width="0.6"/><ellipse cx="468.3" cy="577.3" rx="7.7" ry="8.36" fill="#64ad3a"/><circle cx="475.11" cy="577.74" r="2.07" fill="#62ac38"/><circle cx="474.85" cy="579.39" r="2.36" fill="#62ac38"/><circle cx="473.46" cy="582.15" r="1.96" fill="#62ac38"/><circle cx="463.23" cy="582.26" r="2.18" fill="#62ac38"/><circle cx="461.87" cy="579.77" r="2" fill="#62ac38"/><circle cx="461.48" cy="577.25" r="2.48" fill="#62ac38"/><circle cx="461.98" cy="574.49" r="1.99" fill="#62ac38"/><circle cx="463.24" cy="572.33" r="2.23" fill="#62ac38"/><circle cx="464.73" cy="570.98" r="2.27" fill="#62ac38"/><circle cx="466.95" cy="570.04" r="2.35" fill="#62ac38"/><circle cx="469.33" cy="569.98" r="2.38" fill="#62ac38"/><circle cx="471.47" cy="570.74" r="1.92" fill="#62ac38"/><circle cx="473.38" cy="572.35" r="1.89" fill="#62ac38"/><circle cx="474.87" cy="575.29" r="2.5" fill="#62ac38"/><circle cx="467.27" cy="573.62" r="1.91" fill="#98d258"/><circle cx="472.6" cy="573.67" r="1.44" fill="#98d258"/><circle cx="468.27" cy="572.28" r="1.37" fill="#98d258"/><circle cx="467.04" cy="572.13" r="1.32" fill="#98d258"/><circle cx="469.58" cy="574.36" r="1.93" fill="#98d258"/><circle cx="473.95" cy="578.93" r="1.42" fill="#98d258"/><circle cx="471.48" cy="574.83" r="1.9" fill="#98d258"/><circle cx="467.37" cy="579.19" r="1.8" fill="#98d258"/><circle cx="470.78" cy="579.95" r="1.47" fill="#98d258"/><circle cx="464.03" cy="575.2" r="1.97" fill="#98d258"/><circle cx="462.63" cy="574.13" r="1.45" fill="#98d258"/><circle cx="467.57" cy="581.4" r="1.34" fill="#98d258"/><circle cx="462.76" cy="569.95" r="0.5" fill="#e4f5c8"/><circle cx="466.06" cy="580.05" r="0.5" fill="#e4f5c8"/><circle cx="467.64" cy="578.91" r="0.5" fill="#e4f5c8"/><circle cx="468.48" cy="574.84" r="0.5" fill="#e4f5c8"/><circle cx="467.01" cy="570.28" r="0.5" fill="#e4f5c8"/><circle cx="474.63" cy="580.14" r="0.5" fill="#e4f5c8"/><circle cx="462.67" cy="572.59" r="0.5" fill="#e4f5c8"/><circle cx="472.26" cy="576.93" r="0.5" fill="#e4f5c8"/><circle cx="471.78" cy="580.41" r="0.5" fill="#e4f5c8"/><circle cx="463.34" cy="581.42" r="0.5" fill="#e4f5c8"/><circle cx="464.12" cy="571.67" r="0.5" fill="#e4f5c8"/><circle cx="471.76" cy="581.32" r="0.5" fill="#e4f5c8"/><circle cx="465.54" cy="575.19" r="0.5" fill="#e4f5c8"/><circle cx="471.58" cy="573.89" r="0.5" fill="#e4f5c8"/><circle cx="467.53" cy="583.84" r="0.5" fill="#e4f5c8"/><circle cx="463.12" cy="583.14" r="0.5" fill="#e4f5c8"/>
<path d="M482.8,587.8 L482.8,577.3 M480.8,587.8 L481.8,580.3 M484.8,587.8 L483.8,580.3" stroke="#4f8a2a" stroke-width="0.6"/><ellipse cx="482.8" cy="577.3" rx="7.7" ry="8.36" fill="#64ad3a"/><circle cx="489.6" cy="577.87" r="2.5" fill="#62ac38"/><circle cx="489.32" cy="579.48" r="1.94" fill="#62ac38"/><circle cx="488.08" cy="581.99" r="1.92" fill="#62ac38"/><circle cx="477.57" cy="582.06" r="2.47" fill="#62ac38"/><circle cx="476.58" cy="580.35" r="1.96" fill="#62ac38"/><circle cx="475.99" cy="576.77" r="2.21" fill="#62ac38"/><circle cx="476.53" cy="574.38" r="2.5" fill="#62ac38"/><circle cx="477.82" cy="572.24" r="2.23" fill="#62ac38"/><circle cx="479.69" cy="570.7" r="2.17" fill="#62ac38"/><circle cx="481.24" cy="570.09" r="2.03" fill="#62ac38"/><circle cx="484.55" cy="570.14" r="2.17" fill="#62ac38"/><circle cx="485.65" cy="570.56" r="2.25" fill="#62ac38"/><circle cx="488.44" cy="573.12" r="2.24" fill="#62ac38"/><circle cx="489.21" cy="574.75" r="2.12" fill="#62ac38"/><circle cx="484.4" cy="578.24" r="1.59" fill="#98d258"/><circle cx="487.74" cy="581.6" r="1.83" fill="#98d258"/><circle cx="485.56" cy="579.53" r="1.36" fill="#98d258"/><circle cx="482.68" cy="573.94" r="1.36" fill="#98d258"/><circle cx="488.31" cy="573.5" r="1.85" fill="#98d258"/><circle cx="486.89" cy="575.65" r="1.22" fill="#98d258"/><circle cx="478.85" cy="578.62" r="1.77" fill="#98d258"/><circle cx="481.02" cy="578.05" r="1.33" fill="#98d258"/><circle cx="484.73" cy="580.3" r="1.83" fill="#98d258"/><circle cx="483.57" cy="577.73" r="1.2" fill="#98d258"/><circle cx="479.94" cy="575.67" r="1.26" fill="#98d258"/><circle cx="477.58" cy="582.47" r="1.75" fill="#98d258"/><circle cx="483.67" cy="579.52" r="0.5" fill="#e4f5c8"/><circle cx="487.96" cy="578.75" r="0.5" fill="#e4f5c8"/><circle cx="481.78" cy="575.29" r="0.5" fill="#e4f5c8"/><circle cx="489.39" cy="583.3" r="0.5" fill="#e4f5c8"/><circle cx="477.93" cy="581.36" r="0.5" fill="#e4f5c8"/><circle cx="484.8" cy="574.6" r="0.5" fill="#e4f5c8"/><circle cx="485.52" cy="573.61" r="0.5" fill="#e4f5c8"/><circle cx="486.24" cy="577.67" r="0.5" fill="#e4f5c8"/><circle cx="483.99" cy="570.5" r="0.5" fill="#e4f5c8"/><circle cx="488.45" cy="583.32" r="0.5" fill="#e4f5c8"/><circle cx="486.46" cy="573.88" r="0.5" fill="#e4f5c8"/><circle cx="485.92" cy="571.36" r="0.5" fill="#e4f5c8"/><circle cx="483.45" cy="574.62" r="0.5" fill="#e4f5c8"/><circle cx="482.4" cy="573.83" r="0.5" fill="#e4f5c8"/><circle cx="476.79" cy="575.9" r="0.5" fill="#e4f5c8"/><circle cx="479.12" cy="572.2" r="0.5" fill="#e4f5c8"/>
<text x="290.3" y="600.1" font-size="3.8" font-weight="bold" fill="#222" stroke="#222" stroke-width="0.17">NT3</text>
<rect x="289.9" y="616.6" width="201.9" height="3" fill="#dcc9b2"/>
<rect x="289.9" y="619.2" width="201.9" height="5.6" fill="#ab5a32"/>
<rect x="289.9" y="623.8" width="201.9" height="0.7" fill="#7a3a1a"/>
<path d="M299.6,616.9 Q298.64,612.4 296.4,607.9" stroke="#5f8262" stroke-width="0.9" fill="none"/><path d="M299.6,616.9 Q299.06,610.9 297.8,604.9" stroke="#4f7154" stroke-width="0.9" fill="none"/><path d="M299.6,616.9 Q299.6,610.4 299.6,603.9" stroke="#44664a" stroke-width="0.9" fill="none"/><path d="M299.6,616.9 Q300.14,610.9 301.4,604.9" stroke="#4f7154" stroke-width="0.9" fill="none"/><path d="M299.6,616.9 Q300.56,612.4 302.8,607.9" stroke="#5f8262" stroke-width="0.9" fill="none"/><path d="M299.6,616.9 Q298.85,613.9 297.1,610.9" stroke="#7a9a7a" stroke-width="0.9" fill="none"/><path d="M299.6,616.9 Q300.35,613.9 302.1,610.9" stroke="#7a9a7a" stroke-width="0.9" fill="none"/><line x1="299.6" y1="616.9" x2="299.6" y2="601.9" stroke="#8a9a70" stroke-width="0.5"/><ellipse cx="299.6" cy="600.1" rx="0.9" ry="2.6" fill="#a08c5c"/>
<path d="M307,616.9 Q306.04,612.4 303.8,607.9" stroke="#5f8262" stroke-width="0.9" fill="none"/><path d="M307,616.9 Q306.46,610.9 305.2,604.9" stroke="#4f7154" stroke-width="0.9" fill="none"/><path d="M307,616.9 Q307,610.4 307,603.9" stroke="#44664a" stroke-width="0.9" fill="none"/><path d="M307,616.9 Q307.54,610.9 308.8,604.9" stroke="#4f7154" stroke-width="0.9" fill="none"/><path d="M307,616.9 Q307.96,612.4 310.2,607.9" stroke="#5f8262" stroke-width="0.9" fill="none"/><path d="M307,616.9 Q306.25,613.9 304.5,610.9" stroke="#7a9a7a" stroke-width="0.9" fill="none"/><path d="M307,616.9 Q307.75,613.9 309.5,610.9" stroke="#7a9a7a" stroke-width="0.9" fill="none"/><line x1="307" y1="616.9" x2="307" y2="601.9" stroke="#8a9a70" stroke-width="0.5"/><ellipse cx="307" cy="600.1" rx="0.9" ry="2.6" fill="#a08c5c"/>
<path d="M314.3,616.9 Q313.34,612.4 311.1,607.9" stroke="#5f8262" stroke-width="0.9" fill="none"/><path d="M314.3,616.9 Q313.76,610.9 312.5,604.9" stroke="#4f7154" stroke-width="0.9" fill="none"/><path d="M314.3,616.9 Q314.3,610.4 314.3,603.9" stroke="#44664a" stroke-width="0.9" fill="none"/><path d="M314.3,616.9 Q314.84,610.9 316.1,604.9" stroke="#4f7154" stroke-width="0.9" fill="none"/><path d="M314.3,616.9 Q315.26,612.4 317.5,607.9" stroke="#5f8262" stroke-width="0.9" fill="none"/><path d="M314.3,616.9 Q313.55,613.9 311.8,610.9" stroke="#7a9a7a" stroke-width="0.9" fill="none"/><path d="M314.3,616.9 Q315.05,613.9 316.8,610.9" stroke="#7a9a7a" stroke-width="0.9" fill="none"/><line x1="314.3" y1="616.9" x2="314.3" y2="601.9" stroke="#8a9a70" stroke-width="0.5"/><ellipse cx="314.3" cy="600.1" rx="0.9" ry="2.6" fill="#a08c5c"/>
<path d="M331.9,616.9 L331.9,606.4 M329.9,616.9 L330.9,609.4 M333.9,616.9 L332.9,609.4" stroke="#4f8a2a" stroke-width="0.6"/><ellipse cx="331.9" cy="606.4" rx="7.7" ry="8.36" fill="#64ad3a"/><circle cx="338.72" cy="606.15" r="1.89" fill="#62ac38"/><circle cx="338.51" cy="608.26" r="2.48" fill="#62ac38"/><circle cx="337.5" cy="610.64" r="2.43" fill="#62ac38"/><circle cx="327.08" cy="611.65" r="2.18" fill="#62ac38"/><circle cx="325.75" cy="609.61" r="2.01" fill="#62ac38"/><circle cx="325.08" cy="606.09" r="2.39" fill="#62ac38"/><circle cx="325.35" cy="604.32" r="2.08" fill="#62ac38"/><circle cx="327.08" cy="601.15" r="2.02" fill="#62ac38"/><circle cx="328.05" cy="600.28" r="1.97" fill="#62ac38"/><circle cx="331.21" cy="599.03" r="2.04" fill="#62ac38"/><circle cx="333.31" cy="599.15" r="2.46" fill="#62ac38"/><circle cx="335.46" cy="600.07" r="1.94" fill="#62ac38"/><circle cx="337.11" cy="601.62" r="2.03" fill="#62ac38"/><circle cx="338.3" cy="603.84" r="2.23" fill="#62ac38"/><circle cx="337.73" cy="608.26" r="1.61" fill="#98d258"/><circle cx="335.71" cy="606.01" r="1.35" fill="#98d258"/><circle cx="333.99" cy="603.09" r="1.37" fill="#98d258"/><circle cx="330.54" cy="605.74" r="1.23" fill="#98d258"/><circle cx="330.19" cy="611.62" r="1.61" fill="#98d258"/><circle cx="330.28" cy="605.39" r="1.76" fill="#98d258"/><circle cx="331.93" cy="604.75" r="1.66" fill="#98d258"/><circle cx="329.15" cy="608.18" r="1.54" fill="#98d258"/><circle cx="334.42" cy="604.05" r="1.71" fill="#98d258"/><circle cx="328.18" cy="605.74" r="1.59" fill="#98d258"/><circle cx="325.96" cy="601.31" r="1.57" fill="#98d258"/><circle cx="335.15" cy="609.77" r="1.88" fill="#98d258"/><circle cx="336.19" cy="612.58" r="0.5" fill="#e4f5c8"/><circle cx="327.64" cy="600.95" r="0.5" fill="#e4f5c8"/><circle cx="326.84" cy="610.09" r="0.5" fill="#e4f5c8"/><circle cx="327.55" cy="603.31" r="0.5" fill="#e4f5c8"/><circle cx="326.84" cy="611.75" r="0.5" fill="#e4f5c8"/><circle cx="327.83" cy="602.16" r="0.5" fill="#e4f5c8"/><circle cx="333.22" cy="608.82" r="0.5" fill="#e4f5c8"/><circle cx="325.44" cy="607.06" r="0.5" fill="#e4f5c8"/><circle cx="332.32" cy="606.7" r="0.5" fill="#e4f5c8"/><circle cx="332.12" cy="610.17" r="0.5" fill="#e4f5c8"/><circle cx="336.42" cy="611.07" r="0.5" fill="#e4f5c8"/><circle cx="329.53" cy="599.39" r="0.5" fill="#e4f5c8"/><circle cx="331.49" cy="599.18" r="0.5" fill="#e4f5c8"/><circle cx="333.81" cy="605.64" r="0.5" fill="#e4f5c8"/><circle cx="335.35" cy="610.67" r="0.5" fill="#e4f5c8"/><circle cx="335.16" cy="608.68" r="0.5" fill="#e4f5c8"/>
<path d="M346.4,616.9 L346.4,606.4 M344.4,616.9 L345.4,609.4 M348.4,616.9 L347.4,609.4" stroke="#4f8a2a" stroke-width="0.6"/><ellipse cx="346.4" cy="606.4" rx="7.7" ry="8.36" fill="#64ad3a"/><circle cx="353.22" cy="606.15" r="2.31" fill="#62ac38"/><circle cx="352.75" cy="609.13" r="1.95" fill="#62ac38"/><circle cx="351.29" cy="611.57" r="2.13" fill="#62ac38"/><circle cx="340.97" cy="610.88" r="2.39" fill="#62ac38"/><circle cx="339.98" cy="608.91" r="2.21" fill="#62ac38"/><circle cx="339.58" cy="606.45" r="1.97" fill="#62ac38"/><circle cx="340.14" cy="603.45" r="2.44" fill="#62ac38"/><circle cx="340.79" cy="602.18" r="1.82" fill="#62ac38"/><circle cx="342.95" cy="600.01" r="1.86" fill="#62ac38"/><circle cx="345.13" cy="599.12" r="2.04" fill="#62ac38"/><circle cx="347.24" cy="599.05" r="2.34" fill="#62ac38"/><circle cx="349.91" cy="600.04" r="2.45" fill="#62ac38"/><circle cx="351.35" cy="601.3" r="2.07" fill="#62ac38"/><circle cx="352.87" cy="604.03" r="2.34" fill="#62ac38"/><circle cx="345.52" cy="602.05" r="1.51" fill="#98d258"/><circle cx="347.23" cy="611.7" r="1.72" fill="#98d258"/><circle cx="350.62" cy="610.05" r="1.54" fill="#98d258"/><circle cx="346.47" cy="610.04" r="1.78" fill="#98d258"/><circle cx="345.17" cy="602.08" r="1.79" fill="#98d258"/><circle cx="343.86" cy="603.02" r="1.4" fill="#98d258"/><circle cx="348.69" cy="607.73" r="1.95" fill="#98d258"/><circle cx="347.5" cy="605.72" r="1.91" fill="#98d258"/><circle cx="341.97" cy="607.02" r="1.99" fill="#98d258"/><circle cx="344.36" cy="601.63" r="1.29" fill="#98d258"/><circle cx="340.61" cy="608.79" r="1.53" fill="#98d258"/><circle cx="350.33" cy="610.07" r="1.22" fill="#98d258"/><circle cx="343.69" cy="602.56" r="0.5" fill="#e4f5c8"/><circle cx="343.09" cy="599.21" r="0.5" fill="#e4f5c8"/><circle cx="342.97" cy="603.64" r="0.5" fill="#e4f5c8"/><circle cx="345.74" cy="606.37" r="0.5" fill="#e4f5c8"/><circle cx="353.19" cy="600.34" r="0.5" fill="#e4f5c8"/><circle cx="341.28" cy="611.67" r="0.5" fill="#e4f5c8"/><circle cx="343.43" cy="606.48" r="0.5" fill="#e4f5c8"/><circle cx="343.67" cy="611.56" r="0.5" fill="#e4f5c8"/><circle cx="352.48" cy="606.93" r="0.5" fill="#e4f5c8"/><circle cx="340.72" cy="604.09" r="0.5" fill="#e4f5c8"/><circle cx="349.26" cy="606.87" r="0.5" fill="#e4f5c8"/><circle cx="343.32" cy="604.46" r="0.5" fill="#e4f5c8"/><circle cx="340.26" cy="604.55" r="0.5" fill="#e4f5c8"/><circle cx="350.94" cy="604.32" r="0.5" fill="#e4f5c8"/><circle cx="345.93" cy="601.19" r="0.5" fill="#e4f5c8"/><circle cx="349.38" cy="604.74" r="0.5" fill="#e4f5c8"/>
<path d="M369,616.9 L369,598.9" stroke="#6a9a50" stroke-width="0.6"/><circle cx="367.85" cy="602.07" r="1.61" fill="#86c25a"/><circle cx="364.78" cy="603.91" r="1.92" fill="#86c25a"/><circle cx="364.53" cy="608.07" r="2.02" fill="#86c25a"/><circle cx="369.09" cy="607.2" r="1.49" fill="#86c25a"/><circle cx="366.88" cy="604.68" r="2.04" fill="#86c25a"/><circle cx="370.62" cy="599.34" r="1.69" fill="#86c25a"/><circle cx="364.69" cy="608.13" r="1.66" fill="#86c25a"/><circle cx="364.57" cy="611.76" r="2.04" fill="#86c25a"/><circle cx="372.95" cy="611.04" r="1.46" fill="#86c25a"/><circle cx="373.81" cy="610.57" r="1.61" fill="#86c25a"/><circle cx="366.81" cy="606.02" r="1.1" fill="#8a5aa0"/><circle cx="365.25" cy="603.74" r="1.1" fill="#8a5aa0"/><circle cx="371.21" cy="607.26" r="1.1" fill="#8a5aa0"/><circle cx="368.93" cy="606.71" r="1.1" fill="#8a5aa0"/>
<path d="M380,616.9 L380,598.9" stroke="#6a9a50" stroke-width="0.6"/><circle cx="382.88" cy="600.24" r="2.01" fill="#86c25a"/><circle cx="380.34" cy="610.92" r="1.9" fill="#86c25a"/><circle cx="375.7" cy="602.05" r="1.61" fill="#86c25a"/><circle cx="383.92" cy="608.91" r="1.92" fill="#86c25a"/><circle cx="379.95" cy="609.55" r="1.74" fill="#86c25a"/><circle cx="379.31" cy="610.72" r="1.78" fill="#86c25a"/><circle cx="380.32" cy="603.1" r="1.64" fill="#86c25a"/><circle cx="381.15" cy="610.12" r="1.77" fill="#86c25a"/><circle cx="377.4" cy="601.9" r="1.53" fill="#86c25a"/><circle cx="377.91" cy="611.92" r="1.61" fill="#86c25a"/><circle cx="380.33" cy="605.85" r="1.1" fill="#8a5aa0"/><circle cx="376.97" cy="599.86" r="1.1" fill="#8a5aa0"/><circle cx="378.48" cy="605.96" r="1.1" fill="#8a5aa0"/><circle cx="379.19" cy="600.33" r="1.1" fill="#8a5aa0"/>
<path d="M401,616.9 L401,595.9" stroke="#3f8a32" stroke-width="1"/><path d="M401,612.9 q-4,-3.6 -8,2.8" stroke="#449a36" stroke-width="1.2" fill="none"/><path d="M401,610.9 q4,-3.6 8,2.8" stroke="#449a36" stroke-width="1.2" fill="none"/><path d="M401,607.9 q-3.5,-3.15 -7,2.45" stroke="#449a36" stroke-width="1.2" fill="none"/><path d="M401,605.9 q3.5,-3.15 7,2.45" stroke="#449a36" stroke-width="1.2" fill="none"/><path d="M401,602.9 q-3,-2.7 -6,2.1" stroke="#449a36" stroke-width="1.2" fill="none"/><path d="M401,600.9 q3,-2.7 6,2.1" stroke="#449a36" stroke-width="1.2" fill="none"/><path d="M401,597.9 q-2,-1.8 -4,1.4" stroke="#449a36" stroke-width="1.2" fill="none"/><path d="M401,597.9 q2,-1.8 4,1.4" stroke="#449a36" stroke-width="1.2" fill="none"/>
<path d="M414,616.9 L414,595.9" stroke="#3f8a32" stroke-width="1"/><path d="M414,612.9 q-4,-3.6 -8,2.8" stroke="#449a36" stroke-width="1.2" fill="none"/><path d="M414,610.9 q4,-3.6 8,2.8" stroke="#449a36" stroke-width="1.2" fill="none"/><path d="M414,607.9 q-3.5,-3.15 -7,2.45" stroke="#449a36" stroke-width="1.2" fill="none"/><path d="M414,605.9 q3.5,-3.15 7,2.45" stroke="#449a36" stroke-width="1.2" fill="none"/><path d="M414,602.9 q-3,-2.7 -6,2.1" stroke="#449a36" stroke-width="1.2" fill="none"/><path d="M414,600.9 q3,-2.7 6,2.1" stroke="#449a36" stroke-width="1.2" fill="none"/><path d="M414,597.9 q-2,-1.8 -4,1.4" stroke="#449a36" stroke-width="1.2" fill="none"/><path d="M414,597.9 q2,-1.8 4,1.4" stroke="#449a36" stroke-width="1.2" fill="none"/>
<path d="M436.3,616.9 Q435.3,607.4 434.3,597.9" stroke="#8aa86a" stroke-width="0.5" fill="none"/><path d="M436.3,616.9 Q436.3,607.4 436.3,597.9" stroke="#8aa86a" stroke-width="0.5" fill="none"/><path d="M436.3,616.9 Q437.3,607.4 438.3,597.9" stroke="#8aa86a" stroke-width="0.5" fill="none"/><path d="M436.3,613.9 q-2.2,-1.2 -3.5,0.2" stroke="#b5d58a" stroke-width="1" fill="none"/><path d="M436.3,612.1 q2.2,-1.2 3.5,0.2" stroke="#b5d58a" stroke-width="1" fill="none"/><path d="M436.3,610.3 q-2.2,-1.2 -3.5,0.2" stroke="#b5d58a" stroke-width="1" fill="none"/><path d="M436.3,608.5 q2.2,-1.2 3.5,0.2" stroke="#b5d58a" stroke-width="1" fill="none"/><path d="M436.3,606.7 q-2.2,-1.2 -3.5,0.2" stroke="#b5d58a" stroke-width="1" fill="none"/><path d="M436.3,604.9 q2.2,-1.2 3.5,0.2" stroke="#b5d58a" stroke-width="1" fill="none"/><path d="M436.3,603.1 q-2.2,-1.2 -3.5,0.2" stroke="#b5d58a" stroke-width="1" fill="none"/><path d="M436.3,601.3 q2.2,-1.2 3.5,0.2" stroke="#b5d58a" stroke-width="1" fill="none"/><path d="M436.3,599.5 q-2.2,-1.2 -3.5,0.2" stroke="#b5d58a" stroke-width="1" fill="none"/><circle cx="437.78" cy="598.97" r="0.8" fill="#d8ecb0"/><circle cx="436.57" cy="605.22" r="0.8" fill="#d8ecb0"/><circle cx="436.31" cy="608.26" r="0.8" fill="#d8ecb0"/><circle cx="437.39" cy="599.67" r="0.8" fill="#d8ecb0"/><circle cx="438.79" cy="599.77" r="0.8" fill="#d8ecb0"/><circle cx="437.18" cy="600.05" r="0.8" fill="#d8ecb0"/>
<path d="M443.8,616.9 Q442.8,607.4 441.8,597.9" stroke="#8aa86a" stroke-width="0.5" fill="none"/><path d="M443.8,616.9 Q443.8,607.4 443.8,597.9" stroke="#8aa86a" stroke-width="0.5" fill="none"/><path d="M443.8,616.9 Q444.8,607.4 445.8,597.9" stroke="#8aa86a" stroke-width="0.5" fill="none"/><path d="M443.8,613.9 q-2.2,-1.2 -3.5,0.2" stroke="#b5d58a" stroke-width="1" fill="none"/><path d="M443.8,612.1 q2.2,-1.2 3.5,0.2" stroke="#b5d58a" stroke-width="1" fill="none"/><path d="M443.8,610.3 q-2.2,-1.2 -3.5,0.2" stroke="#b5d58a" stroke-width="1" fill="none"/><path d="M443.8,608.5 q2.2,-1.2 3.5,0.2" stroke="#b5d58a" stroke-width="1" fill="none"/><path d="M443.8,606.7 q-2.2,-1.2 -3.5,0.2" stroke="#b5d58a" stroke-width="1" fill="none"/><path d="M443.8,604.9 q2.2,-1.2 3.5,0.2" stroke="#b5d58a" stroke-width="1" fill="none"/><path d="M443.8,603.1 q-2.2,-1.2 -3.5,0.2" stroke="#b5d58a" stroke-width="1" fill="none"/><path d="M443.8,601.3 q2.2,-1.2 3.5,0.2" stroke="#b5d58a" stroke-width="1" fill="none"/><path d="M443.8,599.5 q-2.2,-1.2 -3.5,0.2" stroke="#b5d58a" stroke-width="1" fill="none"/><circle cx="442.55" cy="602.72" r="0.8" fill="#d8ecb0"/><circle cx="441.78" cy="598.6" r="0.8" fill="#d8ecb0"/><circle cx="443.87" cy="606.96" r="0.8" fill="#d8ecb0"/><circle cx="446.71" cy="602.08" r="0.8" fill="#d8ecb0"/><circle cx="442.07" cy="599.6" r="0.8" fill="#d8ecb0"/><circle cx="444.56" cy="602.05" r="0.8" fill="#d8ecb0"/>
<path d="M451.3,616.9 Q450.3,607.4 449.3,597.9" stroke="#8aa86a" stroke-width="0.5" fill="none"/><path d="M451.3,616.9 Q451.3,607.4 451.3,597.9" stroke="#8aa86a" stroke-width="0.5" fill="none"/><path d="M451.3,616.9 Q452.3,607.4 453.3,597.9" stroke="#8aa86a" stroke-width="0.5" fill="none"/><path d="M451.3,613.9 q-2.2,-1.2 -3.5,0.2" stroke="#b5d58a" stroke-width="1" fill="none"/><path d="M451.3,612.1 q2.2,-1.2 3.5,0.2" stroke="#b5d58a" stroke-width="1" fill="none"/><path d="M451.3,610.3 q-2.2,-1.2 -3.5,0.2" stroke="#b5d58a" stroke-width="1" fill="none"/><path d="M451.3,608.5 q2.2,-1.2 3.5,0.2" stroke="#b5d58a" stroke-width="1" fill="none"/><path d="M451.3,606.7 q-2.2,-1.2 -3.5,0.2" stroke="#b5d58a" stroke-width="1" fill="none"/><path d="M451.3,604.9 q2.2,-1.2 3.5,0.2" stroke="#b5d58a" stroke-width="1" fill="none"/><path d="M451.3,603.1 q-2.2,-1.2 -3.5,0.2" stroke="#b5d58a" stroke-width="1" fill="none"/><path d="M451.3,601.3 q2.2,-1.2 3.5,0.2" stroke="#b5d58a" stroke-width="1" fill="none"/><path d="M451.3,599.5 q-2.2,-1.2 -3.5,0.2" stroke="#b5d58a" stroke-width="1" fill="none"/><circle cx="453.57" cy="605.43" r="0.8" fill="#d8ecb0"/><circle cx="449.97" cy="602.63" r="0.8" fill="#d8ecb0"/><circle cx="449.52" cy="601.21" r="0.8" fill="#d8ecb0"/><circle cx="451.16" cy="606.7" r="0.8" fill="#d8ecb0"/><circle cx="449.05" cy="607.12" r="0.8" fill="#d8ecb0"/><circle cx="451.76" cy="598.84" r="0.8" fill="#d8ecb0"/>
<path d="M468.3,616.9 L468.3,606.4 M466.3,616.9 L467.3,609.4 M470.3,616.9 L469.3,609.4" stroke="#4f8a2a" stroke-width="0.6"/><ellipse cx="468.3" cy="606.4" rx="7.7" ry="8.36" fill="#64ad3a"/><circle cx="475.11" cy="606.84" r="2.39" fill="#62ac38"/><circle cx="474.68" cy="609.03" r="2.36" fill="#62ac38"/><circle cx="473.67" cy="610.97" r="2.06" fill="#62ac38"/><circle cx="463.49" cy="611.65" r="2.2" fill="#62ac38"/><circle cx="461.76" cy="608.52" r="2.42" fill="#62ac38"/><circle cx="461.48" cy="606.52" r="2.43" fill="#62ac38"/><circle cx="461.7" cy="604.52" r="2.43" fill="#62ac38"/><circle cx="463.23" cy="601.43" r="2.37" fill="#62ac38"/><circle cx="464.83" cy="600.02" r="2.21" fill="#62ac38"/><circle cx="467.55" cy="599.03" r="1.96" fill="#62ac38"/><circle cx="469.06" cy="599.04" r="2.33" fill="#62ac38"/><circle cx="472.15" cy="600.28" r="1.96" fill="#62ac38"/><circle cx="473.57" cy="601.69" r="2.16" fill="#62ac38"/><circle cx="474.62" cy="603.6" r="2.39" fill="#62ac38"/><circle cx="465.64" cy="609.38" r="1.53" fill="#98d258"/><circle cx="463.97" cy="611.63" r="1.32" fill="#98d258"/><circle cx="463.42" cy="600.11" r="1.48" fill="#98d258"/><circle cx="462.5" cy="601.67" r="1.95" fill="#98d258"/><circle cx="465.29" cy="608.58" r="1.37" fill="#98d258"/><circle cx="462.34" cy="599.84" r="1.3" fill="#98d258"/><circle cx="473.86" cy="605.39" r="1.4" fill="#98d258"/><circle cx="462.75" cy="607.67" r="1.45" fill="#98d258"/><circle cx="464.38" cy="605.15" r="1.77" fill="#98d258"/><circle cx="466.36" cy="606.68" r="1.35" fill="#98d258"/><circle cx="469.02" cy="600.27" r="1.94" fill="#98d258"/><circle cx="473.55" cy="606.86" r="1.58" fill="#98d258"/><circle cx="466.86" cy="609.47" r="0.5" fill="#e4f5c8"/><circle cx="469.4" cy="608.91" r="0.5" fill="#e4f5c8"/><circle cx="467.5" cy="604.5" r="0.5" fill="#e4f5c8"/><circle cx="471.42" cy="601.38" r="0.5" fill="#e4f5c8"/><circle cx="466.09" cy="602.23" r="0.5" fill="#e4f5c8"/><circle cx="464.18" cy="611.1" r="0.5" fill="#e4f5c8"/><circle cx="465.67" cy="609.3" r="0.5" fill="#e4f5c8"/><circle cx="461.98" cy="611.97" r="0.5" fill="#e4f5c8"/><circle cx="467.86" cy="609.4" r="0.5" fill="#e4f5c8"/><circle cx="462.79" cy="607.4" r="0.5" fill="#e4f5c8"/><circle cx="472.67" cy="602.92" r="0.5" fill="#e4f5c8"/><circle cx="462.6" cy="604.26" r="0.5" fill="#e4f5c8"/><circle cx="472.07" cy="609.66" r="0.5" fill="#e4f5c8"/><circle cx="462.2" cy="603.42" r="0.5" fill="#e4f5c8"/><circle cx="474.12" cy="602.91" r="0.5" fill="#e4f5c8"/><circle cx="462.51" cy="611.17" r="0.5" fill="#e4f5c8"/>
<path d="M482.8,616.9 L482.8,606.4 M480.8,616.9 L481.8,609.4 M484.8,616.9 L483.8,609.4" stroke="#4f8a2a" stroke-width="0.6"/><ellipse cx="482.8" cy="606.4" rx="7.7" ry="8.36" fill="#64ad3a"/><circle cx="489.61" cy="606.87" r="2.11" fill="#62ac38"/><circle cx="489.12" cy="609.21" r="2.33" fill="#62ac38"/><circle cx="487.72" cy="611.53" r="1.93" fill="#62ac38"/><circle cx="477.67" cy="611.28" r="2.49" fill="#62ac38"/><circle cx="476.19" cy="608.24" r="2.36" fill="#62ac38"/><circle cx="475.98" cy="606.39" r="2.43" fill="#62ac38"/><circle cx="476.58" cy="603.35" r="2.15" fill="#62ac38"/><circle cx="477.26" cy="602.07" r="2.23" fill="#62ac38"/><circle cx="478.97" cy="600.27" r="2.03" fill="#62ac38"/><circle cx="481.71" cy="599.09" r="2.15" fill="#62ac38"/><circle cx="484.18" cy="599.14" r="2.37" fill="#62ac38"/><circle cx="486.73" cy="600.34" r="2.02" fill="#62ac38"/><circle cx="488.4" cy="602.17" r="2.03" fill="#62ac38"/><circle cx="489.14" cy="603.66" r="2.33" fill="#62ac38"/><circle cx="488.63" cy="606.01" r="1.84" fill="#98d258"/><circle cx="486.79" cy="603.64" r="1.69" fill="#98d258"/><circle cx="488.17" cy="600" r="1.3" fill="#98d258"/><circle cx="487.36" cy="606.74" r="1.54" fill="#98d258"/><circle cx="486.39" cy="605.23" r="1.31" fill="#98d258"/><circle cx="480.96" cy="609.14" r="1.71" fill="#98d258"/><circle cx="482.74" cy="599.89" r="2" fill="#98d258"/><circle cx="477.64" cy="603.19" r="1.83" fill="#98d258"/><circle cx="488.16" cy="608.25" r="1.51" fill="#98d258"/><circle cx="485.82" cy="608" r="1.66" fill="#98d258"/><circle cx="486.3" cy="606.58" r="1.63" fill="#98d258"/><circle cx="479.84" cy="609.35" r="1.29" fill="#98d258"/><circle cx="477.13" cy="607.77" r="0.5" fill="#e4f5c8"/><circle cx="476.45" cy="611.27" r="0.5" fill="#e4f5c8"/><circle cx="478.5" cy="605.46" r="0.5" fill="#e4f5c8"/><circle cx="479.44" cy="605.67" r="0.5" fill="#e4f5c8"/><circle cx="484.43" cy="601.6" r="0.5" fill="#e4f5c8"/><circle cx="483.41" cy="612.66" r="0.5" fill="#e4f5c8"/><circle cx="477.89" cy="601.91" r="0.5" fill="#e4f5c8"/><circle cx="478.53" cy="600.32" r="0.5" fill="#e4f5c8"/><circle cx="475.97" cy="612.46" r="0.5" fill="#e4f5c8"/><circle cx="489.28" cy="599.36" r="0.5" fill="#e4f5c8"/><circle cx="487.47" cy="607.05" r="0.5" fill="#e4f5c8"/><circle cx="478.71" cy="611.38" r="0.5" fill="#e4f5c8"/><circle cx="477.43" cy="607.92" r="0.5" fill="#e4f5c8"/><circle cx="485.21" cy="608.76" r="0.5" fill="#e4f5c8"/><circle cx="479.12" cy="600.93" r="0.5" fill="#e4f5c8"/><circle cx="484.63" cy="602.99" r="0.5" fill="#e4f5c8"/>
<text x="291" y="629.5" font-size="3.4" font-weight="bold" fill="#333" stroke="#333" stroke-width="0.15">Crops</text>
<path d="M309,647.8 Q308.04,643.3 305.8,638.8" stroke="#5f8262" stroke-width="0.9" fill="none"/><path d="M309,647.8 Q308.46,641.8 307.2,635.8" stroke="#4f7154" stroke-width="0.9" fill="none"/><path d="M309,647.8 Q309,641.3 309,634.8" stroke="#44664a" stroke-width="0.9" fill="none"/><path d="M309,647.8 Q309.54,641.8 310.8,635.8" stroke="#4f7154" stroke-width="0.9" fill="none"/><path d="M309,647.8 Q309.96,643.3 312.2,638.8" stroke="#5f8262" stroke-width="0.9" fill="none"/><path d="M309,647.8 Q308.25,644.8 306.5,641.8" stroke="#7a9a7a" stroke-width="0.9" fill="none"/><path d="M309,647.8 Q309.75,644.8 311.5,641.8" stroke="#7a9a7a" stroke-width="0.9" fill="none"/><line x1="309" y1="647.8" x2="309" y2="632.8" stroke="#8a9a70" stroke-width="0.5"/><ellipse cx="309" cy="631" rx="0.9" ry="2.6" fill="#a08c5c"/>
<text x="309" y="651.8" font-size="3.5" text-anchor="middle" font-style="italic" fill="#333" stroke="#333" stroke-width="0.16">Triticum aestivum L.</text>
<path d="M348.3,647.8 L348.3,639.8 M346.3,647.8 L347.3,642.8 M350.3,647.8 L349.3,642.8" stroke="#4f8a2a" stroke-width="0.6"/><ellipse cx="348.3" cy="639.8" rx="6.16" ry="6.16" fill="#64ad3a"/><circle cx="353.76" cy="639.92" r="2.32" fill="#62ac38"/><circle cx="353.58" cy="641.18" r="2.31" fill="#62ac38"/><circle cx="352.13" cy="643.69" r="2.08" fill="#62ac38"/><circle cx="344.41" cy="643.63" r="2.15" fill="#62ac38"/><circle cx="343.19" cy="641.72" r="2.2" fill="#62ac38"/><circle cx="342.85" cy="640.12" r="2.45" fill="#62ac38"/><circle cx="343.18" cy="637.9" r="2.07" fill="#62ac38"/><circle cx="344.3" cy="636.09" r="1.83" fill="#62ac38"/><circle cx="345.98" cy="634.86" r="2.38" fill="#62ac38"/><circle cx="347.09" cy="634.48" r="2.12" fill="#62ac38"/><circle cx="348.75" cy="634.36" r="2.35" fill="#62ac38"/><circle cx="351.46" cy="635.35" r="2.22" fill="#62ac38"/><circle cx="352.8" cy="636.71" r="2.13" fill="#62ac38"/><circle cx="353.55" cy="638.32" r="2.39" fill="#62ac38"/><circle cx="352.47" cy="639.08" r="1.61" fill="#98d258"/><circle cx="343.74" cy="643.56" r="1.27" fill="#98d258"/><circle cx="349.09" cy="640.38" r="1.34" fill="#98d258"/><circle cx="346.83" cy="637.63" r="1.21" fill="#98d258"/><circle cx="347.32" cy="638.37" r="1.77" fill="#98d258"/><circle cx="350.26" cy="643.53" r="1.9" fill="#98d258"/><circle cx="345.91" cy="640.46" r="1.75" fill="#98d258"/><circle cx="351.13" cy="636.18" r="1.47" fill="#98d258"/><circle cx="349.42" cy="637.77" r="1.93" fill="#98d258"/><circle cx="347.46" cy="641.34" r="1.25" fill="#98d258"/><circle cx="352.2" cy="643.75" r="1.97" fill="#98d258"/><circle cx="346.74" cy="642.48" r="1.99" fill="#98d258"/><circle cx="343.9" cy="634.98" r="0.5" fill="#e4f5c8"/><circle cx="350.14" cy="644.58" r="0.5" fill="#e4f5c8"/><circle cx="343.04" cy="643" r="0.5" fill="#e4f5c8"/><circle cx="350.09" cy="639.19" r="0.5" fill="#e4f5c8"/><circle cx="344.3" cy="639.52" r="0.5" fill="#e4f5c8"/><circle cx="348.28" cy="636.31" r="0.5" fill="#e4f5c8"/><circle cx="352.78" cy="641.97" r="0.5" fill="#e4f5c8"/><circle cx="344.56" cy="640.73" r="0.5" fill="#e4f5c8"/><circle cx="349.4" cy="644.05" r="0.5" fill="#e4f5c8"/><circle cx="353.69" cy="643.54" r="0.5" fill="#e4f5c8"/><circle cx="343.31" cy="638.62" r="0.5" fill="#e4f5c8"/><circle cx="344.42" cy="642.08" r="0.5" fill="#e4f5c8"/><circle cx="343.62" cy="642.9" r="0.5" fill="#e4f5c8"/><circle cx="349.6" cy="640.94" r="0.5" fill="#e4f5c8"/><circle cx="353.28" cy="643.33" r="0.5" fill="#e4f5c8"/><circle cx="350.9" cy="640.79" r="0.5" fill="#e4f5c8"/>
<text x="348.3" y="651.8" font-size="3.5" text-anchor="middle" font-style="italic" fill="#333" stroke="#333" stroke-width="0.16">Glycine max L.</text>
<path d="M387.7,647.8 Q386.7,640.3 385.7,632.8" stroke="#8aa86a" stroke-width="0.5" fill="none"/><path d="M387.7,647.8 Q387.7,640.3 387.7,632.8" stroke="#8aa86a" stroke-width="0.5" fill="none"/><path d="M387.7,647.8 Q388.7,640.3 389.7,632.8" stroke="#8aa86a" stroke-width="0.5" fill="none"/><path d="M387.7,644.8 q-2.2,-1.2 -3.5,0.2" stroke="#b5d58a" stroke-width="1" fill="none"/><path d="M387.7,643 q2.2,-1.2 3.5,0.2" stroke="#b5d58a" stroke-width="1" fill="none"/><path d="M387.7,641.2 q-2.2,-1.2 -3.5,0.2" stroke="#b5d58a" stroke-width="1" fill="none"/><path d="M387.7,639.4 q2.2,-1.2 3.5,0.2" stroke="#b5d58a" stroke-width="1" fill="none"/><path d="M387.7,637.6 q-2.2,-1.2 -3.5,0.2" stroke="#b5d58a" stroke-width="1" fill="none"/><path d="M387.7,635.8 q2.2,-1.2 3.5,0.2" stroke="#b5d58a" stroke-width="1" fill="none"/><path d="M387.7,634 q-2.2,-1.2 -3.5,0.2" stroke="#b5d58a" stroke-width="1" fill="none"/><path d="M387.7,632.2 q2.2,-1.2 3.5,0.2" stroke="#b5d58a" stroke-width="1" fill="none"/><path d="M387.7,630.4 q-2.2,-1.2 -3.5,0.2" stroke="#b5d58a" stroke-width="1" fill="none"/><circle cx="387.98" cy="636.17" r="0.8" fill="#d8ecb0"/><circle cx="384.87" cy="638.43" r="0.8" fill="#d8ecb0"/><circle cx="388.83" cy="636.9" r="0.8" fill="#d8ecb0"/><circle cx="387.41" cy="633.88" r="0.8" fill="#d8ecb0"/><circle cx="387.02" cy="634.7" r="0.8" fill="#d8ecb0"/><circle cx="389.52" cy="633.98" r="0.8" fill="#d8ecb0"/>
<text x="387.7" y="651.8" font-size="3.5" text-anchor="middle" font-style="italic" fill="#333" stroke="#333" stroke-width="0.16">Avena strigosa</text>
<path d="M429,647.8 L429,634.8" stroke="#6a9a50" stroke-width="0.6"/><circle cx="426.35" cy="638.33" r="1.73" fill="#86c25a"/><circle cx="429.87" cy="643.02" r="1.53" fill="#86c25a"/><circle cx="426.46" cy="636.74" r="1.95" fill="#86c25a"/><circle cx="427.83" cy="638.35" r="1.71" fill="#86c25a"/><circle cx="429.37" cy="641.4" r="1.64" fill="#86c25a"/><circle cx="433.58" cy="635.84" r="1.48" fill="#86c25a"/><circle cx="425.19" cy="636.02" r="1.71" fill="#86c25a"/><circle cx="430.4" cy="638.37" r="1.82" fill="#86c25a"/><circle cx="433.06" cy="642.42" r="2" fill="#86c25a"/><circle cx="426.6" cy="643.12" r="1.61" fill="#86c25a"/><circle cx="429.12" cy="635.59" r="1.1" fill="#8a5aa0"/><circle cx="429.64" cy="634.92" r="1.1" fill="#8a5aa0"/><circle cx="426.51" cy="637.28" r="1.1" fill="#8a5aa0"/><circle cx="429.59" cy="636.44" r="1.1" fill="#8a5aa0"/>
<text x="429" y="651.8" font-size="3.5" text-anchor="middle" font-style="italic" fill="#333" stroke="#333" stroke-width="0.16">Vicia sativa Roth</text>
<path d="M463.3,647.8 L463.3,628.8" stroke="#3f8a32" stroke-width="1"/><path d="M463.3,643.8 q-4,-3.6 -8,2.8" stroke="#449a36" stroke-width="1.2" fill="none"/><path d="M463.3,641.8 q4,-3.6 8,2.8" stroke="#449a36" stroke-width="1.2" fill="none"/><path d="M463.3,638.8 q-3.5,-3.15 -7,2.45" stroke="#449a36" stroke-width="1.2" fill="none"/><path d="M463.3,636.8 q3.5,-3.15 7,2.45" stroke="#449a36" stroke-width="1.2" fill="none"/><path d="M463.3,633.8 q-3,-2.7 -6,2.1" stroke="#449a36" stroke-width="1.2" fill="none"/><path d="M463.3,631.8 q3,-2.7 6,2.1" stroke="#449a36" stroke-width="1.2" fill="none"/><path d="M463.3,628.8 q-2,-1.8 -4,1.4" stroke="#449a36" stroke-width="1.2" fill="none"/><path d="M463.3,628.8 q2,-1.8 4,1.4" stroke="#449a36" stroke-width="1.2" fill="none"/>
<text x="463.3" y="651.8" font-size="3.5" text-anchor="middle" font-style="italic" fill="#333" stroke="#333" stroke-width="0.16">Zea mays L.</text>
<text x="387.7" y="656.6" font-size="3.5" text-anchor="middle" fill="#333" stroke="#333" stroke-width="0.16">Schreb</text>
<text x="578" y="470.5" font-size="5.4" text-anchor="end" font-weight="bold" fill="#222" stroke="#222" stroke-width="0.24">Soil layers (cm):</text>
<rect x="585.2" y="464.2" width="25.2" height="9" fill="#fff" stroke="#777" stroke-width="0.6"/>
<rect x="585.2" y="464.2" width="25.2" height="9" fill="url(#dl)"/>
<text x="612.9" y="470.5" font-size="5.4" fill="#333" stroke="#333" stroke-width="0.24">0–10</text>
<rect x="633.8" y="464.2" width="25.9" height="9" fill="#fff" stroke="#777" stroke-width="0.6"/>
<rect x="633.8" y="464.2" width="25.9" height="9" fill="url(#dl2)"/>
<text x="662.2" y="470.5" font-size="5.4" fill="#333" stroke="#333" stroke-width="0.24">10–20</text>
<rect x="682.6" y="464.2" width="25.8" height="9" fill="#fff" stroke="#777" stroke-width="0.6"/>
<text x="710.9" y="470.5" font-size="5.4" fill="#333" stroke="#333" stroke-width="0.24">20–30</text>
<rect x="506.3" y="478" width="78.5" height="150.7" fill="#fff" stroke="#9a9a9a" stroke-width="0.7"/>
<text x="503.5" y="624.1" font-size="5" text-anchor="end" fill="#333" stroke="#333" stroke-width="0.22">0</text>
<text x="503.5" y="601.1" font-size="5" text-anchor="end" fill="#333" stroke="#333" stroke-width="0.22">1</text>
<text x="503.5" y="578.1" font-size="5" text-anchor="end" fill="#333" stroke="#333" stroke-width="0.22">2</text>
<text x="503.5" y="555.1" font-size="5" text-anchor="end" fill="#333" stroke="#333" stroke-width="0.22">3</text>
<text x="503.5" y="532.1" font-size="5" text-anchor="end" fill="#333" stroke="#333" stroke-width="0.22">4</text>
<text x="503.5" y="509.1" font-size="5" text-anchor="end" fill="#333" stroke="#333" stroke-width="0.22">5</text>
<text x="503.5" y="486.1" font-size="5" text-anchor="end" fill="#333" stroke="#333" stroke-width="0.22">6</text>
<text x="500" y="554" font-size="5.2" text-anchor="middle" font-weight="bold" fill="#222" transform="rotate(-90 500 554)" stroke="#222" stroke-width="0.23">N stock (Mg ha⁻¹)</text>
<text x="508" y="484" font-size="5" font-weight="bold" fill="#222" stroke="#222" stroke-width="0.22">(a)</text>
<rect x="508.3" y="525.7" width="13.6" height="96.6" fill="#fb6e3c" stroke="#3a3a3a" stroke-width="0.5"/>
<rect x="508.6" y="586.65" width="13" height="35.35" fill="url(#dots)" opacity="0.5"/>
<rect x="508.6" y="553.3" width="13" height="33.35" fill="url(#dots2)" opacity="0.45"/>
<text x="515.1" y="541" font-size="4.75" text-anchor="middle" fill="#fff" fill-opacity="0.85" stroke="#fff" stroke-width="0.21">ns</text>
<text x="515.1" y="570.9" font-size="4.75" text-anchor="middle" fill="#fff" fill-opacity="0.85" stroke="#fff" stroke-width="0.21">ns</text>
<line x1="508.3" y1="553.3" x2="521.9" y2="553.3" stroke="#2a2a2a" stroke-width="0.6"/>
<line x1="508.3" y1="586.65" x2="521.9" y2="586.65" stroke="#2a2a2a" stroke-width="0.6"/>
<line x1="515.1" y1="523.7" x2="515.1" y2="525.7" stroke="#333" stroke-width="0.5"/><line x1="513.9" y1="523.7" x2="516.3" y2="523.7" stroke="#333" stroke-width="0.5"/>
<text x="515.1" y="522.3" font-size="5" text-anchor="middle" fill="#333" stroke="#333" stroke-width="0.22">B</text>
<text x="515.1" y="634.5" font-size="5.4" text-anchor="middle" font-weight="bold" fill="#222" stroke="#222" stroke-width="0.24">CT</text>
<rect x="524.5" y="516.96" width="13.2" height="105.34" fill="#f2e408" stroke="#3a3a3a" stroke-width="0.5"/>
<rect x="524.8" y="580.9" width="12.6" height="41.1" fill="url(#dots)" opacity="0.5"/>
<rect x="524.8" y="546.4" width="12.6" height="34.5" fill="url(#dots2)" opacity="0.45"/>
<text x="531.1" y="600.8" font-size="4.75" text-anchor="middle" fill="#fff" fill-opacity="0.85" stroke="#fff" stroke-width="0.21">bc</text>
<line x1="524.5" y1="546.4" x2="537.7" y2="546.4" stroke="#2a2a2a" stroke-width="0.6"/>
<line x1="524.5" y1="580.9" x2="537.7" y2="580.9" stroke="#2a2a2a" stroke-width="0.6"/>
<line x1="531.1" y1="514.96" x2="531.1" y2="516.96" stroke="#333" stroke-width="0.5"/><line x1="529.9" y1="514.96" x2="532.3" y2="514.96" stroke="#333" stroke-width="0.5"/>
<text x="531.1" y="513.56" font-size="5" text-anchor="middle" fill="#333" stroke="#333" stroke-width="0.22">AB</text>
<text x="531.1" y="634.5" font-size="5.4" text-anchor="middle" font-weight="bold" fill="#222" stroke="#222" stroke-width="0.24">RT</text>
<rect x="539.7" y="515.81" width="13.7" height="106.49" fill="#86d6ab" stroke="#3a3a3a" stroke-width="0.5"/>
<rect x="540" y="547.55" width="13.1" height="74.45" fill="url(#dots)" opacity="0.5"/>
<text x="546.55" y="600.8" font-size="4.75" text-anchor="middle" fill="#fff" fill-opacity="0.85" stroke="#fff" stroke-width="0.21">ab</text>
<line x1="539.7" y1="547.55" x2="553.4" y2="547.55" stroke="#2a2a2a" stroke-width="0.6"/>
<line x1="546.55" y1="513.81" x2="546.55" y2="515.81" stroke="#333" stroke-width="0.5"/><line x1="545.35" y1="513.81" x2="547.75" y2="513.81" stroke="#333" stroke-width="0.5"/>
<text x="546.55" y="512.41" font-size="5" text-anchor="middle" fill="#333" stroke="#333" stroke-width="0.22">AB</text>
<text x="546.55" y="634.5" font-size="5.4" text-anchor="middle" font-weight="bold" fill="#222" stroke="#222" stroke-width="0.24">NT1</text>
<rect x="554.6" y="510.06" width="13.6" height="112.24" fill="#2f9866" stroke="#3a3a3a" stroke-width="0.5"/>
<rect x="554.9" y="579.75" width="13" height="42.25" fill="url(#dots)" opacity="0.5"/>
<rect x="554.9" y="541.8" width="13" height="37.95" fill="url(#dots2)" opacity="0.45"/>
<text x="561.4" y="600.8" font-size="4.75" text-anchor="middle" fill="#fff" fill-opacity="0.85" stroke="#fff" stroke-width="0.21">ab</text>
<line x1="554.6" y1="541.8" x2="568.2" y2="541.8" stroke="#2a2a2a" stroke-width="0.6"/>
<line x1="554.6" y1="579.75" x2="568.2" y2="579.75" stroke="#2a2a2a" stroke-width="0.6"/>
<line x1="561.4" y1="508.06" x2="561.4" y2="510.06" stroke="#333" stroke-width="0.5"/><line x1="560.2" y1="508.06" x2="562.6" y2="508.06" stroke="#333" stroke-width="0.5"/>
<text x="561.4" y="506.66" font-size="5" text-anchor="middle" fill="#333" stroke="#333" stroke-width="0.22">A</text>
<text x="561.4" y="634.5" font-size="5.4" text-anchor="middle" font-weight="bold" fill="#222" stroke="#222" stroke-width="0.24">NT2</text>
<rect x="569.5" y="509.14" width="13.7" height="113.16" fill="#1f6548" stroke="#3a3a3a" stroke-width="0.5"/>
<rect x="569.8" y="572.85" width="13.1" height="49.15" fill="url(#dots)" opacity="0.5"/>
<text x="576.35" y="600.8" font-size="4.75" text-anchor="middle" fill="#fff" fill-opacity="0.85" stroke="#fff" stroke-width="0.21">a</text>
<line x1="569.5" y1="572.85" x2="583.2" y2="572.85" stroke="#2a2a2a" stroke-width="0.6"/>
<line x1="576.35" y1="507.14" x2="576.35" y2="509.14" stroke="#333" stroke-width="0.5"/><line x1="575.15" y1="507.14" x2="577.55" y2="507.14" stroke="#333" stroke-width="0.5"/>
<text x="576.35" y="505.74" font-size="5" text-anchor="middle" fill="#333" stroke="#333" stroke-width="0.22">A</text>
<text x="576.35" y="634.5" font-size="5.4" text-anchor="middle" font-weight="bold" fill="#222" stroke="#222" stroke-width="0.24">NT3</text>
<rect x="603.5" y="478" width="78.1" height="150.7" fill="#fff" stroke="#9a9a9a" stroke-width="0.7"/>
<text x="601" y="624.1" font-size="5" text-anchor="end" fill="#333" stroke="#333" stroke-width="0.22">0</text>
<text x="601" y="596.7" font-size="5" text-anchor="end" fill="#333" stroke="#333" stroke-width="0.22">100</text>
<text x="601" y="569.3" font-size="5" text-anchor="end" fill="#333" stroke="#333" stroke-width="0.22">200</text>
<text x="601" y="541.9" font-size="5" text-anchor="end" fill="#333" stroke="#333" stroke-width="0.22">300</text>
<text x="601" y="514.5" font-size="5" text-anchor="end" fill="#333" stroke="#333" stroke-width="0.22">400</text>
<text x="601" y="487.1" font-size="5" text-anchor="end" fill="#333" stroke="#333" stroke-width="0.22">500</text>
<text x="592" y="552" font-size="4.7" text-anchor="middle" font-weight="bold" fill="#222" transform="rotate(-90 592 552)" stroke="#222" stroke-width="0.21">P stock (kg ha⁻¹)</text>
<text x="605.5" y="484" font-size="5" font-weight="bold" fill="#222" stroke="#222" stroke-width="0.22">(b)</text>
<rect x="605.1" y="562.02" width="14.1" height="60.28" fill="#fb6e3c" stroke="#3a3a3a" stroke-width="0.5"/>
<rect x="605.4" y="594.9" width="13.5" height="27.1" fill="url(#dots)" opacity="0.5"/>
<rect x="605.4" y="579.83" width="13.5" height="15.07" fill="url(#dots2)" opacity="0.45"/>
<text x="612.15" y="571.74" font-size="4.75" text-anchor="middle" fill="#fff" fill-opacity="0.85" stroke="#fff" stroke-width="0.21">ab</text>
<text x="612.15" y="588.73" font-size="4.75" text-anchor="middle" fill="#fff" fill-opacity="0.85" stroke="#fff" stroke-width="0.21">b</text>
<text x="612.15" y="601.88" font-size="4.75" text-anchor="middle" fill="#fff" fill-opacity="0.85" stroke="#fff" stroke-width="0.21">c</text>
<line x1="605.1" y1="579.83" x2="619.2" y2="579.83" stroke="#2a2a2a" stroke-width="0.6"/>
<line x1="605.1" y1="594.9" x2="619.2" y2="594.9" stroke="#2a2a2a" stroke-width="0.6"/>
<line x1="612.15" y1="560.02" x2="612.15" y2="562.02" stroke="#333" stroke-width="0.5"/><line x1="610.95" y1="560.02" x2="613.35" y2="560.02" stroke="#333" stroke-width="0.5"/>
<text x="612.15" y="558.62" font-size="5" text-anchor="middle" fill="#333" stroke="#333" stroke-width="0.22">C</text>
<text x="612.15" y="634.5" font-size="5.4" text-anchor="middle" font-weight="bold" fill="#222" stroke="#222" stroke-width="0.24">CT</text>
<rect x="620.5" y="547.77" width="13.5" height="74.53" fill="#f2e408" stroke="#3a3a3a" stroke-width="0.5"/>
<rect x="620.8" y="566.68" width="12.9" height="55.32" fill="url(#dots)" opacity="0.5"/>
<text x="627.25" y="579.96" font-size="4.75" text-anchor="middle" fill="#fff" fill-opacity="0.85" stroke="#fff" stroke-width="0.21">bc</text>
<text x="627.25" y="601.88" font-size="4.75" text-anchor="middle" fill="#fff" fill-opacity="0.85" stroke="#fff" stroke-width="0.21">bc</text>
<line x1="620.5" y1="566.68" x2="634" y2="566.68" stroke="#2a2a2a" stroke-width="0.6"/>
<line x1="627.25" y1="545.77" x2="627.25" y2="547.77" stroke="#333" stroke-width="0.5"/><line x1="626.05" y1="545.77" x2="628.45" y2="545.77" stroke="#333" stroke-width="0.5"/>
<text x="627.25" y="544.37" font-size="5" text-anchor="middle" fill="#333" stroke="#333" stroke-width="0.22">B</text>
<text x="627.25" y="634.5" font-size="5.4" text-anchor="middle" font-weight="bold" fill="#222" stroke="#222" stroke-width="0.24">RT</text>
<rect x="635.8" y="535.99" width="13.9" height="86.31" fill="#86d6ab" stroke="#3a3a3a" stroke-width="0.5"/>
<rect x="636.1" y="582.57" width="13.3" height="39.43" fill="url(#dots)" opacity="0.5"/>
<rect x="636.1" y="557.36" width="13.3" height="25.21" fill="url(#dots2)" opacity="0.45"/>
<text x="642.75" y="570.37" font-size="4.75" text-anchor="middle" fill="#fff" fill-opacity="0.85" stroke="#fff" stroke-width="0.21">a</text>
<text x="642.75" y="601.88" font-size="4.75" text-anchor="middle" fill="#fff" fill-opacity="0.85" stroke="#fff" stroke-width="0.21">ab</text>
<line x1="635.8" y1="557.36" x2="649.7" y2="557.36" stroke="#2a2a2a" stroke-width="0.6"/>
<line x1="635.8" y1="582.57" x2="649.7" y2="582.57" stroke="#2a2a2a" stroke-width="0.6"/>
<line x1="642.75" y1="533.99" x2="642.75" y2="535.99" stroke="#333" stroke-width="0.5"/><line x1="641.55" y1="533.99" x2="643.95" y2="533.99" stroke="#333" stroke-width="0.5"/>
<text x="642.75" y="532.59" font-size="5" text-anchor="middle" fill="#333" stroke="#333" stroke-width="0.22">AB</text>
<text x="642.75" y="634.5" font-size="5.4" text-anchor="middle" font-weight="bold" fill="#222" stroke="#222" stroke-width="0.24">NT1</text>
<rect x="651.2" y="523.11" width="13.8" height="99.19" fill="#2f9866" stroke="#3a3a3a" stroke-width="0.5"/>
<rect x="651.5" y="545.03" width="13.2" height="76.97" fill="url(#dots)" opacity="0.5"/>
<text x="658.1" y="559.41" font-size="4.75" text-anchor="middle" fill="#fff" fill-opacity="0.85" stroke="#fff" stroke-width="0.21">a</text>
<text x="658.1" y="601.88" font-size="4.75" text-anchor="middle" fill="#fff" fill-opacity="0.85" stroke="#fff" stroke-width="0.21">a</text>
<line x1="651.2" y1="545.03" x2="665" y2="545.03" stroke="#2a2a2a" stroke-width="0.6"/>
<line x1="658.1" y1="521.11" x2="658.1" y2="523.11" stroke="#333" stroke-width="0.5"/><line x1="656.9" y1="521.11" x2="659.3" y2="521.11" stroke="#333" stroke-width="0.5"/>
<text x="658.1" y="519.71" font-size="5" text-anchor="middle" fill="#333" stroke="#333" stroke-width="0.22">A</text>
<text x="658.1" y="634.5" font-size="5.4" text-anchor="middle" font-weight="bold" fill="#222" stroke="#222" stroke-width="0.24">NT2</text>
<rect x="666.2" y="523.11" width="13.8" height="99.19" fill="#1f6548" stroke="#3a3a3a" stroke-width="0.5"/>
<rect x="666.5" y="574.35" width="13.2" height="47.65" fill="url(#dots)" opacity="0.5"/>
<rect x="666.5" y="545.58" width="13.2" height="28.77" fill="url(#dots2)" opacity="0.45"/>
<text x="673.1" y="559.41" font-size="4.75" text-anchor="middle" fill="#fff" fill-opacity="0.85" stroke="#fff" stroke-width="0.21">a</text>
<text x="673.1" y="601.88" font-size="4.75" text-anchor="middle" fill="#fff" fill-opacity="0.85" stroke="#fff" stroke-width="0.21">a</text>
<line x1="666.2" y1="545.58" x2="680" y2="545.58" stroke="#2a2a2a" stroke-width="0.6"/>
<line x1="666.2" y1="574.35" x2="680" y2="574.35" stroke="#2a2a2a" stroke-width="0.6"/>
<line x1="673.1" y1="521.11" x2="673.1" y2="523.11" stroke="#333" stroke-width="0.5"/><line x1="671.9" y1="521.11" x2="674.3" y2="521.11" stroke="#333" stroke-width="0.5"/>
<text x="673.1" y="519.71" font-size="5" text-anchor="middle" fill="#333" stroke="#333" stroke-width="0.22">A</text>
<text x="673.1" y="634.5" font-size="5.4" text-anchor="middle" font-weight="bold" fill="#222" stroke="#222" stroke-width="0.24">NT3</text>
<rect x="698.7" y="478" width="79" height="150.7" fill="#fff" stroke="#9a9a9a" stroke-width="0.7"/>
<text x="696.5" y="624.1" font-size="5" text-anchor="end" fill="#333" stroke="#333" stroke-width="0.22">0.0</text>
<text x="696.5" y="604.47" font-size="5" text-anchor="end" fill="#333" stroke="#333" stroke-width="0.22">0.5</text>
<text x="696.5" y="584.84" font-size="5" text-anchor="end" fill="#333" stroke="#333" stroke-width="0.22">1.0</text>
<text x="696.5" y="565.21" font-size="5" text-anchor="end" fill="#333" stroke="#333" stroke-width="0.22">1.5</text>
<text x="696.5" y="545.59" font-size="5" text-anchor="end" fill="#333" stroke="#333" stroke-width="0.22">2.0</text>
<text x="696.5" y="525.96" font-size="5" text-anchor="end" fill="#333" stroke="#333" stroke-width="0.22">2.5</text>
<text x="696.5" y="506.33" font-size="5" text-anchor="end" fill="#333" stroke="#333" stroke-width="0.22">3.0</text>
<text x="696.5" y="486.7" font-size="5" text-anchor="end" fill="#333" stroke="#333" stroke-width="0.22">3.5</text>
<text x="690" y="556" font-size="5.2" text-anchor="middle" font-weight="bold" fill="#222" transform="rotate(-90 690 556)" stroke="#222" stroke-width="0.23">K stock (Mg ha⁻¹)</text>
<text x="700.5" y="484" font-size="5" font-weight="bold" fill="#222" stroke="#222" stroke-width="0.22">(c)</text>
<rect x="701.4" y="546.53" width="13.2" height="75.77" fill="#fb6e3c" stroke="#3a3a3a" stroke-width="0.5"/>
<rect x="701.7" y="594.03" width="12.6" height="27.97" fill="url(#dots)" opacity="0.5"/>
<text x="708" y="559.03" font-size="4.75" text-anchor="middle" fill="#fff" fill-opacity="0.85" stroke="#fff" stroke-width="0.21">ns</text>
<text x="708" y="582.58" font-size="4.75" text-anchor="middle" fill="#fff" fill-opacity="0.85" stroke="#fff" stroke-width="0.21">ns</text>
<text x="708" y="612.02" font-size="4.75" text-anchor="middle" fill="#fff" fill-opacity="0.85" stroke="#fff" stroke-width="0.21">ns</text>
<line x1="701.4" y1="594.03" x2="714.6" y2="594.03" stroke="#2a2a2a" stroke-width="0.6"/>
<line x1="708" y1="544.53" x2="708" y2="546.53" stroke="#333" stroke-width="0.5"/><line x1="706.8" y1="544.53" x2="709.2" y2="544.53" stroke="#333" stroke-width="0.5"/>
<text x="708" y="543.13" font-size="5" text-anchor="middle" fill="#333" stroke="#333" stroke-width="0.22">C</text>
<text x="708" y="634.5" font-size="5.4" text-anchor="middle" font-weight="bold" fill="#222" stroke="#222" stroke-width="0.24">CT</text>
<rect x="716.6" y="542.61" width="12.8" height="79.69" fill="#f2e408" stroke="#3a3a3a" stroke-width="0.5"/>
<rect x="716.9" y="590.89" width="12.2" height="31.11" fill="url(#dots)" opacity="0.5"/>
<line x1="716.6" y1="590.89" x2="729.4" y2="590.89" stroke="#2a2a2a" stroke-width="0.6"/>
<line x1="723" y1="540.61" x2="723" y2="542.61" stroke="#333" stroke-width="0.5"/><line x1="721.8" y1="540.61" x2="724.2" y2="540.61" stroke="#333" stroke-width="0.5"/>
<text x="723" y="539.21" font-size="5" text-anchor="middle" fill="#333" stroke="#333" stroke-width="0.22">BC</text>
<text x="723" y="634.5" font-size="5.4" text-anchor="middle" font-weight="bold" fill="#222" stroke="#222" stroke-width="0.24">RT</text>
<rect x="731.4" y="534.36" width="13.6" height="87.94" fill="#86d6ab" stroke="#3a3a3a" stroke-width="0.5"/>
<rect x="731.7" y="588.93" width="13" height="33.07" fill="url(#dots)" opacity="0.5"/>
<line x1="731.4" y1="588.93" x2="745" y2="588.93" stroke="#2a2a2a" stroke-width="0.6"/>
<line x1="738.2" y1="532.36" x2="738.2" y2="534.36" stroke="#333" stroke-width="0.5"/><line x1="737" y1="532.36" x2="739.4" y2="532.36" stroke="#333" stroke-width="0.5"/>
<text x="738.2" y="530.96" font-size="5" text-anchor="middle" fill="#333" stroke="#333" stroke-width="0.22">ABC</text>
<text x="738.2" y="634.5" font-size="5.4" text-anchor="middle" font-weight="bold" fill="#222" stroke="#222" stroke-width="0.24">NT1</text>
<rect x="746.4" y="526.12" width="13.6" height="96.18" fill="#2f9866" stroke="#3a3a3a" stroke-width="0.5"/>
<rect x="746.7" y="585.79" width="13" height="36.21" fill="url(#dots)" opacity="0.5"/>
<rect x="746.7" y="550.46" width="13" height="35.33" fill="url(#dots2)" opacity="0.45"/>
<line x1="746.4" y1="550.46" x2="760" y2="550.46" stroke="#2a2a2a" stroke-width="0.6"/>
<line x1="746.4" y1="585.79" x2="760" y2="585.79" stroke="#2a2a2a" stroke-width="0.6"/>
<line x1="753.2" y1="524.12" x2="753.2" y2="526.12" stroke="#333" stroke-width="0.5"/><line x1="752" y1="524.12" x2="754.4" y2="524.12" stroke="#333" stroke-width="0.5"/>
<text x="753.2" y="522.72" font-size="5" text-anchor="middle" fill="#333" stroke="#333" stroke-width="0.22">A</text>
<text x="753.2" y="634.5" font-size="5.4" text-anchor="middle" font-weight="bold" fill="#222" stroke="#222" stroke-width="0.24">NT2</text>
<rect x="761.6" y="528.87" width="13.9" height="93.43" fill="#1f6548" stroke="#3a3a3a" stroke-width="0.5"/>
<rect x="761.9" y="586.97" width="13.3" height="35.03" fill="url(#dots)" opacity="0.5"/>
<line x1="761.6" y1="586.97" x2="775.5" y2="586.97" stroke="#2a2a2a" stroke-width="0.6"/>
<line x1="768.55" y1="526.87" x2="768.55" y2="528.87" stroke="#333" stroke-width="0.5"/><line x1="767.35" y1="526.87" x2="769.75" y2="526.87" stroke="#333" stroke-width="0.5"/>
<text x="768.55" y="525.47" font-size="5" text-anchor="middle" fill="#333" stroke="#333" stroke-width="0.22">AB</text>
<text x="768.55" y="634.5" font-size="5.4" text-anchor="middle" font-weight="bold" fill="#222" stroke="#222" stroke-width="0.24">NT3</text>
<text x="101" y="645.6" font-size="5.2" text-anchor="end" font-weight="bold" fill="#222" stroke="#222" stroke-width="0.23">Soil layers (cm):</text>
<rect x="102.5" y="639.3" width="19.2" height="9" fill="#fff" stroke="#777" stroke-width="0.6"/>
<rect x="102.5" y="639.3" width="19.2" height="9" fill="url(#dl)"/>
<text x="124.2" y="645.6" font-size="5.2" fill="#333" stroke="#333" stroke-width="0.23">0–10</text>
<rect x="142.7" y="639.3" width="20" height="9" fill="#fff" stroke="#777" stroke-width="0.6"/>
<rect x="142.7" y="639.3" width="20" height="9" fill="url(#dl2)"/>
<text x="165.2" y="645.6" font-size="5.2" fill="#333" stroke="#333" stroke-width="0.23">10–20</text>
<rect x="184" y="639.3" width="19.5" height="9" fill="#fff" stroke="#777" stroke-width="0.6"/>
<text x="206" y="645.6" font-size="5.2" fill="#333" stroke="#333" stroke-width="0.23">20–30</text>
<rect x="36.2" y="651.2" width="98.8" height="130.1" fill="#fff" stroke="#9a9a9a" stroke-width="0.7"/>
<text x="34" y="777.3" font-size="5" text-anchor="end" fill="#333" stroke="#333" stroke-width="0.22">0</text>
<text x="34" y="760.3" font-size="5" text-anchor="end" fill="#333" stroke="#333" stroke-width="0.22">1</text>
<text x="34" y="743.3" font-size="5" text-anchor="end" fill="#333" stroke="#333" stroke-width="0.22">2</text>
<text x="34" y="726.3" font-size="5" text-anchor="end" fill="#333" stroke="#333" stroke-width="0.22">3</text>
<text x="34" y="709.3" font-size="5" text-anchor="end" fill="#333" stroke="#333" stroke-width="0.22">4</text>
<text x="34" y="692.3" font-size="5" text-anchor="end" fill="#333" stroke="#333" stroke-width="0.22">5</text>
<text x="34" y="675.3" font-size="5" text-anchor="end" fill="#333" stroke="#333" stroke-width="0.22">6</text>
<text x="34" y="658.3" font-size="5" text-anchor="end" fill="#333" stroke="#333" stroke-width="0.22">7</text>
<text x="29" y="717.6" font-size="5.2" text-anchor="middle" font-weight="bold" fill="#222" transform="rotate(-90 29 717.6)" stroke="#222" stroke-width="0.23">Ca stock (Mg ha⁻¹)</text>
<text x="38" y="658" font-size="5" font-weight="bold" fill="#222" stroke="#222" stroke-width="0.22">(a)</text>
<rect x="39.3" y="709.2" width="17.1" height="66.3" fill="#fb6e3c" stroke="#3a3a3a" stroke-width="0.5"/>
<rect x="39.6" y="729.6" width="16.5" height="45.6" fill="url(#dots)" opacity="0.5"/>
<text x="47.85" y="720.9" font-size="4.75" text-anchor="middle" fill="#fff" fill-opacity="0.85" stroke="#fff" stroke-width="0.21">c</text>
<text x="47.85" y="739.6" font-size="4.75" text-anchor="middle" fill="#fff" fill-opacity="0.85" stroke="#fff" stroke-width="0.21">c</text>
<text x="47.85" y="761.7" font-size="4.75" text-anchor="middle" fill="#fff" fill-opacity="0.85" stroke="#fff" stroke-width="0.21">c</text>
<line x1="39.3" y1="729.6" x2="56.4" y2="729.6" stroke="#2a2a2a" stroke-width="0.6"/>
<line x1="47.85" y1="707.2" x2="47.85" y2="709.2" stroke="#333" stroke-width="0.5"/><line x1="46.65" y1="707.2" x2="49.05" y2="707.2" stroke="#333" stroke-width="0.5"/>
<text x="47.85" y="705.8" font-size="5" text-anchor="middle" fill="#333" stroke="#333" stroke-width="0.22">C</text>
<text x="47.85" y="787.5" font-size="5.4" text-anchor="middle" font-weight="bold" fill="#222" stroke="#222" stroke-width="0.24">CT</text>
<rect x="58.3" y="693.9" width="17.4" height="81.6" fill="#f2e408" stroke="#3a3a3a" stroke-width="0.5"/>
<rect x="58.6" y="745.75" width="16.8" height="29.45" fill="url(#dots)" opacity="0.5"/>
<rect x="58.6" y="720.25" width="16.8" height="25.5" fill="url(#dots2)" opacity="0.45"/>
<text x="67" y="707.3" font-size="4.75" text-anchor="middle" fill="#fff" fill-opacity="0.85" stroke="#fff" stroke-width="0.21">b</text>
<text x="67" y="734.5" font-size="4.75" text-anchor="middle" fill="#fff" fill-opacity="0.85" stroke="#fff" stroke-width="0.21">bc</text>
<text x="67" y="761.7" font-size="4.75" text-anchor="middle" fill="#fff" fill-opacity="0.85" stroke="#fff" stroke-width="0.21">bc</text>
<line x1="58.3" y1="720.25" x2="75.7" y2="720.25" stroke="#2a2a2a" stroke-width="0.6"/>
<line x1="58.3" y1="745.75" x2="75.7" y2="745.75" stroke="#2a2a2a" stroke-width="0.6"/>
<line x1="67" y1="691.9" x2="67" y2="693.9" stroke="#333" stroke-width="0.5"/><line x1="65.8" y1="691.9" x2="68.2" y2="691.9" stroke="#333" stroke-width="0.5"/>
<text x="67" y="690.5" font-size="5" text-anchor="middle" fill="#333" stroke="#333" stroke-width="0.22">B</text>
<text x="67" y="787.5" font-size="5.4" text-anchor="middle" font-weight="bold" fill="#222" stroke="#222" stroke-width="0.24">RT</text>
<rect x="77.3" y="692.71" width="16.7" height="82.79" fill="#86d6ab" stroke="#3a3a3a" stroke-width="0.5"/>
<rect x="77.6" y="717.7" width="16.1" height="57.5" fill="url(#dots)" opacity="0.5"/>
<text x="85.65" y="707.3" font-size="4.75" text-anchor="middle" fill="#fff" fill-opacity="0.85" stroke="#fff" stroke-width="0.21">b</text>
<text x="85.65" y="734.5" font-size="4.75" text-anchor="middle" fill="#fff" fill-opacity="0.85" stroke="#fff" stroke-width="0.21">bc</text>
<text x="85.65" y="761.7" font-size="4.75" text-anchor="middle" fill="#fff" fill-opacity="0.85" stroke="#fff" stroke-width="0.21">bc</text>
<line x1="77.3" y1="717.7" x2="94" y2="717.7" stroke="#2a2a2a" stroke-width="0.6"/>
<line x1="85.65" y1="690.71" x2="85.65" y2="692.71" stroke="#333" stroke-width="0.5"/><line x1="84.45" y1="690.71" x2="86.85" y2="690.71" stroke="#333" stroke-width="0.5"/>
<text x="85.65" y="689.31" font-size="5" text-anchor="middle" fill="#333" stroke="#333" stroke-width="0.22">B</text>
<text x="85.65" y="787.5" font-size="5.4" text-anchor="middle" font-weight="bold" fill="#222" stroke="#222" stroke-width="0.24">NT1</text>
<rect x="96" y="676.56" width="17.4" height="98.94" fill="#2f9866" stroke="#3a3a3a" stroke-width="0.5"/>
<text x="104.7" y="692" font-size="4.75" text-anchor="middle" fill="#fff" fill-opacity="0.85" stroke="#fff" stroke-width="0.21">b</text>
<text x="104.7" y="720.9" font-size="4.75" text-anchor="middle" fill="#fff" fill-opacity="0.85" stroke="#fff" stroke-width="0.21">a</text>
<text x="104.7" y="761.7" font-size="4.75" text-anchor="middle" fill="#fff" fill-opacity="0.85" stroke="#fff" stroke-width="0.21">a</text>
<line x1="104.7" y1="674.56" x2="104.7" y2="676.56" stroke="#333" stroke-width="0.5"/><line x1="103.5" y1="674.56" x2="105.9" y2="674.56" stroke="#333" stroke-width="0.5"/>
<text x="104.7" y="673.16" font-size="5" text-anchor="middle" fill="#333" stroke="#333" stroke-width="0.22">A</text>
<text x="104.7" y="787.5" font-size="5.4" text-anchor="middle" font-weight="bold" fill="#222" stroke="#222" stroke-width="0.24">NT2</text>
<rect x="115.3" y="684.55" width="17.4" height="90.95" fill="#1f6548" stroke="#3a3a3a" stroke-width="0.5"/>
<rect x="115.6" y="741.5" width="16.8" height="33.7" fill="url(#dots)" opacity="0.5"/>
<text x="124" y="692" font-size="4.75" text-anchor="middle" fill="#fff" fill-opacity="0.85" stroke="#fff" stroke-width="0.21">a</text>
<text x="124" y="726" font-size="4.75" text-anchor="middle" fill="#fff" fill-opacity="0.85" stroke="#fff" stroke-width="0.21">b</text>
<text x="124" y="761.7" font-size="4.75" text-anchor="middle" fill="#fff" fill-opacity="0.85" stroke="#fff" stroke-width="0.21">ab</text>
<line x1="115.3" y1="741.5" x2="132.7" y2="741.5" stroke="#2a2a2a" stroke-width="0.6"/>
<line x1="124" y1="682.55" x2="124" y2="684.55" stroke="#333" stroke-width="0.5"/><line x1="122.8" y1="682.55" x2="125.2" y2="682.55" stroke="#333" stroke-width="0.5"/>
<text x="124" y="681.15" font-size="5" text-anchor="middle" fill="#333" stroke="#333" stroke-width="0.22">AB</text>
<text x="124" y="787.5" font-size="5.4" text-anchor="middle" font-weight="bold" fill="#222" stroke="#222" stroke-width="0.24">NT3</text>
<rect x="153.5" y="651.3" width="99" height="130.2" fill="#fff" stroke="#9a9a9a" stroke-width="0.7"/>
<text x="151" y="777.8" font-size="5" text-anchor="end" fill="#333" stroke="#333" stroke-width="0.22">0.0</text>
<text x="151" y="748.05" font-size="5" text-anchor="end" fill="#333" stroke="#333" stroke-width="0.22">0.5</text>
<text x="151" y="718.3" font-size="5" text-anchor="end" fill="#333" stroke="#333" stroke-width="0.22">1.0</text>
<text x="151" y="688.55" font-size="5" text-anchor="end" fill="#333" stroke="#333" stroke-width="0.22">1.5</text>
<text x="151" y="658.8" font-size="5" text-anchor="end" fill="#333" stroke="#333" stroke-width="0.22">2.0</text>
<text x="143" y="716.4" font-size="5.2" text-anchor="middle" font-weight="bold" fill="#222" transform="rotate(-90 143 716.4)" stroke="#222" stroke-width="0.23">Mg stock (Mg ha⁻¹)</text>
<text x="155.5" y="658" font-size="5" font-weight="bold" fill="#222" stroke="#222" stroke-width="0.22">(b)</text>
<rect x="156.2" y="712.34" width="17.5" height="63.66" fill="#fb6e3c" stroke="#3a3a3a" stroke-width="0.5"/>
<rect x="156.5" y="749.23" width="16.9" height="26.47" fill="url(#dots)" opacity="0.5"/>
<rect x="156.5" y="729.59" width="16.9" height="19.63" fill="url(#dots2)" opacity="0.45"/>
<text x="164.95" y="720.98" font-size="4.75" text-anchor="middle" fill="#fff" fill-opacity="0.85" stroke="#fff" stroke-width="0.21">ns</text>
<text x="164.95" y="740.61" font-size="4.75" text-anchor="middle" fill="#fff" fill-opacity="0.85" stroke="#fff" stroke-width="0.21">b</text>
<text x="164.95" y="764.41" font-size="4.75" text-anchor="middle" fill="#fff" fill-opacity="0.85" stroke="#fff" stroke-width="0.21">b</text>
<line x1="156.2" y1="729.59" x2="173.7" y2="729.59" stroke="#2a2a2a" stroke-width="0.6"/>
<line x1="156.2" y1="749.23" x2="173.7" y2="749.23" stroke="#2a2a2a" stroke-width="0.6"/>
<line x1="164.95" y1="710.34" x2="164.95" y2="712.34" stroke="#333" stroke-width="0.5"/><line x1="163.75" y1="710.34" x2="166.15" y2="710.34" stroke="#333" stroke-width="0.5"/>
<text x="164.95" y="708.94" font-size="5" text-anchor="middle" fill="#333" stroke="#333" stroke-width="0.22">C</text>
<text x="164.95" y="787.5" font-size="5.4" text-anchor="middle" font-weight="bold" fill="#222" stroke="#222" stroke-width="0.24">CT</text>
<rect x="175.4" y="703.41" width="17.3" height="72.59" fill="#f2e408" stroke="#3a3a3a" stroke-width="0.5"/>
<text x="184.05" y="741.8" font-size="4.75" text-anchor="middle" fill="#fff" fill-opacity="0.85" stroke="#fff" stroke-width="0.21">b</text>
<text x="184.05" y="764.41" font-size="4.75" text-anchor="middle" fill="#fff" fill-opacity="0.85" stroke="#fff" stroke-width="0.21">ab</text>
<line x1="184.05" y1="701.41" x2="184.05" y2="703.41" stroke="#333" stroke-width="0.5"/><line x1="182.85" y1="701.41" x2="185.25" y2="701.41" stroke="#333" stroke-width="0.5"/>
<text x="184.05" y="700.01" font-size="5" text-anchor="middle" fill="#333" stroke="#333" stroke-width="0.22">BC</text>
<text x="184.05" y="787.5" font-size="5.4" text-anchor="middle" font-weight="bold" fill="#222" stroke="#222" stroke-width="0.24">RT</text>
<rect x="194.2" y="693.29" width="17.5" height="82.71" fill="#86d6ab" stroke="#3a3a3a" stroke-width="0.5"/>
<rect x="194.5" y="740.3" width="16.9" height="35.4" fill="url(#dots)" opacity="0.5"/>
<rect x="194.5" y="715.31" width="16.9" height="24.99" fill="url(#dots2)" opacity="0.45"/>
<text x="202.95" y="729.9" font-size="4.75" text-anchor="middle" fill="#fff" fill-opacity="0.85" stroke="#fff" stroke-width="0.21">a</text>
<text x="202.95" y="764.41" font-size="4.75" text-anchor="middle" fill="#fff" fill-opacity="0.85" stroke="#fff" stroke-width="0.21">a</text>
<line x1="194.2" y1="715.31" x2="211.7" y2="715.31" stroke="#2a2a2a" stroke-width="0.6"/>
<line x1="194.2" y1="740.3" x2="211.7" y2="740.3" stroke="#2a2a2a" stroke-width="0.6"/>
<line x1="202.95" y1="691.29" x2="202.95" y2="693.29" stroke="#333" stroke-width="0.5"/><line x1="201.75" y1="691.29" x2="204.15" y2="691.29" stroke="#333" stroke-width="0.5"/>
<text x="202.95" y="689.89" font-size="5" text-anchor="middle" fill="#333" stroke="#333" stroke-width="0.22">AB</text>
<text x="202.95" y="787.5" font-size="5.4" text-anchor="middle" font-weight="bold" fill="#222" stroke="#222" stroke-width="0.24">NT1</text>
<rect x="213.5" y="683.77" width="17.4" height="92.23" fill="#2f9866" stroke="#3a3a3a" stroke-width="0.5"/>
<rect x="213.8" y="705.79" width="16.8" height="69.91" fill="url(#dots)" opacity="0.5"/>
<text x="222.2" y="723.95" font-size="4.75" text-anchor="middle" fill="#fff" fill-opacity="0.85" stroke="#fff" stroke-width="0.21">a</text>
<text x="222.2" y="764.41" font-size="4.75" text-anchor="middle" fill="#fff" fill-opacity="0.85" stroke="#fff" stroke-width="0.21">a</text>
<line x1="213.5" y1="705.79" x2="230.9" y2="705.79" stroke="#2a2a2a" stroke-width="0.6"/>
<line x1="222.2" y1="681.77" x2="222.2" y2="683.77" stroke="#333" stroke-width="0.5"/><line x1="221" y1="681.77" x2="223.4" y2="681.77" stroke="#333" stroke-width="0.5"/>
<text x="222.2" y="680.38" font-size="5" text-anchor="middle" fill="#333" stroke="#333" stroke-width="0.22">A</text>
<text x="222.2" y="787.5" font-size="5.4" text-anchor="middle" font-weight="bold" fill="#222" stroke="#222" stroke-width="0.24">NT2</text>
<rect x="232.3" y="695.67" width="17.5" height="80.33" fill="#1f6548" stroke="#3a3a3a" stroke-width="0.5"/>
<text x="241.05" y="731.09" font-size="4.75" text-anchor="middle" fill="#fff" fill-opacity="0.85" stroke="#fff" stroke-width="0.21">b</text>
<text x="241.05" y="764.41" font-size="4.75" text-anchor="middle" fill="#fff" fill-opacity="0.85" stroke="#fff" stroke-width="0.21">a</text>
<line x1="241.05" y1="693.67" x2="241.05" y2="695.67" stroke="#333" stroke-width="0.5"/><line x1="239.85" y1="693.67" x2="242.25" y2="693.67" stroke="#333" stroke-width="0.5"/>
<text x="241.05" y="692.27" font-size="5" text-anchor="middle" fill="#333" stroke="#333" stroke-width="0.22">AB</text>
<text x="241.05" y="787.5" font-size="5.4" text-anchor="middle" font-weight="bold" fill="#222" stroke="#222" stroke-width="0.24">NT3</text>
<circle cx="110" cy="796.6" r="3.4" fill="#fb6e3c" stroke="#555" stroke-width="0.5"/>
<text x="116.6" y="798.7" font-size="5.6" font-weight="bold" fill="#222" stroke="#222" stroke-width="0.25">CT</text>
<circle cx="132.1" cy="796.6" r="3.4" fill="#f2e408" stroke="#555" stroke-width="0.5"/>
<text x="138.6" y="798.7" font-size="5.6" font-weight="bold" fill="#222" stroke="#222" stroke-width="0.25">RT</text>
<circle cx="153.9" cy="796.6" r="3.4" fill="#86d6ab" stroke="#555" stroke-width="0.5"/>
<text x="160.5" y="798.7" font-size="5.6" font-weight="bold" fill="#222" stroke="#222" stroke-width="0.25">NT1</text>
<circle cx="178.7" cy="796.6" r="3.4" fill="#2f9866" stroke="#555" stroke-width="0.5"/>
<text x="185.7" y="798.7" font-size="5.6" font-weight="bold" fill="#222" stroke="#222" stroke-width="0.25">NT2</text>
<circle cx="204.3" cy="796.6" r="3.4" fill="#1f6548" stroke="#555" stroke-width="0.5"/>
<text x="211" y="798.7" font-size="5.6" font-weight="bold" fill="#222" stroke="#222" stroke-width="0.25">NT3</text>
<text x="364.4" y="667.3" font-size="5.0" text-anchor="end" font-weight="bold" fill="#222" stroke="#222" stroke-width="0.22">Soil layers (cm):</text>
<rect x="370" y="661" width="20.5" height="9" fill="#fff" stroke="#777" stroke-width="0.6"/>
<rect x="370" y="661" width="20.5" height="9" fill="url(#dl)"/>
<text x="393" y="667.3" font-size="5.0" fill="#333" stroke="#333" stroke-width="0.22">0–10</text>
<rect x="409.2" y="661" width="20.3" height="9" fill="#fff" stroke="#777" stroke-width="0.6"/>
<rect x="409.2" y="661" width="20.3" height="9" fill="url(#dl2)"/>
<text x="432" y="667.3" font-size="5.0" fill="#333" stroke="#333" stroke-width="0.22">10–20</text>
<rect x="448.4" y="661" width="20.2" height="9" fill="#fff" stroke="#777" stroke-width="0.6"/>
<text x="471.1" y="667.3" font-size="5.0" fill="#333" stroke="#333" stroke-width="0.22">20–30</text>
<line x1="307.7" y1="673.8" x2="307.7" y2="794.8" stroke="#888" stroke-width="0.7"/>
<text x="306" y="792.4" font-size="4.6" text-anchor="end" fill="#666" stroke="#666" stroke-width="0.21">0</text>
<text x="306" y="773.83" font-size="4.6" text-anchor="end" fill="#666" stroke="#666" stroke-width="0.21">100</text>
<text x="306" y="755.26" font-size="4.6" text-anchor="end" fill="#666" stroke="#666" stroke-width="0.21">200</text>
<text x="306" y="736.69" font-size="4.6" text-anchor="end" fill="#666" stroke="#666" stroke-width="0.21">300</text>
<text x="306" y="718.12" font-size="4.6" text-anchor="end" fill="#666" stroke="#666" stroke-width="0.21">400</text>
<text x="306" y="699.55" font-size="4.6" text-anchor="end" fill="#666" stroke="#666" stroke-width="0.21">500</text>
<text x="306" y="680.98" font-size="4.6" text-anchor="end" fill="#666" stroke="#666" stroke-width="0.21">600</text>
<text x="297.8" y="735" font-size="4.3" text-anchor="middle" fill="#444" transform="rotate(-90 297.8 735)" stroke="#444" stroke-width="0.19">Cu stock (kg ha⁻¹)</text>
<text x="309" y="678" font-size="4.6" font-weight="bold" fill="#222" stroke="#222" stroke-width="0.21">(a)</text>
<rect x="309.2" y="706.66" width="10.3" height="83.94" fill="#fb6e3c" stroke="#3a3a3a" stroke-width="0.5"/>
<rect x="309.5" y="733.4" width="9.7" height="56.9" fill="url(#dots)" opacity="0.5"/>
<text x="314.35" y="720.61" font-size="4.369999999999999" text-anchor="middle" fill="#fff" fill-opacity="0.85" stroke="#fff" stroke-width="0.2">a</text>
<text x="314.35" y="754.96" font-size="4.369999999999999" text-anchor="middle" fill="#fff" fill-opacity="0.85" stroke="#fff" stroke-width="0.2">a</text>
<text x="314.35" y="780.96" font-size="4.369999999999999" text-anchor="middle" fill="#fff" fill-opacity="0.85" stroke="#fff" stroke-width="0.2">a</text>
<line x1="309.2" y1="733.4" x2="319.5" y2="733.4" stroke="#2a2a2a" stroke-width="0.6"/>
<line x1="314.35" y1="704.66" x2="314.35" y2="706.66" stroke="#333" stroke-width="0.5"/><line x1="313.15" y1="704.66" x2="315.55" y2="704.66" stroke="#333" stroke-width="0.5"/>
<text x="314.35" y="703.26" font-size="4.6" text-anchor="middle" fill="#666" stroke="#666" stroke-width="0.21">A</text>
<text x="314.35" y="800.5" font-size="4.8" text-anchor="middle" font-weight="bold" fill="#222" stroke="#222" stroke-width="0.22">CT</text>
<rect x="320.3" y="715.02" width="11.3" height="75.58" fill="#f2e408" stroke="#3a3a3a" stroke-width="0.5"/>
<rect x="320.6" y="739.16" width="10.7" height="51.14" fill="url(#dots)" opacity="0.5"/>
<text x="325.95" y="730.82" font-size="4.369999999999999" text-anchor="middle" fill="#fff" fill-opacity="0.85" stroke="#fff" stroke-width="0.2">ab</text>
<text x="325.95" y="754.96" font-size="4.369999999999999" text-anchor="middle" fill="#fff" fill-opacity="0.85" stroke="#fff" stroke-width="0.2">ab</text>
<text x="325.95" y="780.96" font-size="4.369999999999999" text-anchor="middle" fill="#fff" fill-opacity="0.85" stroke="#fff" stroke-width="0.2">ab</text>
<line x1="320.3" y1="739.16" x2="331.6" y2="739.16" stroke="#2a2a2a" stroke-width="0.6"/>
<line x1="325.95" y1="713.02" x2="325.95" y2="715.02" stroke="#333" stroke-width="0.5"/><line x1="324.75" y1="713.02" x2="327.15" y2="713.02" stroke="#333" stroke-width="0.5"/>
<text x="325.95" y="711.62" font-size="4.6" text-anchor="middle" fill="#666" stroke="#666" stroke-width="0.21">AB</text>
<text x="325.95" y="800.5" font-size="4.8" text-anchor="middle" font-weight="bold" fill="#222" stroke="#222" stroke-width="0.22">RT</text>
<rect x="332.2" y="726.9" width="10.8" height="63.7" fill="#86d6ab" stroke="#3a3a3a" stroke-width="0.5"/>
<text x="337.6" y="738.25" font-size="4.369999999999999" text-anchor="middle" fill="#fff" fill-opacity="0.85" stroke="#fff" stroke-width="0.2">b</text>
<text x="337.6" y="754.96" font-size="4.369999999999999" text-anchor="middle" fill="#fff" fill-opacity="0.85" stroke="#fff" stroke-width="0.2">b</text>
<text x="337.6" y="780.96" font-size="4.369999999999999" text-anchor="middle" fill="#fff" fill-opacity="0.85" stroke="#fff" stroke-width="0.2">b</text>
<line x1="337.6" y1="724.9" x2="337.6" y2="726.9" stroke="#333" stroke-width="0.5"/><line x1="336.4" y1="724.9" x2="338.8" y2="724.9" stroke="#333" stroke-width="0.5"/>
<text x="337.6" y="723.5" font-size="4.6" text-anchor="middle" fill="#666" stroke="#666" stroke-width="0.21">BC</text>
<text x="337.6" y="800.5" font-size="4.8" text-anchor="middle" font-weight="bold" fill="#222" stroke="#222" stroke-width="0.22">NT1</text>
<rect x="344.4" y="739.16" width="9.6" height="51.44" fill="#2f9866" stroke="#3a3a3a" stroke-width="0.5"/>
<rect x="344.7" y="772.03" width="9" height="18.27" fill="url(#dots)" opacity="0.5"/>
<rect x="344.7" y="755.32" width="9" height="16.71" fill="url(#dots2)" opacity="0.45"/>
<text x="349.2" y="748.46" font-size="4.369999999999999" text-anchor="middle" fill="#fff" fill-opacity="0.85" stroke="#fff" stroke-width="0.2">c</text>
<text x="349.2" y="764.25" font-size="4.369999999999999" text-anchor="middle" fill="#fff" fill-opacity="0.85" stroke="#fff" stroke-width="0.2">c</text>
<text x="349.2" y="780.96" font-size="4.369999999999999" text-anchor="middle" fill="#fff" fill-opacity="0.85" stroke="#fff" stroke-width="0.2">c</text>
<line x1="344.4" y1="755.32" x2="354" y2="755.32" stroke="#2a2a2a" stroke-width="0.6"/>
<line x1="344.4" y1="772.03" x2="354" y2="772.03" stroke="#2a2a2a" stroke-width="0.6"/>
<line x1="349.2" y1="737.16" x2="349.2" y2="739.16" stroke="#333" stroke-width="0.5"/><line x1="348" y1="737.16" x2="350.4" y2="737.16" stroke="#333" stroke-width="0.5"/>
<text x="349.2" y="735.76" font-size="4.6" text-anchor="middle" fill="#666" stroke="#666" stroke-width="0.21">C</text>
<text x="349.2" y="800.5" font-size="4.8" text-anchor="middle" font-weight="bold" fill="#222" stroke="#222" stroke-width="0.22">NT2</text>
<rect x="356.2" y="728.76" width="10.1" height="61.84" fill="#1f6548" stroke="#3a3a3a" stroke-width="0.5"/>
<rect x="356.5" y="763.12" width="9.5" height="27.18" fill="url(#dots)" opacity="0.5"/>
<rect x="356.5" y="741.39" width="9.5" height="21.73" fill="url(#dots2)" opacity="0.45"/>
<text x="361.25" y="737.32" font-size="4.369999999999999" text-anchor="middle" fill="#fff" fill-opacity="0.85" stroke="#fff" stroke-width="0.2">b</text>
<text x="361.25" y="754.96" font-size="4.369999999999999" text-anchor="middle" fill="#fff" fill-opacity="0.85" stroke="#fff" stroke-width="0.2">b</text>
<text x="361.25" y="780.96" font-size="4.369999999999999" text-anchor="middle" fill="#fff" fill-opacity="0.85" stroke="#fff" stroke-width="0.2">ab</text>
<line x1="356.2" y1="741.39" x2="366.3" y2="741.39" stroke="#2a2a2a" stroke-width="0.6"/>
<line x1="356.2" y1="763.12" x2="366.3" y2="763.12" stroke="#2a2a2a" stroke-width="0.6"/>
<line x1="361.25" y1="726.76" x2="361.25" y2="728.76" stroke="#333" stroke-width="0.5"/><line x1="360.05" y1="726.76" x2="362.45" y2="726.76" stroke="#333" stroke-width="0.5"/>
<text x="361.25" y="725.36" font-size="4.6" text-anchor="middle" fill="#666" stroke="#666" stroke-width="0.21">BC</text>
<text x="361.25" y="800.5" font-size="4.8" text-anchor="middle" font-weight="bold" fill="#222" stroke="#222" stroke-width="0.22">NT3</text>
<text x="383.5" y="792.4" font-size="4.6" text-anchor="end" fill="#666" stroke="#666" stroke-width="0.21">0</text>
<text x="383.5" y="770.12" font-size="4.6" text-anchor="end" fill="#666" stroke="#666" stroke-width="0.21">200</text>
<text x="383.5" y="747.84" font-size="4.6" text-anchor="end" fill="#666" stroke="#666" stroke-width="0.21">400</text>
<text x="383.5" y="725.56" font-size="4.6" text-anchor="end" fill="#666" stroke="#666" stroke-width="0.21">600</text>
<text x="383.5" y="703.28" font-size="4.6" text-anchor="end" fill="#666" stroke="#666" stroke-width="0.21">800</text>
<text x="383.5" y="681" font-size="4.6" text-anchor="end" fill="#666" stroke="#666" stroke-width="0.21">1000</text>
<text x="373.6" y="735.5" font-size="4.3" text-anchor="middle" fill="#444" transform="rotate(-90 373.6 735.5)" stroke="#444" stroke-width="0.19">Fe stock (kg ha⁻¹)</text>
<text x="386" y="678" font-size="4.6" font-weight="bold" fill="#222" stroke="#222" stroke-width="0.21">(b)</text>
<rect x="386.3" y="712.06" width="11.5" height="78.54" fill="#fb6e3c" stroke="#3a3a3a" stroke-width="0.5"/>
<rect x="386.6" y="763.31" width="10.9" height="26.99" fill="url(#dots)" opacity="0.5"/>
<rect x="386.6" y="737.13" width="10.9" height="26.18" fill="url(#dots2)" opacity="0.45"/>
<text x="392.05" y="725.26" font-size="4.369999999999999" text-anchor="middle" fill="#fff" fill-opacity="0.85" stroke="#fff" stroke-width="0.2">a</text>
<text x="392.05" y="750.88" font-size="4.369999999999999" text-anchor="middle" fill="#fff" fill-opacity="0.85" stroke="#fff" stroke-width="0.2">a</text>
<text x="392.05" y="778.73" font-size="4.369999999999999" text-anchor="middle" fill="#fff" fill-opacity="0.85" stroke="#fff" stroke-width="0.2">a</text>
<line x1="386.3" y1="737.13" x2="397.8" y2="737.13" stroke="#2a2a2a" stroke-width="0.6"/>
<line x1="386.3" y1="763.31" x2="397.8" y2="763.31" stroke="#2a2a2a" stroke-width="0.6"/>
<line x1="392.05" y1="710.06" x2="392.05" y2="712.06" stroke="#333" stroke-width="0.5"/><line x1="390.85" y1="710.06" x2="393.25" y2="710.06" stroke="#333" stroke-width="0.5"/>
<text x="392.05" y="708.66" font-size="4.6" text-anchor="middle" fill="#666" stroke="#666" stroke-width="0.21">A</text>
<text x="392.05" y="800.5" font-size="4.8" text-anchor="middle" font-weight="bold" fill="#222" stroke="#222" stroke-width="0.22">CT</text>
<rect x="398.6" y="714.85" width="10.9" height="75.75" fill="#f2e408" stroke="#3a3a3a" stroke-width="0.5"/>
<text x="404.05" y="778.73" font-size="4.369999999999999" text-anchor="middle" fill="#fff" fill-opacity="0.85" stroke="#fff" stroke-width="0.2">a</text>
<line x1="404.05" y1="712.85" x2="404.05" y2="714.85" stroke="#333" stroke-width="0.5"/><line x1="402.85" y1="712.85" x2="405.25" y2="712.85" stroke="#333" stroke-width="0.5"/>
<text x="404.05" y="711.45" font-size="4.6" text-anchor="middle" fill="#666" stroke="#666" stroke-width="0.21">AB</text>
<text x="404.05" y="800.5" font-size="4.8" text-anchor="middle" font-weight="bold" fill="#222" stroke="#222" stroke-width="0.22">RT</text>
<rect x="410.6" y="721.87" width="10" height="68.73" fill="#86d6ab" stroke="#3a3a3a" stroke-width="0.5"/>
<rect x="410.9" y="767.21" width="9.4" height="23.09" fill="url(#dots)" opacity="0.5"/>
<rect x="410.9" y="744.93" width="9.4" height="22.28" fill="url(#dots2)" opacity="0.45"/>
<text x="415.6" y="778.73" font-size="4.369999999999999" text-anchor="middle" fill="#fff" fill-opacity="0.85" stroke="#fff" stroke-width="0.2">a</text>
<line x1="410.6" y1="744.93" x2="420.6" y2="744.93" stroke="#2a2a2a" stroke-width="0.6"/>
<line x1="410.6" y1="767.21" x2="420.6" y2="767.21" stroke="#2a2a2a" stroke-width="0.6"/>
<line x1="415.6" y1="719.87" x2="415.6" y2="721.87" stroke="#333" stroke-width="0.5"/><line x1="414.4" y1="719.87" x2="416.8" y2="719.87" stroke="#333" stroke-width="0.5"/>
<text x="415.6" y="718.47" font-size="4.6" text-anchor="middle" fill="#666" stroke="#666" stroke-width="0.21">AB</text>
<text x="415.6" y="800.5" font-size="4.8" text-anchor="middle" font-weight="bold" fill="#222" stroke="#222" stroke-width="0.22">NT1</text>
<rect x="422.5" y="733.01" width="9.7" height="57.59" fill="#2f9866" stroke="#3a3a3a" stroke-width="0.5"/>
<rect x="422.8" y="775.56" width="9.1" height="14.74" fill="url(#dots)" opacity="0.5"/>
<rect x="422.8" y="753.84" width="9.1" height="21.72" fill="url(#dots2)" opacity="0.45"/>
<text x="427.35" y="778.73" font-size="4.369999999999999" text-anchor="middle" fill="#fff" fill-opacity="0.85" stroke="#fff" stroke-width="0.2">b</text>
<line x1="422.5" y1="753.84" x2="432.2" y2="753.84" stroke="#2a2a2a" stroke-width="0.6"/>
<line x1="422.5" y1="775.56" x2="432.2" y2="775.56" stroke="#2a2a2a" stroke-width="0.6"/>
<line x1="427.35" y1="731.01" x2="427.35" y2="733.01" stroke="#333" stroke-width="0.5"/><line x1="426.15" y1="731.01" x2="428.55" y2="731.01" stroke="#333" stroke-width="0.5"/>
<text x="427.35" y="729.61" font-size="4.6" text-anchor="middle" fill="#666" stroke="#666" stroke-width="0.21">B</text>
<text x="427.35" y="800.5" font-size="4.8" text-anchor="middle" font-weight="bold" fill="#222" stroke="#222" stroke-width="0.22">NT2</text>
<rect x="434" y="718.75" width="10" height="71.85" fill="#1f6548" stroke="#3a3a3a" stroke-width="0.5"/>
<rect x="434.3" y="765.53" width="9.4" height="24.77" fill="url(#dots)" opacity="0.5"/>
<rect x="434.3" y="742.14" width="9.4" height="23.39" fill="url(#dots2)" opacity="0.45"/>
<text x="439" y="778.73" font-size="4.369999999999999" text-anchor="middle" fill="#fff" fill-opacity="0.85" stroke="#fff" stroke-width="0.2">ab</text>
<line x1="434" y1="742.14" x2="444" y2="742.14" stroke="#2a2a2a" stroke-width="0.6"/>
<line x1="434" y1="765.53" x2="444" y2="765.53" stroke="#2a2a2a" stroke-width="0.6"/>
<line x1="439" y1="716.75" x2="439" y2="718.75" stroke="#333" stroke-width="0.5"/><line x1="437.8" y1="716.75" x2="440.2" y2="716.75" stroke="#333" stroke-width="0.5"/>
<text x="439" y="715.35" font-size="4.6" text-anchor="middle" fill="#666" stroke="#666" stroke-width="0.21">AB</text>
<text x="439" y="800.5" font-size="4.8" text-anchor="middle" font-weight="bold" fill="#222" stroke="#222" stroke-width="0.22">NT3</text>
<text x="462" y="792.4" font-size="4.6" text-anchor="end" fill="#666" stroke="#666" stroke-width="0.21">0</text>
<text x="462" y="773.83" font-size="4.6" text-anchor="end" fill="#666" stroke="#666" stroke-width="0.21">1000</text>
<text x="462" y="755.27" font-size="4.6" text-anchor="end" fill="#666" stroke="#666" stroke-width="0.21">2000</text>
<text x="462" y="736.7" font-size="4.6" text-anchor="end" fill="#666" stroke="#666" stroke-width="0.21">3000</text>
<text x="462" y="718.13" font-size="4.6" text-anchor="end" fill="#666" stroke="#666" stroke-width="0.21">4000</text>
<text x="462" y="699.57" font-size="4.6" text-anchor="end" fill="#666" stroke="#666" stroke-width="0.21">5000</text>
<text x="462" y="681" font-size="4.6" text-anchor="end" fill="#666" stroke="#666" stroke-width="0.21">6000</text>
<text x="451.4" y="735" font-size="4.3" text-anchor="middle" fill="#444" transform="rotate(-90 451.4 735)" stroke="#444" stroke-width="0.19">Mn stock (kg ha⁻¹)</text>
<text x="464" y="678" font-size="4.6" font-weight="bold" fill="#222" stroke="#222" stroke-width="0.21">(c)</text>
<rect x="464.4" y="695.32" width="10.6" height="95.28" fill="#fb6e3c" stroke="#3a3a3a" stroke-width="0.5"/>
<rect x="464.7" y="757.31" width="10" height="32.99" fill="url(#dots)" opacity="0.5"/>
<rect x="464.7" y="726.42" width="10" height="30.89" fill="url(#dots2)" opacity="0.45"/>
<text x="469.7" y="712.26" font-size="4.369999999999999" text-anchor="middle" fill="#fff" fill-opacity="0.85" stroke="#fff" stroke-width="0.2">a</text>
<text x="469.7" y="743.83" font-size="4.369999999999999" text-anchor="middle" fill="#fff" fill-opacity="0.85" stroke="#fff" stroke-width="0.2">a</text>
<text x="469.7" y="779.1" font-size="4.369999999999999" text-anchor="middle" fill="#fff" fill-opacity="0.85" stroke="#fff" stroke-width="0.2">ns</text>
<line x1="464.4" y1="726.42" x2="475" y2="726.42" stroke="#2a2a2a" stroke-width="0.6"/>
<line x1="464.4" y1="757.31" x2="475" y2="757.31" stroke="#2a2a2a" stroke-width="0.6"/>
<line x1="469.7" y1="693.32" x2="469.7" y2="695.32" stroke="#333" stroke-width="0.5"/><line x1="468.5" y1="693.32" x2="470.9" y2="693.32" stroke="#333" stroke-width="0.5"/>
<text x="469.7" y="691.92" font-size="4.6" text-anchor="middle" fill="#666" stroke="#666" stroke-width="0.21">A</text>
<text x="469.7" y="800.5" font-size="4.8" text-anchor="middle" font-weight="bold" fill="#222" stroke="#222" stroke-width="0.22">CT</text>
<rect x="476.4" y="701.61" width="10.2" height="88.99" fill="#f2e408" stroke="#3a3a3a" stroke-width="0.5"/>
<rect x="476.7" y="758.39" width="9.6" height="31.91" fill="url(#dots)" opacity="0.5"/>
<rect x="476.7" y="729.7" width="9.6" height="28.69" fill="url(#dots2)" opacity="0.45"/>
<line x1="476.4" y1="729.7" x2="486.6" y2="729.7" stroke="#2a2a2a" stroke-width="0.6"/>
<line x1="476.4" y1="758.39" x2="486.6" y2="758.39" stroke="#2a2a2a" stroke-width="0.6"/>
<line x1="481.5" y1="699.61" x2="481.5" y2="701.61" stroke="#333" stroke-width="0.5"/><line x1="480.3" y1="699.61" x2="482.7" y2="699.61" stroke="#333" stroke-width="0.5"/>
<text x="481.5" y="698.21" font-size="4.6" text-anchor="middle" fill="#666" stroke="#666" stroke-width="0.21">AB</text>
<text x="481.5" y="800.5" font-size="4.8" text-anchor="middle" font-weight="bold" fill="#222" stroke="#222" stroke-width="0.22">RT</text>
<rect x="488.3" y="707.72" width="10.7" height="82.88" fill="#86d6ab" stroke="#3a3a3a" stroke-width="0.5"/>
<rect x="488.6" y="735.64" width="10.1" height="54.66" fill="url(#dots)" opacity="0.5"/>
<line x1="488.3" y1="735.64" x2="499" y2="735.64" stroke="#2a2a2a" stroke-width="0.6"/>
<line x1="493.65" y1="705.72" x2="493.65" y2="707.72" stroke="#333" stroke-width="0.5"/><line x1="492.45" y1="705.72" x2="494.85" y2="705.72" stroke="#333" stroke-width="0.5"/>
<text x="493.65" y="704.32" font-size="4.6" text-anchor="middle" fill="#666" stroke="#666" stroke-width="0.21">B</text>
<text x="493.65" y="800.5" font-size="4.8" text-anchor="middle" font-weight="bold" fill="#222" stroke="#222" stroke-width="0.22">NT1</text>
<rect x="500.3" y="709.22" width="9.7" height="81.38" fill="#2f9866" stroke="#3a3a3a" stroke-width="0.5"/>
<rect x="500.6" y="762.6" width="9.1" height="27.7" fill="url(#dots)" opacity="0.5"/>
<rect x="500.6" y="735.09" width="9.1" height="27.52" fill="url(#dots2)" opacity="0.45"/>
<line x1="500.3" y1="735.09" x2="510" y2="735.09" stroke="#2a2a2a" stroke-width="0.6"/>
<line x1="500.3" y1="762.6" x2="510" y2="762.6" stroke="#2a2a2a" stroke-width="0.6"/>
<line x1="505.15" y1="707.22" x2="505.15" y2="709.22" stroke="#333" stroke-width="0.5"/><line x1="503.95" y1="707.22" x2="506.35" y2="707.22" stroke="#333" stroke-width="0.5"/>
<text x="505.15" y="705.82" font-size="4.6" text-anchor="middle" fill="#666" stroke="#666" stroke-width="0.21">B</text>
<text x="505.15" y="800.5" font-size="4.8" text-anchor="middle" font-weight="bold" fill="#222" stroke="#222" stroke-width="0.22">NT2</text>
<rect x="511.4" y="705.81" width="10.2" height="84.79" fill="#1f6548" stroke="#3a3a3a" stroke-width="0.5"/>
<rect x="511.7" y="761.08" width="9.6" height="29.22" fill="url(#dots)" opacity="0.5"/>
<rect x="511.7" y="732.86" width="9.6" height="28.22" fill="url(#dots2)" opacity="0.45"/>
<line x1="511.4" y1="732.86" x2="521.6" y2="732.86" stroke="#2a2a2a" stroke-width="0.6"/>
<line x1="511.4" y1="761.08" x2="521.6" y2="761.08" stroke="#2a2a2a" stroke-width="0.6"/>
<line x1="516.5" y1="703.81" x2="516.5" y2="705.81" stroke="#333" stroke-width="0.5"/><line x1="515.3" y1="703.81" x2="517.7" y2="703.81" stroke="#333" stroke-width="0.5"/>
<text x="516.5" y="702.41" font-size="4.6" text-anchor="middle" fill="#666" stroke="#666" stroke-width="0.21">B</text>
<text x="516.5" y="800.5" font-size="4.8" text-anchor="middle" font-weight="bold" fill="#222" stroke="#222" stroke-width="0.22">NT3</text>
<text x="626.3" y="674.4" font-size="4.8" text-anchor="end" font-weight="bold" fill="#222" stroke="#222" stroke-width="0.22">Soil layers (cm):</text>
<rect x="630.2" y="668.1" width="13.6" height="9" fill="#fff" stroke="#777" stroke-width="0.6"/>
<rect x="630.2" y="668.1" width="13.6" height="9" fill="url(#dl)"/>
<text x="646.3" y="674.4" font-size="4.8" fill="#333" stroke="#333" stroke-width="0.22">0–10</text>
<rect x="665.3" y="668.1" width="14.2" height="9" fill="#fff" stroke="#777" stroke-width="0.6"/>
<rect x="665.3" y="668.1" width="14.2" height="9" fill="url(#dl2)"/>
<text x="682" y="674.4" font-size="4.8" fill="#333" stroke="#333" stroke-width="0.22">10–20</text>
<rect x="701.4" y="668.1" width="13.3" height="9" fill="#fff" stroke="#777" stroke-width="0.6"/>
<text x="717.2" y="674.4" font-size="4.8" fill="#333" stroke="#333" stroke-width="0.22">20–30</text>
<rect x="575.2" y="679.2" width="86.2" height="116" fill="#fff" stroke="#9a9a9a" stroke-width="0.7"/>
<text x="573" y="791.5" font-size="5.2" text-anchor="end" fill="#333" stroke="#333" stroke-width="0.23">0</text>
<text x="573" y="778.31" font-size="5.2" text-anchor="end" fill="#333" stroke="#333" stroke-width="0.23">100</text>
<text x="573" y="765.12" font-size="5.2" text-anchor="end" fill="#333" stroke="#333" stroke-width="0.23">200</text>
<text x="573" y="751.94" font-size="5.2" text-anchor="end" fill="#333" stroke="#333" stroke-width="0.23">300</text>
<text x="573" y="738.75" font-size="5.2" text-anchor="end" fill="#333" stroke="#333" stroke-width="0.23">400</text>
<text x="573" y="725.56" font-size="5.2" text-anchor="end" fill="#333" stroke="#333" stroke-width="0.23">500</text>
<text x="573" y="712.38" font-size="5.2" text-anchor="end" fill="#333" stroke="#333" stroke-width="0.23">600</text>
<text x="573" y="699.19" font-size="5.2" text-anchor="end" fill="#333" stroke="#333" stroke-width="0.23">700</text>
<text x="573" y="686" font-size="5.2" text-anchor="end" fill="#333" stroke="#333" stroke-width="0.23">800</text>
<text x="565.7" y="737.8" font-size="5.2" text-anchor="middle" font-weight="bold" fill="#222" transform="rotate(-90 565.7 737.8)" stroke="#222" stroke-width="0.23">Zn stock (kg ha⁻¹)</text>
<text x="577" y="685" font-size="5.2" font-weight="bold" fill="#222" stroke="#222" stroke-width="0.23">(a)</text>
<rect x="577.8" y="710.58" width="14.5" height="79.12" fill="#fb6e3c" stroke="#3a3a3a" stroke-width="0.5"/>
<rect x="578.1" y="762.67" width="13.9" height="26.73" fill="url(#dots)" opacity="0.5"/>
<text x="585.05" y="725.26" font-size="4.9399999999999995" text-anchor="middle" fill="#fff" fill-opacity="0.85" stroke="#fff" stroke-width="0.22">ns</text>
<text x="585.05" y="751.64" font-size="4.9399999999999995" text-anchor="middle" fill="#fff" fill-opacity="0.85" stroke="#fff" stroke-width="0.22">ns</text>
<text x="585.05" y="778.01" font-size="4.9399999999999995" text-anchor="middle" fill="#fff" fill-opacity="0.85" stroke="#fff" stroke-width="0.22">ns</text>
<line x1="577.8" y1="762.67" x2="592.3" y2="762.67" stroke="#2a2a2a" stroke-width="0.6"/>
<line x1="585.05" y1="708.58" x2="585.05" y2="710.58" stroke="#333" stroke-width="0.5"/><line x1="583.85" y1="708.58" x2="586.25" y2="708.58" stroke="#333" stroke-width="0.5"/>
<text x="585.05" y="707.18" font-size="5.2" text-anchor="middle" fill="#333" stroke="#333" stroke-width="0.23">NS</text>
<text x="585.05" y="800" font-size="5.4" text-anchor="middle" font-weight="bold" fill="#222" stroke="#222" stroke-width="0.24">CT</text>
<rect x="594" y="715.19" width="14.6" height="74.51" fill="#f2e408" stroke="#3a3a3a" stroke-width="0.5"/>
<rect x="594.3" y="762.67" width="14" height="26.73" fill="url(#dots)" opacity="0.5"/>
<rect x="594.3" y="738.93" width="14" height="23.74" fill="url(#dots2)" opacity="0.45"/>
<line x1="594" y1="738.93" x2="608.6" y2="738.93" stroke="#2a2a2a" stroke-width="0.6"/>
<line x1="594" y1="762.67" x2="608.6" y2="762.67" stroke="#2a2a2a" stroke-width="0.6"/>
<line x1="601.3" y1="713.19" x2="601.3" y2="715.19" stroke="#333" stroke-width="0.5"/><line x1="600.1" y1="713.19" x2="602.5" y2="713.19" stroke="#333" stroke-width="0.5"/>
<text x="601.3" y="800" font-size="5.4" text-anchor="middle" font-weight="bold" fill="#222" stroke="#222" stroke-width="0.24">RT</text>
<rect x="610.3" y="735.37" width="14.7" height="54.33" fill="#86d6ab" stroke="#3a3a3a" stroke-width="0.5"/>
<line x1="617.65" y1="733.37" x2="617.65" y2="735.37" stroke="#333" stroke-width="0.5"/><line x1="616.45" y1="733.37" x2="618.85" y2="733.37" stroke="#333" stroke-width="0.5"/>
<text x="617.65" y="800" font-size="5.4" text-anchor="middle" font-weight="bold" fill="#222" stroke="#222" stroke-width="0.24">NT1</text>
<rect x="627" y="729.43" width="14.6" height="60.27" fill="#2f9866" stroke="#3a3a3a" stroke-width="0.5"/>
<rect x="627.3" y="746.18" width="14" height="43.22" fill="url(#dots)" opacity="0.5"/>
<line x1="627" y1="746.18" x2="641.6" y2="746.18" stroke="#2a2a2a" stroke-width="0.6"/>
<line x1="634.3" y1="727.43" x2="634.3" y2="729.43" stroke="#333" stroke-width="0.5"/><line x1="633.1" y1="727.43" x2="635.5" y2="727.43" stroke="#333" stroke-width="0.5"/>
<text x="634.3" y="800" font-size="5.4" text-anchor="middle" font-weight="bold" fill="#222" stroke="#222" stroke-width="0.24">NT2</text>
<rect x="643.4" y="726.14" width="15" height="63.56" fill="#1f6548" stroke="#3a3a3a" stroke-width="0.5"/>
<line x1="650.9" y1="724.14" x2="650.9" y2="726.14" stroke="#333" stroke-width="0.5"/><line x1="649.7" y1="724.14" x2="652.1" y2="724.14" stroke="#333" stroke-width="0.5"/>
<text x="650.9" y="800" font-size="5.4" text-anchor="middle" font-weight="bold" fill="#222" stroke="#222" stroke-width="0.24">NT3</text>
<rect x="675.7" y="679" width="85.7" height="116" fill="#fff" stroke="#9a9a9a" stroke-width="0.7"/>
<text x="673.5" y="791.8" font-size="5.2" text-anchor="end" fill="#333" stroke="#333" stroke-width="0.23">0</text>
<text x="673.5" y="770.7" font-size="5.2" text-anchor="end" fill="#333" stroke="#333" stroke-width="0.23">5</text>
<text x="673.5" y="749.6" font-size="5.2" text-anchor="end" fill="#333" stroke="#333" stroke-width="0.23">10</text>
<text x="673.5" y="728.5" font-size="5.2" text-anchor="end" fill="#333" stroke="#333" stroke-width="0.23">15</text>
<text x="673.5" y="707.4" font-size="5.2" text-anchor="end" fill="#333" stroke="#333" stroke-width="0.23">20</text>
<text x="673.5" y="686.3" font-size="5.2" text-anchor="end" fill="#333" stroke="#333" stroke-width="0.23">25</text>
<text x="667.7" y="739.4" font-size="5.2" text-anchor="middle" font-weight="bold" fill="#222" transform="rotate(-90 667.7 739.4)" stroke="#222" stroke-width="0.23">B stock (kg ha⁻¹)</text>
<text x="677.5" y="685" font-size="5.2" font-weight="bold" fill="#222" stroke="#222" stroke-width="0.23">(b)</text>
<rect x="678.2" y="727.54" width="14.9" height="62.46" fill="#fb6e3c" stroke="#3a3a3a" stroke-width="0.5"/>
<rect x="678.5" y="768.06" width="14.3" height="21.64" fill="url(#dots)" opacity="0.5"/>
<rect x="678.5" y="747.8" width="14.3" height="20.26" fill="url(#dots2)" opacity="0.45"/>
<text x="685.65" y="738.75" font-size="4.9399999999999995" text-anchor="middle" fill="#fff" fill-opacity="0.85" stroke="#fff" stroke-width="0.22">ns</text>
<text x="685.65" y="759.85" font-size="4.9399999999999995" text-anchor="middle" fill="#fff" fill-opacity="0.85" stroke="#fff" stroke-width="0.22">ns</text>
<text x="685.65" y="780.95" font-size="4.9399999999999995" text-anchor="middle" fill="#fff" fill-opacity="0.85" stroke="#fff" stroke-width="0.22">ns</text>
<line x1="678.2" y1="747.8" x2="693.1" y2="747.8" stroke="#2a2a2a" stroke-width="0.6"/>
<line x1="678.2" y1="768.06" x2="693.1" y2="768.06" stroke="#2a2a2a" stroke-width="0.6"/>
<line x1="685.65" y1="725.54" x2="685.65" y2="727.54" stroke="#333" stroke-width="0.5"/><line x1="684.45" y1="725.54" x2="686.85" y2="725.54" stroke="#333" stroke-width="0.5"/>
<text x="685.65" y="724.14" font-size="5.2" text-anchor="middle" fill="#333" stroke="#333" stroke-width="0.23">NS</text>
<text x="685.65" y="800" font-size="5.4" text-anchor="middle" font-weight="bold" fill="#222" stroke="#222" stroke-width="0.24">CT</text>
<rect x="694.8" y="725.86" width="14.9" height="64.14" fill="#f2e408" stroke="#3a3a3a" stroke-width="0.5"/>
<line x1="702.25" y1="723.86" x2="702.25" y2="725.86" stroke="#333" stroke-width="0.5"/><line x1="701.05" y1="723.86" x2="703.45" y2="723.86" stroke="#333" stroke-width="0.5"/>
<text x="702.25" y="800" font-size="5.4" text-anchor="middle" font-weight="bold" fill="#222" stroke="#222" stroke-width="0.24">RT</text>
<rect x="711.3" y="722.06" width="15.1" height="67.94" fill="#86d6ab" stroke="#3a3a3a" stroke-width="0.5"/>
<rect x="711.6" y="766.37" width="14.5" height="23.33" fill="url(#dots)" opacity="0.5"/>
<line x1="711.3" y1="766.37" x2="726.4" y2="766.37" stroke="#2a2a2a" stroke-width="0.6"/>
<line x1="718.85" y1="720.06" x2="718.85" y2="722.06" stroke="#333" stroke-width="0.5"/><line x1="717.65" y1="720.06" x2="720.05" y2="720.06" stroke="#333" stroke-width="0.5"/>
<text x="718.85" y="800" font-size="5.4" text-anchor="middle" font-weight="bold" fill="#222" stroke="#222" stroke-width="0.24">NT1</text>
<rect x="728" y="715.31" width="15" height="74.69" fill="#2f9866" stroke="#3a3a3a" stroke-width="0.5"/>
<rect x="728.3" y="764.68" width="14.4" height="25.02" fill="url(#dots)" opacity="0.5"/>
<rect x="728.3" y="740.2" width="14.4" height="24.48" fill="url(#dots2)" opacity="0.45"/>
<line x1="728" y1="740.2" x2="743" y2="740.2" stroke="#2a2a2a" stroke-width="0.6"/>
<line x1="728" y1="764.68" x2="743" y2="764.68" stroke="#2a2a2a" stroke-width="0.6"/>
<line x1="735.5" y1="713.31" x2="735.5" y2="715.31" stroke="#333" stroke-width="0.5"/><line x1="734.3" y1="713.31" x2="736.7" y2="713.31" stroke="#333" stroke-width="0.5"/>
<text x="735.5" y="800" font-size="5.4" text-anchor="middle" font-weight="bold" fill="#222" stroke="#222" stroke-width="0.24">NT2</text>
<rect x="744.2" y="718.26" width="15" height="71.74" fill="#1f6548" stroke="#3a3a3a" stroke-width="0.5"/>
<rect x="744.5" y="766.79" width="14.4" height="22.91" fill="url(#dots)" opacity="0.5"/>
<line x1="744.2" y1="766.79" x2="759.2" y2="766.79" stroke="#2a2a2a" stroke-width="0.6"/>
<line x1="751.7" y1="716.26" x2="751.7" y2="718.26" stroke="#333" stroke-width="0.5"/><line x1="750.5" y1="716.26" x2="752.9" y2="716.26" stroke="#333" stroke-width="0.5"/>
<text x="751.7" y="800" font-size="5.4" text-anchor="middle" font-weight="bold" fill="#222" stroke="#222" stroke-width="0.24">NT3</text>
<line x1="60.4" y1="808" x2="267.7" y2="808" stroke="#555" stroke-width="0.7"/>
<line x1="60.4" y1="808" x2="60.4" y2="950.2" stroke="#555" stroke-width="0.7"/>
<line x1="60.4" y1="950.2" x2="267.7" y2="950.2" stroke="#555" stroke-width="0.7"/>
<line x1="58.8" y1="816.7" x2="60.4" y2="816.7" stroke="#555" stroke-width="0.5"/>
<text x="57.5" y="818.6" font-size="5.2" text-anchor="end" fill="#444" stroke="#444" stroke-width="0.23">3</text>
<line x1="58.8" y1="840.8" x2="60.4" y2="840.8" stroke="#555" stroke-width="0.5"/>
<text x="57.5" y="842.7" font-size="5.2" text-anchor="end" fill="#444" stroke="#444" stroke-width="0.23">2</text>
<line x1="58.8" y1="864.9" x2="60.4" y2="864.9" stroke="#555" stroke-width="0.5"/>
<text x="57.5" y="866.8" font-size="5.2" text-anchor="end" fill="#444" stroke="#444" stroke-width="0.23">1</text>
<line x1="58.8" y1="889" x2="60.4" y2="889" stroke="#555" stroke-width="0.5"/>
<text x="57.5" y="890.9" font-size="5.2" text-anchor="end" fill="#444" stroke="#444" stroke-width="0.23">0</text>
<line x1="58.8" y1="913.1" x2="60.4" y2="913.1" stroke="#555" stroke-width="0.5"/>
<text x="57.5" y="915" font-size="5.2" text-anchor="end" fill="#444" stroke="#444" stroke-width="0.23">-1</text>
<line x1="58.8" y1="937.2" x2="60.4" y2="937.2" stroke="#555" stroke-width="0.5"/>
<text x="57.5" y="939.1" font-size="5.2" text-anchor="end" fill="#444" stroke="#444" stroke-width="0.23">-2</text>
<line x1="63.6" y1="950.2" x2="63.6" y2="951.8" stroke="#555" stroke-width="0.5"/>
<text x="63.6" y="957.5" font-size="5.2" text-anchor="middle" fill="#444" stroke="#444" stroke-width="0.23">-5.0</text>
<line x1="113.85" y1="950.2" x2="113.85" y2="951.8" stroke="#555" stroke-width="0.5"/>
<text x="113.85" y="957.5" font-size="5.2" text-anchor="middle" fill="#444" stroke="#444" stroke-width="0.23">-2.5</text>
<line x1="164.1" y1="950.2" x2="164.1" y2="951.8" stroke="#555" stroke-width="0.5"/>
<text x="164.1" y="957.5" font-size="5.2" text-anchor="middle" fill="#444" stroke="#444" stroke-width="0.23">0.0</text>
<line x1="214.35" y1="950.2" x2="214.35" y2="951.8" stroke="#555" stroke-width="0.5"/>
<text x="214.35" y="957.5" font-size="5.2" text-anchor="middle" fill="#444" stroke="#444" stroke-width="0.23">2.5</text>
<line x1="264.6" y1="950.2" x2="264.6" y2="951.8" stroke="#555" stroke-width="0.5"/>
<text x="264.6" y="957.5" font-size="5.2" text-anchor="middle" fill="#444" stroke="#444" stroke-width="0.23">5.0</text>
<text x="164" y="965.3" font-size="6.2" text-anchor="middle" fill="#333" stroke="#333" stroke-width="0.28">Dim1 (69.8%)</text>
<text x="48.8" y="879" font-size="6.2" text-anchor="middle" fill="#333" transform="rotate(-90 48.8 879)" stroke="#333" stroke-width="0.28">Dim2 (11.6%)</text>
<rect x="-47" y="-7" width="94" height="14" rx="7" transform="translate(90.3 900.1) rotate(-68.5)" fill="#f8c4b4" fill-opacity="0.9" stroke="#b87060" stroke-width="0.5" stroke-dasharray="1.6,1"/>
<ellipse cx="133.5" cy="880.8" rx="28.5" ry="5.6" transform="rotate(-22 133.5 880.8)" fill="#f4f08a" fill-opacity="0.9" stroke="#8a9a40" stroke-width="0.5" stroke-dasharray="1.6,1"/>
<ellipse cx="183" cy="901" rx="52" ry="10.5" transform="rotate(50.2 183 901)" fill="#d6efe1" fill-opacity="0.85" stroke="#7aa090" stroke-width="0.5" stroke-dasharray="1.6,1"/>
<ellipse cx="193.5" cy="871.5" rx="58.4" ry="15" transform="rotate(44.4 193.5 871.5)" fill="#9cc2aa" fill-opacity="0.75" stroke="#557a62" stroke-width="0.5" stroke-dasharray="1.6,1"/>
<ellipse cx="222.5" cy="893" rx="33.5" ry="20" transform="rotate(-35 222.5 893)" fill="#a8d6b8" fill-opacity="0.7" stroke="#557a62" stroke-width="0.5" stroke-dasharray="1.6,1"/>
<line x1="60.4" y1="889" x2="267.7" y2="889" stroke="#777" stroke-width="0.7" stroke-dasharray="2.2,1.6"/>
<line x1="164.1" y1="808" x2="164.1" y2="950.2" stroke="#777" stroke-width="0.7" stroke-dasharray="2.2,1.6"/>
<line x1="164.1" y1="889" x2="216.8" y2="840" stroke="#444" stroke-width="0.55"/>
<line x1="216.8" y1="840" x2="214.7" y2="840.65" stroke="#444" stroke-width="0.5"/>
<line x1="216.8" y1="840" x2="216" y2="842.05" stroke="#444" stroke-width="0.5"/>
<text x="217.5" y="838.5" font-size="5.4" fill="#333" stroke="#333" stroke-width="0.24">N</text>
<line x1="164.1" y1="889" x2="231.7" y2="861.5" stroke="#444" stroke-width="0.55"/>
<line x1="231.7" y1="861.5" x2="229.5" y2="861.36" stroke="#444" stroke-width="0.5"/>
<line x1="231.7" y1="861.5" x2="230.23" y2="863.13" stroke="#444" stroke-width="0.5"/>
<text x="234.5" y="860" font-size="5.4" fill="#333" stroke="#333" stroke-width="0.24">P</text>
<line x1="164.1" y1="889" x2="227.3" y2="865" stroke="#444" stroke-width="0.55" stroke-dasharray="1.5,0.8"/>
<line x1="227.3" y1="865" x2="225.11" y2="864.81" stroke="#444" stroke-width="0.5"/>
<line x1="227.3" y1="865" x2="225.79" y2="866.6" stroke="#444" stroke-width="0.5"/>
<text x="222.5" y="870.5" font-size="5.4" fill="#333" stroke="#333" stroke-width="0.24">Ca</text>
<line x1="164.1" y1="889" x2="227.3" y2="872" stroke="#444" stroke-width="0.55" stroke-dasharray="1.5,0.8"/>
<line x1="227.3" y1="872" x2="225.14" y2="871.59" stroke="#444" stroke-width="0.5"/>
<line x1="227.3" y1="872" x2="225.64" y2="873.44" stroke="#444" stroke-width="0.5"/>
<text x="230" y="878" font-size="5.4" fill="#333" stroke="#333" stroke-width="0.24">Mg</text>
<line x1="164.1" y1="889" x2="227.3" y2="888.7" stroke="#444" stroke-width="0.55"/>
<line x1="227.3" y1="888.7" x2="225.31" y2="887.75" stroke="#444" stroke-width="0.5"/>
<line x1="227.3" y1="888.7" x2="225.32" y2="889.67" stroke="#444" stroke-width="0.5"/>
<text x="230" y="890.8" font-size="5.4" fill="#333" stroke="#333" stroke-width="0.24">B</text>
<line x1="164.1" y1="889" x2="220.3" y2="894" stroke="#444" stroke-width="0.55"/>
<line x1="220.3" y1="894" x2="218.41" y2="892.87" stroke="#444" stroke-width="0.5"/>
<line x1="220.3" y1="894" x2="218.24" y2="894.78" stroke="#444" stroke-width="0.5"/>
<text x="217" y="897" font-size="5.4" fill="#333" stroke="#333" stroke-width="0.24">K</text>
<line x1="164.1" y1="889" x2="118.7" y2="838.7" stroke="#444" stroke-width="0.55"/>
<line x1="118.7" y1="838.7" x2="119.32" y2="840.81" stroke="#444" stroke-width="0.5"/>
<line x1="118.7" y1="838.7" x2="120.74" y2="839.53" stroke="#444" stroke-width="0.5"/>
<text x="122.5" y="836" font-size="5.4" fill="#333" stroke="#333" stroke-width="0.24">Fe</text>
<line x1="164.1" y1="889" x2="107.3" y2="850" stroke="#444" stroke-width="0.55"/>
<line x1="107.3" y1="850" x2="108.39" y2="851.91" stroke="#444" stroke-width="0.5"/>
<line x1="107.3" y1="850" x2="109.47" y2="850.33" stroke="#444" stroke-width="0.5"/>
<text x="100" y="853.5" font-size="5.4" fill="#333" stroke="#333" stroke-width="0.24">Zn</text>
<line x1="164.1" y1="889" x2="102" y2="865.9" stroke="#444" stroke-width="0.55"/>
<line x1="102" y1="865.9" x2="103.52" y2="867.49" stroke="#444" stroke-width="0.5"/>
<line x1="102" y1="865.9" x2="104.19" y2="865.69" stroke="#444" stroke-width="0.5"/>
<text x="94.5" y="867.5" font-size="5.4" fill="#333" stroke="#333" stroke-width="0.24">Mn</text>
<line x1="164.1" y1="889" x2="99" y2="871" stroke="#444" stroke-width="0.55" stroke-dasharray="1.5,0.8"/>
<line x1="99" y1="871" x2="100.65" y2="872.45" stroke="#444" stroke-width="0.5"/>
<line x1="99" y1="871" x2="101.16" y2="870.61" stroke="#444" stroke-width="0.5"/>
<line x1="164.1" y1="889" x2="100.3" y2="873.8" stroke="#444" stroke-width="0.55" stroke-dasharray="1.5,0.8"/>
<line x1="100.3" y1="873.8" x2="102.01" y2="875.19" stroke="#444" stroke-width="0.5"/>
<line x1="100.3" y1="873.8" x2="102.45" y2="873.33" stroke="#444" stroke-width="0.5"/>
<text x="92" y="877.5" font-size="5.4" fill="#333" stroke="#333" stroke-width="0.24">Cu</text>
<circle cx="90.6" cy="899.6" r="3.6" fill="#f06a3a" stroke="#333" stroke-width="0.35"/>
<circle cx="80.6" cy="930.9" r="2.1" fill="#e8704a" stroke="#333" stroke-width="0.35"/>
<circle cx="102.9" cy="865.9" r="2.1" fill="#e0603a" stroke="#333" stroke-width="0.35"/>
<circle cx="134.5" cy="882.9" r="3.3" fill="#e8e020" stroke="#333" stroke-width="0.35"/>
<circle cx="108.8" cy="890.8" r="1.9" fill="#e0e030" stroke="#333" stroke-width="0.35"/>
<circle cx="147.7" cy="882" r="1.9" fill="#d8d838" stroke="#333" stroke-width="0.35"/>
<circle cx="147.7" cy="875" r="1.9" fill="#d8d838" stroke="#333" stroke-width="0.35"/>
<circle cx="179" cy="901" r="3.5" fill="#8ed6b0" stroke="#333" stroke-width="0.35"/>
<circle cx="212" cy="939" r="1.9" fill="#8ed6b0" stroke="#333" stroke-width="0.35"/>
<circle cx="171" cy="862" r="1.9" fill="#8ed6b0" stroke="#333" stroke-width="0.35"/>
<circle cx="193" cy="871.5" r="3.6" fill="#1f6a45" stroke="#333" stroke-width="0.35"/>
<circle cx="154" cy="841.5" r="2" fill="#1f6a45" stroke="#333" stroke-width="0.35"/>
<circle cx="201.9" cy="863.2" r="2" fill="#1f6a45" stroke="#333" stroke-width="0.35"/>
<circle cx="223.5" cy="889.6" r="3.6" fill="#1f6a45" stroke="#333" stroke-width="0.35"/>
<circle cx="247.8" cy="869" r="2" fill="#2a8a5a" stroke="#333" stroke-width="0.35"/>
<circle cx="199.7" cy="890" r="2" fill="#2a8a5a" stroke="#333" stroke-width="0.35"/>
<circle cx="222.8" cy="910" r="2" fill="#1f6a45" stroke="#333" stroke-width="0.35"/>
<rect x="387.7" y="824.1" width="137.3" height="137.9" fill="#fff" stroke="#888" stroke-width="0.6"/>
<line x1="385.8" y1="962" x2="387.7" y2="962" stroke="#666" stroke-width="0.5"/>
<text x="385.2" y="965" font-size="8.6" text-anchor="end" fill="#333" stroke="#333" stroke-width="0.39">3.0</text>
<line x1="385.8" y1="944.76" x2="387.7" y2="944.76" stroke="#666" stroke-width="0.5"/>
<text x="385.2" y="947.76" font-size="8.6" text-anchor="end" fill="#333" stroke="#333" stroke-width="0.39">3.5</text>
<line x1="385.8" y1="927.52" x2="387.7" y2="927.52" stroke="#666" stroke-width="0.5"/>
<text x="385.2" y="930.52" font-size="8.6" text-anchor="end" fill="#333" stroke="#333" stroke-width="0.39">4.0</text>
<line x1="385.8" y1="910.29" x2="387.7" y2="910.29" stroke="#666" stroke-width="0.5"/>
<text x="385.2" y="913.29" font-size="8.6" text-anchor="end" fill="#333" stroke="#333" stroke-width="0.39">4.5</text>
<line x1="385.8" y1="893.05" x2="387.7" y2="893.05" stroke="#666" stroke-width="0.5"/>
<text x="385.2" y="896.05" font-size="8.6" text-anchor="end" fill="#333" stroke="#333" stroke-width="0.39">5.0</text>
<line x1="385.8" y1="875.81" x2="387.7" y2="875.81" stroke="#666" stroke-width="0.5"/>
<text x="385.2" y="878.81" font-size="8.6" text-anchor="end" fill="#333" stroke="#333" stroke-width="0.39">5.5</text>
<line x1="385.8" y1="858.58" x2="387.7" y2="858.58" stroke="#666" stroke-width="0.5"/>
<text x="385.2" y="861.58" font-size="8.6" text-anchor="end" fill="#333" stroke="#333" stroke-width="0.39">6.0</text>
<line x1="385.8" y1="841.34" x2="387.7" y2="841.34" stroke="#666" stroke-width="0.5"/>
<text x="385.2" y="844.34" font-size="8.6" text-anchor="end" fill="#333" stroke="#333" stroke-width="0.39">6.5</text>
<line x1="385.8" y1="824.1" x2="387.7" y2="824.1" stroke="#666" stroke-width="0.5"/>
<text x="385.2" y="827.1" font-size="8.6" text-anchor="end" fill="#333" stroke="#333" stroke-width="0.39">7.0</text>
<text x="372.3" y="893.3" font-size="9.4" text-anchor="middle" font-weight="bold" fill="#222" transform="rotate(-90 372.3 893.3)" stroke="#222" stroke-width="0.42">Soil pH</text>
<text x="364.5" y="814" font-size="7.6" fill="#222" stroke="#222" stroke-width="0.34">(a)</text>
<rect x="392.3" y="894.77" width="23.6" height="67.23" fill="#fb6e3c" stroke="#3a3a3a" stroke-width="0.7"/>
<line x1="401.1" y1="894.07" x2="407.1" y2="894.07" stroke="#333" stroke-width="0.8"/>
<text x="404.1" y="891.57" font-size="8.2" text-anchor="middle" fill="#333" stroke="#333" stroke-width="0.37">c</text>
<text x="404.1" y="971.3" font-size="8.6" text-anchor="middle" font-weight="bold" fill="#1a1a1a" stroke="#1a1a1a" stroke-width="0.39">CT</text>
<rect x="418.1" y="893.05" width="23.7" height="68.95" fill="#f2e408" stroke="#3a3a3a" stroke-width="0.7"/>
<line x1="426.95" y1="892.35" x2="432.95" y2="892.35" stroke="#333" stroke-width="0.8"/>
<text x="429.95" y="889.85" font-size="8.2" text-anchor="middle" fill="#333" stroke="#333" stroke-width="0.37">c</text>
<text x="429.95" y="971.3" font-size="8.6" text-anchor="middle" font-weight="bold" fill="#1a1a1a" stroke="#1a1a1a" stroke-width="0.39">RT</text>
<rect x="444.5" y="887.19" width="23.9" height="74.81" fill="#86d6ab" stroke="#3a3a3a" stroke-width="0.7"/>
<line x1="453.45" y1="886.49" x2="459.45" y2="886.49" stroke="#333" stroke-width="0.8"/>
<text x="456.45" y="883.99" font-size="8.2" text-anchor="middle" fill="#333" stroke="#333" stroke-width="0.37">b</text>
<text x="456.45" y="971.3" font-size="8.6" text-anchor="middle" font-weight="bold" fill="#1a1a1a" stroke="#1a1a1a" stroke-width="0.39">NT1</text>
<rect x="471.2" y="883.05" width="23.4" height="78.95" fill="#2f9866" stroke="#3a3a3a" stroke-width="0.7"/>
<line x1="479.9" y1="882.35" x2="485.9" y2="882.35" stroke="#333" stroke-width="0.8"/>
<text x="482.9" y="879.85" font-size="8.2" text-anchor="middle" fill="#333" stroke="#333" stroke-width="0.37">a</text>
<text x="482.9" y="971.3" font-size="8.6" text-anchor="middle" font-weight="bold" fill="#1a1a1a" stroke="#1a1a1a" stroke-width="0.39">NT2</text>
<rect x="497.2" y="883.74" width="23.8" height="78.26" fill="#1f6548" stroke="#3a3a3a" stroke-width="0.7"/>
<line x1="506.1" y1="883.04" x2="512.1" y2="883.04" stroke="#333" stroke-width="0.8"/>
<text x="509.1" y="880.54" font-size="8.2" text-anchor="middle" fill="#333" stroke="#333" stroke-width="0.37">a</text>
<text x="509.1" y="971.3" font-size="8.6" text-anchor="middle" font-weight="bold" fill="#1a1a1a" stroke="#1a1a1a" stroke-width="0.39">NT3</text>
<line x1="387.7" y1="875.7" x2="525" y2="875.7" stroke="#e06060" stroke-width="0.8" stroke-dasharray="2.6,1.6"/>
<line x1="437.5" y1="875.2" x2="455.5" y2="851" stroke="#c03030" stroke-width="0.6"/>
<polygon points="455.5,851 452.6,853.2 454.6,854.4" fill="#c03030"/>
<text x="455.5" y="847.6" font-size="4.7" text-anchor="middle" fill="#d03838" stroke="#d03838" stroke-width="0.21">Minimum pH for healthy crop growth</text>
<text x="548.3" y="812.5" font-size="7.6" font-weight="bold" fill="#222" stroke="#222" stroke-width="0.34">(b)</text>
<line x1="654.7" y1="881.7" x2="672.5" y2="881.7" stroke="#444" stroke-width="0.6"/>
<line x1="657.2" y1="847.93" x2="659" y2="846" stroke="#555" stroke-width="0.5"/>
<line x1="626.75" y1="822.5" x2="628" y2="820" stroke="#555" stroke-width="0.5"/>
<line x1="586.97" y1="825.59" x2="585.5" y2="821" stroke="#555" stroke-width="0.5"/>
<line x1="554.41" y1="846.14" x2="552" y2="845" stroke="#555" stroke-width="0.5"/>
<line x1="553.6" y1="881.7" x2="537.3" y2="881.7" stroke="#444" stroke-width="0.6"/>
<line x1="637.15" y1="905.77" x2="657" y2="918.5" stroke="#555" stroke-width="0.5"/>
<line x1="622.4" y1="926.51" x2="627" y2="945" stroke="#555" stroke-width="0.5"/>
<line x1="594.85" y1="920.34" x2="588.5" y2="944" stroke="#555" stroke-width="0.5"/>
<line x1="563.15" y1="913.96" x2="552" y2="920" stroke="#555" stroke-width="0.5"/>
<path d="M612.2,881.7 C625.4,890.8 649.64,889.76 655.7,881.7 C649.64,873.64 625.4,872.6 612.2,881.7Z" fill="#6cb88e" stroke="#fff" stroke-width="0.4"/>
<text x="641.56" y="882.7" font-size="4.2" text-anchor="middle" fill="#e8f4ee" stroke="#e8f4ee" stroke-width="0.19">0.61</text>
<text x="641.56" y="886.2" font-size="3.6" text-anchor="middle" fill="#e8f4ee" stroke="#e8f4ee" stroke-width="0.16">***</text>
<text x="675.5" y="884" font-size="6" text-anchor="middle" font-weight="bold" fill="#222" stroke="#222" stroke-width="0.27">B</text>
<path d="M611.07,877.89 C632.05,876.78 656.76,859.3 658.04,847.39 C646.63,843.71 620.62,859.17 611.07,877.89Z" fill="#4ea676" stroke="#fff" stroke-width="0.4"/>
<text x="643.24" y="858" font-size="4.2" text-anchor="middle" fill="#e8f4ee" stroke="#e8f4ee" stroke-width="0.19">0.49</text>
<text x="643.24" y="861.5" font-size="3.6" text-anchor="middle" fill="#e8f4ee" stroke="#e8f4ee" stroke-width="0.16">***</text>
<text x="661.5" y="845" font-size="6" text-anchor="middle" font-weight="bold" fill="#222" stroke="#222" stroke-width="0.27">N</text>
<path d="M607.59,875.12 C623.82,861.24 633.2,831.96 627.09,821.56 C615.72,825.6 604.09,854.05 607.59,875.12Z" fill="#4ea676" stroke="#fff" stroke-width="0.4"/>
<text x="620.96" y="839.4" font-size="4.2" text-anchor="middle" fill="#e8f4ee" stroke="#e8f4ee" stroke-width="0.19">0.84</text>
<text x="620.96" y="842.9" font-size="3.6" text-anchor="middle" fill="#e8f4ee" stroke="#e8f4ee" stroke-width="0.16">***</text>
<text x="629" y="817.5" font-size="6" text-anchor="middle" font-weight="bold" fill="#222" stroke="#222" stroke-width="0.27">P</text>
<path d="M603.04,875.04 C607.77,855.63 597.73,828.61 586.66,824.64 C580.04,834.36 587.8,862.12 603.04,875.04Z" fill="#50a777" stroke="#fff" stroke-width="0.4"/>
<text x="591.85" y="841.61" font-size="4.2" text-anchor="middle" fill="#e8f4ee" stroke="#e8f4ee" stroke-width="0.19">0.82</text>
<text x="591.85" y="845.11" font-size="3.6" text-anchor="middle" fill="#e8f4ee" stroke="#e8f4ee" stroke-width="0.16">***</text>
<text x="584" y="818" font-size="6" text-anchor="middle" font-weight="bold" fill="#222" stroke="#222" stroke-width="0.27">Ca</text>
<path d="M599.47,877.68 C590.58,858.64 565.12,842.28 553.59,845.56 C554.45,857.52 578.53,875.85 599.47,877.68Z" fill="#50a777" stroke="#fff" stroke-width="0.4"/>
<text x="568.04" y="856.68" font-size="4.2" text-anchor="middle" fill="#e8f4ee" stroke="#e8f4ee" stroke-width="0.19">0.80</text>
<text x="568.04" y="860.18" font-size="3.6" text-anchor="middle" fill="#e8f4ee" stroke="#e8f4ee" stroke-width="0.16">***</text>
<text x="546.5" y="844" font-size="6" text-anchor="middle" font-weight="bold" fill="#222" stroke="#222" stroke-width="0.27">Mg</text>
<path d="M598.2,881.7 C584.16,872.6 558.91,873.64 552.6,881.7 C558.91,889.76 584.16,890.8 598.2,881.7Z" fill="#6cb88e" stroke="#fff" stroke-width="0.4"/>
<text x="567.33" y="882.7" font-size="4.2" text-anchor="middle" fill="#e8f4ee" stroke="#e8f4ee" stroke-width="0.19">0.72</text>
<text x="567.33" y="886.2" font-size="3.6" text-anchor="middle" fill="#e8f4ee" stroke="#e8f4ee" stroke-width="0.16">***</text>
<text x="533.8" y="884.5" font-size="6" text-anchor="middle" font-weight="bold" fill="#222" stroke="#222" stroke-width="0.27">K</text>
<path d="M610.79,885.91 C612.82,898.84 629.16,909.85 637.94,906.37 C638.87,896.98 623.77,884.3 610.79,885.91Z" fill="#e8908e" stroke="#fff" stroke-width="0.4"/>
<text x="628.78" y="900.47" font-size="4.2" text-anchor="middle" fill="#e8f4ee" stroke="#e8f4ee" stroke-width="0.19">-0.45</text>
<text x="628.78" y="903.97" font-size="3.6" text-anchor="middle" fill="#e8f4ee" stroke="#e8f4ee" stroke-width="0.16">***</text>
<text x="661.5" y="924" font-size="6" text-anchor="middle" font-weight="bold" fill="#222" stroke="#222" stroke-width="0.27">Zn</text>
<path d="M607.71,888.24 C603.73,903.26 613.13,924.84 622.76,927.45 C628.18,919.07 620.72,896.74 607.71,888.24Z" fill="#dd5a5c" stroke="#fff" stroke-width="0.4"/>
<text x="617.84" y="915.64" font-size="4.2" text-anchor="middle" fill="#e8f4ee" stroke="#e8f4ee" stroke-width="0.19">-0.73</text>
<text x="617.84" y="919.14" font-size="3.6" text-anchor="middle" fill="#e8f4ee" stroke="#e8f4ee" stroke-width="0.16">***</text>
<text x="628" y="952" font-size="6" text-anchor="middle" font-weight="bold" fill="#222" stroke="#222" stroke-width="0.27">Mn</text>
<path d="M603.39,888.46 C592.17,895.19 588.08,914.46 594.59,921.3 C603.65,918.64 609.75,899.9 603.39,888.46Z" fill="#eea4a4" stroke="#fff" stroke-width="0.4"/>
<text x="597.56" y="911.21" font-size="4.2" text-anchor="middle" fill="#e8f4ee" stroke="#e8f4ee" stroke-width="0.19">-0.38</text>
<text x="597.56" y="914.71" font-size="3.6" text-anchor="middle" fill="#e8f4ee" stroke="#e8f4ee" stroke-width="0.16">***</text>
<text x="584.5" y="952" font-size="6" text-anchor="middle" font-weight="bold" fill="#222" stroke="#222" stroke-width="0.27">Fe</text>
<path d="M599.65,885.96 C582.52,887.63 562.59,904.23 562.36,914.57 C572.41,917.02 593.6,902.07 599.65,885.96Z" fill="#de6062" stroke="#fff" stroke-width="0.4"/>
<text x="574.35" y="906.37" font-size="4.2" text-anchor="middle" fill="#e8f4ee" stroke="#e8f4ee" stroke-width="0.19">-0.71</text>
<text x="574.35" y="909.87" font-size="3.6" text-anchor="middle" fill="#e8f4ee" stroke="#e8f4ee" stroke-width="0.16">***</text>
<text x="545.5" y="924" font-size="6" text-anchor="middle" font-weight="bold" fill="#222" stroke="#222" stroke-width="0.27">Cu</text>
<circle cx="605.2" cy="881.7" r="10" fill="#2b2b2b"/>
<text x="605.2" y="883.9" font-size="6.2" text-anchor="middle" fill="#eee" stroke="#eee" stroke-width="0.28">pH</text>
<linearGradient id="cb" x1="0" x2="1" y1="0" y2="0"><stop offset="0" stop-color="#d9343a"/><stop offset="0.5" stop-color="#f4f4f4"/><stop offset="1" stop-color="#2f9a63"/></linearGradient>
<rect x="573" y="957" width="63.8" height="5.4" fill="url(#cb)"/>
<text x="573" y="968.3" font-size="3.8" text-anchor="middle" fill="#444" stroke="#444" stroke-width="0.17">-1.0</text>
<text x="588.95" y="968.3" font-size="3.8" text-anchor="middle" fill="#444" stroke="#444" stroke-width="0.17">-0.5</text>
<text x="604.9" y="968.3" font-size="3.8" text-anchor="middle" fill="#444" stroke="#444" stroke-width="0.17">0.0</text>
<text x="620.85" y="968.3" font-size="3.8" text-anchor="middle" fill="#444" stroke="#444" stroke-width="0.17">0.5</text>
<text x="636.8" y="968.3" font-size="3.8" text-anchor="middle" fill="#444" stroke="#444" stroke-width="0.17">1.0</text>
<text x="605" y="975.2" font-size="4.4" text-anchor="middle" fill="#444" stroke="#444" stroke-width="0.2">Pearson r</text></svg>
</body></html>
